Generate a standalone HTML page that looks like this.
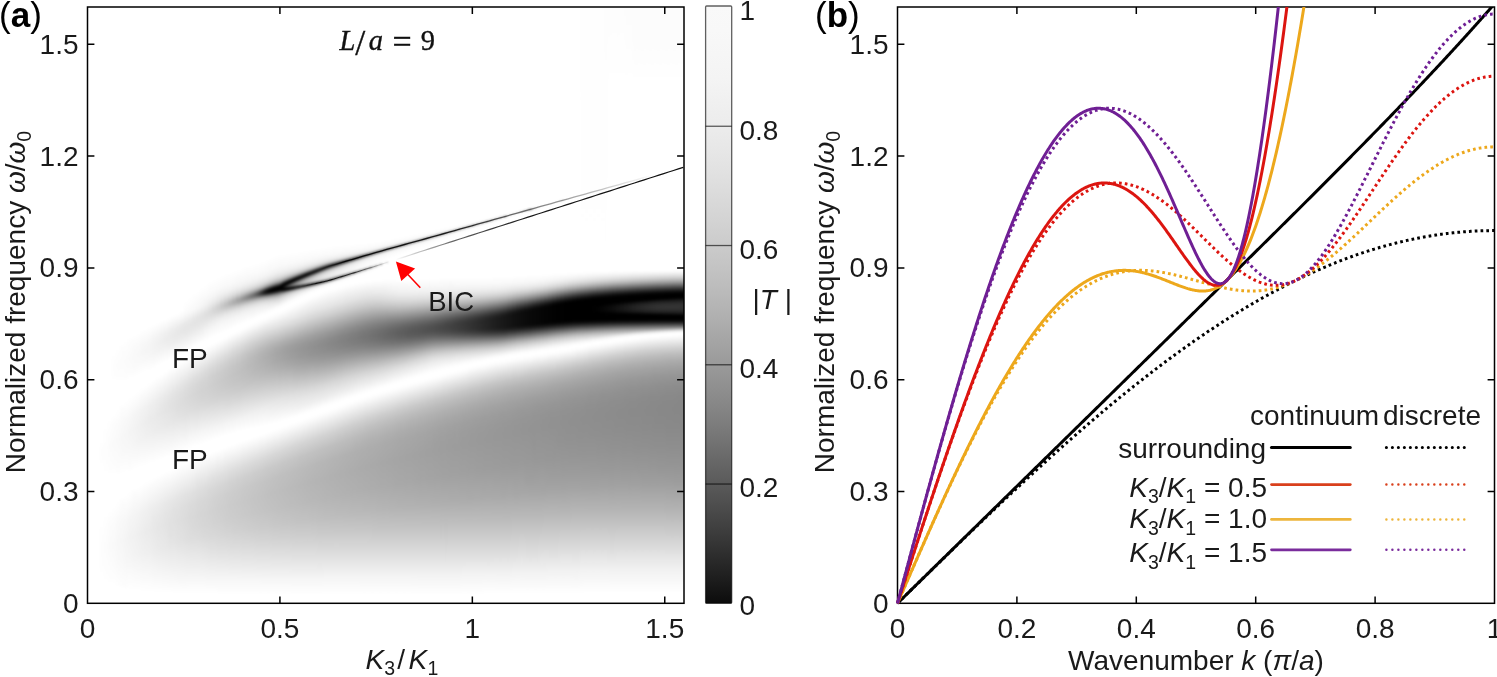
<!DOCTYPE html>
<html><head><meta charset="utf-8"><title>fig</title>
<style>
html,body{margin:0;padding:0;background:#fff;}
body{width:1497px;height:677px;position:relative;overflow:hidden;font-family:"Liberation Sans",sans-serif;}
#hmw{position:absolute;left:88px;top:7px;width:596px;height:596px;overflow:hidden;}
#hm{position:absolute;left:-6px;top:-6px;width:608px;height:608px;display:flex;filter:blur(0.9px);}
#hm i{display:block;flex:none;height:100%;}
svg{position:absolute;left:0;top:0;will-change:transform;}
text{font-family:"Liberation Sans",sans-serif;font-size:28px;fill:#1a1a1a;}
.it{font-style:italic;}
.sub{font-size:19.5px;}
.ser{font-family:"Liberation Serif",serif;font-style:italic;}
</style></head><body>
<div id="hmw"><div id="hm"><i style="width:10px;background:linear-gradient(#fff 1.069%,#fff 98.93%)"></i><i style="width:4px;background:linear-gradient(#fff 1.069%,#fff 98.93%)"></i><i style="width:4px;background:linear-gradient(#fff 1.069%,#fff 98.93%)"></i><i style="width:4px;background:linear-gradient(#fff 1.069%,#fff 72.62%,#fefefe 72.78%,#fdfdfd 74.26%,#fefefe 75.9%,#fff 76.07%,#fff 86.43%,#fefefe 86.6%,#fdfdfd 90.21%,#fefefe 93.83%,#fff 94%,#fff 98.93%)"></i><i style="width:4px;background:linear-gradient(#fff 1.069%,#fff 70.31%,#fefefe 70.48%,#fdfdfd 73.77%,#fefefe 77.22%,#fff 77.38%,#fff 84.79%,#fefefe 84.95%,#fcfcfc 89.88%,#fefefe 94.98%,#fff 95.15%,#fff 98.93%)"></i><i style="width:4px;background:linear-gradient(#fff 1.069%,#fff 69%,#fefefe 69.16%,#fbfbfb 73.27%,#fefefe 77.55%,#fff 77.71%,#fff 83.8%,#fcfcfc 85.77%,#fafafa 89.56%,#fefefe 95.48%,#fff 95.64%,#fff 98.93%)"></i><i style="width:4px;background:linear-gradient(#fff 1.069%,#fff 58.31%,#fefefe 58.47%,#fdfdfd 60.28%,#fefefe 62.09%,#fff 62.25%,#fff 68.01%,#fcfcfc 69.49%,#fafafa 72.78%,#fcfcfc 76.07%,#fff 77.88%,#fff 82.98%,#fbfbfb 85.94%,#f9f9f9 89.39%,#fbfbfb 92.85%,#fff 96.13%,#fff 98.93%)"></i><i style="width:4px;background:linear-gradient(#fff 1.069%,#fff 57.32%,#fefefe 57.48%,#fcfcfc 59.95%,#fefefe 62.25%,#fff 62.42%,#fff 67.19%,#fbfbfb 69.49%,#f9f9f9 72.29%,#fbfbfb 75.25%,#fdfdfd 77.55%,#fff 77.71%,#fff 82.32%,#f9f9f9 85.77%,#f7f7f7 89.06%,#f9f9f9 92.35%,#fefefe 96.13%,#fff 96.3%,#fff 98.93%)"></i><i style="width:4px;background:linear-gradient(#fff 1.069%,#fff 56.66%,#fdfdfd 56.83%,#fcfcfc 59.62%,#fefefe 62.25%,#fff 62.42%,#fff 66.53%,#fdfdfd 66.69%,#f9f9f9 69.33%,#f7f7f7 71.96%,#f9f9f9 74.59%,#fff 77.71%,#fff 81.83%,#fdfdfd 81.99%,#f8f8f8 85.44%,#f6f6f6 88.73%,#f8f8f8 92.02%,#fdfdfd 96.3%,#fff 96.46%,#fff 98.93%)"></i><i style="width:4px;background:linear-gradient(#fff 1.069%,#fff 56%,#fefefe 56.17%,#fbfbfb 59.13%,#fdfdfd 62.09%,#fff 62.25%,#fff 65.87%,#f8f8f8 69%,#f6f6f6 71.46%,#f8f8f8 73.93%,#fff 77.55%,#fff 81.17%,#f7f7f7 85.28%,#f4f4f4 88.57%,#f6f6f6 91.86%,#fdfdfd 96.46%,#fff 96.63%,#fff 98.93%)"></i><i style="width:4px;background:linear-gradient(#fff 1.069%,#fff 55.51%,#fdfdfd 55.67%,#fafafa 58.8%,#fcfcfc 60.77%,#fff 62.09%,#fff 65.21%,#f7f7f7 68.5%,#f4f4f4 70.97%,#f7f7f7 73.44%,#fdfdfd 77.06%,#fff 77.22%,#fff 80.67%,#f5f5f5 84.95%,#f2f2f2 88.24%,#f5f5f5 91.53%,#fff 96.79%,#fff 98.93%)"></i><i style="width:4px;background:linear-gradient(#fff 1.069%,#fff 55.02%,#fafafa 56.83%,#f9f9f9 58.47%,#fafafa 60.12%,#fff 61.92%,#fff 64.72%,#f5f5f5 68.17%,#f3f3f3 70.48%,#f5f5f5 72.94%,#fff 77.06%,#fff 80.35%,#fdfdfd 80.51%,#f4f4f4 84.62%,#f1f1f1 88.08%,#f3f3f3 91.2%,#fff 96.96%,#fff 98.93%)"></i><i style="width:4px;background:linear-gradient(#fff 1.069%,#fff 54.69%,#fafafa 56.5%,#f8f8f8 58.14%,#fafafa 59.79%,#fff 61.6%,#fff 64.23%,#f4f4f4 67.68%,#f1f1f1 70.15%,#f3f3f3 72.45%,#fff 76.89%,#fff 79.85%,#f3f3f3 84.29%,#efefef 87.75%,#f2f2f2 91.04%,#fff 96.96%,#fff 98.93%)"></i><i style="width:4px;background:linear-gradient(#fff 1.069%,#fff 54.19%,#f8f8f8 56.33%,#f6f6f6 57.81%,#f9f9f9 59.29%,#fff 61.27%,#fff 63.57%,#f2f2f2 67.35%,#efefef 69.65%,#f2f2f2 72.12%,#fff 76.56%,#fff 79.52%,#f1f1f1 84.13%,#ededed 87.58%,#f0f0f0 90.87%,#fff 97.12%,#fff 98.93%)"></i><i style="width:4px;background:linear-gradient(#fff 1.069%,#fff 53.87%,#f7f7f7 56.17%,#f5f5f5 57.48%,#f8f8f8 58.96%,#fff 60.94%,#fff 63.24%,#f1f1f1 66.86%,#ededed 69.33%,#f0f0f0 71.63%,#fff 76.4%,#fff 79.03%,#f0f0f0 83.8%,#ebebeb 87.25%,#efefef 90.71%,#fff 97.12%,#fff 98.93%)"></i><i style="width:4px;background:linear-gradient(#fff 1.069%,#fff 53.54%,#f6f6f6 55.84%,#f4f4f4 56.99%,#f6f6f6 58.31%,#fff 60.77%,#fff 62.75%,#efefef 66.53%,#ebebeb 68.83%,#efefef 71.3%,#fff 76.07%,#fff 78.7%,#eee 83.63%,#eaeaea 87.09%,#eee 90.54%,#fff 97.12%,#fff 98.93%)"></i><i style="width:4px;background:linear-gradient(#fff 1.069%,#fff 53.21%,#f4f4f4 55.51%,#f2f2f2 56.66%,#f4f4f4 57.98%,#fff 60.44%,#fff 62.25%,#eee 66.04%,#eaeaea 68.5%,#ededed 70.81%,#fff 75.9%,#fff 78.37%,#ededed 83.31%,#e9e9e9 85.12%,#e8e8e8 86.92%,#ececec 90.38%,#fff 97.29%,#fff 98.93%)"></i><i style="width:4px;background:linear-gradient(#fff 1.069%,#fff 52.88%,#f3f3f3 55.18%,#f0f0f0 56.33%,#f3f3f3 57.65%,#fff 59.95%,#fff 61.76%,#ececec 65.71%,#e8e8e8 68.01%,#ececec 70.48%,#fff 75.58%,#fff 78.04%,#ececec 82.98%,#e8e8e8 84.79%,#e6e6e6 86.6%,#eaeaea 90.05%,#fff 97.29%,#fff 98.93%)"></i><i style="width:4px;background:linear-gradient(#fff 1.069%,#fff 52.55%,#f1f1f1 54.85%,#eee 56%,#f2f2f2 57.32%,#fff 59.62%,#fff 61.43%,#ebebeb 65.21%,#e7e7e7 66.53%,#e6e6e6 67.68%,#eaeaea 69.98%,#fff 75.41%,#fff 77.71%,#eaeaea 82.81%,#e6e6e6 84.62%,#e5e5e5 86.43%,#e9e9e9 90.05%,#fff 97.29%,#fff 98.93%)"></i><i style="width:4px;background:linear-gradient(#fff 1.069%,#fff 52.38%,#f0f0f0 54.52%,#ececec 55.67%,#f0f0f0 56.83%,#fff 59.29%,#fff 60.94%,#e9e9e9 64.88%,#e5e5e5 66.2%,#e4e4e4 67.35%,#e9e9e9 69.82%,#fff 75.08%,#fff 77.38%,#e8e8e8 82.65%,#e4e4e4 84.46%,#e3e3e3 86.27%,#e8e8e8 89.88%,#fff 97.29%,#fff 98.93%)"></i><i style="width:4px;background:linear-gradient(#fff 1.069%,#fff 52.06%,#ededed 54.36%,#ebebeb 55.35%,#eee 56.5%,#fff 58.96%,#fff 60.44%,#e8e8e8 64.39%,#e3e3e3 65.71%,#e2e2e2 66.86%,#e7e7e7 69.33%,#fff 74.92%,#fff 77.22%,#e7e7e7 82.32%,#e3e3e3 84.13%,#e1e1e1 85.94%,#e2e2e2 87.75%,#e6e6e6 89.72%,#fff 97.29%,#fff 98.93%)"></i><i style="width:4px;background:linear-gradient(#fff 1.069%,#fff 51.73%,#ececec 54.03%,#e9e9e9 55.02%,#ededed 56.17%,#fff 58.63%,#fff 60.12%,#e6e6e6 64.06%,#e2e2e2 65.21%,#e0e0e0 66.53%,#e5e5e5 69%,#fff 74.59%,#fff 76.89%,#e6e6e6 81.99%,#e1e1e1 83.8%,#e0e0e0 85.77%,#e4e4e4 89.06%,#fff 97.45%,#fff 98.93%)"></i><i style="width:4px;background:linear-gradient(#fff 1.069%,#fff 51.4%,#f9f9f9 52.22%,#ececec 53.54%,#e7e7e7 54.52%,#ebebeb 55.67%,#fff 58.31%,#fff 59.62%,#e4e4e4 63.73%,#e0e0e0 64.88%,#dedede 66.2%,#dfdfdf 67.35%,#e4e4e4 68.67%,#fff 74.26%,#fff 76.56%,#e4e4e4 81.83%,#e0e0e0 83.63%,#dedede 85.61%,#e2e2e2 88.9%,#fff 97.45%,#fff 98.93%)"></i><i style="width:4px;background:linear-gradient(#fff 1.069%,#fff 50.9%,#f9f9f9 51.89%,#e9e9e9 53.37%,#e6e6e6 54.19%,#ebebeb 55.35%,#fff 57.98%,#fff 59.29%,#e3e3e3 63.24%,#dedede 64.56%,#dcdcdc 65.87%,#dedede 67.02%,#e2e2e2 68.34%,#f6f6f6 72.12%,#fff 74.1%,#fff 76.23%,#e3e3e3 81.5%,#dedede 83.47%,#ddd 85.44%,#e1e1e1 88.73%,#fff 97.45%,#fff 98.93%)"></i><i style="width:4px;background:linear-gradient(#fff 1.069%,#fff 49.42%,#fbfbfb 51.23%,#e8e8e8 53.04%,#e5e5e5 53.87%,#e9e9e9 54.85%,#fff 57.65%,#fff 58.96%,#e1e1e1 62.91%,#dcdcdc 64.06%,#dadada 65.38%,#dcdcdc 66.69%,#e0e0e0 68.01%,#fff 73.77%,#fff 76.07%,#e2e2e2 81.17%,#ddd 82.98%,#dbdbdb 85.12%,#dfdfdf 88.57%,#fff 97.45%,#fff 98.93%)"></i><i style="width:4px;background:linear-gradient(#fff 1.069%,#fff 48.77%,#fafafa 50.9%,#f6f6f6 51.4%,#e9e9e9 52.55%,#e5e5e5 53.37%,#e8e8e8 54.36%,#fff 57.32%,#fff 58.47%,#dfdfdf 62.58%,#dadada 63.73%,#d8d8d8 65.05%,#dadada 66.37%,#dfdfdf 67.68%,#f6f6f6 71.63%,#fff 73.6%,#fff 75.74%,#e1e1e1 81%,#dbdbdb 82.81%,#d9d9d9 84.95%,#dbdbdb 86.76%,#dedede 88.57%,#f9f9f9 95.64%,#fff 97.45%,#fff 98.93%)"></i><i style="width:4px;background:linear-gradient(#fff 1.069%,#fff 48.11%,#f9f9f9 50.58%,#f5f5f5 51.07%,#e7e7e7 52.22%,#e4e4e4 53.04%,#e8e8e8 54.03%,#fff 56.83%,#fff 58.14%,#dedede 62.09%,#d8d8d8 63.4%,#d6d6d6 64.72%,#d8d8d8 66.04%,#ddd 67.35%,#f5f5f5 71.3%,#fff 73.27%,#fff 75.41%,#dfdfdf 80.84%,#dadada 82.65%,#d8d8d8 84.79%,#d9d9d9 86.6%,#ddd 88.4%,#f9f9f9 95.64%,#fff 97.45%,#fff 98.93%)"></i><i style="width:4px;background:linear-gradient(#fff 1.069%,#fff 47.62%,#f8f8f8 50.25%,#f4f4f4 50.74%,#e6e6e6 51.89%,#e3e3e3 52.55%,#e7e7e7 53.54%,#fff 56.5%,#fff 57.81%,#ddd 61.76%,#d6d6d6 63.08%,#d4d4d4 64.39%,#d6d6d6 65.71%,#dbdbdb 67.02%,#f5f5f5 71.13%,#fff 73.11%,#fff 75.25%,#e5e5e5 79.19%,#dedede 80.51%,#d8d8d8 82.48%,#d6d6d6 84.62%,#d8d8d8 86.43%,#dcdcdc 88.24%,#f9f9f9 95.64%,#fff 97.45%,#fff 98.93%)"></i><i style="width:4px;background:linear-gradient(#fff 1.069%,#fff 47.12%,#f6f6f6 49.92%,#f2f2f2 50.41%,#e4e4e4 51.56%,#e2e2e2 52.06%,#e5e5e5 52.88%,#fff 56.17%,#fff 57.32%,#f8f8f8 58.31%,#e4e4e4 60.28%,#dbdbdb 61.43%,#d4d4d4 62.75%,#d2d2d2 64.06%,#d4d4d4 65.38%,#dadada 66.69%,#f6f6f6 70.97%,#fff 72.94%,#fff 74.92%,#e4e4e4 79.03%,#ddd 80.35%,#d7d7d7 82.15%,#d5d5d5 84.29%,#d6d6d6 86.1%,#dadada 88.08%,#f9f9f9 95.64%,#fff 97.45%,#fff 98.93%)"></i><i style="width:4px;background:linear-gradient(#fff 1.069%,#fff 46.63%,#fafafa 48.44%,#f5f5f5 49.42%,#f0f0f0 50.08%,#e1e1e1 51.23%,#dfdfdf 51.73%,#e3e3e3 52.38%,#f4f4f4 54.19%,#fff 55.84%,#fff 56.99%,#f7f7f7 57.98%,#e3e3e3 59.95%,#d9d9d9 61.1%,#d3d3d3 62.42%,#d1d1d1 63.73%,#d3d3d3 65.05%,#d8d8d8 66.37%,#f5f5f5 70.64%,#fff 72.62%,#fff 74.59%,#dcdcdc 80.02%,#d6d6d6 81.99%,#d4d4d4 84.13%,#d5d5d5 86.1%,#d9d9d9 88.08%,#f8f8f8 95.48%,#fff 97.45%,#fff 98.93%)"></i><i style="width:4px;background:linear-gradient(#fff 1.069%,#fff 46.13%,#fafafa 47.94%,#f5f5f5 48.93%,#ededed 49.75%,#dfdfdf 50.74%,#dcdcdc 51.23%,#dedede 51.73%,#efefef 53.21%,#f7f7f7 54.19%,#fff 55.51%,#fff 56.66%,#f8f8f8 57.48%,#e3e3e3 59.46%,#d8d8d8 60.61%,#d1d1d1 61.92%,#cfcfcf 63.4%,#d1d1d1 64.72%,#d6d6d6 66.04%,#f5f5f5 70.48%,#fff 72.45%,#fff 74.42%,#e2e2e2 78.54%,#d8d8d8 80.35%,#d4d4d4 81.99%,#d2d2d2 83.96%,#d4d4d4 85.94%,#d8d8d8 87.91%,#dfdfdf 89.88%,#f8f8f8 95.48%,#fff 97.45%,#fff 98.93%)"></i><i style="width:4px;background:linear-gradient(#fff 1.069%,#fff 45.81%,#fafafa 47.62%,#f4f4f4 48.6%,#ebebeb 49.42%,#dadada 50.41%,#d6d6d6 50.9%,#d8d8d8 51.23%,#ebebeb 52.55%,#f5f5f5 53.54%,#fff 55.18%,#fff 56.33%,#f6f6f6 57.32%,#e0e0e0 59.29%,#d7d7d7 60.28%,#cfcfcf 61.6%,#cdcdcd 63.08%,#cfcfcf 64.39%,#d5d5d5 65.87%,#f4f4f4 70.15%,#fff 72.12%,#fff 74.1%,#f7f7f7 75.41%,#e0e0e0 78.37%,#d7d7d7 80.18%,#d2d2d2 81.83%,#d1d1d1 83.8%,#d2d2d2 85.77%,#d7d7d7 87.75%,#dfdfdf 89.88%,#f8f8f8 95.48%,#fff 97.45%,#fff 98.93%)"></i><i style="width:4px;background:linear-gradient(#fff 1.069%,#fff 45.48%,#fafafa 47.29%,#f3f3f3 48.27%,#e9e9e9 49.1%,#d2d2d2 50.25%,#d0d0d0 50.58%,#d5d5d5 51.07%,#ebebeb 52.22%,#f4f4f4 53.04%,#fff 54.85%,#fff 56%,#f5f5f5 56.99%,#dedede 58.96%,#d5d5d5 59.95%,#cdcdcd 61.27%,#cbcbcb 62.75%,#cdcdcd 64.06%,#d3d3d3 65.54%,#f4f4f4 69.98%,#fff 71.96%,#fff 73.93%,#e0e0e0 78.04%,#d6d6d6 79.85%,#d1d1d1 81.5%,#cfcfcf 83.47%,#d1d1d1 85.61%,#d6d6d6 87.75%,#ddd 89.72%,#f8f8f8 95.48%,#fff 97.62%,#fff 98.93%)"></i><i style="width:4px;background:linear-gradient(#fff 1.069%,#fff 45.15%,#f9f9f9 47.12%,#f1f1f1 48.11%,#e4e4e4 48.93%,#cbcbcb 49.92%,#c8c8c8 50.25%,#cbcbcb 50.58%,#e6e6e6 51.73%,#f1f1f1 52.38%,#f8f8f8 53.21%,#fff 54.69%,#fff 55.67%,#f5f5f5 56.66%,#ddd 58.63%,#d1d1d1 59.95%,#cbcbcb 61.1%,#c9c9c9 62.42%,#cbcbcb 63.73%,#d2d2d2 65.21%,#f3f3f3 69.65%,#fff 71.63%,#fff 73.6%,#f7f7f7 74.92%,#dfdfdf 77.88%,#d5d5d5 79.69%,#d0d0d0 81.33%,#cecece 83.31%,#d0d0d0 85.44%,#d5d5d5 87.58%,#ddd 89.72%,#f8f8f8 95.48%,#fff 97.62%,#fff 98.93%)"></i><i style="width:4px;background:linear-gradient(#fff 1.069%,#fff 44.82%,#f9f9f9 46.79%,#f2f2f2 47.78%,#eaeaea 48.27%,#e4e4e4 48.6%,#c2c2c2 49.75%,#c0c0c0 50.08%,#c6c6c6 50.41%,#e4e4e4 51.4%,#ededed 51.89%,#f6f6f6 52.71%,#fff 54.36%,#fff 55.35%,#f4f4f4 56.33%,#dbdbdb 58.31%,#cfcfcf 59.62%,#c9c9c9 60.77%,#c7c7c7 62.09%,#c9c9c9 63.4%,#d0d0d0 64.88%,#dadada 66.37%,#f4f4f4 69.49%,#fff 71.46%,#fff 73.44%,#dfdfdf 77.55%,#d4d4d4 79.36%,#cecece 81.17%,#cdcdcd 83.14%,#cecece 85.28%,#d3d3d3 87.42%,#dcdcdc 89.56%,#f8f8f8 95.48%,#fff 97.62%,#fff 98.93%)"></i><i style="width:4px;background:linear-gradient(#fff 1.069%,#fff 44.65%,#f9f9f9 46.63%,#f4f4f4 47.29%,#eee 47.78%,#e0e0e0 48.44%,#d5d5d5 48.77%,#bcbcbc 49.42%,#b8b8b8 49.59%,#b6b6b6 49.75%,#b8b8b8 49.92%,#bcbcbc 50.08%,#dbdbdb 50.9%,#e4e4e4 51.23%,#ebebeb 51.56%,#f5f5f5 52.38%,#fff 54.03%,#fff 54.85%,#fbfbfb 55.35%,#dadada 57.98%,#cdcdcd 59.29%,#c7c7c7 60.44%,#c5c5c5 61.76%,#c7c7c7 63.08%,#cecece 64.56%,#d8d8d8 66.04%,#f4f4f4 69.33%,#fff 71.3%,#fff 73.11%,#f6f6f6 74.42%,#ddd 77.38%,#d2d2d2 79.19%,#cdcdcd 81%,#cbcbcb 82.98%,#cdcdcd 85.12%,#d3d3d3 87.42%,#dbdbdb 89.56%,#f7f7f7 95.31%,#fff 97.62%,#fff 98.93%)"></i><i style="width:4px;background:linear-gradient(#fff 1.069%,#fff 44.33%,#f9f9f9 46.3%,#f4f4f4 46.96%,#efefef 47.45%,#e1e1e1 48.11%,#d6d6d6 48.44%,#b1b1b1 49.26%,#aeaeae 49.42%,#adadad 49.59%,#b1b1b1 49.75%,#b7b7b7 49.92%,#cecece 50.41%,#dbdbdb 50.74%,#e9e9e9 51.23%,#f4f4f4 52.06%,#fff 53.7%,#fff 54.52%,#fbfbfb 55.02%,#d8d8d8 57.65%,#ccc 58.96%,#c5c5c5 60.12%,#c3c3c3 61.43%,#c5c5c5 62.75%,#ccc 64.23%,#d7d7d7 65.71%,#f4f4f4 69.16%,#fff 71.13%,#fff 72.94%,#f7f7f7 74.1%,#ddd 77.06%,#d2d2d2 78.87%,#ccc 80.67%,#cacaca 82.81%,#ccc 84.95%,#d1d1d1 87.25%,#dadada 89.39%,#f7f7f7 95.31%,#fff 97.62%,#fff 98.93%)"></i><i style="width:4px;background:linear-gradient(#fff 1.069%,#fff 44.16%,#f8f8f8 46.13%,#f4f4f4 46.79%,#ededed 47.29%,#e2e2e2 47.78%,#d7d7d7 48.11%,#c8c8c8 48.44%,#acacac 48.93%,#a6a6a6 49.1%,#a3a3a3 49.26%,#a5a5a5 49.42%,#aaa 49.59%,#c5c5c5 50.08%,#d5d5d5 50.41%,#e1e1e1 50.74%,#e9e9e9 51.07%,#f5f5f5 51.89%,#fff 53.37%,#fff 54.19%,#fbfbfb 54.69%,#d7d7d7 57.32%,#cacaca 58.63%,#c3c3c3 59.79%,#c1c1c1 61.1%,#c4c4c4 62.58%,#cbcbcb 64.06%,#d6d6d6 65.54%,#f3f3f3 68.83%,#fff 70.81%,#fff 72.62%,#f6f6f6 73.93%,#dcdcdc 76.89%,#d0d0d0 78.7%,#cbcbcb 80.51%,#c9c9c9 82.65%,#cbcbcb 84.95%,#d0d0d0 87.09%,#dadada 89.39%,#f7f7f7 95.31%,#fff 97.62%,#fff 98.93%)"></i><i style="width:2px;background:linear-gradient(#fff 1.069%,#fff 44%,#f7f7f7 46.13%,#f2f2f2 46.79%,#eaeaea 47.29%,#e1e1e1 47.62%,#d5d5d5 47.94%,#c5c5c5 48.27%,#a6a6a6 48.77%,#9e9e9e 48.93%,#9b9b9b 49.1%,#9d9d9d 49.26%,#a4a4a4 49.42%,#ccc 50.08%,#dbdbdb 50.41%,#e5e5e5 50.74%,#ececec 51.07%,#f3f3f3 51.56%,#fff 53.21%,#fff 54.03%,#fafafa 54.52%,#d7d7d7 56.99%,#c9c9c9 58.31%,#c2c2c2 59.46%,#bfbfbf 60.77%,#c2c2c2 62.25%,#c9c9c9 63.73%,#d4d4d4 65.21%,#f3f3f3 68.67%,#fff 70.81%,#fff 72.45%,#f7f7f7 73.6%,#dbdbdb 76.73%,#d0d0d0 78.54%,#cacaca 80.35%,#c8c8c8 82.48%,#cacaca 84.79%,#d0d0d0 87.09%,#d9d9d9 89.39%,#f7f7f7 95.31%,#fff 97.62%,#fff 98.93%)"></i><i style="width:2px;background:linear-gradient(#fff 1.069%,#fff 43.83%,#f8f8f8 45.97%,#f2f2f2 46.63%,#eaeaea 47.12%,#ddd 47.62%,#cfcfcf 47.94%,#c6c6c6 48.11%,#9b9b9b 48.77%,#959595 48.93%,#969696 49.1%,#9c9c9c 49.26%,#bdbdbd 49.75%,#d0d0d0 50.08%,#dedede 50.41%,#e7e7e7 50.74%,#eee 51.07%,#f4f4f4 51.56%,#fff 53.04%,#fff 53.87%,#fafafa 54.36%,#d7d7d7 56.83%,#c8c8c8 58.14%,#c0c0c0 59.29%,#bebebe 60.61%,#c1c1c1 62.09%,#c8c8c8 63.57%,#d4d4d4 65.05%,#f2f2f2 68.5%,#fff 70.64%,#fff 72.45%,#dbdbdb 76.56%,#cfcfcf 78.37%,#c9c9c9 80.18%,#c7c7c7 82.32%,#c9c9c9 84.62%,#cfcfcf 86.92%,#d8d8d8 89.23%,#f7f7f7 95.31%,#fff 97.62%,#fff 98.93%)"></i><i style="width:2px;background:linear-gradient(#fff 1.069%,#fff 43.67%,#f7f7f7 45.97%,#f1f1f1 46.63%,#e8e8e8 47.12%,#dfdfdf 47.45%,#d1d1d1 47.78%,#bdbdbd 48.11%,#989898 48.6%,#909090 48.77%,#8f8f8f 48.93%,#939393 49.1%,#9e9e9e 49.26%,#b7b7b7 49.59%,#ccc 49.92%,#d5d5d5 50.08%,#e1e1e1 50.41%,#eaeaea 50.74%,#f2f2f2 51.23%,#fff 52.88%,#fff 53.7%,#fafafa 54.19%,#d4d4d4 56.83%,#c5c5c5 58.14%,#bfbfbf 59.29%,#bdbdbd 60.44%,#c0c0c0 61.92%,#c7c7c7 63.4%,#d3d3d3 64.88%,#f2f2f2 68.34%,#fff 70.64%,#fff 72.29%,#f6f6f6 73.44%,#dbdbdb 76.4%,#cfcfcf 78.21%,#c9c9c9 80.02%,#c7c7c7 82.32%,#c9c9c9 84.62%,#cfcfcf 86.92%,#d8d8d8 89.23%,#f7f7f7 95.31%,#fff 97.62%,#fff 98.93%)"></i><i style="width:2px;background:linear-gradient(#fff 1.069%,#fff 43.67%,#f7f7f7 45.81%,#f1f1f1 46.46%,#e9e9e9 46.96%,#e0e0e0 47.29%,#d3d3d3 47.62%,#bfbfbf 47.94%,#979797 48.44%,#8c8c8c 48.6%,#888 48.77%,#8a8a8a 48.93%,#949494 49.1%,#bcbcbc 49.59%,#d1d1d1 49.92%,#d8d8d8 50.08%,#e4e4e4 50.41%,#ececec 50.74%,#f3f3f3 51.23%,#fff 52.71%,#fff 53.54%,#fafafa 54.03%,#d3d3d3 56.66%,#c4c4c4 57.98%,#bdbdbd 59.13%,#bbb 60.28%,#bfbfbf 61.76%,#c6c6c6 63.24%,#d2d2d2 64.72%,#f1f1f1 68.17%,#fff 70.48%,#fff 72.12%,#f7f7f7 73.27%,#dadada 76.4%,#cecece 78.21%,#c8c8c8 80.02%,#c6c6c6 82.15%,#c8c8c8 84.46%,#cecece 86.92%,#d8d8d8 89.23%,#f7f7f7 95.31%,#fff 97.62%,#fff 98.93%)"></i><i style="width:2px;background:linear-gradient(#fff 1.069%,#fff 43.5%,#f7f7f7 45.81%,#f0f0f0 46.46%,#e6e6e6 46.96%,#dcdcdc 47.29%,#ccc 47.62%,#b4b4b4 47.94%,#888 48.44%,#818181 48.6%,#818181 48.77%,#898989 48.93%,#b5b5b5 49.42%,#c1c1c1 49.59%,#d5d5d5 49.92%,#e2e2e2 50.25%,#eaeaea 50.58%,#f2f2f2 51.07%,#fff 52.55%,#fff 53.37%,#fafafa 53.87%,#d3d3d3 56.5%,#c3c3c3 57.81%,#bcbcbc 58.96%,#bababa 60.12%,#bdbdbd 61.43%,#c4c4c4 62.91%,#d0d0d0 64.39%,#f2f2f2 68.17%,#fff 70.48%,#fff 72.12%,#dbdbdb 76.07%,#cecece 78.04%,#c8c8c8 79.85%,#c6c6c6 82.15%,#c8c8c8 84.46%,#cecece 86.92%,#d8d8d8 89.23%,#f7f7f7 95.31%,#fff 97.62%,#fff 98.93%)"></i><i style="width:2px;background:linear-gradient(#fff 1.069%,#fff 43.34%,#fcfcfc 44.65%,#f8f8f8 45.48%,#f3f3f3 46.13%,#ebebeb 46.63%,#e3e3e3 46.96%,#d6d6d6 47.29%,#c3c3c3 47.62%,#a7a7a7 47.94%,#868686 48.27%,#7b7b7b 48.44%,#787878 48.6%,#7d7d7d 48.77%,#8b8b8b 48.93%,#acacac 49.26%,#c7c7c7 49.59%,#d1d1d1 49.75%,#dfdfdf 50.08%,#e9e9e9 50.41%,#f1f1f1 50.9%,#fff 52.55%,#fff 53.21%,#f8f8f8 53.87%,#d2d2d2 56.33%,#c3c3c3 57.65%,#bbb 58.63%,#b9b9b9 59.79%,#bcbcbc 61.27%,#c3c3c3 62.75%,#cfcfcf 64.23%,#f1f1f1 68.01%,#fff 70.31%,#fff 71.96%,#f6f6f6 73.11%,#dadada 76.07%,#cecece 77.88%,#c7c7c7 79.69%,#c5c5c5 81.99%,#c7c7c7 84.46%,#cdcdcd 86.76%,#d7d7d7 89.06%,#f7f7f7 95.31%,#fff 97.62%,#fff 98.93%)"></i><i style="width:2px;background:linear-gradient(#fff 1.069%,#fff 43.34%,#fbfbfb 44.65%,#f7f7f7 45.48%,#f1f1f1 46.13%,#e9e9e9 46.63%,#dfdfdf 46.96%,#d0d0d0 47.29%,#c6c6c6 47.45%,#b9b9b9 47.62%,#aaa 47.78%,#858585 48.11%,#767676 48.27%,#707070 48.44%,#727272 48.6%,#7d7d7d 48.77%,#a2a2a2 49.1%,#b3b3b3 49.26%,#c1c1c1 49.42%,#ccc 49.59%,#dcdcdc 49.92%,#e7e7e7 50.25%,#f0f0f0 50.74%,#fff 52.38%,#fff 53.04%,#f8f8f8 53.7%,#d2d2d2 56.17%,#c2c2c2 57.48%,#bababa 58.47%,#b8b8b8 59.62%,#bababa 61.1%,#c2c2c2 62.58%,#cecece 64.06%,#f0f0f0 67.85%,#fff 70.31%,#fff 71.79%,#f6f6f6 72.94%,#dadada 75.9%,#cdcdcd 77.71%,#c7c7c7 79.52%,#c4c4c4 81.83%,#c6c6c6 84.29%,#cdcdcd 86.76%,#d7d7d7 89.06%,#f7f7f7 95.31%,#fff 97.62%,#fff 98.93%)"></i><i style="width:2px;background:linear-gradient(#fff 1.069%,#fff 43.17%,#fbfbfb 44.65%,#f7f7f7 45.48%,#f0f0f0 46.13%,#e6e6e6 46.63%,#dbdbdb 46.96%,#c9c9c9 47.29%,#bcbcbc 47.45%,#acacac 47.62%,#717171 48.11%,#676767 48.27%,#666 48.44%,#6e6e6e 48.6%,#a9a9a9 49.1%,#b9b9b9 49.26%,#c6c6c6 49.42%,#d9d9d9 49.75%,#e5e5e5 50.08%,#efefef 50.58%,#fff 52.22%,#fff 52.88%,#f8f8f8 53.54%,#cfcfcf 56.17%,#bfbfbf 57.48%,#b8b8b8 58.47%,#b6b6b6 59.46%,#b8b8b8 60.77%,#c0c0c0 62.25%,#cdcdcd 63.9%,#f0f0f0 67.68%,#f7f7f7 68.67%,#fff 70.31%,#fff 71.63%,#fbfbfb 72.29%,#dadada 75.74%,#ccc 77.71%,#c6c6c6 79.52%,#c4c4c4 81.83%,#c6c6c6 84.29%,#ccc 86.76%,#d6d6d6 89.06%,#f7f7f7 95.31%,#fff 97.62%,#fff 98.93%)"></i><i style="width:2px;background:linear-gradient(#fff 1.069%,#fff 43.17%,#fbfbfb 44.65%,#f6f6f6 45.48%,#f1f1f1 45.97%,#e7e7e7 46.46%,#dcdcdc 46.79%,#cbcbcb 47.12%,#bfbfbf 47.29%,#afafaf 47.45%,#9c9c9c 47.62%,#6e6e6e 47.94%,#5d5d5d 48.11%,#5a5a5a 48.27%,#5d5d5d 48.44%,#6f6f6f 48.6%,#9d9d9d 48.93%,#b0b0b0 49.1%,#bfbfbf 49.26%,#cbcbcb 49.42%,#dcdcdc 49.75%,#e7e7e7 50.08%,#f1f1f1 50.58%,#fff 52.06%,#fff 52.71%,#f9f9f9 53.37%,#cdcdcd 56.17%,#bebebe 57.32%,#b7b7b7 58.31%,#b5b5b5 59.29%,#b7b7b7 60.61%,#bfbfbf 62.09%,#cacaca 63.57%,#efefef 67.52%,#fff 70.15%,#fff 71.63%,#f6f6f6 72.78%,#dadada 75.58%,#ccc 77.55%,#c6c6c6 79.36%,#c3c3c3 81.66%,#c5c5c5 84.13%,#ccc 86.6%,#d6d6d6 89.06%,#f7f7f7 95.31%,#fff 97.62%,#fff 98.93%)"></i><i style="width:2px;background:linear-gradient(#fff 1.069%,#fff 43.01%,#fafafa 44.65%,#f5f5f5 45.48%,#efefef 45.97%,#e4e4e4 46.46%,#d7d7d7 46.79%,#cecece 46.96%,#c2c2c2 47.12%,#b2b2b2 47.29%,#9f9f9f 47.45%,#545454 47.94%,#4b4b4b 48.11%,#4b4b4b 48.27%,#585858 48.44%,#8c8c8c 48.77%,#a3a3a3 48.93%,#b6b6b6 49.1%,#c4c4c4 49.26%,#d0d0d0 49.42%,#d9d9d9 49.59%,#e5e5e5 49.92%,#efefef 50.41%,#fff 51.89%,#fff 52.55%,#f9f9f9 53.21%,#cdcdcd 56%,#bdbdbd 57.15%,#b5b5b5 58.14%,#b3b3b3 59.13%,#b6b6b6 60.44%,#bdbdbd 61.92%,#c9c9c9 63.4%,#eee 67.35%,#f6f6f6 68.5%,#fff 70.15%,#fff 71.46%,#f6f6f6 72.62%,#d9d9d9 75.58%,#ccc 77.38%,#c5c5c5 79.36%,#c3c3c3 81.66%,#c5c5c5 84.13%,#cbcbcb 86.6%,#d5d5d5 88.9%,#f7f7f7 95.31%,#fff 97.62%,#fff 98.93%)"></i><i style="width:2px;background:linear-gradient(#fff 1.069%,#fff 42.85%,#fafafa 44.49%,#f5f5f5 45.31%,#efefef 45.81%,#e5e5e5 46.3%,#d8d8d8 46.63%,#cfcfcf 46.79%,#c4c4c4 46.96%,#b5b5b5 47.12%,#a1a1a1 47.29%,#898989 47.45%,#4c4c4c 47.78%,#3a3a3a 47.94%,#3a3a3a 48.11%,#3f3f3f 48.27%,#585858 48.44%,#777 48.6%,#939393 48.77%,#aaa 48.93%,#bbb 49.1%,#c9c9c9 49.26%,#d3d3d3 49.42%,#e2e2e2 49.75%,#eee 50.25%,#fff 51.73%,#fff 52.38%,#f9f9f9 53.04%,#cacaca 56%,#bbb 57.15%,#b4b4b4 57.98%,#b2b2b2 58.96%,#b4b4b4 60.28%,#bcbcbc 61.76%,#c8c8c8 63.24%,#eee 67.19%,#fff 69.98%,#fff 71.3%,#fafafa 71.96%,#dadada 75.25%,#ccc 77.22%,#c4c4c4 79.19%,#c2c2c2 81.5%,#c4c4c4 83.96%,#cbcbcb 86.6%,#d5d5d5 88.9%,#f6f6f6 95.15%,#fff 97.62%,#fff 98.93%)"></i><i style="width:2px;background:linear-gradient(#fff 1.069%,#fff 42.85%,#fafafa 44.49%,#f4f4f4 45.31%,#ededed 45.81%,#e0e0e0 46.3%,#d1d1d1 46.63%,#c6c6c6 46.79%,#b7b7b7 46.96%,#a4a4a4 47.12%,#8b8b8b 47.29%,#6c6c6c 47.45%,#484848 47.62%,#2d2d2d 47.78%,#292929 47.94%,#292929 48.11%,#3a3a3a 48.27%,#7e7e7e 48.6%,#9a9a9a 48.77%,#b0b0b0 48.93%,#c0c0c0 49.1%,#cdcdcd 49.26%,#dedede 49.59%,#ececec 50.08%,#fff 51.56%,#fff 52.38%,#f9f9f9 52.88%,#c8c8c8 56%,#bababa 56.99%,#b2b2b2 57.98%,#b0b0b0 58.8%,#b3b3b3 60.12%,#bbb 61.6%,#c7c7c7 63.08%,#ededed 67.02%,#f5f5f5 68.17%,#fff 69.98%,#fff 71.3%,#f5f5f5 72.45%,#d9d9d9 75.25%,#cbcbcb 77.22%,#c4c4c4 79.19%,#c2c2c2 81.5%,#c4c4c4 83.96%,#cbcbcb 86.6%,#d5d5d5 88.9%,#f6f6f6 95.15%,#fff 97.62%,#fff 98.93%)"></i><i style="width:2px;background:linear-gradient(#fff 1.069%,#fff 42.68%,#f9f9f9 44.49%,#f4f4f4 45.15%,#eee 45.64%,#e1e1e1 46.13%,#d2d2d2 46.46%,#c8c8c8 46.63%,#b9b9b9 46.79%,#a6a6a6 46.96%,#8e8e8e 47.12%,#6e6e6e 47.29%,#484848 47.45%,#252525 47.62%,#1a1a1a 47.78%,#1a1a1a 47.94%,#1f1f1f 48.11%,#3e3e3e 48.27%,#646464 48.44%,#868686 48.6%,#a0a0a0 48.77%,#b5b5b5 48.93%,#c4c4c4 49.1%,#d0d0d0 49.26%,#e0e0e0 49.59%,#ededed 50.08%,#fafafa 51.07%,#fff 51.56%,#fff 52.22%,#f7f7f7 52.88%,#c5c5c5 56%,#b8b8b8 56.99%,#b1b1b1 57.81%,#afafaf 58.8%,#b2b2b2 60.12%,#b9b9b9 61.43%,#c6c6c6 62.91%,#ececec 66.86%,#fff 69.82%,#fff 71.13%,#f6f6f6 72.29%,#d7d7d7 75.25%,#cacaca 77.06%,#c3c3c3 79.03%,#c1c1c1 81.33%,#c3c3c3 83.96%,#cacaca 86.43%,#d5d5d5 88.9%,#f6f6f6 95.15%,#fff 97.62%,#fff 98.93%)"></i><i style="width:2px;background:linear-gradient(#fff 1.069%,#fff 42.52%,#f9f9f9 44.33%,#f3f3f3 45.15%,#ebebeb 45.64%,#e2e2e2 45.97%,#dcdcdc 46.13%,#d4d4d4 46.3%,#c9c9c9 46.46%,#bbb 46.63%,#a9a9a9 46.79%,#919191 46.96%,#727272 47.12%,#252525 47.45%,#101010 47.62%,#0f0f0f 47.78%,#0f0f0f 47.94%,#212121 48.11%,#6d6d6d 48.44%,#8d8d8d 48.6%,#a6a6a6 48.77%,#b9b9b9 48.93%,#c8c8c8 49.1%,#d2d2d2 49.26%,#dbdbdb 49.42%,#e1e1e1 49.59%,#eaeaea 49.92%,#fafafa 50.9%,#fff 51.4%,#fff 52.06%,#f8f8f8 52.71%,#c3c3c3 56%,#b5b5b5 56.99%,#afafaf 57.81%,#adadad 58.63%,#b0b0b0 59.95%,#b8b8b8 61.27%,#c3c3c3 62.58%,#ebebeb 66.69%,#f4f4f4 67.85%,#fff 69.82%,#fff 70.97%,#fafafa 71.63%,#d9d9d9 74.92%,#cacaca 76.89%,#c3c3c3 78.87%,#c0c0c0 81.17%,#c3c3c3 83.8%,#cacaca 86.43%,#d5d5d5 88.9%,#f6f6f6 95.15%,#fff 97.62%,#fff 98.93%)"></i><i style="width:2px;background:linear-gradient(#fff 1.069%,#fff 42.35%,#f9f9f9 44.16%,#f3f3f3 44.98%,#ebebeb 45.48%,#ddd 45.97%,#cbcbcb 46.3%,#bebebe 46.46%,#acacac 46.63%,#969696 46.79%,#787878 46.96%,#535353 47.12%,#2b2b2b 47.29%,#0d0d0d 47.45%,#080808 47.62%,#080808 47.78%,#0d0d0d 47.94%,#2a2a2a 48.11%,#525252 48.27%,#777 48.44%,#959595 48.6%,#acacac 48.77%,#bebebe 48.93%,#cbcbcb 49.1%,#dcdcdc 49.42%,#e7e7e7 49.75%,#f9f9f9 50.74%,#fff 51.23%,#fff 51.89%,#f8f8f8 52.55%,#e1e1e1 54.03%,#c0c0c0 56%,#b5b5b5 56.83%,#aeaeae 57.65%,#acacac 58.47%,#afafaf 59.79%,#b6b6b6 61.1%,#c2c2c2 62.42%,#eaeaea 66.53%,#fff 69.65%,#fff 70.81%,#fbfbfb 71.46%,#d7d7d7 74.92%,#c9c9c9 76.89%,#c2c2c2 78.87%,#c0c0c0 81.17%,#c2c2c2 83.8%,#c9c9c9 86.27%,#d4d4d4 88.73%,#f6f6f6 95.15%,#fff 97.62%,#fff 98.93%)"></i><i style="width:2px;background:linear-gradient(#fff 1.069%,#fff 42.19%,#f8f8f8 44.16%,#f3f3f3 44.82%,#ececec 45.31%,#ddd 45.81%,#cdcdcd 46.13%,#c0c0c0 46.3%,#b0b0b0 46.46%,#9b9b9b 46.63%,#7f7f7f 46.79%,#5c5c5c 46.96%,#343434 47.12%,#111 47.29%,#050505 47.45%,#040404 47.62%,#050505 47.78%,#141414 47.94%,#383838 48.11%,#5f5f5f 48.27%,#828282 48.44%,#9d9d9d 48.6%,#b2b2b2 48.77%,#c2c2c2 48.93%,#cecece 49.1%,#dedede 49.42%,#e8e8e8 49.75%,#f8f8f8 50.58%,#fff 51.07%,#fff 51.73%,#f6f6f6 52.55%,#e0e0e0 54.03%,#bebebe 56%,#b2b2b2 56.83%,#acacac 57.65%,#aaa 58.31%,#adadad 59.62%,#b5b5b5 60.94%,#c0c0c0 62.25%,#e9e9e9 66.37%,#fff 69.65%,#fff 70.81%,#f5f5f5 71.96%,#d8d8d8 74.75%,#c9c9c9 76.73%,#c2c2c2 78.7%,#bfbfbf 81%,#c2c2c2 83.63%,#c9c9c9 86.27%,#d3d3d3 88.73%,#f6f6f6 95.15%,#fff 97.62%,#fff 98.93%)"></i><i style="width:2px;background:linear-gradient(#fff 1.069%,#fff 42.02%,#f9f9f9 44%,#f1f1f1 44.82%,#e9e9e9 45.31%,#dfdfdf 45.64%,#d8d8d8 45.81%,#cfcfcf 45.97%,#c3c3c3 46.13%,#b4b4b4 46.3%,#a1a1a1 46.46%,#878787 46.63%,#666 46.79%,#1b1b1b 47.12%,#040404 47.29%,#020202 47.45%,#020202 47.62%,#060606 47.78%,#202020 47.94%,#6c6c6c 48.27%,#8c8c8c 48.44%,#a4a4a4 48.6%,#b7b7b7 48.77%,#c5c5c5 48.93%,#d0d0d0 49.1%,#d9d9d9 49.26%,#e5e5e5 49.59%,#f7f7f7 50.41%,#fff 50.9%,#fff 51.56%,#f9f9f9 52.22%,#e3e3e3 53.7%,#b4b4b4 56.5%,#acacac 57.32%,#a9a9a9 58.14%,#ababab 59.46%,#b3b3b3 60.77%,#bfbfbf 62.09%,#e8e8e8 66.2%,#fff 69.49%,#fff 70.64%,#f5f5f5 71.79%,#d6d6d6 74.75%,#c9c9c9 76.56%,#c1c1c1 78.54%,#bfbfbf 81%,#c1c1c1 83.63%,#c8c8c8 86.27%,#d3d3d3 88.73%,#f6f6f6 95.15%,#fff 97.62%,#fff 98.93%)"></i><i style="width:2px;background:linear-gradient(#fff 1.069%,#fff 41.86%,#f9f9f9 43.83%,#f2f2f2 44.65%,#e9e9e9 45.15%,#e0e0e0 45.48%,#dadada 45.64%,#c7c7c7 45.97%,#b9b9b9 46.13%,#a7a7a7 46.3%,#909090 46.46%,#727272 46.63%,#282828 46.96%,#090909 47.12%,#010101 47.29%,#010101 47.45%,#010101 47.62%,#0f0f0f 47.78%,#303030 47.94%,#565656 48.11%,#797979 48.27%,#959595 48.44%,#acacac 48.6%,#bdbdbd 48.77%,#c9c9c9 48.93%,#dbdbdb 49.26%,#e6e6e6 49.59%,#f6f6f6 50.25%,#fff 50.74%,#fff 51.4%,#f9f9f9 52.06%,#e1e1e1 53.7%,#bfbfbf 55.67%,#b2b2b2 56.5%,#a9a9a9 57.32%,#a7a7a7 58.14%,#a9a9a9 59.29%,#b1b1b1 60.61%,#bdbdbd 61.92%,#e7e7e7 66.04%,#fff 69.49%,#fff 70.48%,#fafafa 71.13%,#d8d8d8 74.42%,#c9c9c9 76.4%,#c1c1c1 78.37%,#bebebe 80.84%,#c1c1c1 83.47%,#c7c7c7 86.1%,#d3d3d3 88.73%,#f6f6f6 95.15%,#fff 97.62%,#fff 98.93%)"></i><i style="width:2px;background:linear-gradient(#fff 1.069%,#fff 41.86%,#f9f9f9 43.67%,#f2f2f2 44.49%,#eaeaea 44.98%,#dcdcdc 45.48%,#cbcbcb 45.81%,#bebebe 45.97%,#aeaeae 46.13%,#999 46.3%,#7e7e7e 46.46%,#5c5c5c 46.63%,#373737 46.79%,#141414 46.96%,#010101 47.12%,#000 47.29%,#000 47.45%,#040404 47.62%,#1c1c1c 47.78%,#666 48.11%,#868686 48.27%,#9f9f9f 48.44%,#b3b3b3 48.6%,#c2c2c2 48.77%,#cecece 48.93%,#d7d7d7 49.1%,#e3e3e3 49.42%,#f5f5f5 50.08%,#fff 50.58%,#fff 51.23%,#f8f8f8 52.06%,#e0e0e0 53.7%,#b2b2b2 56.33%,#a9a9a9 57.15%,#a5a5a5 57.98%,#a8a8a8 59.29%,#b1b1b1 60.61%,#e6e6e6 65.87%,#fff 69.33%,#fff 70.48%,#f5f5f5 71.63%,#d6d6d6 74.42%,#c8c8c8 76.4%,#c0c0c0 78.37%,#bebebe 80.84%,#c0c0c0 83.47%,#c7c7c7 86.1%,#d2d2d2 88.57%,#f6f6f6 95.15%,#fff 97.62%,#fff 98.93%)"></i><i style="width:2px;background:linear-gradient(#fff 1.069%,#fff 41.69%,#f8f8f8 43.67%,#f1f1f1 44.49%,#e8e8e8 44.98%,#dfdfdf 45.31%,#d8d8d8 45.48%,#cfcfcf 45.64%,#c4c4c4 45.81%,#b6b6b6 45.97%,#a3a3a3 46.13%,#8b8b8b 46.3%,#6c6c6c 46.46%,#232323 46.79%,#070707 46.96%,#000 47.12%,#000 47.29%,#010101 47.45%,#0d0d0d 47.62%,#2d2d2d 47.78%,#535353 47.94%,#757575 48.11%,#929292 48.27%,#a9a9a9 48.44%,#bababa 48.6%,#c8c8c8 48.77%,#dadada 49.1%,#e5e5e5 49.42%,#f8f8f8 50.08%,#fff 50.58%,#fff 51.23%,#f8f8f8 51.89%,#e0e0e0 53.54%,#b0b0b0 56.33%,#a7a7a7 57.15%,#a4a4a4 57.98%,#a7a7a7 59.13%,#afafaf 60.44%,#bbb 61.76%,#e5e5e5 65.71%,#fff 69.33%,#fff 70.31%,#f5f5f5 71.46%,#d7d7d7 74.26%,#c8c8c8 76.23%,#c0c0c0 78.21%,#bdbdbd 80.67%,#c0c0c0 83.47%,#c7c7c7 86.1%,#d2d2d2 88.57%,#f6f6f6 95.15%,#fff 97.62%,#fff 98.93%)"></i><i style="width:2px;background:linear-gradient(#fff 1.069%,#fff 41.69%,#f9f9f9 43.5%,#f2f2f2 44.33%,#eaeaea 44.82%,#e1e1e1 45.15%,#dbdbdb 45.31%,#c8c8c8 45.64%,#bababa 45.81%,#a8a8a8 45.97%,#919191 46.13%,#737373 46.3%,#4f4f4f 46.46%,#262626 46.63%,#040404 46.79%,#000 47.12%,#030303 47.45%,#141414 47.62%,#676767 47.94%,#8a8a8a 48.11%,#a4a4a4 48.27%,#b7b7b7 48.44%,#c6c6c6 48.6%,#d1d1d1 48.77%,#dadada 48.93%,#e5e5e5 49.26%,#f8f8f8 49.92%,#fff 50.41%,#fff 51.07%,#f8f8f8 51.73%,#e1e1e1 53.37%,#b8b8b8 55.67%,#adadad 56.33%,#a5a5a5 57.15%,#a3a3a3 57.81%,#a5a5a5 58.96%,#adadad 60.28%,#b9b9b9 61.6%,#e4e4e4 65.54%,#fff 69.16%,#fff 70.15%,#fafafa 70.81%,#d7d7d7 74.1%,#c7c7c7 76.07%,#bfbfbf 78.04%,#bdbdbd 80.51%,#bfbfbf 83.31%,#c6c6c6 85.94%,#d2d2d2 88.57%,#f6f6f6 95.15%,#fff 97.62%,#fff 98.93%)"></i><i style="width:2px;background:linear-gradient(#fff 1.069%,#fff 41.69%,#f9f9f9 43.5%,#f1f1f1 44.33%,#e8e8e8 44.82%,#dcdcdc 45.15%,#d4d4d4 45.31%,#cacaca 45.48%,#bcbcbc 45.64%,#aaa 45.81%,#919191 45.97%,#717171 46.13%,#4a4a4a 46.3%,#1c1c1c 46.46%,#050505 46.63%,#020202 46.96%,#0b0b0b 47.12%,#020202 47.29%,#050505 47.45%,#151515 47.62%,#4a4a4a 47.78%,#777 47.94%,#999 48.11%,#b2b2b2 48.27%,#c3c3c3 48.44%,#d0d0d0 48.6%,#d9d9d9 48.77%,#e6e6e6 49.1%,#f8f8f8 49.75%,#fff 50.25%,#fff 50.9%,#f8f8f8 51.56%,#dfdfdf 53.37%,#adadad 56.17%,#a4a4a4 56.99%,#a1a1a1 57.81%,#a4a4a4 58.96%,#adadad 60.28%,#e3e3e3 65.38%,#fff 69%,#fff 69.98%,#fafafa 70.64%,#d7d7d7 73.93%,#c7c7c7 75.9%,#bfbfbf 77.88%,#bcbcbc 80.51%,#bfbfbf 83.31%,#c6c6c6 85.94%,#d2d2d2 88.57%,#f6f6f6 95.15%,#fff 97.62%,#fff 98.93%)"></i><i style="width:2px;background:linear-gradient(#fff 1.069%,#fff 41.53%,#f9f9f9 43.34%,#f2f2f2 44.16%,#e9e9e9 44.65%,#dfdfdf 44.98%,#d7d7d7 45.15%,#cdcdcd 45.31%,#bfbfbf 45.48%,#adadad 45.64%,#959595 45.81%,#747474 45.97%,#4b4b4b 46.13%,#1a1a1a 46.3%,#060606 46.46%,#040404 46.63%,#080808 46.79%,#202020 46.96%,#181818 47.12%,#040404 47.29%,#060606 47.45%,#252525 47.62%,#5f5f5f 47.78%,#8b8b8b 47.94%,#aaa 48.11%,#bfbfbf 48.27%,#cecece 48.44%,#d8d8d8 48.6%,#e0e0e0 48.77%,#f8f8f8 49.59%,#fff 50.08%,#fff 50.74%,#f7f7f7 51.56%,#ddd 53.37%,#b6b6b6 55.51%,#ababab 56.17%,#a2a2a2 56.99%,#a0a0a0 57.65%,#a2a2a2 58.8%,#ababab 60.12%,#b6b6b6 61.27%,#e2e2e2 65.21%,#fff 69%,#fff 69.98%,#f4f4f4 71.13%,#d7d7d7 73.77%,#c7c7c7 75.74%,#bfbfbf 77.71%,#bcbcbc 80.35%,#bebebe 83.14%,#c6c6c6 85.94%,#d2d2d2 88.57%,#f6f6f6 95.15%,#fff 97.62%,#fff 98.93%)"></i><i style="width:2px;background:linear-gradient(#fff 1.069%,#fff 41.53%,#f9f9f9 43.34%,#f3f3f3 44%,#ebebeb 44.49%,#e1e1e1 44.82%,#d0d0d0 45.15%,#c3c3c3 45.31%,#b2b2b2 45.48%,#9a9a9a 45.64%,#7a7a7a 45.81%,#505050 45.97%,#1d1d1d 46.13%,#080808 46.3%,#050505 46.46%,#0b0b0b 46.63%,#2e2e2e 46.79%,#363636 46.96%,#060606 47.29%,#080808 47.45%,#3f3f3f 47.62%,#787878 47.78%,#a0a0a0 47.94%,#bababa 48.11%,#cbcbcb 48.27%,#d7d7d7 48.44%,#e6e6e6 48.77%,#f9f9f9 49.42%,#fff 49.92%,#fff 50.58%,#f7f7f7 51.4%,#dedede 53.21%,#b6b6b6 55.35%,#a9a9a9 56.17%,#a0a0a0 56.99%,#9e9e9e 57.65%,#a1a1a1 58.8%,#aaa 60.12%,#e0e0e0 65.05%,#fff 68.83%,#fff 69.82%,#fafafa 70.48%,#d7d7d7 73.6%,#c6c6c6 75.74%,#bebebe 77.71%,#bbb 80.35%,#bebebe 83.14%,#c5c5c5 85.94%,#d1d1d1 88.4%,#f6f6f6 95.15%,#fff 97.62%,#fff 98.93%)"></i><i style="width:2px;background:linear-gradient(#fff 1.069%,#fff 41.53%,#f9f9f9 43.17%,#f2f2f2 44%,#e9e9e9 44.49%,#ddd 44.82%,#d4d4d4 44.98%,#c7c7c7 45.15%,#b7b7b7 45.31%,#a0a0a0 45.48%,#808080 45.64%,#575757 45.81%,#232323 45.97%,#090909 46.13%,#060606 46.3%,#0b0b0b 46.46%,#363636 46.63%,#4c4c4c 46.79%,#454545 46.96%,#1b1b1b 47.12%,#080808 47.29%,#121212 47.45%,#5c5c5c 47.62%,#919191 47.78%,#b2b2b2 47.94%,#c7c7c7 48.11%,#d5d5d5 48.27%,#dfdfdf 48.44%,#e5e5e5 48.6%,#f9f9f9 49.26%,#fff 49.75%,#fff 50.41%,#f7f7f7 51.23%,#dfdfdf 53.04%,#a9a9a9 56%,#a0a0a0 56.83%,#9d9d9d 57.65%,#a0a0a0 58.8%,#aaa 60.12%,#dfdfdf 64.88%,#ebebeb 66.2%,#f4f4f4 67.52%,#fff 68.67%,#fff 69.65%,#fafafa 70.31%,#d6d6d6 73.6%,#c6c6c6 75.58%,#bebebe 77.55%,#bbb 80.18%,#bdbdbd 82.98%,#c5c5c5 85.77%,#d1d1d1 88.4%,#f6f6f6 95.15%,#fff 97.62%,#fff 98.93%)"></i><i style="width:2px;background:linear-gradient(#fff 1.069%,#fff 41.37%,#f9f9f9 43.17%,#f3f3f3 43.83%,#eaeaea 44.33%,#dfdfdf 44.65%,#d7d7d7 44.82%,#ccc 44.98%,#bcbcbc 45.15%,#a6a6a6 45.31%,#888 45.48%,#5f5f5f 45.64%,#2c2c2c 45.81%,#0a0a0a 45.97%,#070707 46.13%,#080808 46.3%,#393939 46.46%,#585858 46.63%,#616161 46.79%,#4b4b4b 46.96%,#0f0f0f 47.12%,#0a0a0a 47.29%,#343434 47.45%,#7a7a7a 47.62%,#a7a7a7 47.78%,#c2c2c2 47.94%,#d3d3d3 48.11%,#ddd 48.27%,#e5e5e5 48.44%,#f9f9f9 49.1%,#fff 49.59%,#fff 50.25%,#f9f9f9 50.9%,#ebebeb 52.06%,#dadada 53.21%,#b5b5b5 55.18%,#a7a7a7 56%,#9e9e9e 56.83%,#9c9c9c 57.48%,#9e9e9e 58.63%,#a8a8a8 59.95%,#e0e0e0 64.88%,#fff 68.67%,#fff 69.49%,#fafafa 70.15%,#d6d6d6 73.44%,#c6c6c6 75.41%,#bdbdbd 77.55%,#bababa 80.18%,#bdbdbd 82.98%,#c4c4c4 85.77%,#d0d0d0 88.4%,#f6f6f6 95.15%,#fff 97.62%,#fff 98.93%)"></i><i style="width:2px;background:linear-gradient(#fff 1.069%,#fff 41.37%,#fafafa 43.01%,#f4f4f4 43.67%,#ececec 44.16%,#e2e2e2 44.49%,#dadada 44.65%,#d0d0d0 44.82%,#c1c1c1 44.98%,#adadad 45.15%,#909090 45.31%,#696969 45.48%,#363636 45.64%,#0b0b0b 45.81%,#060606 46.13%,#383838 46.3%,#5e5e5e 46.46%,#727272 46.63%,#6d6d6d 46.79%,#464646 46.96%,#090909 47.12%,#0c0c0c 47.29%,#595959 47.45%,#969696 47.62%,#bababa 47.78%,#cfcfcf 47.94%,#dcdcdc 48.11%,#e4e4e4 48.27%,#efefef 48.6%,#f8f8f8 48.93%,#fff 49.42%,#fff 50.08%,#f9f9f9 50.74%,#e9e9e9 52.06%,#d8d8d8 53.21%,#a7a7a7 55.84%,#9e9e9e 56.66%,#9a9a9a 57.48%,#9e9e9e 58.63%,#a6a6a6 59.79%,#b2b2b2 60.94%,#dedede 64.72%,#e9e9e9 65.87%,#f2f2f2 67.19%,#fff 68.5%,#fff 69.49%,#f4f4f4 70.64%,#d4d4d4 73.44%,#c5c5c5 75.41%,#bdbdbd 77.38%,#bababa 80.02%,#bdbdbd 82.98%,#c4c4c4 85.77%,#d0d0d0 88.4%,#f5f5f5 94.98%,#fff 97.62%,#fff 98.93%)"></i><i style="width:2px;background:linear-gradient(#fff 1.069%,#fff 41.37%,#f9f9f9 43.01%,#f5f5f5 43.5%,#eee 44%,#e5e5e5 44.33%,#ddd 44.49%,#d4d4d4 44.65%,#c6c6c6 44.82%,#b3b3b3 44.98%,#989898 45.15%,#737373 45.31%,#424242 45.48%,#0d0d0d 45.64%,#070707 45.97%,#606060 46.3%,#7b7b7b 46.46%,#838383 46.63%,#717171 46.79%,#383838 46.96%,#0b0b0b 47.12%,#282828 47.29%,#7c7c7c 47.45%,#aeaeae 47.62%,#c9c9c9 47.78%,#d9d9d9 47.94%,#e3e3e3 48.11%,#e9e9e9 48.27%,#f8f8f8 48.77%,#fff 49.26%,#fff 49.92%,#f9f9f9 50.58%,#eaeaea 51.89%,#d8d8d8 53.04%,#b3b3b3 55.02%,#a5a5a5 55.84%,#9c9c9c 56.66%,#999 57.48%,#9d9d9d 58.63%,#a5a5a5 59.79%,#b1b1b1 60.94%,#ddd 64.56%,#fff 68.5%,#fff 69.33%,#fafafa 69.98%,#d6d6d6 73.11%,#c5c5c5 75.25%,#bcbcbc 77.22%,#b9b9b9 79.85%,#bcbcbc 82.81%,#c3c3c3 85.61%,#cfcfcf 88.24%,#f5f5f5 94.98%,#fff 97.62%,#fff 98.93%)"></i><i style="width:2px;background:linear-gradient(#fff 1.069%,#fff 41.37%,#fafafa 42.85%,#f4f4f4 43.5%,#ececec 44%,#e0e0e0 44.33%,#d8d8d8 44.49%,#cbcbcb 44.65%,#bababa 44.82%,#a1a1a1 44.98%,#7d7d7d 45.15%,#4e4e4e 45.31%,#111 45.48%,#0b0b0b 45.64%,#080808 45.81%,#2f2f2f 45.97%,#5f5f5f 46.13%,#808080 46.3%,#919191 46.46%,#8e8e8e 46.63%,#6d6d6d 46.79%,#202020 46.96%,#0d0d0d 47.12%,#9b9b9b 47.45%,#c1c1c1 47.62%,#d5d5d5 47.78%,#e1e1e1 47.94%,#f4f4f4 48.44%,#fbfbfb 48.77%,#fff 49.1%,#fff 49.75%,#fbfbfb 50.25%,#e8e8e8 51.89%,#d6d6d6 53.04%,#a6a6a6 55.67%,#9c9c9c 56.5%,#989898 57.32%,#9b9b9b 58.47%,#a3a3a3 59.62%,#afafaf 60.77%,#dcdcdc 64.39%,#e7e7e7 65.54%,#f2f2f2 67.02%,#fff 68.34%,#fff 69.16%,#fafafa 69.82%,#d6d6d6 72.94%,#c5c5c5 75.08%,#bcbcbc 77.22%,#b9b9b9 79.85%,#bcbcbc 82.81%,#c3c3c3 85.61%,#cfcfcf 88.24%,#f5f5f5 94.98%,#fff 97.62%,#fff 98.93%)"></i><i style="width:2px;background:linear-gradient(#fff 1.069%,#fff 41.2%,#f9f9f9 42.85%,#f5f5f5 43.34%,#ededed 43.83%,#e3e3e3 44.16%,#dbdbdb 44.33%,#d0d0d0 44.49%,#c0c0c0 44.65%,#a8a8a8 44.82%,#878787 44.98%,#5a5a5a 45.15%,#1e1e1e 45.31%,#0c0c0c 45.48%,#090909 45.64%,#292929 45.81%,#5d5d5d 45.97%,#828282 46.13%,#989898 46.3%,#9f9f9f 46.46%,#929292 46.63%,#616161 46.79%,#0c0c0c 46.96%,#161616 47.12%,#7b7b7b 47.29%,#b3b3b3 47.45%,#cfcfcf 47.62%,#dedede 47.78%,#eee 48.11%,#f8f8f8 48.44%,#fff 48.93%,#fff 49.59%,#fbfbfb 50.08%,#e8e8e8 51.73%,#d7d7d7 52.88%,#b1b1b1 54.85%,#a4a4a4 55.67%,#9a9a9a 56.5%,#979797 57.32%,#9a9a9a 58.47%,#a3a3a3 59.62%,#afafaf 60.77%,#dcdcdc 64.39%,#e7e7e7 65.54%,#f1f1f1 66.86%,#fff 68.17%,#fff 69.16%,#f4f4f4 70.31%,#d5d5d5 72.94%,#c3c3c3 75.08%,#bbb 77.06%,#b8b8b8 79.69%,#bbb 82.65%,#c3c3c3 85.61%,#cfcfcf 88.24%,#f5f5f5 94.98%,#fff 97.62%,#fff 98.93%)"></i><i style="width:2px;background:linear-gradient(#fff 1.069%,#fff 41.2%,#fafafa 42.68%,#f6f6f6 43.17%,#efefef 43.67%,#e6e6e6 44%,#dedede 44.16%,#d4d4d4 44.33%,#c5c5c5 44.49%,#b0b0b0 44.65%,#919191 44.82%,#656565 44.98%,#2c2c2c 45.15%,#0e0e0e 45.31%,#0a0a0a 45.48%,#222 45.64%,#595959 45.81%,#828282 45.97%,#9c9c9c 46.13%,#a9a9a9 46.3%,#a8a8a8 46.46%,#8f8f8f 46.63%,#4a4a4a 46.79%,#0f0f0f 46.96%,#484848 47.12%,#9c9c9c 47.29%,#c6c6c6 47.45%,#dadada 47.62%,#e5e5e5 47.78%,#ededed 47.94%,#f7f7f7 48.27%,#fff 48.77%,#fff 49.42%,#fbfbfb 49.92%,#e8e8e8 51.56%,#d7d7d7 52.71%,#afafaf 54.85%,#a2a2a2 55.67%,#999 56.5%,#969696 57.32%,#999 58.47%,#a2a2a2 59.62%,#afafaf 60.77%,#dbdbdb 64.23%,#e6e6e6 65.38%,#f0f0f0 66.69%,#fff 68.01%,#fff 69%,#f4f4f4 70.15%,#d3d3d3 72.94%,#c3c3c3 74.92%,#bbb 77.06%,#b8b8b8 79.69%,#bbb 82.65%,#c2c2c2 85.44%,#cfcfcf 88.24%,#f5f5f5 94.98%,#fff 97.62%,#fff 98.93%)"></i><i style="width:2px;background:linear-gradient(#fff 1.069%,#fff 41.04%,#f9f9f9 42.68%,#f5f5f5 43.17%,#ededed 43.67%,#e1e1e1 44%,#d8d8d8 44.16%,#cacaca 44.33%,#b7b7b7 44.49%,#9a9a9a 44.65%,#717171 44.82%,#3a3a3a 44.98%,#0f0f0f 45.15%,#0c0c0c 45.31%,#1a1a1a 45.48%,#545454 45.64%,#808080 45.81%,#9e9e9e 45.97%,#afafaf 46.13%,#b5b5b5 46.3%,#ababab 46.46%,#848484 46.63%,#272727 46.79%,#111 46.96%,#757575 47.12%,#b5b5b5 47.29%,#d3d3d3 47.45%,#e2e2e2 47.62%,#f2f2f2 47.94%,#fafafa 48.27%,#fff 48.6%,#fff 49.42%,#e6e6e6 51.56%,#d5d5d5 52.71%,#b0b0b0 54.69%,#a2a2a2 55.51%,#989898 56.33%,#959595 57.15%,#989898 58.31%,#a1a1a1 59.46%,#adadad 60.61%,#dcdcdc 64.23%,#e7e7e7 65.38%,#f0f0f0 66.53%,#fff 68.01%,#fff 68.83%,#fafafa 69.49%,#d5d5d5 72.62%,#c3c3c3 74.75%,#bababa 76.89%,#b7b7b7 79.52%,#bababa 82.48%,#c2c2c2 85.44%,#cfcfcf 88.24%,#f5f5f5 94.98%,#fff 97.62%,#fff 98.93%)"></i><i style="width:2px;background:linear-gradient(#fff 1.069%,#fff 41.04%,#fafafa 42.52%,#f6f6f6 43.01%,#eee 43.5%,#e4e4e4 43.83%,#dbdbdb 44%,#cfcfcf 44.16%,#bebebe 44.33%,#a4a4a4 44.49%,#7d7d7d 44.65%,#484848 44.82%,#111 44.98%,#0d0d0d 45.15%,#101010 45.31%,#4e4e4e 45.48%,#7d7d7d 45.64%,#9d9d9d 45.81%,#b2b2b2 45.97%,#bcbcbc 46.13%,#bbb 46.3%,#a8a8a8 46.46%,#6e6e6e 46.63%,#101010 46.79%,#373737 46.96%,#9a9a9a 47.12%,#c8c8c8 47.29%,#ddd 47.45%,#e8e8e8 47.62%,#f0f0f0 47.78%,#fafafa 48.11%,#fff 48.44%,#fff 49.26%,#e7e7e7 51.4%,#d6d6d6 52.55%,#adadad 54.69%,#a0a0a0 55.51%,#979797 56.33%,#949494 57.15%,#979797 58.31%,#a0a0a0 59.46%,#adadad 60.61%,#dadada 64.06%,#e6e6e6 65.21%,#f0f0f0 66.53%,#fff 67.85%,#fff 68.67%,#fafafa 69.33%,#d4d4d4 72.62%,#c2c2c2 74.75%,#bababa 76.89%,#b7b7b7 79.52%,#bababa 82.48%,#c2c2c2 85.44%,#cfcfcf 88.24%,#f5f5f5 94.98%,#fff 97.62%,#fff 98.93%)"></i><i style="width:2px;background:linear-gradient(#fff 1.069%,#fff 41.04%,#f9f9f9 42.52%,#f5f5f5 43.01%,#ececec 43.5%,#dfdfdf 43.83%,#d4d4d4 44%,#c4c4c4 44.16%,#adadad 44.33%,#8a8a8a 44.49%,#585858 44.65%,#161616 44.82%,#0f0f0f 44.98%,#0b0b0b 45.15%,#464646 45.31%,#797979 45.48%,#9c9c9c 45.64%,#b3b3b3 45.81%,#c0c0c0 45.97%,#c4c4c4 46.13%,#bcbcbc 46.3%,#9e9e9e 46.46%,#4c4c4c 46.63%,#121212 46.79%,#6c6c6c 46.96%,#b5b5b5 47.12%,#d5d5d5 47.29%,#e5e5e5 47.45%,#efefef 47.62%,#f9f9f9 47.94%,#fff 48.27%,#fff 49.1%,#e7e7e7 51.23%,#d3d3d3 52.55%,#aeaeae 54.52%,#a0a0a0 55.35%,#969696 56.33%,#939393 57.15%,#979797 58.31%,#a0a0a0 59.46%,#ababab 60.44%,#d9d9d9 63.9%,#e5e5e5 65.05%,#f0f0f0 66.37%,#fff 67.68%,#fff 68.67%,#f4f4f4 69.82%,#d4d4d4 72.45%,#c2c2c2 74.59%,#b9b9b9 76.73%,#b6b6b6 79.36%,#b9b9b9 82.48%,#c2c2c2 85.44%,#cecece 88.08%,#f5f5f5 94.98%,#fff 97.62%,#fff 98.93%)"></i><i style="width:2px;background:linear-gradient(#fff 1.069%,#fff 40.87%,#fafafa 42.35%,#f6f6f6 42.85%,#eee 43.34%,#e2e2e2 43.67%,#d9d9d9 43.83%,#cbcbcb 44%,#b5b5b5 44.16%,#959595 44.33%,#676767 44.49%,#282828 44.65%,#101010 44.82%,#0d0d0d 44.98%,#3d3d3d 45.15%,#737373 45.31%,#999 45.48%,#b3b3b3 45.64%,#c2c2c2 45.81%,#c9c9c9 45.97%,#c8c8c8 46.13%,#b9b9b9 46.3%,#8a8a8a 46.46%,#1a1a1a 46.63%,#252525 46.79%,#979797 46.96%,#c9c9c9 47.12%,#e0e0e0 47.29%,#ececec 47.45%,#f4f4f4 47.62%,#f9f9f9 47.78%,#fff 48.11%,#fff 48.93%,#e7e7e7 51.07%,#d4d4d4 52.38%,#acacac 54.52%,#9f9f9f 55.35%,#959595 56.17%,#929292 56.99%,#959595 58.14%,#9e9e9e 59.29%,#acacac 60.44%,#dadada 63.9%,#e6e6e6 65.05%,#efefef 66.2%,#fff 67.68%,#fff 68.5%,#f9f9f9 69.16%,#d4d4d4 72.29%,#c2c2c2 74.42%,#b9b9b9 76.56%,#b6b6b6 79.19%,#b9b9b9 82.32%,#c1c1c1 85.28%,#cecece 88.08%,#f5f5f5 94.98%,#fff 97.62%,#fff 98.93%)"></i><i style="width:2px;background:linear-gradient(#fff 1.069%,#fff 40.87%,#f9f9f9 42.35%,#f5f5f5 42.85%,#ebebeb 43.34%,#e5e5e5 43.5%,#ddd 43.67%,#d0d0d0 43.83%,#bebebe 44%,#a1a1a1 44.16%,#777 44.33%,#3b3b3b 44.49%,#121212 44.65%,#0e0e0e 44.82%,#323232 44.98%,#6c6c6c 45.15%,#969696 45.31%,#b2b2b2 45.48%,#c3c3c3 45.64%,#cdcdcd 45.81%,#cfcfcf 45.97%,#c9c9c9 46.13%,#b0b0b0 46.3%,#696969 46.46%,#131313 46.63%,#b6b6b6 46.96%,#d8d8d8 47.12%,#e9e9e9 47.29%,#f2f2f2 47.45%,#f8f8f8 47.62%,#fff 47.94%,#fff 48.77%,#e8e8e8 50.9%,#d5d5d5 52.22%,#9f9f9f 55.18%,#949494 56.17%,#919191 56.99%,#949494 58.14%,#9e9e9e 59.29%,#aaa 60.28%,#d9d9d9 63.73%,#e5e5e5 64.88%,#eee 66.04%,#fff 67.52%,#fff 68.34%,#fafafa 69%,#d5d5d5 72.12%,#c2c2c2 74.26%,#b9b9b9 76.4%,#b5b5b5 79.19%,#b8b8b8 82.32%,#c1c1c1 85.28%,#cecece 88.08%,#f5f5f5 94.98%,#fff 97.62%,#fff 98.93%)"></i><i style="width:2px;background:linear-gradient(#fff 1.069%,#fff 40.87%,#fafafa 42.19%,#f6f6f6 42.68%,#ededed 43.17%,#e1e1e1 43.5%,#d6d6d6 43.67%,#c5c5c5 43.83%,#acacac 44%,#868686 44.16%,#141414 44.49%,#101010 44.65%,#252525 44.82%,#646464 44.98%,#919191 45.15%,#b0b0b0 45.31%,#c3c3c3 45.48%,#cecece 45.64%,#d4d4d4 45.81%,#d2d2d2 45.97%,#c6c6c6 46.13%,#9e9e9e 46.3%,#373737 46.46%,#181818 46.63%,#959595 46.79%,#ccc 46.96%,#e4e4e4 47.12%,#f0f0f0 47.29%,#f7f7f7 47.45%,#fbfbfb 47.62%,#fff 47.94%,#fff 48.6%,#e6e6e6 50.9%,#d3d3d3 52.22%,#ababab 54.36%,#9d9d9d 55.18%,#939393 56.17%,#909090 56.99%,#949494 58.14%,#9e9e9e 59.29%,#d7d7d7 63.57%,#e4e4e4 64.72%,#efefef 66.04%,#fff 67.35%,#fff 68.34%,#f5f5f5 69.33%,#d3d3d3 72.12%,#c1c1c1 74.26%,#b8b8b8 76.4%,#b5b5b5 79.03%,#b8b8b8 82.15%,#c0c0c0 85.28%,#cecece 88.08%,#f5f5f5 94.98%,#fff 97.62%,#fff 98.93%)"></i><i style="width:2px;background:linear-gradient(#fff 1.069%,#fff 40.71%,#fafafa 42.02%,#f5f5f5 42.68%,#ebebeb 43.17%,#e4e4e4 43.34%,#dbdbdb 43.5%,#ccc 43.67%,#b6b6b6 43.83%,#949494 44%,#606060 44.16%,#1a1a1a 44.33%,#111 44.49%,#181818 44.65%,#5b5b5b 44.82%,#8c8c8c 44.98%,#adadad 45.15%,#c3c3c3 45.31%,#cfcfcf 45.48%,#d6d6d6 45.64%,#d8d8d8 45.81%,#d2d2d2 45.97%,#bebebe 46.13%,#818181 46.3%,#151515 46.46%,#5c5c5c 46.63%,#b7b7b7 46.79%,#dcdcdc 46.96%,#ededed 47.12%,#f6f6f6 47.29%,#fafafa 47.45%,#fff 47.78%,#fff 48.44%,#fbfbfb 48.93%,#e5e5e5 50.9%,#d1d1d1 52.22%,#ababab 54.19%,#9e9e9e 55.02%,#929292 56%,#8f8f8f 56.83%,#929292 57.98%,#9c9c9c 59.13%,#a8a8a8 60.12%,#d8d8d8 63.57%,#e5e5e5 64.72%,#efefef 65.87%,#f9f9f9 66.69%,#fff 67.35%,#fff 68.17%,#f9f9f9 68.83%,#d3d3d3 71.96%,#c1c1c1 74.1%,#b8b8b8 76.23%,#b4b4b4 79.03%,#b8b8b8 82.15%,#c0c0c0 85.12%,#cdcdcd 87.91%,#f5f5f5 94.98%,#fff 97.62%,#fff 98.93%)"></i><i style="width:2px;background:linear-gradient(#fff 1.069%,#fff 40.71%,#fafafa 42.02%,#f4f4f4 42.68%,#ededed 43.01%,#e7e7e7 43.17%,#dfdfdf 43.34%,#d2d2d2 43.5%,#bfbfbf 43.67%,#a0a0a0 43.83%,#717171 44%,#2e2e2e 44.16%,#131313 44.33%,#0f0f0f 44.49%,#515151 44.65%,#878787 44.82%,#ababab 44.98%,#c2c2c2 45.15%,#d0d0d0 45.31%,#d8d8d8 45.48%,#dcdcdc 45.64%,#dadada 45.81%,#d0d0d0 45.97%,#b0b0b0 46.13%,#545454 46.3%,#171717 46.46%,#919191 46.63%,#cfcfcf 46.79%,#e8e8e8 46.96%,#f4f4f4 47.12%,#fafafa 47.29%,#fff 47.62%,#fff 48.27%,#fbfbfb 48.77%,#e5e5e5 50.74%,#d2d2d2 52.06%,#a9a9a9 54.19%,#9c9c9c 55.02%,#919191 56%,#8e8e8e 56.83%,#929292 57.98%,#9c9c9c 59.13%,#a8a8a8 60.12%,#d7d7d7 63.4%,#e4e4e4 64.56%,#eee 65.71%,#fff 67.19%,#fff 68.01%,#fafafa 68.67%,#d4d4d4 71.79%,#c1c1c1 73.93%,#b7b7b7 76.07%,#b4b4b4 78.87%,#b7b7b7 81.99%,#bfbfbf 85.12%,#ccc 87.91%,#f5f5f5 94.98%,#fff 97.62%,#fff 98.93%)"></i><i style="width:2px;background:linear-gradient(#fff 1.069%,#fff 40.71%,#fbfbfb 41.86%,#f7f7f7 42.35%,#efefef 42.85%,#e3e3e3 43.17%,#d8d8d8 43.34%,#c7c7c7 43.5%,#acacac 43.67%,#828282 43.83%,#434343 44%,#151515 44.16%,#111 44.33%,#464646 44.49%,#808080 44.65%,#a7a7a7 44.82%,#c0c0c0 44.98%,#d0d0d0 45.15%,#d9d9d9 45.31%,#dedede 45.48%,#dfdfdf 45.64%,#dadada 45.81%,#cacaca 45.97%,#979797 46.13%,#171717 46.3%,#505050 46.46%,#b9b9b9 46.63%,#e1e1e1 46.79%,#f1f1f1 46.96%,#f8f8f8 47.12%,#fff 47.45%,#fff 48.27%,#e6e6e6 50.58%,#d3d3d3 51.89%,#9c9c9c 54.85%,#919191 55.84%,#8d8d8d 56.66%,#909090 57.81%,#9a9a9a 58.96%,#a6a6a6 59.95%,#d8d8d8 63.4%,#e3e3e3 64.39%,#efefef 65.71%,#fff 67.02%,#fff 67.85%,#fafafa 68.5%,#d2d2d2 71.79%,#c0c0c0 73.93%,#b7b7b7 76.07%,#b4b4b4 78.87%,#b7b7b7 81.99%,#bfbfbf 85.12%,#ccc 87.91%,#f5f5f5 94.98%,#fff 97.62%,#fff 98.93%)"></i><i style="width:2px;background:linear-gradient(#fff 1.069%,#fff 40.54%,#fafafa 41.86%,#f4f4f4 42.52%,#ececec 42.85%,#e6e6e6 43.01%,#ddd 43.17%,#cecece 43.34%,#b7b7b7 43.5%,#919191 43.67%,#585858 43.83%,#171717 44%,#121212 44.16%,#393939 44.33%,#787878 44.49%,#a3a3a3 44.65%,#bfbfbf 44.82%,#d0d0d0 44.98%,#dadada 45.15%,#e0e0e0 45.31%,#e2e2e2 45.48%,#e1e1e1 45.64%,#d8d8d8 45.81%,#bdbdbd 45.97%,#6e6e6e 46.13%,#181818 46.3%,#909090 46.46%,#d4d4d4 46.63%,#ededed 46.79%,#f7f7f7 46.96%,#fff 47.29%,#fff 48.11%,#e5e5e5 50.58%,#d1d1d1 51.89%,#a8a8a8 54.03%,#9a9a9a 54.85%,#8f8f8f 55.84%,#8c8c8c 56.66%,#909090 57.81%,#9a9a9a 58.96%,#a7a7a7 59.95%,#d7d7d7 63.24%,#e4e4e4 64.39%,#eee 65.54%,#fff 66.86%,#fff 67.85%,#f3f3f3 69%,#d2d2d2 71.63%,#c0c0c0 73.77%,#b6b6b6 75.9%,#b3b3b3 78.7%,#b6b6b6 81.99%,#bfbfbf 85.12%,#ccc 87.91%,#f5f5f5 94.98%,#fff 97.62%,#fff 98.93%)"></i><i style="width:2px;background:linear-gradient(#fff 1.069%,#fff 40.54%,#fbfbfb 41.69%,#f5f5f5 42.35%,#efefef 42.68%,#e9e9e9 42.85%,#e1e1e1 43.01%,#d5d5d5 43.17%,#c1c1c1 43.34%,#a0a0a0 43.5%,#6d6d6d 43.67%,#222 43.83%,#141414 44%,#2a2a2a 44.16%,#6e6e6e 44.33%,#9e9e9e 44.49%,#bcbcbc 44.65%,#cfcfcf 44.82%,#dadada 44.98%,#e1e1e1 45.15%,#e4e4e4 45.31%,#e4e4e4 45.48%,#e0e0e0 45.64%,#d2d2d2 45.81%,#a7a7a7 45.97%,#2d2d2d 46.13%,#4a4a4a 46.3%,#bebebe 46.46%,#e6e6e6 46.63%,#f4f4f4 46.79%,#fafafa 46.96%,#fff 47.29%,#fff 47.94%,#e6e6e6 50.41%,#d2d2d2 51.73%,#a6a6a6 54.03%,#999 54.85%,#8e8e8e 55.84%,#8b8b8b 56.66%,#8e8e8e 57.65%,#989898 58.8%,#a5a5a5 59.79%,#d8d8d8 63.24%,#e3e3e3 64.23%,#eee 65.38%,#f9f9f9 66.2%,#fff 66.86%,#fff 67.68%,#f9f9f9 68.34%,#d3d3d3 71.46%,#c0c0c0 73.6%,#b6b6b6 75.9%,#b3b3b3 78.7%,#b6b6b6 81.83%,#bebebe 84.95%,#ccc 87.91%,#f5f5f5 94.98%,#fff 97.62%,#fff 98.93%)"></i><i style="width:2px;background:linear-gradient(#fff 1.069%,#fff 40.54%,#fafafa 41.69%,#f4f4f4 42.35%,#ececec 42.68%,#e5e5e5 42.85%,#dbdbdb 43.01%,#cacaca 43.17%,#afafaf 43.34%,#818181 43.5%,#3d3d3d 43.67%,#161616 43.83%,#171717 44%,#626262 44.16%,#979797 44.33%,#b8b8b8 44.49%,#cdcdcd 44.65%,#dadada 44.82%,#e1e1e1 44.98%,#e6e6e6 45.15%,#e7e7e7 45.31%,#e5e5e5 45.48%,#dedede 45.64%,#c6c6c6 45.81%,#7f7f7f 45.97%,#1a1a1a 46.13%,#969696 46.3%,#dadada 46.46%,#f0f0f0 46.63%,#f9f9f9 46.79%,#fff 47.12%,#fff 47.78%,#fbfbfb 48.27%,#e5e5e5 50.41%,#d0d0d0 51.73%,#a7a7a7 53.87%,#999 54.69%,#8e8e8e 55.67%,#8a8a8a 56.5%,#8e8e8e 57.65%,#989898 58.8%,#a5a5a5 59.79%,#d7d7d7 63.08%,#e2e2e2 64.06%,#ededed 65.21%,#fff 66.69%,#fff 67.52%,#fafafa 68.17%,#d1d1d1 71.46%,#bfbfbf 73.6%,#b6b6b6 75.74%,#b2b2b2 78.54%,#b5b5b5 81.83%,#bebebe 84.95%,#ccc 87.91%,#f5f5f5 94.82%,#fff 97.62%,#fff 98.93%)"></i><i style="width:2px;background:linear-gradient(#fff 1.069%,#fff 40.38%,#fafafa 41.69%,#f5f5f5 42.19%,#efefef 42.52%,#e9e9e9 42.68%,#e0e0e0 42.85%,#d2d2d2 43.01%,#bbb 43.17%,#959595 43.34%,#585858 43.5%,#181818 43.67%,#141414 43.83%,#8d8d8d 44.16%,#b3b3b3 44.33%,#cbcbcb 44.49%,#d9d9d9 44.65%,#e1e1e1 44.82%,#e6e6e6 44.98%,#e9e9e9 45.15%,#e8e8e8 45.31%,#e4e4e4 45.48%,#d7d7d7 45.64%,#b0b0b0 45.81%,#383838 45.97%,#545454 46.13%,#c7c7c7 46.3%,#ebebeb 46.46%,#f7f7f7 46.63%,#fff 46.96%,#fff 47.78%,#e5e5e5 50.25%,#d2d2d2 51.56%,#a5a5a5 53.87%,#979797 54.69%,#8c8c8c 55.67%,#898989 56.5%,#8c8c8c 57.48%,#979797 58.63%,#a4a4a4 59.62%,#d6d6d6 62.91%,#e2e2e2 63.9%,#eee 65.21%,#fff 66.53%,#fff 67.52%,#f5f5f5 68.5%,#d2d2d2 71.3%,#bfbfbf 73.44%,#b5b5b5 75.74%,#b2b2b2 78.54%,#b5b5b5 81.83%,#bebebe 84.95%,#ccc 87.91%,#f5f5f5 94.82%,#fff 97.62%,#fff 98.93%)"></i><i style="width:2px;background:linear-gradient(#fff 1.069%,#fff 40.38%,#fbfbfb 41.53%,#f7f7f7 42.02%,#f1f1f1 42.35%,#ececec 42.52%,#e5e5e5 42.68%,#dadada 42.85%,#c7c7c7 43.01%,#a8a8a8 43.17%,#737373 43.34%,#242424 43.5%,#151515 43.67%,#3c3c3c 43.83%,#808080 44%,#acacac 44.16%,#c7c7c7 44.33%,#d7d7d7 44.49%,#e1e1e1 44.65%,#e6e6e6 44.82%,#eaeaea 45.15%,#e8e8e8 45.31%,#e1e1e1 45.48%,#cbcbcb 45.64%,#828282 45.81%,#202020 45.97%,#a6a6a6 46.13%,#e1e1e1 46.3%,#f4f4f4 46.46%,#fbfbfb 46.63%,#fff 46.96%,#fff 47.62%,#e4e4e4 50.25%,#d0d0d0 51.56%,#a6a6a6 53.7%,#989898 54.52%,#8c8c8c 55.51%,#888 56.33%,#8b8b8b 57.32%,#959595 58.47%,#a4a4a4 59.62%,#d7d7d7 62.91%,#e3e3e3 63.9%,#eee 65.05%,#fbfbfb 66.04%,#fff 66.53%,#fff 67.35%,#f9f9f9 68.01%,#d2d2d2 71.13%,#bfbfbf 73.27%,#b5b5b5 75.58%,#b1b1b1 78.37%,#b5b5b5 81.66%,#bdbdbd 84.79%,#cbcbcb 87.75%,#f5f5f5 94.82%,#fff 97.62%,#fff 98.93%)"></i><i style="width:2px;background:linear-gradient(#fff 1.069%,#fff 40.38%,#fafafa 41.53%,#f6f6f6 42.02%,#efefef 42.35%,#e9e9e9 42.52%,#e0e0e0 42.68%,#d2d2d2 42.85%,#b9b9b9 43.01%,#8e8e8e 43.17%,#484848 43.34%,#171717 43.5%,#202020 43.67%,#6e6e6e 43.83%,#a2a2a2 44%,#c2c2c2 44.16%,#d4d4d4 44.33%,#dfdfdf 44.49%,#e6e6e6 44.65%,#ececec 44.98%,#ebebeb 45.15%,#e7e7e7 45.31%,#d9d9d9 45.48%,#afafaf 45.64%,#2b2b2b 45.81%,#717171 45.97%,#d3d3d3 46.13%,#efefef 46.3%,#f9f9f9 46.46%,#fff 46.79%,#fff 47.45%,#fbfbfb 47.94%,#e5e5e5 50.08%,#d1d1d1 51.4%,#a4a4a4 53.7%,#969696 54.52%,#8a8a8a 55.51%,#878787 56.33%,#8a8a8a 57.32%,#959595 58.47%,#a2a2a2 59.46%,#d6d6d6 62.75%,#fff 66.37%,#fff 67.19%,#f9f9f9 67.85%,#d0d0d0 71.13%,#bebebe 73.27%,#b4b4b4 75.41%,#b1b1b1 78.21%,#b4b4b4 81.5%,#bdbdbd 84.79%,#cbcbcb 87.75%,#f5f5f5 94.82%,#fff 97.62%,#fff 98.93%)"></i><i style="width:2px;background:linear-gradient(#fff 1.069%,#fff 40.21%,#fbfbfb 41.37%,#f7f7f7 41.86%,#f2f2f2 42.19%,#ededed 42.35%,#e6e6e6 42.52%,#dadada 42.68%,#c7c7c7 42.85%,#a5a5a5 43.01%,#6b6b6b 43.17%,#191919 43.34%,#151515 43.5%,#949494 43.83%,#bababa 44%,#d0d0d0 44.16%,#ddd 44.33%,#e5e5e5 44.49%,#ececec 44.82%,#ededed 44.98%,#eaeaea 45.15%,#e2e2e2 45.31%,#c9c9c9 45.48%,#747474 45.64%,#282828 45.81%,#bdbdbd 45.97%,#e9e9e9 46.13%,#f7f7f7 46.3%,#fff 46.63%,#fff 47.45%,#e6e6e6 49.92%,#cfcfcf 51.4%,#a2a2a2 53.7%,#949494 54.52%,#898989 55.51%,#868686 56.33%,#8a8a8a 57.32%,#959595 58.47%,#a3a3a3 59.46%,#d5d5d5 62.58%,#e1e1e1 63.57%,#eee 64.88%,#fff 66.2%,#fff 67.02%,#fafafa 67.68%,#d1d1d1 70.97%,#bebebe 73.11%,#b4b4b4 75.41%,#b1b1b1 78.21%,#b4b4b4 81.5%,#bdbdbd 84.79%,#cbcbcb 87.75%,#f5f5f5 94.82%,#fff 97.62%,#fff 98.93%)"></i><i style="width:2px;background:linear-gradient(#fff 1.069%,#fff 40.21%,#fbfbfb 41.37%,#f6f6f6 41.86%,#f0f0f0 42.19%,#eaeaea 42.35%,#e1e1e1 42.52%,#d2d2d2 42.68%,#b8b8b8 42.85%,#8a8a8a 43.01%,#3d3d3d 43.17%,#171717 43.34%,#383838 43.5%,#828282 43.67%,#b1b1b1 43.83%,#ccc 44%,#dbdbdb 44.16%,#e4e4e4 44.33%,#eaeaea 44.49%,#eee 44.82%,#ededed 44.98%,#e8e8e8 45.15%,#d9d9d9 45.31%,#a7a7a7 45.48%,#1d1d1d 45.64%,#979797 45.81%,#dfdfdf 45.97%,#f4f4f4 46.13%,#fbfbfb 46.3%,#fff 46.63%,#fff 47.29%,#fbfbfb 47.78%,#e4e4e4 49.92%,#d0d0d0 51.23%,#a3a3a3 53.54%,#949494 54.36%,#898989 55.35%,#858585 56.17%,#888 57.15%,#939393 58.31%,#a1a1a1 59.29%,#d6d6d6 62.58%,#e2e2e2 63.57%,#eee 64.72%,#f9f9f9 65.54%,#fff 66.2%,#fff 67.02%,#fafafa 67.52%,#d1d1d1 70.81%,#bebebe 72.94%,#b3b3b3 75.25%,#b0b0b0 78.04%,#b3b3b3 81.33%,#bcbcbc 84.62%,#cacaca 87.58%,#f5f5f5 94.82%,#fff 97.62%,#fff 98.93%)"></i><i style="width:2px;background:linear-gradient(#fff 1.069%,#fff 40.21%,#fafafa 41.37%,#f8f8f8 41.69%,#f2f2f2 42.02%,#eee 42.19%,#e7e7e7 42.35%,#dbdbdb 42.52%,#c7c7c7 42.68%,#a3a3a3 42.85%,#646464 43.01%,#181818 43.17%,#161616 43.34%,#6c6c6c 43.5%,#a5a5a5 43.67%,#c6c6c6 43.83%,#d8d8d8 44%,#e3e3e3 44.16%,#e9e9e9 44.33%,#efefef 44.65%,#efefef 44.82%,#ececec 44.98%,#e3e3e3 45.15%,#c6c6c6 45.31%,#5b5b5b 45.48%,#595959 45.64%,#d0d0d0 45.81%,#efefef 45.97%,#f9f9f9 46.13%,#fff 46.46%,#fff 47.29%,#e5e5e5 49.75%,#cecece 51.23%,#a0a0a0 53.54%,#929292 54.36%,#878787 55.35%,#848484 56.17%,#888 57.15%,#919191 58.14%,#9f9f9f 59.13%,#c6c6c6 61.43%,#d7d7d7 62.58%,#fff 66.04%,#fff 66.86%,#f9f9f9 67.52%,#d1d1d1 70.64%,#c6c6c6 71.79%,#bdbdbd 72.94%,#b3b3b3 75.25%,#b0b0b0 78.04%,#b3b3b3 81.33%,#bcbcbc 84.62%,#cacaca 87.58%,#f5f5f5 94.82%,#fff 97.62%,#fff 98.93%)"></i><i style="width:2px;background:linear-gradient(#fff 1.069%,#fff 40.21%,#fbfbfb 41.2%,#f7f7f7 41.69%,#f1f1f1 42.02%,#ebebeb 42.19%,#e2e2e2 42.35%,#d3d3d3 42.52%,#b8b8b8 42.68%,#858585 42.85%,#313131 43.01%,#161616 43.17%,#505050 43.34%,#959595 43.5%,#bebebe 43.67%,#d4d4d4 43.83%,#e1e1e1 44%,#e8e8e8 44.16%,#ededed 44.33%,#f0f0f0 44.65%,#efefef 44.82%,#e9e9e9 44.98%,#d8d8d8 45.15%,#9b9b9b 45.31%,#202020 45.48%,#b6b6b6 45.64%,#e8e8e8 45.81%,#f7f7f7 45.97%,#fff 46.3%,#fff 47.12%,#e4e4e4 49.75%,#cfcfcf 51.07%,#a1a1a1 53.37%,#939393 54.19%,#878787 55.18%,#838383 56%,#868686 56.99%,#919191 58.14%,#a0a0a0 59.13%,#c5c5c5 61.27%,#d6d6d6 62.42%,#fff 65.87%,#fff 66.69%,#f9f9f9 67.35%,#d1d1d1 70.48%,#c6c6c6 71.63%,#bdbdbd 72.78%,#b3b3b3 75.08%,#afafaf 77.88%,#b3b3b3 81.33%,#bcbcbc 84.62%,#cacaca 87.58%,#f5f5f5 94.82%,#fff 97.62%,#fff 98.93%)"></i><i style="width:2px;background:linear-gradient(#fff 1.069%,#fff 40.21%,#fbfbfb 41.2%,#f8f8f8 41.53%,#f3f3f3 41.86%,#efefef 42.02%,#e8e8e8 42.19%,#dcdcdc 42.35%,#c8c8c8 42.52%,#a1a1a1 42.68%,#181818 43.01%,#2d2d2d 43.17%,#818181 43.34%,#b4b4b4 43.5%,#cfcfcf 43.67%,#dedede 43.83%,#e7e7e7 44%,#ececec 44.16%,#f1f1f1 44.49%,#f0f0f0 44.65%,#ededed 44.82%,#e4e4e4 44.98%,#c2c2c2 45.15%,#3a3a3a 45.31%,#898989 45.48%,#dedede 45.64%,#f3f3f3 45.81%,#fafafa 45.97%,#fff 46.3%,#fff 47.12%,#e5e5e5 49.59%,#cecece 51.07%,#9f9f9f 53.37%,#919191 54.19%,#858585 55.18%,#828282 56%,#868686 56.99%,#909090 57.98%,#9e9e9e 58.96%,#d5d5d5 62.25%,#e2e2e2 63.24%,#eee 64.39%,#fff 65.71%,#fff 66.69%,#f4f4f4 67.68%,#d0d0d0 70.48%,#bdbdbd 72.62%,#b2b2b2 74.92%,#afafaf 77.88%,#b2b2b2 81.33%,#bcbcbc 84.62%,#cacaca 87.58%,#f5f5f5 94.82%,#fff 97.62%,#fff 98.93%)"></i><i style="width:2px;background:linear-gradient(#fff 1.069%,#fff 40.05%,#fafafa 41.2%,#f5f5f5 41.69%,#ececec 42.02%,#e4e4e4 42.19%,#d4d4d4 42.35%,#b7b7b7 42.52%,#808080 42.68%,#232323 42.85%,#151515 43.01%,#676767 43.17%,#a6a6a6 43.34%,#c9c9c9 43.5%,#dbdbdb 43.67%,#e6e6e6 43.83%,#ececec 44%,#f0f0f0 44.16%,#f2f2f2 44.49%,#f0f0f0 44.65%,#eaeaea 44.82%,#d8d8d8 44.98%,#3e3e3e 45.31%,#cecece 45.48%,#efefef 45.64%,#f9f9f9 45.81%,#fff 46.13%,#fff 46.96%,#e4e4e4 49.59%,#cfcfcf 50.9%,#a0a0a0 53.21%,#919191 54.03%,#858585 55.02%,#818181 55.84%,#848484 56.83%,#8e8e8e 57.81%,#9c9c9c 58.8%,#c5c5c5 61.1%,#d7d7d7 62.25%,#e3e3e3 63.24%,#ededed 64.23%,#f9f9f9 65.05%,#fff 65.71%,#fff 66.53%,#fafafa 67.02%,#d0d0d0 70.31%,#bdbdbd 72.45%,#b2b2b2 74.75%,#afafaf 77.71%,#b2b2b2 81.17%,#bbb 84.46%,#cacaca 87.58%,#f5f5f5 94.82%,#fff 97.62%,#fff 98.93%)"></i><i style="width:2px;background:linear-gradient(#fff 1.069%,#fff 40.05%,#fbfbfb 41.04%,#f7f7f7 41.53%,#f0f0f0 41.86%,#e9e9e9 42.02%,#dedede 42.19%,#c8c8c8 42.35%,#9f9f9f 42.52%,#525252 42.68%,#171717 42.85%,#464646 43.01%,#959595 43.17%,#c1c1c1 43.34%,#d8d8d8 43.5%,#e4e4e4 43.67%,#ebebeb 43.83%,#efefef 44%,#f3f3f3 44.33%,#f2f2f2 44.49%,#efefef 44.65%,#e4e4e4 44.82%,#bbb 44.98%,#1d1d1d 45.15%,#b0b0b0 45.31%,#e9e9e9 45.48%,#f7f7f7 45.64%,#fff 45.97%,#fff 46.79%,#fbfbfb 47.29%,#e4e4e4 49.42%,#cdcdcd 50.9%,#9e9e9e 53.21%,#8f8f8f 54.03%,#838383 55.02%,#808080 55.84%,#848484 56.83%,#8e8e8e 57.81%,#9d9d9d 58.8%,#c3c3c3 60.94%,#d6d6d6 62.09%,#fff 65.54%,#fff 66.37%,#f9f9f9 67.02%,#d0d0d0 70.15%,#c5c5c5 71.3%,#bcbcbc 72.45%,#b1b1b1 74.75%,#aeaeae 77.55%,#b1b1b1 81%,#bbb 84.46%,#c9c9c9 87.42%,#f5f5f5 94.82%,#fff 97.62%,#fff 98.93%)"></i><i style="width:2px;background:linear-gradient(#fff 1.069%,#fff 40.05%,#fbfbfb 41.04%,#f6f6f6 41.53%,#eee 41.86%,#e5e5e5 42.02%,#d5d5d5 42.19%,#b7b7b7 42.35%,#7b7b7b 42.52%,#191919 42.68%,#1e1e1e 42.85%,#7e7e7e 43.01%,#b6b6b6 43.17%,#d3d3d3 43.34%,#e2e2e2 43.5%,#eaeaea 43.67%,#efefef 43.83%,#f3f3f3 44.16%,#f2f2f2 44.49%,#ececec 44.65%,#d6d6d6 44.82%,#717171 44.98%,#7b7b7b 45.15%,#dedede 45.31%,#f4f4f4 45.48%,#fafafa 45.64%,#fff 45.97%,#fff 46.79%,#e3e3e3 49.42%,#cecece 50.74%,#9c9c9c 53.21%,#8d8d8d 54.03%,#828282 55.02%,#7f7f7f 55.84%,#838383 56.83%,#8e8e8e 57.81%,#9e9e9e 58.8%,#c5c5c5 60.94%,#d5d5d5 61.92%,#e0e0e0 62.75%,#eee 64.06%,#fff 65.38%,#fff 66.2%,#f9f9f9 66.86%,#d1d1d1 69.98%,#c5c5c5 71.13%,#bcbcbc 72.29%,#b1b1b1 74.59%,#aeaeae 77.55%,#b1b1b1 81%,#bbb 84.46%,#c9c9c9 87.42%,#f5f5f5 94.82%,#fff 97.62%,#fff 98.93%)"></i><i style="width:2px;background:linear-gradient(#fff 1.069%,#fff 40.05%,#fbfbfb 41.04%,#f5f5f5 41.53%,#f1f1f1 41.69%,#ebebeb 41.86%,#dfdfdf 42.02%,#c9c9c9 42.19%,#9d9d9d 42.35%,#484848 42.52%,#171717 42.68%,#a8a8a8 43.01%,#ccc 43.17%,#dfdfdf 43.34%,#e9e9e9 43.5%,#efefef 43.67%,#f4f4f4 44%,#f4f4f4 44.33%,#f0f0f0 44.49%,#e5e5e5 44.65%,#b2b2b2 44.82%,#242424 44.98%,#cdcdcd 45.15%,#f0f0f0 45.31%,#f9f9f9 45.48%,#fff 45.81%,#fff 46.63%,#fbfbfb 47.12%,#e4e4e4 49.26%,#ccc 50.74%,#9d9d9d 53.04%,#8e8e8e 53.87%,#828282 54.85%,#7e7e7e 55.67%,#828282 56.66%,#8c8c8c 57.65%,#9c9c9c 58.63%,#c3c3c3 60.77%,#d6d6d6 61.92%,#e3e3e3 62.91%,#ededed 63.9%,#f9f9f9 64.72%,#fff 65.38%,#fff 66.2%,#f4f4f4 67.19%,#cfcfcf 69.98%,#bcbcbc 72.12%,#b1b1b1 74.42%,#adadad 77.38%,#b1b1b1 80.84%,#bababa 84.29%,#c9c9c9 87.42%,#f5f5f5 94.82%,#fff 97.62%,#fff 98.93%)"></i><i style="width:2px;background:linear-gradient(#fff 1.069%,#fff 40.05%,#fbfbfb 40.87%,#f7f7f7 41.37%,#efefef 41.69%,#e7e7e7 41.86%,#d7d7d7 42.02%,#b7b7b7 42.19%,#767676 42.35%,#191919 42.52%,#393939 42.68%,#949494 42.85%,#c4c4c4 43.01%,#dbdbdb 43.17%,#e7e7e7 43.34%,#eee 43.5%,#f2f2f2 43.67%,#f5f5f5 44%,#f3f3f3 44.33%,#ededed 44.49%,#d4d4d4 44.65%,#4b4b4b 44.82%,#adadad 44.98%,#eaeaea 45.15%,#f7f7f7 45.31%,#fbfbfb 45.48%,#fff 45.81%,#fff 46.63%,#e3e3e3 49.26%,#cecece 50.58%,#9a9a9a 53.04%,#8c8c8c 53.87%,#808080 54.85%,#7d7d7d 55.67%,#808080 56.5%,#8a8a8a 57.48%,#999 58.47%,#c2c2c2 60.61%,#d5d5d5 61.76%,#e2e2e2 62.75%,#fff 65.21%,#fff 66.04%,#fafafa 66.53%,#cfcfcf 69.82%,#c4c4c4 70.97%,#bbb 72.12%,#b0b0b0 74.42%,#adadad 77.38%,#b0b0b0 80.84%,#bababa 84.29%,#c9c9c9 87.42%,#f5f5f5 94.82%,#fff 97.62%,#fff 98.93%)"></i><i style="width:2px;background:linear-gradient(#fff 1.069%,#fff 40.05%,#fbfbfb 40.87%,#f6f6f6 41.37%,#f2f2f2 41.53%,#ececec 41.69%,#e1e1e1 41.86%,#cbcbcb 42.02%,#9b9b9b 42.19%,#3c3c3c 42.35%,#161616 42.52%,#797979 42.68%,#b8b8b8 42.85%,#d6d6d6 43.01%,#e5e5e5 43.17%,#ededed 43.34%,#f4f4f4 43.67%,#f6f6f6 44%,#f5f5f5 44.16%,#f2f2f2 44.33%,#e5e5e5 44.49%,#a3a3a3 44.65%,#6f6f6f 44.82%,#e0e0e0 44.98%,#f4f4f4 45.15%,#fafafa 45.31%,#fff 45.64%,#fff 46.63%,#e4e4e4 49.1%,#ccc 50.58%,#9c9c9c 52.88%,#8c8c8c 53.7%,#808080 54.69%,#7c7c7c 55.51%,#7f7f7f 56.5%,#8a8a8a 57.48%,#9a9a9a 58.47%,#c3c3c3 60.61%,#d4d4d4 61.6%,#e2e2e2 62.58%,#eee 63.73%,#fff 65.05%,#fff 65.87%,#fbfbfb 66.37%,#cfcfcf 69.65%,#c4c4c4 70.81%,#bbb 71.96%,#b0b0b0 74.26%,#adadad 77.22%,#b0b0b0 80.84%,#bababa 84.29%,#c9c9c9 87.42%,#f5f5f5 94.82%,#fff 97.62%,#fff 98.93%)"></i><i style="width:2px;background:linear-gradient(#fff 1.069%,#fff 39.88%,#fbfbfb 40.87%,#f8f8f8 41.2%,#f0f0f0 41.53%,#e8e8e8 41.69%,#d9d9d9 41.86%,#b8b8b8 42.02%,#6f6f6f 42.19%,#181818 42.35%,#555 42.52%,#a8a8a8 42.68%,#d0d0d0 42.85%,#e2e2e2 43.01%,#ececec 43.17%,#f4f4f4 43.5%,#f7f7f7 43.83%,#f5f5f5 44.16%,#eee 44.33%,#d0d0d0 44.49%,#202020 44.65%,#cfcfcf 44.82%,#f1f1f1 44.98%,#f9f9f9 45.15%,#fff 45.48%,#fff 46.46%,#e3e3e3 49.1%,#cacaca 50.58%,#999 52.88%,#8a8a8a 53.7%,#7e7e7e 54.69%,#7b7b7b 55.51%,#7e7e7e 56.33%,#888 57.32%,#989898 58.31%,#c1c1c1 60.44%,#d5d5d5 61.6%,#f9f9f9 64.39%,#fff 65.05%,#fff 65.71%,#f9f9f9 66.37%,#d0d0d0 69.49%,#c4c4c4 70.64%,#bbb 71.79%,#b4b4b4 72.94%,#afafaf 74.26%,#acacac 77.22%,#b0b0b0 80.67%,#b9b9b9 84.13%,#c8c8c8 87.25%,#f5f5f5 94.82%,#fff 97.62%,#fff 98.93%)"></i><i style="width:2px;background:linear-gradient(#fff 1.069%,#fff 39.88%,#fcfcfc 40.71%,#f9f9f9 41.04%,#f3f3f3 41.37%,#eee 41.53%,#e3e3e3 41.69%,#ccc 41.86%,#999 42.02%,#2d2d2d 42.19%,#252525 42.35%,#919191 42.52%,#c7c7c7 42.68%,#dfdfdf 42.85%,#eaeaea 43.01%,#f0f0f0 43.17%,#f6f6f6 43.5%,#f8f8f8 43.83%,#f7f7f7 44%,#f3f3f3 44.16%,#e4e4e4 44.33%,#888 44.49%,#adadad 44.65%,#ececec 44.82%,#f8f8f8 44.98%,#fcfcfc 45.15%,#fff 45.48%,#fff 46.46%,#e4e4e4 48.93%,#ccc 50.41%,#979797 52.88%,#888 53.7%,#7d7d7d 54.69%,#7a7a7a 55.51%,#7d7d7d 56.33%,#888 57.32%,#959595 58.14%,#c3c3c3 60.44%,#d7d7d7 61.6%,#e2e2e2 62.42%,#fff 64.88%,#fff 65.71%,#f4f4f4 66.69%,#cecece 69.49%,#bbb 71.63%,#b4b4b4 72.78%,#afafaf 74.1%,#acacac 77.06%,#afafaf 80.67%,#b9b9b9 84.13%,#c8c8c8 87.25%,#f5f5f5 94.82%,#fff 97.62%,#fff 98.93%)"></i><i style="width:2px;background:linear-gradient(#fff 1.069%,#fff 39.88%,#fbfbfb 40.71%,#f8f8f8 41.04%,#f2f2f2 41.37%,#eaeaea 41.53%,#dadada 41.69%,#b8b8b8 41.86%,#181818 42.19%,#717171 42.35%,#bababa 42.52%,#dadada 42.68%,#e8e8e8 42.85%,#f0f0f0 43.01%,#f4f4f4 43.17%,#f8f8f8 43.5%,#f8f8f8 43.83%,#f6f6f6 44%,#efefef 44.16%,#c8c8c8 44.33%,#5f5f5f 44.49%,#e3e3e3 44.65%,#f6f6f6 44.82%,#fbfbfb 44.98%,#fff 45.31%,#fff 46.3%,#f9f9f9 46.96%,#e3e3e3 48.93%,#cacaca 50.41%,#999 52.71%,#898989 53.54%,#7c7c7c 54.52%,#797979 55.35%,#7b7b7b 56.17%,#868686 57.15%,#969696 58.14%,#c1c1c1 60.28%,#d5d5d5 61.43%,#e1e1e1 62.25%,#fff 64.72%,#fff 65.54%,#fafafa 66.04%,#cfcfcf 69.33%,#c3c3c3 70.48%,#bababa 71.63%,#afafaf 73.93%,#ababab 76.89%,#afafaf 80.51%,#b9b9b9 84.13%,#c8c8c8 87.25%,#f4f4f4 94.65%,#fff 97.62%,#fff 98.93%)"></i><i style="width:2px;background:linear-gradient(#fff 1.069%,#fff 39.88%,#fcfcfc 40.54%,#f8f8f8 41.04%,#efefef 41.37%,#e4e4e4 41.53%,#cdcdcd 41.69%,#969696 41.86%,#1d1d1d 42.02%,#434343 42.19%,#a7a7a7 42.35%,#d3d3d3 42.52%,#e5e5e5 42.68%,#eee 42.85%,#f6f6f6 43.17%,#f9f9f9 43.5%,#f8f8f8 43.83%,#f4f4f4 44%,#e3e3e3 44.16%,#535353 44.33%,#d3d3d3 44.49%,#f3f3f3 44.65%,#fafafa 44.82%,#fff 45.15%,#fff 46.3%,#e4e4e4 48.77%,#ccc 50.25%,#979797 52.71%,#878787 53.54%,#7b7b7b 54.52%,#777 55.35%,#7b7b7b 56.17%,#868686 57.15%,#949494 57.98%,#c2c2c2 60.28%,#d7d7d7 61.43%,#f9f9f9 64.06%,#fff 64.72%,#fff 65.38%,#f9f9f9 66.04%,#cfcfcf 69.16%,#c3c3c3 70.31%,#bababa 71.46%,#b3b3b3 72.62%,#aeaeae 73.93%,#ababab 76.89%,#afafaf 80.51%,#b9b9b9 84.13%,#c8c8c8 87.25%,#f4f4f4 94.65%,#fff 97.62%,#fff 98.93%)"></i><i style="width:2px;background:linear-gradient(#fff 1.069%,#fff 39.88%,#fcfcfc 40.54%,#f9f9f9 40.87%,#f3f3f3 41.2%,#ebebeb 41.37%,#dcdcdc 41.53%,#b8b8b8 41.69%,#5d5d5d 41.86%,#171717 42.02%,#8b8b8b 42.19%,#c9c9c9 42.35%,#e1e1e1 42.52%,#ededed 42.68%,#f3f3f3 42.85%,#f6f6f6 43.01%,#f9f9f9 43.34%,#f9f9f9 43.67%,#f7f7f7 43.83%,#efefef 44%,#b8b8b8 44.16%,#ababab 44.33%,#efefef 44.49%,#f9f9f9 44.65%,#fff 45.15%,#fff 46.3%,#e7e7e7 48.44%,#d7d7d7 49.59%,#c0c0c0 50.74%,#959595 52.71%,#838383 53.7%,#797979 54.52%,#767676 55.35%,#7a7a7a 56.17%,#868686 57.15%,#949494 57.98%,#c0c0c0 60.12%,#d5d5d5 61.27%,#e3e3e3 62.25%,#fff 64.56%,#fff 65.38%,#f4f4f4 66.37%,#cecece 69.16%,#bababa 71.3%,#b3b3b3 72.45%,#aeaeae 73.77%,#ababab 76.73%,#aeaeae 80.35%,#b8b8b8 83.96%,#c8c8c8 87.25%,#f4f4f4 94.65%,#fff 97.62%,#fff 98.93%)"></i><i style="width:2px;background:linear-gradient(#fff 1.069%,#fff 39.88%,#fbfbfb 40.54%,#f8f8f8 40.87%,#f0f0f0 41.2%,#e6e6e6 41.37%,#cecece 41.53%,#929292 41.69%,#191919 41.86%,#626262 42.02%,#bababa 42.19%,#dcdcdc 42.35%,#ebebeb 42.52%,#f2f2f2 42.68%,#f8f8f8 43.01%,#fafafa 43.34%,#f9f9f9 43.67%,#f5f5f5 43.83%,#e0e0e0 44%,#3e3e3e 44.16%,#e8e8e8 44.33%,#f7f7f7 44.49%,#fbfbfb 44.65%,#fff 44.98%,#fff 46.13%,#f9f9f9 46.79%,#e2e2e2 48.77%,#c9c9c9 50.25%,#969696 52.55%,#868686 53.37%,#797979 54.36%,#757575 55.18%,#787878 56%,#838383 56.99%,#959595 57.98%,#c1c1c1 60.12%,#d4d4d4 61.1%,#e2e2e2 62.09%,#fff 64.39%,#fff 65.21%,#fafafa 65.71%,#cecece 69%,#c2c2c2 70.15%,#b9b9b9 71.3%,#b2b2b2 72.45%,#aeaeae 73.77%,#aaa 76.73%,#aeaeae 80.35%,#b8b8b8 83.96%,#c8c8c8 87.25%,#f4f4f4 94.65%,#fff 97.62%,#fff 98.93%)"></i><i style="width:2px;background:linear-gradient(#fff 1.069%,#fff 39.72%,#fcfcfc 40.38%,#fafafa 40.71%,#f4f4f4 41.04%,#ededed 41.2%,#ddd 41.37%,#b7b7b7 41.53%,#505050 41.69%,#282828 41.86%,#a3a3a3 42.02%,#d4d4d4 42.19%,#e8e8e8 42.35%,#f1f1f1 42.52%,#f8f8f8 42.85%,#fafafa 43.17%,#fafafa 43.5%,#f8f8f8 43.67%,#efefef 43.83%,#939393 44%,#d7d7d7 44.16%,#f6f6f6 44.33%,#fbfbfb 44.49%,#fff 44.82%,#fff 46.13%,#e8e8e8 48.27%,#d7d7d7 49.42%,#c1c1c1 50.58%,#919191 52.71%,#828282 53.54%,#787878 54.36%,#747474 55.18%,#777 56%,#838383 56.99%,#929292 57.81%,#bfbfbf 59.95%,#d5d5d5 61.1%,#e4e4e4 62.09%,#ededed 62.91%,#f9f9f9 63.73%,#fff 64.39%,#fff 65.05%,#f9f9f9 65.71%,#cecece 68.83%,#c2c2c2 69.98%,#b9b9b9 71.13%,#b2b2b2 72.29%,#adadad 73.6%,#aaa 76.56%,#aeaeae 80.35%,#b8b8b8 83.96%,#c7c7c7 87.09%,#f4f4f4 94.65%,#fff 97.62%,#fff 98.93%)"></i><i style="width:2px;background:linear-gradient(#fff 1.069%,#fff 39.72%,#fcfcfc 40.38%,#f9f9f9 40.71%,#f1f1f1 41.04%,#e7e7e7 41.2%,#cfcfcf 41.37%,#8c8c8c 41.53%,#191919 41.69%,#7f7f7f 41.86%,#c9c9c9 42.02%,#e4e4e4 42.19%,#efefef 42.35%,#f4f4f4 42.52%,#f7f7f7 42.68%,#fafafa 43.01%,#fafafa 43.5%,#f6f6f6 43.67%,#d9d9d9 43.83%,#a4a4a4 44%,#f3f3f3 44.16%,#fafafa 44.33%,#fff 44.82%,#fff 46.13%,#e7e7e7 48.27%,#d6d6d6 49.42%,#c0c0c0 50.58%,#8f8f8f 52.71%,#808080 53.54%,#767676 54.36%,#737373 55.18%,#777 56%,#808080 56.83%,#929292 57.81%,#c1c1c1 59.95%,#d3d3d3 60.94%,#e2e2e2 61.92%,#fff 64.23%,#fff 65.05%,#f4f4f4 66.04%,#cdcdcd 68.83%,#c3c3c3 69.82%,#b9b9b9 70.97%,#b2b2b2 72.12%,#adadad 73.44%,#aaa 76.56%,#adadad 80.35%,#b8b8b8 83.96%,#c7c7c7 87.09%,#f4f4f4 94.65%,#fff 97.62%,#fff 98.93%)"></i><i style="width:2px;background:linear-gradient(#fff 1.069%,#fff 39.72%,#fafafa 40.54%,#f5f5f5 40.87%,#eee 41.04%,#dedede 41.2%,#b5b5b5 41.37%,#404040 41.53%,#4a4a4a 41.69%,#b7b7b7 41.86%,#dedede 42.02%,#ededed 42.19%,#f3f3f3 42.35%,#f9f9f9 42.68%,#fbfbfb 43.34%,#f9f9f9 43.5%,#efefef 43.67%,#3b3b3b 43.83%,#ededed 44%,#fafafa 44.16%,#fff 44.65%,#fff 45.97%,#fafafa 46.63%,#e3e3e3 48.6%,#d8d8d8 49.26%,#c9c9c9 50.08%,#959595 52.38%,#848484 53.21%,#767676 54.19%,#727272 55.02%,#747474 55.84%,#808080 56.83%,#8f8f8f 57.65%,#bebebe 59.79%,#d5d5d5 60.94%,#e1e1e1 61.76%,#ededed 62.75%,#f9f9f9 63.57%,#fff 64.23%,#fff 64.88%,#f9f9f9 65.54%,#cecece 68.67%,#c1c1c1 69.82%,#b8b8b8 70.97%,#b1b1b1 72.12%,#adadad 73.44%,#a9a9a9 76.4%,#adadad 80.18%,#b7b7b7 83.8%,#c7c7c7 87.09%,#f4f4f4 94.65%,#fff 97.62%,#fff 98.93%)"></i><i style="width:2px;background:linear-gradient(#fff 1.069%,#fff 39.72%,#fbfbfb 40.38%,#f7f7f7 40.71%,#f2f2f2 40.87%,#e8e8e8 41.04%,#cfcfcf 41.2%,#838383 41.37%,#191919 41.53%,#999 41.69%,#d4d4d4 41.86%,#e9e9e9 42.02%,#f2f2f2 42.19%,#f9f9f9 42.52%,#fbfbfb 42.85%,#fbfbfb 43.34%,#f7f7f7 43.5%,#c9c9c9 43.67%,#dcdcdc 43.83%,#f9f9f9 44%,#fcfcfc 44.16%,#fff 44.49%,#fff 45.97%,#e9e9e9 48.11%,#ddd 48.93%,#ccc 49.92%,#8f8f8f 52.55%,#7f7f7f 53.37%,#747474 54.19%,#707070 55.02%,#747474 55.84%,#7d7d7d 56.66%,#909090 57.65%,#c0c0c0 59.79%,#d3d3d3 60.77%,#e3e3e3 61.76%,#fafafa 63.57%,#fff 64.06%,#fff 64.72%,#f9f9f9 65.38%,#cecece 68.5%,#c2c2c2 69.65%,#b8b8b8 70.81%,#b1b1b1 71.96%,#adadad 73.27%,#a9a9a9 76.4%,#adadad 80.18%,#b7b7b7 83.8%,#c6c6c6 87.09%,#f4f4f4 94.65%,#fff 97.62%,#fff 98.93%)"></i><i style="width:2px;background:linear-gradient(#fff 1.069%,#fff 39.56%,#fcfcfc 40.21%,#f9f9f9 40.54%,#f5f5f5 40.71%,#eee 40.87%,#dfdfdf 41.04%,#b1b1b1 41.2%,#2b2b2b 41.37%,#6a6a6a 41.53%,#c6c6c6 41.69%,#e4e4e4 41.86%,#f0f0f0 42.02%,#f5f5f5 42.19%,#fafafa 42.52%,#fcfcfc 42.85%,#fafafa 43.34%,#eee 43.5%,#969696 43.67%,#f7f7f7 43.83%,#fcfcfc 44%,#fff 44.33%,#fff 45.97%,#ebebeb 47.94%,#ddd 48.93%,#c4c4c4 50.25%,#929292 52.38%,#818181 53.21%,#737373 54.19%,#6f6f6f 55.02%,#737373 55.84%,#7d7d7d 56.66%,#8c8c8c 57.48%,#bdbdbd 59.62%,#d4d4d4 60.77%,#e4e4e4 61.76%,#fff 63.9%,#fff 64.72%,#f4f4f4 65.71%,#cdcdcd 68.5%,#c1c1c1 69.65%,#b7b7b7 70.81%,#b1b1b1 71.96%,#acacac 73.27%,#a9a9a9 76.23%,#acacac 80.02%,#b7b7b7 83.8%,#c6c6c6 87.09%,#f4f4f4 94.65%,#fff 97.62%,#fff 98.93%)"></i><i style="width:2px;background:linear-gradient(#fff 1.069%,#fff 39.56%,#fcfcfc 40.05%,#f7f7f7 40.54%,#f3f3f3 40.71%,#e8e8e8 40.87%,#cdcdcd 41.04%,#777 41.2%,#252525 41.37%,#aeaeae 41.53%,#ddd 41.69%,#ededed 41.86%,#f4f4f4 42.02%,#fafafa 42.35%,#fcfcfc 42.68%,#fcfcfc 43.17%,#f8f8f8 43.34%,#9c9c9c 43.5%,#f3f3f3 43.67%,#fcfcfc 43.83%,#fff 44.16%,#fff 45.97%,#ebebeb 47.94%,#ddd 48.93%,#c4c4c4 50.25%,#909090 52.38%,#7f7f7f 53.21%,#717171 54.19%,#6e6e6e 55.02%,#727272 55.84%,#7d7d7d 56.66%,#909090 57.65%,#c2c2c2 59.79%,#d6d6d6 60.77%,#e3e3e3 61.6%,#f9f9f9 63.24%,#fff 63.9%,#fff 64.56%,#f9f9f9 65.21%,#cdcdcd 68.34%,#c1c1c1 69.49%,#b8b8b8 70.64%,#b1b1b1 71.79%,#acacac 73.11%,#a8a8a8 76.23%,#acacac 80.02%,#b6b6b6 83.8%,#c6c6c6 87.09%,#f4f4f4 94.65%,#fff 97.62%,#fff 98.93%)"></i><i style="width:2px;background:linear-gradient(#fff 1.069%,#fff 39.56%,#fbfbfb 40.21%,#f6f6f6 40.54%,#efefef 40.71%,#dedede 40.87%,#ababab 41.04%,#1a1a1a 41.2%,#878787 41.37%,#d2d2d2 41.53%,#e9e9e9 41.69%,#f3f3f3 41.86%,#f9f9f9 42.19%,#fcfcfc 42.52%,#fcfcfc 43.17%,#efefef 43.34%,#e8e8e8 43.5%,#fcfcfc 43.67%,#fff 44%,#fff 45.97%,#ebebeb 47.94%,#ddd 48.93%,#cecece 49.75%,#bcbcbc 50.58%,#8b8b8b 52.55%,#7b7b7b 53.37%,#707070 54.19%,#6c6c6c 55.02%,#6f6f6f 55.67%,#7a7a7a 56.5%,#8a8a8a 57.32%,#bcbcbc 59.46%,#d4d4d4 60.61%,#e4e4e4 61.6%,#fafafa 63.24%,#fff 63.73%,#fff 64.56%,#f3f3f3 65.54%,#ccc 68.34%,#c1c1c1 69.33%,#b8b8b8 70.48%,#b1b1b1 71.63%,#acacac 72.94%,#a8a8a8 76.07%,#ababab 79.85%,#b6b6b6 83.63%,#c5c5c5 86.92%,#f4f4f4 94.65%,#fff 97.62%,#fff 98.93%)"></i><i style="width:2px;background:linear-gradient(#fff 1.069%,#fff 39.39%,#fcfcfc 40.05%,#f8f8f8 40.38%,#f3f3f3 40.54%,#e8e8e8 40.71%,#cbcbcb 40.87%,#676767 41.04%,#494949 41.2%,#bfbfbf 41.37%,#e4e4e4 41.53%,#f0f0f0 41.69%,#f6f6f6 41.86%,#fbfbfb 42.19%,#fcfcfc 42.52%,#fdfdfd 43.01%,#fafafa 43.17%,#818181 43.34%,#fcfcfc 43.5%,#fff 43.67%,#fff 45.97%,#ebebeb 47.94%,#ddd 48.93%,#c3c3c3 50.25%,#8e8e8e 52.38%,#7c7c7c 53.21%,#707070 54.03%,#6b6b6b 54.85%,#6f6f6f 55.67%,#797979 56.5%,#8a8a8a 57.32%,#bebebe 59.46%,#d3d3d3 60.44%,#e3e3e3 61.43%,#fff 63.57%,#fff 64.39%,#fafafa 64.88%,#ccc 68.17%,#c0c0c0 69.33%,#b7b7b7 70.48%,#b0b0b0 71.63%,#ababab 72.94%,#a7a7a7 76.07%,#ababab 79.85%,#b6b6b6 83.63%,#c5c5c5 86.92%,#f4f4f4 94.65%,#fff 97.62%,#fff 98.93%)"></i><i style="width:2px;background:linear-gradient(#fff 1.069%,#fff 39.39%,#fcfcfc 39.88%,#f9f9f9 40.21%,#f6f6f6 40.38%,#efefef 40.54%,#ddd 40.71%,#a4a4a4 40.87%,#1a1a1a 41.04%,#a0a0a0 41.2%,#dbdbdb 41.37%,#ededed 41.53%,#f5f5f5 41.69%,#fafafa 42.02%,#fcfcfc 42.35%,#fdfdfd 43.01%,#efefef 43.17%,#fbfbfb 43.34%,#fff 43.5%,#fff 45.81%,#ebebeb 47.94%,#dedede 48.93%,#cecece 49.75%,#bbb 50.58%,#8d8d8d 52.38%,#7b7b7b 53.21%,#6e6e6e 54.03%,#6a6a6a 54.85%,#6c6c6c 55.51%,#767676 56.33%,#878787 57.15%,#bbb 59.29%,#d4d4d4 60.44%,#e4e4e4 61.43%,#f8f8f8 62.91%,#fff 63.57%,#fff 64.23%,#f9f9f9 64.88%,#cdcdcd 68.01%,#c1c1c1 69.16%,#b7b7b7 70.31%,#b0b0b0 71.46%,#ababab 72.78%,#a7a7a7 76.07%,#ababab 79.85%,#b5b5b5 83.63%,#c5c5c5 86.92%,#f4f4f4 94.65%,#fff 97.62%,#fff 98.93%)"></i><i style="width:2px;background:linear-gradient(#fff 1.069%,#fff 39.39%,#f8f8f8 40.21%,#f3f3f3 40.38%,#e8e8e8 40.54%,#c8c8c8 40.71%,#575757 40.87%,#696969 41.04%,#ccc 41.2%,#e9e9e9 41.37%,#f3f3f3 41.53%,#f7f7f7 41.69%,#fdfdfd 42.35%,#fefefe 42.85%,#fdfdfd 43.01%,#f9f9f9 43.17%,#fff 43.34%,#fff 45.81%,#eaeaea 48.11%,#dedede 48.93%,#cbcbcb 49.92%,#b7b7b7 50.74%,#8c8c8c 52.38%,#797979 53.21%,#6d6d6d 54.03%,#686868 54.85%,#6b6b6b 55.51%,#767676 56.33%,#878787 57.15%,#bdbdbd 59.29%,#d3d3d3 60.28%,#e3e3e3 61.27%,#fff 63.4%,#fff 64.23%,#fafafa 64.72%,#ccc 68.01%,#bfbfbf 69.16%,#b6b6b6 70.31%,#afafaf 71.46%,#aaa 72.78%,#a7a7a7 75.9%,#ababab 79.85%,#b5b5b5 83.63%,#c5c5c5 86.92%,#f4f4f4 94.65%,#fff 97.62%,#fff 98.93%)"></i><i style="width:2px;background:linear-gradient(#fff 1.069%,#fff 39.23%,#fcfcfc 39.72%,#fafafa 40.05%,#f6f6f6 40.21%,#efefef 40.38%,#ddd 40.54%,#9d9d9d 40.71%,#191919 40.87%,#b3b3b3 41.04%,#e2e2e2 41.2%,#f0f0f0 41.37%,#f6f6f6 41.53%,#fbfbfb 41.86%,#fff 42.68%,#fff 42.85%,#c5c5c5 43.01%,#fff 43.17%,#fff 45.81%,#fbfbfb 46.3%,#ececec 47.94%,#dcdcdc 49.1%,#c3c3c3 50.25%,#8a8a8a 52.38%,#787878 53.21%,#6b6b6b 54.03%,#676767 54.85%,#6a6a6a 55.51%,#767676 56.33%,#878787 57.15%,#bbb 59.13%,#d4d4d4 60.28%,#e5e5e5 61.27%,#fff 63.24%,#fff 64.06%,#fafafa 64.56%,#ccc 67.85%,#c0c0c0 69%,#b6b6b6 70.15%,#afafaf 71.3%,#aaa 72.62%,#a6a6a6 75.9%,#aaa 79.69%,#b5b5b5 83.47%,#c5c5c5 86.92%,#f4f4f4 94.65%,#fff 97.62%,#fff 98.93%)"></i><i style="width:2px;background:linear-gradient(#fff 1.069%,#fff 39.23%,#f8f8f8 40.05%,#f4f4f4 40.21%,#e9e9e9 40.38%,#c6c6c6 40.54%,#464646 40.71%,#848484 40.87%,#d6d6d6 41.04%,#ececec 41.2%,#f5f5f5 41.37%,#f9f9f9 41.53%,#fff 42.52%,#fff 45.81%,#f2f2f2 47.45%,#e9e9e9 48.27%,#dcdcdc 49.1%,#cbcbcb 49.92%,#b7b7b7 50.74%,#898989 52.38%,#767676 53.21%,#696969 54.03%,#666 54.69%,#686868 55.35%,#737373 56.17%,#848484 56.99%,#bcbcbc 59.13%,#d3d3d3 60.12%,#e4e4e4 61.1%,#f8f8f8 62.58%,#fff 63.24%,#fff 64.06%,#f3f3f3 65.05%,#cbcbcb 67.85%,#c0c0c0 68.83%,#b7b7b7 69.98%,#afafaf 71.13%,#aaa 72.45%,#a6a6a6 75.74%,#aaa 79.69%,#b4b4b4 83.47%,#c5c5c5 86.92%,#f4f4f4 94.65%,#fff 97.62%,#fff 98.93%)"></i><i style="width:2px;background:linear-gradient(#fff 1.069%,#fff 39.23%,#fcfcfc 39.72%,#f7f7f7 40.05%,#f0f0f0 40.21%,#ddd 40.38%,#969696 40.54%,#353535 40.71%,#c1c1c1 40.87%,#e7e7e7 41.04%,#f3f3f3 41.2%,#f8f8f8 41.37%,#fcfcfc 41.69%,#fff 42.35%,#fff 45.81%,#ebebeb 48.11%,#ddd 49.1%,#cbcbcb 49.92%,#b7b7b7 50.74%,#888 52.38%,#757575 53.21%,#686868 54.03%,#646464 54.69%,#676767 55.35%,#727272 56.17%,#848484 56.99%,#bababa 58.96%,#d4d4d4 60.12%,#e5e5e5 61.1%,#fff 63.08%,#fff 63.9%,#fafafa 64.39%,#ccc 67.68%,#bfbfbf 68.83%,#b6b6b6 69.98%,#afafaf 71.13%,#aaa 72.45%,#a6a6a6 75.74%,#aaa 79.69%,#b4b4b4 83.47%,#c5c5c5 86.92%,#f4f4f4 94.65%,#fff 97.62%,#fff 98.93%)"></i><i style="width:2px;background:linear-gradient(#fff 1.069%,#fff 39.06%,#f9f9f9 39.88%,#f4f4f4 40.05%,#e9e9e9 40.21%,#c4c4c4 40.38%,#343434 40.54%,#9b9b9b 40.71%,#ddd 40.87%,#efefef 41.04%,#f6f6f6 41.2%,#fbfbfb 41.53%,#fff 42.19%,#fff 45.81%,#f3f3f3 47.45%,#ececec 48.11%,#ddd 49.1%,#ccc 49.92%,#b7b7b7 50.74%,#878787 52.38%,#737373 53.21%,#666 54.03%,#636363 54.69%,#686868 55.51%,#757575 56.33%,#898989 57.15%,#c0c0c0 59.13%,#d9d9d9 60.28%,#e4e4e4 60.94%,#f9f9f9 62.42%,#fff 63.08%,#fff 63.73%,#f9f9f9 64.39%,#ccc 67.52%,#c0c0c0 68.67%,#b6b6b6 69.82%,#aeaeae 71.13%,#a9a9a9 72.45%,#a5a5a5 75.58%,#a9a9a9 79.52%,#b4b4b4 83.47%,#c4c4c4 86.76%,#f4f4f4 94.65%,#fff 97.62%,#fff 98.93%)"></i><i style="width:2px;background:linear-gradient(#fff 1.069%,#fff 39.06%,#fafafa 39.72%,#f7f7f7 39.88%,#f0f0f0 40.05%,#dcdcdc 40.21%,#8f8f8f 40.38%,#545454 40.54%,#cdcdcd 40.71%,#ebebeb 40.87%,#f4f4f4 41.04%,#f9f9f9 41.2%,#fcfcfc 41.53%,#fff 42.19%,#fff 45.81%,#f3f3f3 47.45%,#eaeaea 48.27%,#dadada 49.26%,#c8c8c8 50.08%,#b2b2b2 50.9%,#868686 52.38%,#727272 53.21%,#656565 54.03%,#626262 54.69%,#676767 55.51%,#757575 56.33%,#8a8a8a 57.15%,#bdbdbd 58.96%,#d8d8d8 60.12%,#e6e6e6 60.94%,#f8f8f8 62.25%,#fff 62.91%,#fff 63.73%,#fafafa 64.23%,#cbcbcb 67.52%,#bebebe 68.67%,#b5b5b5 69.82%,#aeaeae 70.97%,#a9a9a9 72.29%,#a5a5a5 75.58%,#a9a9a9 79.69%,#b4b4b4 83.47%,#c4c4c4 86.76%,#f4f4f4 94.65%,#fff 97.62%,#fff 98.93%)"></i><i style="width:2px;background:linear-gradient(#fff 1.069%,#fff 38.9%,#fcfcfc 39.39%,#f9f9f9 39.72%,#f4f4f4 39.88%,#e9e9e9 40.05%,#c2c2c2 40.21%,#222 40.38%,#adadad 40.54%,#e3e3e3 40.71%,#f2f2f2 40.87%,#f7f7f7 41.04%,#fcfcfc 41.37%,#fff 42.02%,#fff 45.81%,#f3f3f3 47.45%,#ebebeb 48.27%,#dbdbdb 49.26%,#c8c8c8 50.08%,#b2b2b2 50.9%,#858585 52.38%,#707070 53.21%,#636363 54.03%,#606060 54.69%,#626262 55.02%,#666 55.51%,#767676 56.33%,#868686 56.99%,#bfbfbf 58.96%,#d9d9d9 60.12%,#e7e7e7 60.94%,#fff 62.75%,#fff 63.57%,#fbfbfb 64.06%,#cbcbcb 67.35%,#bfbfbf 68.5%,#b5b5b5 69.65%,#adadad 70.97%,#a8a8a8 72.29%,#a5a5a5 75.41%,#a8a8a8 79.36%,#b3b3b3 83.31%,#c4c4c4 86.76%,#f4f4f4 94.65%,#fff 97.62%,#fff 98.93%)"></i><i style="width:2px;background:linear-gradient(#fff 1.069%,#fff 38.9%,#fafafa 39.56%,#f7f7f7 39.72%,#f0f0f0 39.88%,#dcdcdc 40.05%,#868686 40.21%,#707070 40.38%,#d6d6d6 40.54%,#eee 40.71%,#f6f6f6 40.87%,#fbfbfb 41.2%,#fff 41.86%,#fff 45.81%,#f1f1f1 47.78%,#e9e9e9 48.44%,#dedede 49.1%,#d0d0d0 49.75%,#c0c0c0 50.41%,#848484 52.38%,#737373 53.04%,#646464 53.87%,#5f5f5f 54.52%,#606060 54.85%,#646464 55.35%,#727272 56.17%,#878787 56.99%,#c1c1c1 58.96%,#dbdbdb 60.12%,#e6e6e6 60.77%,#f8f8f8 62.09%,#fff 62.75%,#fff 63.57%,#f3f3f3 64.56%,#d7d7d7 66.37%,#cacaca 67.35%,#bebebe 68.5%,#b4b4b4 69.65%,#adadad 70.81%,#a8a8a8 72.12%,#a4a4a4 75.41%,#a8a8a8 79.36%,#b3b3b3 83.31%,#c4c4c4 86.76%,#f4f4f4 94.65%,#fff 97.62%,#fff 98.93%)"></i><i style="width:2px;background:linear-gradient(#fff 1.069%,#fff 38.9%,#f9f9f9 39.56%,#f5f5f5 39.72%,#e9e9e9 39.88%,#bfbfbf 40.05%,#1a1a1a 40.21%,#bcbcbc 40.38%,#e8e8e8 40.54%,#f4f4f4 40.71%,#f8f8f8 40.87%,#fff 41.69%,#fff 45.81%,#f4f4f4 47.45%,#ebebeb 48.27%,#dbdbdb 49.26%,#c8c8c8 50.08%,#b1b1b1 50.9%,#838383 52.38%,#6d6d6d 53.21%,#626262 53.87%,#5e5e5e 54.52%,#5f5f5f 54.85%,#636363 55.35%,#727272 56.17%,#848484 56.83%,#bebebe 58.8%,#dadada 59.95%,#e8e8e8 60.77%,#fff 62.58%,#fff 63.4%,#fafafa 63.9%,#cbcbcb 67.19%,#bebebe 68.34%,#b4b4b4 69.49%,#adadad 70.64%,#a8a8a8 71.96%,#a4a4a4 75.25%,#a8a8a8 79.36%,#b3b3b3 83.31%,#c4c4c4 86.76%,#f4f4f4 94.65%,#fff 97.62%,#fff 98.93%)"></i><i style="width:2px;background:linear-gradient(#fff 1.069%,#fff 38.73%,#fbfbfb 39.39%,#f8f8f8 39.56%,#f1f1f1 39.72%,#dbdbdb 39.88%,#7c7c7c 40.05%,#888 40.21%,#ddd 40.38%,#f0f0f0 40.54%,#f7f7f7 40.71%,#fcfcfc 41.04%,#fff 41.69%,#fff 45.81%,#f1f1f1 47.78%,#e9e9e9 48.44%,#dedede 49.1%,#d0d0d0 49.75%,#bfbfbf 50.41%,#818181 52.38%,#6f6f6f 53.04%,#656565 53.54%,#616161 53.87%,#5d5d5d 54.52%,#616161 55.18%,#6f6f6f 56%,#858585 56.83%,#bcbcbc 58.63%,#d8d8d8 59.79%,#e9e9e9 60.77%,#f9f9f9 61.92%,#fff 62.58%,#fff 63.24%,#f9f9f9 63.9%,#cbcbcb 67.02%,#bfbfbf 68.17%,#b4b4b4 69.49%,#adadad 70.64%,#a8a8a8 71.96%,#a4a4a4 75.25%,#a8a8a8 79.36%,#b3b3b3 83.31%,#c4c4c4 86.76%,#f4f4f4 94.65%,#fff 97.62%,#fff 98.93%)"></i><i style="width:2px;background:linear-gradient(#fff 1.069%,#fff 38.73%,#f9f9f9 39.39%,#f5f5f5 39.56%,#e9e9e9 39.72%,#bcbcbc 39.88%,#262626 40.05%,#c8c8c8 40.21%,#ebebeb 40.38%,#f5f5f5 40.54%,#f9f9f9 40.71%,#fff 41.53%,#fff 45.81%,#f4f4f4 47.45%,#ececec 48.27%,#dbdbdb 49.26%,#c8c8c8 50.08%,#afafaf 50.9%,#808080 52.38%,#6e6e6e 53.04%,#646464 53.54%,#5f5f5f 53.87%,#5c5c5c 54.52%,#606060 55.18%,#6f6f6f 56%,#818181 56.66%,#bebebe 58.63%,#dadada 59.79%,#e8e8e8 60.61%,#f8f8f8 61.76%,#fff 62.42%,#fff 63.24%,#fafafa 63.73%,#cacaca 67.02%,#bdbdbd 68.17%,#b4b4b4 69.33%,#acacac 70.64%,#a7a7a7 71.96%,#a3a3a3 75.08%,#a7a7a7 79.19%,#b2b2b2 83.14%,#c3c3c3 86.6%,#f4f4f4 94.65%,#fff 97.62%,#fff 98.93%)"></i><i style="width:2px;background:linear-gradient(#fff 1.069%,#fff 38.57%,#fbfbfb 39.23%,#f8f8f8 39.39%,#f1f1f1 39.56%,#dadada 39.72%,#6f6f6f 39.88%,#9c9c9c 40.05%,#e2e2e2 40.21%,#f3f3f3 40.38%,#f8f8f8 40.54%,#fff 41.37%,#fff 45.81%,#f1f1f1 47.78%,#e9e9e9 48.44%,#dedede 49.1%,#d0d0d0 49.75%,#bebebe 50.41%,#838383 52.22%,#707070 52.88%,#656565 53.37%,#606060 53.7%,#5b5b5b 54.36%,#5b5b5b 54.69%,#5f5f5f 55.18%,#6f6f6f 56%,#828282 56.66%,#bbb 58.47%,#d8d8d8 59.62%,#e7e7e7 60.44%,#fff 62.25%,#fff 63.08%,#fbfbfb 63.57%,#cbcbcb 66.86%,#bebebe 68.01%,#b4b4b4 69.16%,#acacac 70.48%,#a7a7a7 71.79%,#a3a3a3 75.08%,#a7a7a7 79.19%,#b2b2b2 83.14%,#c3c3c3 86.6%,#f4f4f4 94.65%,#fff 97.62%,#fff 98.93%)"></i><i style="width:2px;background:linear-gradient(#fff 1.069%,#fff 38.57%,#fafafa 39.23%,#f5f5f5 39.39%,#e9e9e9 39.56%,#b8b8b8 39.72%,#434343 39.88%,#d1d1d1 40.05%,#eee 40.21%,#f7f7f7 40.38%,#fafafa 40.54%,#fff 41.2%,#fff 45.81%,#f6f6f6 47.29%,#eee 48.11%,#dedede 49.1%,#cbcbcb 49.92%,#b3b3b3 50.74%,#7d7d7d 52.38%,#6b6b6b 53.04%,#5e5e5e 53.7%,#595959 54.36%,#5d5d5d 55.02%,#626262 55.35%,#6c6c6c 55.84%,#7e7e7e 56.5%,#bdbdbd 58.47%,#cfcfcf 59.13%,#dadada 59.62%,#e9e9e9 60.44%,#f9f9f9 61.6%,#fff 62.25%,#fff 63.08%,#f3f3f3 64.06%,#d7d7d7 65.87%,#c9c9c9 66.86%,#bdbdbd 68.01%,#b3b3b3 69.16%,#ababab 70.48%,#a7a7a7 71.79%,#a3a3a3 74.92%,#a7a7a7 79.03%,#b2b2b2 83.14%,#c3c3c3 86.6%,#f4f4f4 94.65%,#fff 97.62%,#fff 98.93%)"></i><i style="width:2px;background:linear-gradient(#fff 1.069%,#fff 38.57%,#fbfbfb 39.06%,#f8f8f8 39.23%,#f1f1f1 39.39%,#d9d9d9 39.56%,#5e5e5e 39.72%,#aeaeae 39.88%,#e7e7e7 40.05%,#f4f4f4 40.21%,#f9f9f9 40.38%,#fff 41.2%,#fff 45.81%,#f1f1f1 47.78%,#e9e9e9 48.44%,#dedede 49.1%,#d3d3d3 49.59%,#c1c1c1 50.25%,#808080 52.22%,#6d6d6d 52.88%,#626262 53.37%,#5d5d5d 53.7%,#585858 54.36%,#5d5d5d 55.02%,#626262 55.35%,#6c6c6c 55.84%,#7f7f7f 56.5%,#bbb 58.31%,#cdcdcd 58.96%,#d9d9d9 59.46%,#eaeaea 60.44%,#fff 62.09%,#fff 62.91%,#fafafa 63.4%,#cacaca 66.69%,#bdbdbd 67.85%,#b3b3b3 69%,#ababab 70.31%,#a6a6a6 71.63%,#a3a3a3 74.92%,#a7a7a7 79.03%,#b2b2b2 83.14%,#c3c3c3 86.6%,#f4f4f4 94.65%,#fff 97.62%,#fff 98.93%)"></i><i style="width:2px;background:linear-gradient(#fff 1.069%,#fff 38.4%,#fafafa 39.06%,#f5f5f5 39.23%,#e9e9e9 39.39%,#b1b1b1 39.56%,#5f5f5f 39.72%,#d9d9d9 39.88%,#f1f1f1 40.05%,#f8f8f8 40.21%,#fcfcfc 40.54%,#fff 41.04%,#fff 45.81%,#f3f3f3 47.62%,#ebebeb 48.27%,#e0e0e0 48.93%,#d2d2d2 49.59%,#c0c0c0 50.25%,#7f7f7f 52.22%,#6b6b6b 52.88%,#606060 53.37%,#5b5b5b 53.7%,#575757 54.36%,#5c5c5c 55.02%,#626262 55.35%,#6d6d6d 55.84%,#818181 56.5%,#bdbdbd 58.31%,#cfcfcf 58.96%,#dbdbdb 59.46%,#ececec 60.44%,#f9f9f9 61.43%,#fff 62.09%,#fff 62.91%,#f3f3f3 63.9%,#d6d6d6 65.71%,#c9c9c9 66.69%,#bcbcbc 67.85%,#b2b2b2 69%,#ababab 70.31%,#a6a6a6 71.63%,#a2a2a2 74.92%,#a7a7a7 79.19%,#b2b2b2 83.14%,#c3c3c3 86.6%,#f3f3f3 94.49%,#fff 97.62%,#fff 98.93%)"></i><i style="width:2px;background:linear-gradient(#fff 1.069%,#fff 38.4%,#f8f8f8 39.06%,#f1f1f1 39.23%,#d7d7d7 39.39%,#474747 39.56%,#bcbcbc 39.72%,#ebebeb 39.88%,#f6f6f6 40.05%,#fafafa 40.21%,#fff 40.87%,#fff 45.81%,#f5f5f5 47.29%,#ededed 48.11%,#ddd 49.1%,#c9c9c9 49.92%,#b0b0b0 50.74%,#7d7d7d 52.22%,#666 53.04%,#5a5a5a 53.7%,#575757 54.36%,#5c5c5c 55.02%,#6a6a6a 55.67%,#7d7d7d 56.33%,#bababa 58.14%,#cdcdcd 58.8%,#d9d9d9 59.29%,#ebebeb 60.28%,#f8f8f8 61.27%,#fff 61.92%,#fff 62.75%,#fafafa 63.24%,#c9c9c9 66.53%,#bdbdbd 67.68%,#b3b3b3 68.83%,#ababab 70.15%,#a6a6a6 71.46%,#a2a2a2 74.75%,#a6a6a6 79.03%,#b1b1b1 82.98%,#c3c3c3 86.6%,#f4f4f4 94.65%,#fff 97.62%,#fff 98.93%)"></i><i style="width:2px;background:linear-gradient(#fff 1.069%,#fff 38.24%,#fafafa 38.9%,#f6f6f6 39.06%,#e8e8e8 39.23%,#a7a7a7 39.39%,#7a7a7a 39.56%,#e0e0e0 39.72%,#f3f3f3 39.88%,#f9f9f9 40.05%,#fff 40.71%,#fff 45.81%,#f3f3f3 47.62%,#ebebeb 48.27%,#e0e0e0 48.93%,#d1d1d1 49.59%,#bebebe 50.25%,#7b7b7b 52.22%,#686868 52.88%,#5b5b5b 53.54%,#565656 54.19%,#5a5a5a 54.85%,#5f5f5f 55.18%,#6a6a6a 55.67%,#7e7e7e 56.33%,#bdbdbd 58.14%,#d8d8d8 59.13%,#eaeaea 60.12%,#fff 61.76%,#fff 62.58%,#fbfbfb 63.08%,#f2f2f2 63.73%,#cacaca 66.37%,#bdbdbd 67.52%,#b2b2b2 68.83%,#aaa 70.15%,#a5a5a5 71.46%,#a2a2a2 74.75%,#a6a6a6 79.03%,#b1b1b1 82.98%,#c3c3c3 86.6%,#f3f3f3 94.49%,#fff 97.62%,#fff 98.93%)"></i><i style="width:2px;background:linear-gradient(#fff 1.069%,#fff 38.24%,#fbfbfb 38.73%,#f8f8f8 38.9%,#f1f1f1 39.06%,#d4d4d4 39.23%,#292929 39.39%,#c9c9c9 39.56%,#eee 39.72%,#f7f7f7 39.88%,#fafafa 40.05%,#fff 40.71%,#fff 45.64%,#f7f7f7 47.12%,#ededed 48.11%,#dcdcdc 49.1%,#c7c7c7 49.92%,#adadad 50.74%,#7a7a7a 52.22%,#666 52.88%,#595959 53.54%,#555 54.19%,#595959 54.85%,#5f5f5f 55.18%,#6b6b6b 55.67%,#808080 56.33%,#bababa 57.98%,#cdcdcd 58.63%,#dadada 59.13%,#ececec 60.12%,#f9f9f9 61.1%,#fff 61.76%,#fff 62.58%,#fafafa 63.08%,#c9c9c9 66.37%,#bcbcbc 67.52%,#b2b2b2 68.67%,#aaa 69.98%,#a5a5a5 71.3%,#a1a1a1 74.59%,#a5a5a5 78.87%,#b1b1b1 82.98%,#c3c3c3 86.6%,#f3f3f3 94.49%,#fff 97.62%,#fff 98.93%)"></i><i style="width:2px;background:linear-gradient(#fff 1.069%,#fff 38.24%,#fafafa 38.73%,#f5f5f5 38.9%,#e7e7e7 39.06%,#9a9a9a 39.23%,#949494 39.39%,#e5e5e5 39.56%,#f5f5f5 39.72%,#fafafa 39.88%,#fff 40.54%,#fff 45.64%,#f2f2f2 47.62%,#eaeaea 48.27%,#dfdfdf 48.93%,#d0d0d0 49.59%,#bdbdbd 50.25%,#7d7d7d 52.06%,#696969 52.71%,#5d5d5d 53.21%,#585858 53.54%,#545454 54.19%,#595959 54.85%,#676767 55.51%,#7c7c7c 56.17%,#bcbcbc 57.98%,#d8d8d8 58.96%,#ebebeb 59.95%,#fff 61.6%,#fff 62.42%,#fafafa 62.91%,#c9c9c9 66.2%,#bcbcbc 67.35%,#b1b1b1 68.67%,#aaa 69.98%,#a5a5a5 71.3%,#a1a1a1 74.59%,#a5a5a5 78.87%,#b1b1b1 82.98%,#c2c2c2 86.43%,#f3f3f3 94.49%,#fff 97.62%,#fff 98.93%)"></i><i style="width:2px;background:linear-gradient(#fff 1.069%,#fff 38.08%,#fbfbfb 38.57%,#f8f8f8 38.73%,#f0f0f0 38.9%,#cfcfcf 39.06%,#232323 39.23%,#d4d4d4 39.39%,#f1f1f1 39.56%,#f8f8f8 39.72%,#fff 40.38%,#fff 45.64%,#f6f6f6 47.12%,#efefef 47.94%,#dedede 48.93%,#cacaca 49.75%,#b1b1b1 50.58%,#767676 52.22%,#636363 52.88%,#565656 53.54%,#535353 54.19%,#555 54.52%,#595959 54.85%,#686868 55.51%,#7d7d7d 56.17%,#b9b9b9 57.81%,#cecece 58.47%,#dadada 58.96%,#ececec 59.95%,#f9f9f9 60.94%,#fff 61.6%,#fff 62.42%,#f3f3f3 63.4%,#d6d6d6 65.21%,#c8c8c8 66.2%,#bbb 67.35%,#b2b2b2 68.5%,#aaa 69.82%,#a5a5a5 71.13%,#a1a1a1 74.42%,#a5a5a5 78.7%,#b0b0b0 82.81%,#c2c2c2 86.43%,#f3f3f3 94.49%,#fff 97.62%,#fff 98.93%)"></i><i style="width:2px;background:linear-gradient(#fff 1.069%,#fff 38.08%,#fafafa 38.57%,#f5f5f5 38.73%,#e5e5e5 38.9%,#878787 39.06%,#ababab 39.23%,#eaeaea 39.39%,#f6f6f6 39.56%,#fafafa 39.72%,#fff 40.38%,#fff 45.64%,#f2f2f2 47.62%,#eaeaea 48.27%,#dedede 48.93%,#d3d3d3 49.42%,#c0c0c0 50.08%,#7a7a7a 52.06%,#666 52.71%,#575757 53.37%,#525252 54.03%,#535353 54.36%,#565656 54.69%,#646464 55.35%,#797979 56%,#bcbcbc 57.81%,#d8d8d8 58.8%,#ebebeb 59.79%,#f8f8f8 60.77%,#fff 61.43%,#fff 62.25%,#fafafa 62.75%,#c9c9c9 66.04%,#bcbcbc 67.19%,#b2b2b2 68.34%,#aaa 69.65%,#a5a5a5 70.97%,#a2a2a2 72.45%,#a0a0a0 74.42%,#a5a5a5 78.7%,#b0b0b0 82.81%,#c2c2c2 86.43%,#f3f3f3 94.49%,#fff 97.62%,#fff 98.93%)"></i><i style="width:2px;background:linear-gradient(#fff 1.069%,#fff 37.91%,#fbfbfb 38.4%,#f8f8f8 38.57%,#f0f0f0 38.73%,#c9c9c9 38.9%,#484848 39.06%,#dcdcdc 39.23%,#f3f3f3 39.39%,#f9f9f9 39.56%,#fff 40.21%,#fff 45.64%,#f6f6f6 47.12%,#eee 47.94%,#dedede 48.93%,#c9c9c9 49.75%,#aeaeae 50.58%,#787878 52.06%,#646464 52.71%,#565656 53.37%,#525252 53.7%,#515151 54.03%,#525252 54.36%,#565656 54.69%,#656565 55.35%,#7b7b7b 56%,#b9b9b9 57.65%,#cecece 58.31%,#dadada 58.8%,#eaeaea 59.62%,#fff 61.27%,#fff 62.25%,#f2f2f2 63.24%,#d5d5d5 65.05%,#c7c7c7 66.04%,#bbb 67.19%,#b1b1b1 68.34%,#a9a9a9 69.65%,#a4a4a4 70.97%,#a0a0a0 74.26%,#a4a4a4 78.7%,#b0b0b0 82.81%,#c2c2c2 86.43%,#f3f3f3 94.49%,#fff 97.62%,#fff 98.93%)"></i><i style="width:2px;background:linear-gradient(#fff 1.069%,#fff 37.91%,#fafafa 38.4%,#f5f5f5 38.57%,#e4e4e4 38.73%,#6f6f6f 38.9%,#bdbdbd 39.06%,#eee 39.23%,#f8f8f8 39.39%,#fbfbfb 39.56%,#fff 40.05%,#fff 45.64%,#f2f2f2 47.62%,#e9e9e9 48.27%,#ddd 48.93%,#d1d1d1 49.42%,#bebebe 50.08%,#777 52.06%,#626262 52.71%,#545454 53.37%,#515151 53.7%,#505050 54.03%,#525252 54.36%,#565656 54.69%,#666 55.35%,#7c7c7c 56%,#bbb 57.65%,#cbcbcb 58.14%,#d9d9d9 58.63%,#e3e3e3 59.13%,#ececec 59.62%,#f9f9f9 60.61%,#fff 61.27%,#fff 62.09%,#fafafa 62.58%,#c8c8c8 65.87%,#bbb 67.02%,#b1b1b1 68.17%,#a9a9a9 69.49%,#a4a4a4 70.81%,#a1a1a1 72.29%,#a0a0a0 74.26%,#a4a4a4 78.7%,#b0b0b0 82.81%,#c2c2c2 86.43%,#f3f3f3 94.49%,#fff 97.62%,#fff 98.93%)"></i><i style="width:2px;background:linear-gradient(#fff 1.069%,#fff 37.75%,#fbfbfb 38.24%,#f8f8f8 38.4%,#efefef 38.57%,#c1c1c1 38.73%,#6d6d6d 38.9%,#e3e3e3 39.06%,#f5f5f5 39.23%,#fafafa 39.39%,#fff 40.05%,#fff 45.64%,#f3f3f3 47.45%,#ececec 48.11%,#e0e0e0 48.77%,#d1d1d1 49.42%,#bdbdbd 50.08%,#757575 52.06%,#606060 52.71%,#535353 53.37%,#505050 53.7%,#4f4f4f 54.03%,#515151 54.36%,#565656 54.69%,#676767 55.35%,#787878 55.84%,#b8b8b8 57.48%,#cdcdcd 58.14%,#dbdbdb 58.63%,#e5e5e5 59.13%,#ededed 59.62%,#fff 61.1%,#fff 62.09%,#f2f2f2 63.08%,#c9c9c9 65.71%,#bcbcbc 66.86%,#b0b0b0 68.17%,#a9a9a9 69.49%,#a4a4a4 70.81%,#a0a0a0 74.1%,#a4a4a4 78.54%,#afafaf 82.65%,#c1c1c1 86.27%,#f3f3f3 94.49%,#fff 97.62%,#fff 98.93%)"></i><i style="width:2px;background:linear-gradient(#fff 1.069%,#fff 37.75%,#fafafa 38.24%,#f5f5f5 38.4%,#e1e1e1 38.57%,#4f4f4f 38.73%,#ccc 38.9%,#f1f1f1 39.06%,#f9f9f9 39.23%,#fff 39.88%,#fff 45.64%,#f7f7f7 46.96%,#f2f2f2 47.62%,#e9e9e9 48.27%,#dcdcdc 48.93%,#d0d0d0 49.42%,#bcbcbc 50.08%,#797979 51.89%,#636363 52.55%,#545454 53.21%,#505050 53.54%,#4e4e4e 53.87%,#4f4f4f 54.19%,#535353 54.52%,#626262 55.18%,#797979 55.84%,#bababa 57.48%,#cbcbcb 57.98%,#d8d8d8 58.47%,#e4e4e4 58.96%,#ececec 59.46%,#f9f9f9 60.44%,#fff 61.1%,#fff 61.92%,#fafafa 62.42%,#c8c8c8 65.71%,#bbb 66.86%,#b1b1b1 68.01%,#a9a9a9 69.33%,#a3a3a3 70.64%,#a0a0a0 72.12%,#9f9f9f 74.1%,#a4a4a4 78.54%,#afafaf 82.65%,#c1c1c1 86.27%,#f3f3f3 94.49%,#fff 97.62%,#fff 98.93%)"></i><i style="width:2px;background:linear-gradient(#fff 1.069%,#fff 37.58%,#fcfcfc 38.08%,#f8f8f8 38.24%,#efefef 38.4%,#b7b7b7 38.57%,#8f8f8f 38.73%,#e9e9e9 38.9%,#f7f7f7 39.06%,#fbfbfb 39.23%,#fff 39.72%,#fff 45.64%,#f3f3f3 47.45%,#ebebeb 48.11%,#dfdfdf 48.77%,#cfcfcf 49.42%,#bbb 50.08%,#777 51.89%,#616161 52.55%,#525252 53.21%,#4e4e4e 53.54%,#4d4d4d 53.87%,#4e4e4e 54.19%,#525252 54.52%,#626262 55.18%,#7a7a7a 55.84%,#bcbcbc 57.48%,#ccc 57.98%,#dadada 58.47%,#e5e5e5 58.96%,#ededed 59.46%,#fff 60.94%,#fff 61.76%,#fbfbfb 62.25%,#f2f2f2 62.91%,#d7d7d7 64.56%,#c8c8c8 65.54%,#bbb 66.69%,#b0b0b0 68.01%,#a8a8a8 69.33%,#a3a3a3 70.64%,#a0a0a0 72.12%,#9f9f9f 74.1%,#a3a3a3 78.54%,#afafaf 82.65%,#c1c1c1 86.27%,#f3f3f3 94.49%,#fff 97.62%,#fff 98.93%)"></i><i style="width:2px;background:linear-gradient(#fff 1.069%,#fff 37.58%,#fafafa 38.08%,#f5f5f5 38.24%,#dedede 38.4%,#272727 38.57%,#d8d8d8 38.73%,#f3f3f3 38.9%,#fafafa 39.06%,#fff 39.56%,#fff 45.64%,#f7f7f7 46.96%,#efefef 47.78%,#dfdfdf 48.77%,#c9c9c9 49.59%,#aeaeae 50.41%,#6e6e6e 52.06%,#5a5a5a 52.71%,#4e4e4e 53.37%,#4b4b4b 53.87%,#4d4d4d 54.19%,#515151 54.52%,#626262 55.18%,#747474 55.67%,#b7b7b7 57.32%,#cecece 57.98%,#dbdbdb 58.47%,#e6e6e6 58.96%,#eee 59.46%,#f9f9f9 60.28%,#fff 60.94%,#fff 61.76%,#fafafa 62.25%,#c7c7c7 65.54%,#bababa 66.69%,#b0b0b0 67.85%,#a8a8a8 69.16%,#a3a3a3 70.48%,#a0a0a0 71.96%,#9f9f9f 73.93%,#a3a3a3 78.37%,#afafaf 82.65%,#c1c1c1 86.27%,#f3f3f3 94.49%,#fff 97.62%,#fff 98.93%)"></i><i style="width:2px;background:linear-gradient(#fff 1.069%,#fff 37.58%,#f8f8f8 38.08%,#eee 38.24%,#a8a8a8 38.4%,#aaa 38.57%,#ededed 38.73%,#f8f8f8 38.9%,#fbfbfb 39.06%,#fff 39.56%,#fff 45.64%,#f3f3f3 47.45%,#eaeaea 48.11%,#dedede 48.77%,#d2d2d2 49.26%,#bebebe 49.92%,#a6a6a6 50.58%,#727272 51.89%,#5c5c5c 52.55%,#4e4e4e 53.21%,#4b4b4b 53.54%,#4a4a4a 53.87%,#4c4c4c 54.19%,#515151 54.52%,#585858 54.85%,#626262 55.18%,#747474 55.67%,#b8b8b8 57.32%,#cacaca 57.81%,#d8d8d8 58.31%,#e4e4e4 58.8%,#ededed 59.29%,#fff 60.77%,#fff 61.6%,#fbfbfb 62.09%,#c8c8c8 65.38%,#bbb 66.53%,#afafaf 67.85%,#a7a7a7 69.16%,#a2a2a2 70.48%,#9f9f9f 71.96%,#9e9e9e 73.93%,#a3a3a3 78.37%,#afafaf 82.65%,#c1c1c1 86.27%,#f3f3f3 94.49%,#fff 97.62%,#fff 98.93%)"></i><i style="width:2px;background:linear-gradient(#fff 1.069%,#fff 37.42%,#fafafa 37.91%,#f5f5f5 38.08%,#dadada 38.24%,#2f2f2f 38.4%,#e1e1e1 38.57%,#f6f6f6 38.73%,#fbfbfb 38.9%,#fff 39.39%,#fff 45.48%,#f7f7f7 46.96%,#efefef 47.78%,#ddd 48.77%,#c7c7c7 49.59%,#aaa 50.41%,#6f6f6f 51.89%,#5a5a5a 52.55%,#4c4c4c 53.21%,#494949 53.7%,#494949 54.03%,#4d4d4d 54.36%,#535353 54.69%,#5c5c5c 55.02%,#747474 55.67%,#bababa 57.32%,#cbcbcb 57.81%,#d9d9d9 58.31%,#e5e5e5 58.8%,#ededed 59.29%,#f9f9f9 60.12%,#fff 60.77%,#fff 61.6%,#fafafa 62.09%,#c9c9c9 65.21%,#bbb 66.37%,#b0b0b0 67.68%,#a8a8a8 69%,#a2a2a2 70.31%,#9f9f9f 71.79%,#9e9e9e 73.77%,#a2a2a2 78.21%,#aeaeae 82.48%,#c0c0c0 86.27%,#f3f3f3 94.49%,#fff 97.62%,#fff 98.93%)"></i><i style="width:2px;background:linear-gradient(#fff 1.069%,#fff 37.42%,#f8f8f8 37.91%,#ededed 38.08%,#949494 38.24%,#c0c0c0 38.4%,#f1f1f1 38.57%,#f9f9f9 38.73%,#fcfcfc 38.9%,#fff 39.23%,#fff 45.48%,#f8f8f8 46.79%,#f2f2f2 47.45%,#e9e9e9 48.11%,#ddd 48.77%,#d0d0d0 49.26%,#bbb 49.92%,#737373 51.73%,#5c5c5c 52.38%,#4d4d4d 53.04%,#494949 53.37%,#484848 53.7%,#484848 54.03%,#4c4c4c 54.36%,#525252 54.69%,#5c5c5c 55.02%,#757575 55.67%,#bbb 57.32%,#ccc 57.81%,#dbdbdb 58.31%,#ececec 59.13%,#f8f8f8 59.95%,#fff 60.61%,#fff 61.43%,#fafafa 61.92%,#c7c7c7 65.21%,#bababa 66.37%,#afafaf 67.68%,#a7a7a7 69%,#a2a2a2 70.31%,#9f9f9f 71.79%,#9e9e9e 73.77%,#a2a2a2 78.21%,#aeaeae 82.48%,#c0c0c0 86.1%,#f3f3f3 94.49%,#fff 97.62%,#fff 98.93%)"></i><i style="width:2px;background:linear-gradient(#fff 1.069%,#fff 37.25%,#fbfbfb 37.75%,#f5f5f5 37.91%,#d5d5d5 38.08%,#5d5d5d 38.24%,#e8e8e8 38.4%,#f7f7f7 38.57%,#fbfbfb 38.73%,#fff 39.23%,#fff 45.48%,#f4f4f4 47.29%,#ececec 47.94%,#e0e0e0 48.6%,#cfcfcf 49.26%,#b9b9b9 49.92%,#707070 51.73%,#5a5a5a 52.38%,#515151 52.71%,#4b4b4b 53.04%,#474747 53.37%,#464646 53.7%,#474747 54.03%,#4b4b4b 54.36%,#525252 54.69%,#5b5b5b 55.02%,#757575 55.67%,#b6b6b6 57.15%,#c8c8c8 57.65%,#d7d7d7 58.14%,#e3e3e3 58.63%,#ededed 59.13%,#f9f9f9 59.95%,#fff 60.61%,#fff 61.43%,#f9f9f9 61.92%,#c8c8c8 65.05%,#bbb 66.2%,#afafaf 67.52%,#a7a7a7 68.83%,#a2a2a2 70.15%,#9f9f9f 71.63%,#9e9e9e 73.6%,#a2a2a2 78.21%,#aeaeae 82.48%,#c0c0c0 86.27%,#f3f3f3 94.49%,#fff 97.62%,#fff 98.93%)"></i><i style="width:2px;background:linear-gradient(#fff 1.069%,#fff 37.25%,#fcfcfc 37.58%,#f8f8f8 37.75%,#ebebeb 37.91%,#787878 38.08%,#d0d0d0 38.24%,#f4f4f4 38.4%,#fafafa 38.57%,#fff 39.06%,#fff 45.48%,#f4f4f4 47.29%,#ebebeb 47.94%,#dfdfdf 48.6%,#d3d3d3 49.1%,#bebebe 49.75%,#a5a5a5 50.41%,#6e6e6e 51.73%,#575757 52.38%,#4f4f4f 52.71%,#484848 53.04%,#454545 53.37%,#454545 53.7%,#464646 54.03%,#494949 54.36%,#515151 54.69%,#5b5b5b 55.02%,#6e6e6e 55.51%,#b7b7b7 57.15%,#c9c9c9 57.65%,#d8d8d8 58.14%,#ebebeb 58.96%,#f7f7f7 59.79%,#fff 60.44%,#fff 61.27%,#fafafa 61.76%,#c7c7c7 65.05%,#bababa 66.2%,#b0b0b0 67.35%,#a7a7a7 68.67%,#a1a1a1 70.15%,#9e9e9e 71.63%,#9d9d9d 73.6%,#a2a2a2 78.21%,#aeaeae 82.48%,#c0c0c0 86.27%,#f3f3f3 94.49%,#fff 97.62%,#fff 98.93%)"></i><i style="width:2px;background:linear-gradient(#fff 1.069%,#fff 37.09%,#fbfbfb 37.58%,#f4f4f4 37.75%,#cecece 37.91%,#888 38.08%,#ededed 38.24%,#f9f9f9 38.4%,#fcfcfc 38.57%,#fff 38.9%,#fff 45.48%,#f3f3f3 47.29%,#ebebeb 47.94%,#dedede 48.6%,#d2d2d2 49.1%,#bcbcbc 49.75%,#a3a3a3 50.41%,#727272 51.56%,#5a5a5a 52.22%,#505050 52.55%,#494949 52.88%,#454545 53.21%,#434343 53.54%,#464646 54.19%,#4c4c4c 54.52%,#555 54.85%,#6e6e6e 55.51%,#b8b8b8 57.15%,#cacaca 57.65%,#d9d9d9 58.14%,#ebebeb 58.96%,#f8f8f8 59.79%,#fff 60.44%,#fff 61.27%,#f5f5f5 62.09%,#d6d6d6 63.9%,#c8c8c8 64.88%,#bababa 66.04%,#afafaf 67.35%,#a7a7a7 68.67%,#a1a1a1 69.98%,#9e9e9e 71.46%,#9d9d9d 73.44%,#a1a1a1 78.04%,#adadad 82.32%,#c0c0c0 86.1%,#f3f3f3 94.49%,#fff 97.62%,#fff 98.93%)"></i><i style="width:2px;background:linear-gradient(#fff 1.069%,#fff 37.09%,#fcfcfc 37.42%,#f8f8f8 37.58%,#eaeaea 37.75%,#505050 37.91%,#ddd 38.08%,#f6f6f6 38.24%,#fbfbfb 38.4%,#fff 38.9%,#fff 45.48%,#f3f3f3 47.29%,#ebebeb 47.94%,#dedede 48.6%,#d1d1d1 49.1%,#bbb 49.75%,#a1a1a1 50.41%,#6f6f6f 51.56%,#575757 52.22%,#4e4e4e 52.55%,#474747 52.88%,#434343 53.21%,#424242 53.54%,#424242 53.87%,#444 54.19%,#4b4b4b 54.52%,#545454 54.85%,#6e6e6e 55.51%,#b9b9b9 57.15%,#cbcbcb 57.65%,#dadada 58.14%,#ececec 58.96%,#f9f9f9 59.79%,#fff 60.28%,#fff 61.1%,#fafafa 61.6%,#c9c9c9 64.72%,#bbb 65.87%,#afafaf 67.19%,#a7a7a7 68.5%,#a1a1a1 69.98%,#9e9e9e 71.46%,#9d9d9d 73.44%,#a1a1a1 78.04%,#adadad 82.32%,#c0c0c0 86.1%,#f3f3f3 94.49%,#fff 97.62%,#fff 98.93%)"></i><i style="width:2px;background:linear-gradient(#fff 1.069%,#fff 37.09%,#fbfbfb 37.42%,#f4f4f4 37.58%,#c5c5c5 37.75%,#aaa 37.91%,#f1f1f1 38.08%,#fafafa 38.24%,#fcfcfc 38.4%,#fff 38.73%,#fff 45.48%,#f3f3f3 47.29%,#eaeaea 47.94%,#ddd 48.6%,#d0d0d0 49.1%,#bababa 49.75%,#9f9f9f 50.41%,#6d6d6d 51.56%,#545454 52.22%,#4b4b4b 52.55%,#454545 52.88%,#414141 53.21%,#404040 53.54%,#404040 53.87%,#434343 54.19%,#494949 54.52%,#535353 54.85%,#6d6d6d 55.51%,#b3b3b3 56.99%,#c6c6c6 57.48%,#d7d7d7 57.98%,#eaeaea 58.8%,#f8f8f8 59.62%,#fff 60.28%,#fff 61.1%,#f4f4f4 61.92%,#d6d6d6 63.73%,#c7c7c7 64.72%,#bababa 65.87%,#afafaf 67.02%,#a7a7a7 68.34%,#a1a1a1 69.82%,#9e9e9e 71.3%,#9c9c9c 73.27%,#a1a1a1 77.88%,#adadad 82.32%,#c0c0c0 86.1%,#f3f3f3 94.49%,#fff 97.62%,#fff 98.93%)"></i><i style="width:2px;background:linear-gradient(#fff 1.069%,#fff 36.92%,#fcfcfc 37.25%,#f8f8f8 37.42%,#e7e7e7 37.58%,#222 37.75%,#e6e6e6 37.91%,#f8f8f8 38.08%,#fcfcfc 38.24%,#fff 38.57%,#fff 45.48%,#f7f7f7 46.79%,#efefef 47.62%,#e7e7e7 48.11%,#ddd 48.6%,#c4c4c4 49.42%,#a4a4a4 50.25%,#6a6a6a 51.56%,#525252 52.22%,#494949 52.55%,#424242 52.88%,#3f3f3f 53.37%,#404040 54.03%,#454545 54.36%,#4d4d4d 54.69%,#666 55.35%,#b4b4b4 56.99%,#d3d3d3 57.81%,#e8e8e8 58.63%,#f9f9f9 59.62%,#fff 60.12%,#fff 60.94%,#fafafa 61.43%,#c8c8c8 64.56%,#bababa 65.71%,#afafaf 67.02%,#a6a6a6 68.34%,#a0a0a0 69.82%,#9d9d9d 71.3%,#9c9c9c 73.27%,#a1a1a1 77.88%,#adadad 82.32%,#c0c0c0 86.1%,#f3f3f3 94.49%,#fff 97.62%,#fff 98.93%)"></i><i style="width:2px;background:linear-gradient(#fff 1.069%,#fff 36.92%,#fbfbfb 37.25%,#f3f3f3 37.42%,#b6b6b6 37.58%,#c3c3c3 37.75%,#f4f4f4 37.91%,#fbfbfb 38.08%,#fff 38.4%,#fff 45.48%,#f9f9f9 46.63%,#f3f3f3 47.29%,#eaeaea 47.94%,#dcdcdc 48.6%,#cecece 49.1%,#b7b7b7 49.75%,#676767 51.56%,#545454 52.06%,#4a4a4a 52.38%,#434343 52.71%,#3e3e3e 53.04%,#3d3d3d 53.37%,#3e3e3e 54.03%,#474747 54.52%,#515151 54.85%,#5e5e5e 55.18%,#adadad 56.83%,#cecece 57.65%,#ddd 58.14%,#e9e9e9 58.63%,#f7f7f7 59.46%,#fff 60.12%,#fff 60.94%,#f4f4f4 61.76%,#d5d5d5 63.57%,#c7c7c7 64.56%,#b9b9b9 65.71%,#aeaeae 67.02%,#a6a6a6 68.34%,#a0a0a0 69.82%,#9c9c9c 73.27%,#a1a1a1 77.88%,#adadad 82.32%,#c0c0c0 86.1%,#f3f3f3 94.49%,#fff 97.62%,#fff 98.93%)"></i><i style="width:2px;background:linear-gradient(#fff 1.069%,#fff 36.76%,#fcfcfc 37.09%,#f8f8f8 37.25%,#e5e5e5 37.42%,#474747 37.58%,#ececec 37.75%,#f9f9f9 37.91%,#fff 38.4%,#fff 45.48%,#f9f9f9 46.63%,#f3f3f3 47.29%,#e9e9e9 47.94%,#dbdbdb 48.6%,#cdcdcd 49.1%,#b6b6b6 49.75%,#6c6c6c 51.4%,#525252 52.06%,#484848 52.38%,#404040 52.71%,#3c3c3c 53.04%,#3c3c3c 53.37%,#3d3d3d 54.03%,#424242 54.36%,#4b4b4b 54.69%,#656565 55.35%,#b6b6b6 56.99%,#cfcfcf 57.65%,#dadada 57.98%,#e6e6e6 58.47%,#f8f8f8 59.46%,#fff 59.95%,#fff 60.77%,#fafafa 61.27%,#c8c8c8 64.39%,#bababa 65.54%,#aeaeae 66.86%,#a6a6a6 68.17%,#a0a0a0 69.65%,#9d9d9d 71.13%,#9c9c9c 73.11%,#a0a0a0 77.71%,#acacac 82.15%,#bfbfbf 85.94%,#f3f3f3 94.49%,#fff 97.62%,#fff 98.93%)"></i><i style="width:2px;background:linear-gradient(#fff 1.069%,#fff 36.76%,#fbfbfb 37.09%,#f3f3f3 37.25%,#a1a1a1 37.42%,#d5d5d5 37.58%,#f6f6f6 37.75%,#fcfcfc 37.91%,#fff 38.24%,#fff 45.48%,#f8f8f8 46.63%,#f3f3f3 47.29%,#e9e9e9 47.94%,#dbdbdb 48.6%,#ccc 49.1%,#b4b4b4 49.75%,#696969 51.4%,#4f4f4f 52.06%,#454545 52.38%,#3e3e3e 52.71%,#3b3b3b 53.04%,#3a3a3a 53.37%,#3b3b3b 54.03%,#454545 54.52%,#505050 54.85%,#5d5d5d 55.18%,#afafaf 56.83%,#c4c4c4 57.32%,#d0d0d0 57.65%,#dbdbdb 57.98%,#e7e7e7 58.47%,#f7f7f7 59.29%,#fff 59.95%,#fff 60.77%,#f4f4f4 61.6%,#d5d5d5 63.4%,#c6c6c6 64.39%,#b9b9b9 65.54%,#aeaeae 66.69%,#a6a6a6 68.01%,#a0a0a0 69.49%,#9c9c9c 71.13%,#9b9b9b 73.11%,#a0a0a0 77.71%,#acacac 82.15%,#bfbfbf 85.94%,#f3f3f3 94.49%,#fff 97.62%,#fff 98.93%)"></i><i style="width:2px;background:linear-gradient(#fff 1.069%,#fff 36.6%,#fcfcfc 36.92%,#f8f8f8 37.09%,#e0e0e0 37.25%,#7e7e7e 37.42%,#f1f1f1 37.58%,#fafafa 37.75%,#fff 38.08%,#fff 45.48%,#f8f8f8 46.63%,#f3f3f3 47.29%,#e9e9e9 47.94%,#dadada 48.6%,#cbcbcb 49.1%,#b3b3b3 49.75%,#676767 51.4%,#4c4c4c 52.06%,#434343 52.38%,#3c3c3c 52.71%,#393939 53.21%,#3a3a3a 54.03%,#444 54.52%,#4f4f4f 54.85%,#5d5d5d 55.18%,#a8a8a8 56.66%,#bfbfbf 57.15%,#cbcbcb 57.48%,#d7d7d7 57.81%,#e4e4e4 58.31%,#f8f8f8 59.29%,#fff 59.79%,#fff 60.61%,#fafafa 61.1%,#c7c7c7 64.23%,#b9b9b9 65.38%,#aeaeae 66.69%,#a5a5a5 68.01%,#9f9f9f 69.49%,#9c9c9c 70.97%,#9b9b9b 72.94%,#a0a0a0 77.71%,#acacac 82.15%,#bfbfbf 85.94%,#f3f3f3 94.33%,#fff 97.62%,#fff 98.93%)"></i><i style="width:2px;background:linear-gradient(#fff 1.069%,#fff 36.6%,#fbfbfb 36.92%,#f2f2f2 37.09%,#7f7f7f 37.25%,#e2e2e2 37.42%,#f8f8f8 37.58%,#fcfcfc 37.75%,#fff 38.08%,#fff 45.48%,#f8f8f8 46.63%,#f2f2f2 47.29%,#e9e9e9 47.94%,#dedede 48.44%,#d0d0d0 48.93%,#b8b8b8 49.59%,#9b9b9b 50.25%,#646464 51.4%,#4a4a4a 52.06%,#404040 52.38%,#3a3a3a 52.71%,#373737 53.21%,#383838 54.03%,#434343 54.52%,#4e4e4e 54.85%,#5c5c5c 55.18%,#a9a9a9 56.66%,#c0c0c0 57.15%,#ccc 57.48%,#d8d8d8 57.81%,#e5e5e5 58.31%,#f6f6f6 59.13%,#fff 59.79%,#fff 60.61%,#f4f4f4 61.43%,#d5d5d5 63.24%,#c6c6c6 64.23%,#b8b8b8 65.38%,#aeaeae 66.53%,#a5a5a5 67.85%,#9f9f9f 69.33%,#9c9c9c 70.97%,#9b9b9b 72.94%,#a0a0a0 77.71%,#acacac 82.15%,#bfbfbf 85.94%,#f3f3f3 94.33%,#fff 97.62%,#fff 98.93%)"></i><i style="width:2px;background:linear-gradient(#fff 1.069%,#fff 36.43%,#fcfcfc 36.76%,#f8f8f8 36.92%,#dadada 37.09%,#a9a9a9 37.25%,#f4f4f4 37.42%,#fbfbfb 37.58%,#fff 37.91%,#fff 45.48%,#f8f8f8 46.63%,#f2f2f2 47.29%,#e8e8e8 47.94%,#ddd 48.44%,#cfcfcf 48.93%,#b7b7b7 49.59%,#a1a1a1 50.08%,#616161 51.4%,#4d4d4d 51.89%,#424242 52.22%,#3a3a3a 52.55%,#363636 52.88%,#353535 53.21%,#373737 54.03%,#414141 54.52%,#4d4d4d 54.85%,#5c5c5c 55.18%,#aaa 56.66%,#c1c1c1 57.15%,#cdcdcd 57.48%,#e2e2e2 58.14%,#f4f4f4 58.96%,#fafafa 59.29%,#fff 59.79%,#fff 60.44%,#fafafa 60.94%,#c7c7c7 64.06%,#b9b9b9 65.21%,#aeaeae 66.37%,#a6a6a6 67.68%,#9f9f9f 69.16%,#9c9c9c 70.81%,#9b9b9b 72.78%,#9f9f9f 77.55%,#ababab 81.99%,#bfbfbf 85.94%,#f3f3f3 94.33%,#fff 97.62%,#fff 98.93%)"></i><i style="width:2px;background:linear-gradient(#fff 1.069%,#fff 36.43%,#fbfbfb 36.76%,#f0f0f0 36.92%,#4c4c4c 37.09%,#eaeaea 37.25%,#fafafa 37.42%,#fff 37.75%,#fff 45.48%,#f8f8f8 46.63%,#f2f2f2 47.29%,#e8e8e8 47.94%,#ddd 48.44%,#cecece 48.93%,#b5b5b5 49.59%,#9f9f9f 50.08%,#5e5e5e 51.4%,#4a4a4a 51.89%,#3f3f3f 52.22%,#383838 52.55%,#343434 53.04%,#353535 54.03%,#404040 54.52%,#4d4d4d 54.85%,#5c5c5c 55.18%,#ababab 56.66%,#c2c2c2 57.15%,#cecece 57.48%,#d9d9d9 57.81%,#e6e6e6 58.31%,#f8f8f8 59.13%,#fff 59.62%,#fff 60.28%,#fafafa 60.77%,#c5c5c5 64.06%,#b8b8b8 65.21%,#adadad 66.37%,#a5a5a5 67.68%,#9f9f9f 69.16%,#9b9b9b 70.81%,#9a9a9a 72.78%,#9f9f9f 77.55%,#ababab 81.99%,#bfbfbf 85.94%,#f3f3f3 94.33%,#fff 97.62%,#fff 98.93%)"></i><i style="width:2px;background:linear-gradient(#fff 1.069%,#fff 36.27%,#fcfcfc 36.6%,#f8f8f8 36.76%,#d2d2d2 36.92%,#c7c7c7 37.09%,#f7f7f7 37.25%,#fcfcfc 37.42%,#fff 37.75%,#fff 45.48%,#f8f8f8 46.63%,#f2f2f2 47.29%,#e8e8e8 47.94%,#dcdcdc 48.44%,#cdcdcd 48.93%,#b4b4b4 49.59%,#9d9d9d 50.08%,#636363 51.23%,#474747 51.89%,#3d3d3d 52.22%,#363636 52.55%,#323232 53.04%,#323232 53.87%,#373737 54.19%,#3f3f3f 54.52%,#4c4c4c 54.85%,#5b5b5b 55.18%,#9b9b9b 56.33%,#b4b4b4 56.83%,#cfcfcf 57.48%,#dfdfdf 57.98%,#f3f3f3 58.8%,#f9f9f9 59.13%,#fff 59.62%,#fff 60.28%,#f9f9f9 60.77%,#c6c6c6 63.9%,#b8b8b8 65.05%,#aeaeae 66.2%,#a5a5a5 67.52%,#9f9f9f 69%,#9b9b9b 70.64%,#9a9a9a 72.62%,#9f9f9f 77.38%,#ababab 81.99%,#bebebe 85.77%,#f3f3f3 94.33%,#fff 97.62%,#fff 98.93%)"></i><i style="width:2px;background:linear-gradient(#fff 1.069%,#fff 36.27%,#fbfbfb 36.6%,#efefef 36.76%,#2a2a2a 36.92%,#f0f0f0 37.09%,#fbfbfb 37.25%,#fff 37.58%,#fff 45.48%,#f8f8f8 46.63%,#f2f2f2 47.29%,#eaeaea 47.78%,#e0e0e0 48.27%,#d2d2d2 48.77%,#c7c7c7 49.1%,#ababab 49.75%,#606060 51.23%,#444 51.89%,#3a3a3a 52.22%,#333 52.55%,#313131 53.04%,#313131 53.87%,#353535 54.19%,#3e3e3e 54.52%,#4b4b4b 54.85%,#5b5b5b 55.18%,#a4a4a4 56.5%,#bcbcbc 56.99%,#cacaca 57.32%,#d6d6d6 57.65%,#e4e4e4 58.14%,#f8f8f8 58.96%,#fff 59.46%,#fff 60.12%,#fafafa 60.61%,#c7c7c7 63.73%,#b9b9b9 64.88%,#adadad 66.2%,#a4a4a4 67.52%,#9e9e9e 69%,#9b9b9b 70.64%,#9a9a9a 72.62%,#9f9f9f 77.38%,#ababab 81.99%,#bebebe 85.77%,#f3f3f3 94.33%,#fff 97.62%,#fff 98.93%)"></i><i style="width:2px;background:linear-gradient(#fff 1.069%,#fff 36.27%,#f7f7f7 36.6%,#c3c3c3 36.76%,#dadada 36.92%,#f9f9f9 37.09%,#fff 37.42%,#fff 45.48%,#f8f8f8 46.63%,#f2f2f2 47.29%,#e7e7e7 47.94%,#dbdbdb 48.44%,#ccc 48.93%,#b1b1b1 49.59%,#999 50.08%,#5e5e5e 51.23%,#474747 51.73%,#3c3c3c 52.06%,#343434 52.38%,#2f2f2f 52.88%,#2f2f2f 53.87%,#313131 54.03%,#383838 54.36%,#444 54.69%,#525252 55.02%,#a5a5a5 56.5%,#bdbdbd 56.99%,#cbcbcb 57.32%,#dcdcdc 57.81%,#f1f1f1 58.63%,#f9f9f9 58.96%,#fff 59.46%,#fff 60.12%,#f9f9f9 60.61%,#c6c6c6 63.73%,#b8b8b8 64.88%,#adadad 66.04%,#a5a5a5 67.35%,#9e9e9e 68.83%,#9b9b9b 70.48%,#9a9a9a 72.45%,#9e9e9e 77.22%,#ababab 81.83%,#bebebe 85.77%,#f3f3f3 94.33%,#fff 97.62%,#fff 98.93%)"></i><i style="width:2px;background:linear-gradient(#fff 1.069%,#fff 36.1%,#fbfbfb 36.43%,#ededed 36.6%,#6e6e6e 36.76%,#f4f4f4 36.92%,#fcfcfc 37.09%,#fff 37.42%,#fff 45.48%,#f8f8f8 46.63%,#f2f2f2 47.29%,#e7e7e7 47.94%,#dadada 48.44%,#cbcbcb 48.93%,#afafaf 49.59%,#5b5b5b 51.23%,#444 51.73%,#393939 52.06%,#313131 52.38%,#2d2d2d 52.88%,#2e2e2e 53.87%,#303030 54.03%,#373737 54.36%,#434343 54.69%,#525252 55.02%,#a6a6a6 56.5%,#bebebe 56.99%,#ccc 57.32%,#ddd 57.81%,#f3f3f3 58.63%,#fff 59.29%,#fff 59.95%,#fafafa 60.44%,#c7c7c7 63.57%,#b9b9b9 64.72%,#adadad 66.04%,#a4a4a4 67.35%,#9e9e9e 68.83%,#9a9a9a 70.48%,#999 72.45%,#9e9e9e 77.22%,#ababab 81.83%,#bebebe 85.77%,#f3f3f3 94.33%,#fff 97.62%,#fff 98.93%)"></i><i style="width:2px;background:linear-gradient(#fff 1.069%,#fff 36.1%,#fcfcfc 36.27%,#f7f7f7 36.43%,#ababab 36.6%,#e6e6e6 36.76%,#fafafa 36.92%,#fff 37.25%,#fff 45.48%,#f8f8f8 46.63%,#f2f2f2 47.29%,#e6e6e6 47.94%,#dadada 48.44%,#c9c9c9 48.93%,#aeaeae 49.59%,#606060 51.07%,#414141 51.73%,#363636 52.06%,#2f2f2f 52.38%,#2c2c2c 52.88%,#2c2c2c 53.87%,#2e2e2e 54.03%,#363636 54.36%,#424242 54.69%,#525252 55.02%,#a7a7a7 56.5%,#c7c7c7 57.15%,#d9d9d9 57.65%,#f4f4f4 58.63%,#fff 59.29%,#fff 59.95%,#f9f9f9 60.44%,#c6c6c6 63.57%,#b8b8b8 64.72%,#adadad 65.87%,#a4a4a4 67.19%,#9e9e9e 68.67%,#9a9a9a 70.31%,#999 72.29%,#9e9e9e 77.22%,#ababab 81.83%,#bebebe 85.77%,#f3f3f3 94.33%,#fff 97.62%,#fff 98.93%)"></i><i style="width:2px;background:linear-gradient(#fff 1.069%,#fff 35.94%,#fbfbfb 36.27%,#e9e9e9 36.43%,#a6a6a6 36.6%,#f7f7f7 36.76%,#fcfcfc 36.92%,#fff 37.09%,#fff 45.48%,#f8f8f8 46.63%,#f1f1f1 47.29%,#e6e6e6 47.94%,#d9d9d9 48.44%,#c8c8c8 48.93%,#b4b4b4 49.42%,#9b9b9b 49.92%,#5d5d5d 51.07%,#3e3e3e 51.73%,#333 52.06%,#2c2c2c 52.38%,#2a2a2a 52.88%,#2b2b2b 53.87%,#2c2c2c 54.03%,#343434 54.36%,#414141 54.69%,#515151 55.02%,#a8a8a8 56.5%,#c8c8c8 57.15%,#dadada 57.65%,#f1f1f1 58.47%,#f9f9f9 58.8%,#fff 59.29%,#fff 59.95%,#f3f3f3 60.77%,#d6d6d6 62.42%,#c7c7c7 63.4%,#b8b8b8 64.56%,#acacac 65.87%,#a4a4a4 67.19%,#9d9d9d 68.67%,#9a9a9a 70.31%,#999 72.29%,#9e9e9e 77.22%,#aaa 81.83%,#bebebe 85.77%,#f3f3f3 94.33%,#fff 97.62%,#fff 98.93%)"></i><i style="width:2px;background:linear-gradient(#fff 1.069%,#fff 35.94%,#fcfcfc 36.1%,#f6f6f6 36.27%,#818181 36.43%,#eee 36.6%,#fbfbfb 36.76%,#fff 37.09%,#fff 45.48%,#f8f8f8 46.63%,#f1f1f1 47.29%,#e5e5e5 47.94%,#d8d8d8 48.44%,#c7c7c7 48.93%,#b2b2b2 49.42%,#999 49.92%,#595959 51.07%,#424242 51.56%,#353535 51.89%,#2d2d2d 52.22%,#282828 52.71%,#292929 53.87%,#2b2b2b 54.03%,#333 54.36%,#404040 54.69%,#515151 55.02%,#a0a0a0 56.33%,#bababa 56.83%,#c9c9c9 57.15%,#dbdbdb 57.65%,#f3f3f3 58.47%,#fff 59.13%,#fff 59.79%,#fafafa 60.28%,#c5c5c5 63.4%,#b7b7b7 64.56%,#adadad 65.71%,#a4a4a4 67.02%,#9d9d9d 68.5%,#9a9a9a 70.15%,#999 72.12%,#9d9d9d 77.06%,#aaa 81.66%,#bdbdbd 85.61%,#f3f3f3 94.33%,#fff 97.62%,#fff 98.93%)"></i><i style="width:2px;background:linear-gradient(#fff 1.069%,#fff 35.77%,#fbfbfb 36.1%,#e4e4e4 36.27%,#cacaca 36.43%,#f9f9f9 36.6%,#fff 36.92%,#fff 45.48%,#f8f8f8 46.63%,#f1f1f1 47.29%,#e5e5e5 47.94%,#d7d7d7 48.44%,#c6c6c6 48.93%,#b0b0b0 49.42%,#969696 49.92%,#565656 51.07%,#3e3e3e 51.56%,#323232 51.89%,#2a2a2a 52.22%,#262626 52.71%,#272727 53.87%,#292929 54.03%,#323232 54.36%,#404040 54.69%,#515151 55.02%,#a1a1a1 56.33%,#bbb 56.83%,#cacaca 57.15%,#dcdcdc 57.65%,#f4f4f4 58.47%,#fbfbfb 58.8%,#fff 59.13%,#fff 59.79%,#f4f4f4 60.61%,#d6d6d6 62.25%,#c6c6c6 63.24%,#b8b8b8 64.39%,#acacac 65.71%,#a3a3a3 67.02%,#9d9d9d 68.5%,#9a9a9a 70.15%,#989898 72.12%,#9d9d9d 77.06%,#aaa 81.66%,#bdbdbd 85.61%,#f3f3f3 94.33%,#fff 97.45%,#fff 98.93%)"></i><i style="width:2px;background:linear-gradient(#fff 1.069%,#fff 35.77%,#fcfcfc 35.94%,#f5f5f5 36.1%,#3d3d3d 36.27%,#f3f3f3 36.43%,#fcfcfc 36.6%,#fff 36.76%,#fff 45.48%,#f9f9f9 46.46%,#f3f3f3 47.12%,#e8e8e8 47.78%,#dcdcdc 48.27%,#cbcbcb 48.77%,#aeaeae 49.42%,#949494 49.92%,#535353 51.07%,#3b3b3b 51.56%,#2f2f2f 51.89%,#272727 52.22%,#252525 52.71%,#262626 53.87%,#282828 54.03%,#313131 54.36%,#3f3f3f 54.69%,#515151 55.02%,#a2a2a2 56.33%,#c4c4c4 56.99%,#d8d8d8 57.48%,#f1f1f1 58.31%,#fff 58.96%,#fff 59.62%,#fafafa 60.12%,#c5c5c5 63.24%,#b7b7b7 64.39%,#acacac 65.54%,#a3a3a3 67.02%,#9d9d9d 68.5%,#999 70.15%,#989898 72.12%,#9d9d9d 77.06%,#aaa 81.66%,#bdbdbd 85.61%,#f3f3f3 94.33%,#fff 97.45%,#fff 98.93%)"></i><i style="width:2px;background:linear-gradient(#fff 1.069%,#fff 35.61%,#fafafa 35.94%,#dcdcdc 36.1%,#dedede 36.27%,#fafafa 36.43%,#fff 36.76%,#fff 45.48%,#f9f9f9 46.46%,#f3f3f3 47.12%,#e8e8e8 47.78%,#dbdbdb 48.27%,#cacaca 48.77%,#acacac 49.42%,#919191 49.92%,#585858 50.9%,#474747 51.23%,#383838 51.56%,#282828 52.06%,#232323 52.38%,#232323 52.55%,#242424 53.87%,#272727 54.03%,#303030 54.36%,#474747 54.85%,#a3a3a3 56.33%,#c5c5c5 56.99%,#d9d9d9 57.48%,#f3f3f3 58.31%,#fafafa 58.63%,#fff 58.96%,#fff 59.62%,#f9f9f9 60.12%,#c6c6c6 63.08%,#b8b8b8 64.23%,#ababab 65.54%,#a3a3a3 66.86%,#9d9d9d 68.34%,#999 69.98%,#989898 71.96%,#9d9d9d 76.89%,#aaa 81.66%,#bdbdbd 85.61%,#f3f3f3 94.33%,#fff 97.45%,#fff 98.93%)"></i><i style="width:2px;background:linear-gradient(#fff 1.069%,#fff 35.61%,#fcfcfc 35.77%,#f4f4f4 35.94%,#515151 36.1%,#f7f7f7 36.27%,#fdfdfd 36.43%,#fff 36.6%,#fff 45.48%,#f9f9f9 46.46%,#f2f2f2 47.12%,#e7e7e7 47.78%,#dadada 48.27%,#c8c8c8 48.77%,#aaa 49.42%,#8f8f8f 49.92%,#545454 50.9%,#3b3b3b 51.4%,#2e2e2e 51.73%,#252525 52.06%,#232323 52.22%,#212121 52.55%,#212121 53.7%,#232323 53.87%,#2a2a2a 54.19%,#363636 54.52%,#474747 54.85%,#a4a4a4 56.33%,#c7c7c7 56.99%,#dadada 57.48%,#f4f4f4 58.31%,#fbfbfb 58.63%,#fff 58.96%,#fff 59.46%,#fafafa 59.95%,#c5c5c5 63.08%,#b7b7b7 64.23%,#acacac 65.38%,#a2a2a2 66.86%,#9c9c9c 68.34%,#999 69.98%,#989898 71.96%,#9d9d9d 76.89%,#aaa 81.66%,#bdbdbd 85.61%,#f3f3f3 94.33%,#fff 97.45%,#fff 98.93%)"></i><i style="width:2px;background:linear-gradient(#fff 1.069%,#fff 35.44%,#fafafa 35.77%,#cecece 35.94%,#eaeaea 36.1%,#fbfbfb 36.27%,#fff 36.6%,#fff 45.31%,#f9f9f9 46.46%,#f2f2f2 47.12%,#e6e6e6 47.78%,#d9d9d9 48.27%,#c7c7c7 48.77%,#b0b0b0 49.26%,#959595 49.75%,#515151 50.9%,#383838 51.4%,#2b2b2b 51.73%,#232323 52.06%,#202020 52.55%,#202020 53.7%,#212121 53.87%,#292929 54.19%,#363636 54.52%,#474747 54.85%,#a6a6a6 56.33%,#c8c8c8 56.99%,#d5d5d5 57.32%,#f1f1f1 58.14%,#f9f9f9 58.47%,#fff 58.8%,#fff 59.46%,#f9f9f9 59.95%,#c6c6c6 62.91%,#b7b7b7 64.06%,#ababab 65.38%,#a2a2a2 66.69%,#9c9c9c 68.17%,#999 69.82%,#979797 71.79%,#9c9c9c 76.73%,#a9a9a9 81.5%,#bcbcbc 85.44%,#f3f3f3 94.33%,#fff 97.45%,#fff 98.93%)"></i><i style="width:2px;background:linear-gradient(#fff 1.069%,#fff 35.44%,#fcfcfc 35.61%,#f2f2f2 35.77%,#9d9d9d 35.94%,#f9f9f9 36.1%,#fff 36.43%,#fff 45.31%,#f9f9f9 46.46%,#f2f2f2 47.12%,#e6e6e6 47.78%,#d8d8d8 48.27%,#c5c5c5 48.77%,#aeaeae 49.26%,#939393 49.75%,#4d4d4d 50.9%,#343434 51.4%,#232323 51.89%,#202020 52.06%,#1e1e1e 52.38%,#1e1e1e 53.7%,#202020 53.87%,#282828 54.19%,#363636 54.52%,#474747 54.85%,#9d9d9d 56.17%,#c2c2c2 56.83%,#d7d7d7 57.32%,#f2f2f2 58.14%,#fafafa 58.47%,#fff 58.8%,#fff 59.29%,#fafafa 59.79%,#c5c5c5 62.91%,#b7b7b7 64.06%,#acacac 65.21%,#a2a2a2 66.69%,#9c9c9c 68.17%,#989898 69.82%,#979797 71.79%,#9c9c9c 76.73%,#a9a9a9 81.5%,#bcbcbc 85.44%,#f3f3f3 94.33%,#fff 97.45%,#fff 98.93%)"></i><i style="width:2px;background:linear-gradient(#fff 1.069%,#fff 35.28%,#fafafa 35.61%,#b3b3b3 35.77%,#f1f1f1 35.94%,#fcfcfc 36.1%,#fff 36.27%,#fff 45.31%,#f9f9f9 46.46%,#f2f2f2 47.12%,#e5e5e5 47.78%,#d7d7d7 48.27%,#c4c4c4 48.77%,#acacac 49.26%,#909090 49.75%,#535353 50.74%,#383838 51.23%,#2a2a2a 51.56%,#212121 51.89%,#1e1e1e 52.06%,#1d1d1d 52.38%,#1d1d1d 53.7%,#1f1f1f 53.87%,#272727 54.19%,#353535 54.52%,#484848 54.85%,#9f9f9f 56.17%,#c3c3c3 56.83%,#d8d8d8 57.32%,#f4f4f4 58.14%,#fbfbfb 58.47%,#fff 58.8%,#fff 59.29%,#f9f9f9 59.79%,#c6c6c6 62.75%,#b7b7b7 63.9%,#acacac 65.05%,#a2a2a2 66.53%,#9c9c9c 68.01%,#989898 69.65%,#979797 71.63%,#9c9c9c 76.73%,#a9a9a9 81.5%,#bcbcbc 85.44%,#f2f2f2 94.16%,#fff 97.45%,#fff 98.93%)"></i><i style="width:2px;background:linear-gradient(#fff 1.069%,#fff 35.28%,#fcfcfc 35.44%,#f0f0f0 35.61%,#cacaca 35.77%,#fafafa 35.94%,#fff 36.27%,#fff 45.31%,#fafafa 46.3%,#f4f4f4 46.96%,#e8e8e8 47.62%,#dbdbdb 48.11%,#c9c9c9 48.6%,#a9a9a9 49.26%,#8d8d8d 49.75%,#4f4f4f 50.74%,#343434 51.23%,#222 51.73%,#1c1c1c 52.06%,#1b1b1b 52.22%,#1b1b1b 53.7%,#1e1e1e 53.87%,#272727 54.19%,#3f3f3f 54.69%,#535353 55.02%,#a1a1a1 56.17%,#b4b4b4 56.5%,#c5c5c5 56.83%,#d3d3d3 57.15%,#f0f0f0 57.98%,#f9f9f9 58.31%,#fff 58.63%,#fff 59.29%,#f9f9f9 59.79%,#d2d2d2 61.92%,#c5c5c5 62.75%,#b6b6b6 63.9%,#acacac 65.05%,#a2a2a2 66.53%,#9b9b9b 68.01%,#989898 69.65%,#979797 71.63%,#9c9c9c 76.73%,#a9a9a9 81.5%,#bcbcbc 85.44%,#f2f2f2 94.16%,#fff 97.45%,#fff 98.93%)"></i><i style="width:2px;background:linear-gradient(#fff 1.069%,#fff 35.12%,#fdfdfd 35.28%,#f9f9f9 35.44%,#7d7d7d 35.61%,#f6f6f6 35.77%,#fdfdfd 35.94%,#fff 36.1%,#fff 45.31%,#fafafa 46.3%,#f3f3f3 46.96%,#e8e8e8 47.62%,#dadada 48.11%,#c7c7c7 48.6%,#b0b0b0 49.1%,#939393 49.59%,#4b4b4b 50.74%,#303030 51.23%,#232323 51.56%,#1f1f1f 51.73%,#1c1c1c 51.89%,#1a1a1a 52.22%,#1a1a1a 53.7%,#1d1d1d 53.87%,#262626 54.19%,#3f3f3f 54.69%,#a3a3a3 56.17%,#b6b6b6 56.5%,#c7c7c7 56.83%,#d5d5d5 57.15%,#f2f2f2 57.98%,#fafafa 58.31%,#fff 58.63%,#fff 59.13%,#fafafa 59.62%,#efefef 60.28%,#d1d1d1 61.92%,#c4c4c4 62.75%,#b6b6b6 63.9%,#ababab 65.05%,#a2a2a2 66.37%,#9b9b9b 67.85%,#989898 69.49%,#979797 71.46%,#9b9b9b 76.56%,#a8a8a8 81.33%,#bcbcbc 85.44%,#f2f2f2 94.16%,#fff 97.45%,#fff 98.93%)"></i><i style="width:2px;background:linear-gradient(#fff 1.069%,#fff 35.12%,#fcfcfc 35.28%,#ececec 35.44%,#e2e2e2 35.61%,#fcfcfc 35.77%,#fff 35.94%,#fff 45.31%,#f9f9f9 46.3%,#f3f3f3 46.96%,#e7e7e7 47.62%,#d9d9d9 48.11%,#c5c5c5 48.6%,#adadad 49.1%,#909090 49.59%,#464646 50.74%,#2c2c2c 51.23%,#202020 51.56%,#1c1c1c 51.73%,#191919 51.89%,#181818 52.22%,#181818 53.54%,#191919 53.7%,#202020 54.03%,#2e2e2e 54.36%,#404040 54.69%,#9a9a9a 56%,#b8b8b8 56.5%,#c9c9c9 56.83%,#d7d7d7 57.15%,#f4f4f4 57.98%,#fbfbfb 58.31%,#fff 58.63%,#fff 59.13%,#f9f9f9 59.62%,#c5c5c5 62.58%,#b6b6b6 63.73%,#ababab 64.88%,#a1a1a1 66.37%,#9b9b9b 67.85%,#979797 69.49%,#969696 71.46%,#9b9b9b 76.56%,#a8a8a8 81.33%,#bbb 85.28%,#f2f2f2 94.16%,#fff 97.45%,#fff 98.93%)"></i><i style="width:2px;background:linear-gradient(#fff 1.069%,#fff 34.95%,#fdfdfd 35.12%,#f9f9f9 35.28%,#333 35.44%,#f9f9f9 35.61%,#fdfdfd 35.77%,#fff 35.94%,#fff 45.31%,#f9f9f9 46.3%,#f2f2f2 46.96%,#e6e6e6 47.62%,#d7d7d7 48.11%,#c3c3c3 48.6%,#aaa 49.1%,#8c8c8c 49.59%,#4b4b4b 50.58%,#303030 51.07%,#222 51.4%,#1d1d1d 51.56%,#191919 51.73%,#171717 52.06%,#171717 53.54%,#181818 53.7%,#202020 54.03%,#2f2f2f 54.36%,#414141 54.69%,#9d9d9d 56%,#b1b1b1 56.33%,#c3c3c3 56.66%,#d2d2d2 56.99%,#f0f0f0 57.81%,#f9f9f9 58.14%,#fff 58.47%,#fff 59.13%,#f3f3f3 59.95%,#d4d4d4 61.6%,#c4c4c4 62.58%,#b5b5b5 63.73%,#ababab 64.88%,#a1a1a1 66.37%,#9b9b9b 67.85%,#979797 69.49%,#969696 71.46%,#9b9b9b 76.56%,#a8a8a8 81.33%,#bbb 85.28%,#f2f2f2 94.16%,#fff 97.45%,#fff 98.93%)"></i><i style="width:2px;background:linear-gradient(#fff 1.069%,#fff 34.95%,#fcfcfc 35.12%,#e5e5e5 35.28%,#eee 35.44%,#fdfdfd 35.61%,#fff 35.77%,#fff 45.31%,#f9f9f9 46.3%,#f2f2f2 46.96%,#e5e5e5 47.62%,#d5d5d5 48.11%,#c1c1c1 48.6%,#a7a7a7 49.1%,#888 49.59%,#464646 50.58%,#2b2b2b 51.07%,#1e1e1e 51.4%,#1a1a1a 51.56%,#171717 51.73%,#161616 52.06%,#161616 53.54%,#171717 53.7%,#202020 54.03%,#272727 54.19%,#393939 54.52%,#4e4e4e 54.85%,#a0a0a0 56%,#b4b4b4 56.33%,#c5c5c5 56.66%,#d4d4d4 56.99%,#f2f2f2 57.81%,#fafafa 58.14%,#fff 58.47%,#fff 58.96%,#fafafa 59.46%,#c5c5c5 62.42%,#b6b6b6 63.57%,#ababab 64.72%,#a1a1a1 66.2%,#9b9b9b 67.68%,#979797 69.33%,#969696 71.3%,#9b9b9b 76.4%,#a1a1a1 79.03%,#a8a8a8 81.33%,#bbb 85.28%,#f2f2f2 94.16%,#fff 97.45%,#fff 98.93%)"></i><i style="width:4px;background:linear-gradient(#fff 1.069%,#fff 34.79%,#fdfdfd 34.95%,#e4e4e4 35.28%,#fcfcfc 35.44%,#fff 35.61%,#fff 45.31%,#f9f9f9 46.3%,#f3f3f3 46.79%,#e7e7e7 47.45%,#d9d9d9 47.94%,#c5c5c5 48.44%,#ababab 48.93%,#8c8c8c 49.42%,#494949 50.41%,#2c2c2c 50.9%,#1e1e1e 51.23%,#191919 51.4%,#161616 51.56%,#141414 51.89%,#141414 53.54%,#1b1b1b 53.87%,#292929 54.19%,#3c3c3c 54.52%,#999 55.84%,#afafaf 56.17%,#c1c1c1 56.5%,#d7d7d7 56.99%,#efefef 57.65%,#f9f9f9 57.98%,#fff 58.31%,#fff 58.96%,#fbfbfb 59.29%,#c4c4c4 62.42%,#b5b5b5 63.57%,#aaa 64.72%,#a1a1a1 66.04%,#9b9b9b 67.52%,#979797 69.16%,#969696 71.13%,#9a9a9a 76.23%,#a8a8a8 81.17%,#bbb 85.28%,#f2f2f2 94.16%,#fff 97.45%,#fff 98.93%)"></i><i style="width:4px;background:linear-gradient(#fff 1.069%,#fff 34.62%,#fdfdfd 34.79%,#ededed 34.95%,#f0f0f0 35.12%,#fdfdfd 35.28%,#fff 35.44%,#fff 45.31%,#f8f8f8 46.3%,#f2f2f2 46.79%,#e5e5e5 47.45%,#d5d5d5 47.94%,#bfbfbf 48.44%,#a3a3a3 48.93%,#838383 49.42%,#494949 50.25%,#2b2b2b 50.74%,#1c1c1c 51.07%,#171717 51.23%,#131313 51.4%,#111 51.73%,#111 53.37%,#131313 53.54%,#1c1c1c 53.87%,#232323 54.03%,#353535 54.36%,#4b4b4b 54.69%,#a0a0a0 55.84%,#b5b5b5 56.17%,#c6c6c6 56.5%,#d5d5d5 56.83%,#f3f3f3 57.65%,#fbfbfb 57.98%,#fff 58.31%,#fff 58.8%,#f9f9f9 59.29%,#d2d2d2 61.43%,#c4c4c4 62.25%,#b5b5b5 63.4%,#aaa 64.56%,#a0a0a0 66.04%,#9a9a9a 67.52%,#969696 69.16%,#959595 71.13%,#9a9a9a 76.23%,#a7a7a7 81.17%,#bbb 85.12%,#f3f3f3 94.16%,#fff 97.45%,#fff 98.93%)"></i><i style="width:4px;background:linear-gradient(#fff 1.069%,#fff 34.46%,#fdfdfd 34.62%,#e5e5e5 34.79%,#f6f6f6 34.95%,#fefefe 35.12%,#fff 35.28%,#fff 45.15%,#f9f9f9 46.13%,#f4f4f4 46.63%,#e7e7e7 47.29%,#d8d8d8 47.78%,#c2c2c2 48.27%,#a6a6a6 48.77%,#858585 49.26%,#494949 50.08%,#2a2a2a 50.58%,#1a1a1a 50.9%,#151515 51.07%,#111 51.23%,#0f0f0f 51.56%,#0f0f0f 53.37%,#161616 53.7%,#252525 54.03%,#393939 54.36%,#9b9b9b 55.67%,#b1b1b1 56%,#c3c3c3 56.33%,#d9d9d9 56.83%,#f1f1f1 57.48%,#fafafa 57.81%,#fff 58.14%,#fff 58.63%,#fafafa 59.13%,#c5c5c5 62.09%,#b5b5b5 63.24%,#aaa 64.39%,#a0a0a0 65.87%,#999 67.35%,#969696 69%,#959595 70.97%,#9a9a9a 76.23%,#a7a7a7 81.17%,#bbb 85.12%,#f3f3f3 94.16%,#fff 97.45%,#fff 98.93%)"></i><i style="width:4px;background:linear-gradient(#fff 1.069%,#fff 34.29%,#fdfdfd 34.46%,#d4d4d4 34.62%,#fafafa 34.79%,#fff 34.95%,#fff 45.15%,#f9f9f9 46.13%,#f3f3f3 46.63%,#e5e5e5 47.29%,#d4d4d4 47.78%,#bdbdbd 48.27%,#9f9f9f 48.77%,#4b4b4b 49.92%,#2a2a2a 50.41%,#191919 50.74%,#131313 50.9%,#0f0f0f 51.07%,#0d0d0d 51.4%,#0d0d0d 53.21%,#0e0e0e 53.37%,#171717 53.7%,#1e1e1e 53.87%,#323232 54.19%,#494949 54.52%,#959595 55.51%,#ababab 55.84%,#bfbfbf 56.17%,#d7d7d7 56.66%,#efefef 57.32%,#f9f9f9 57.65%,#fff 57.98%,#fff 58.63%,#fbfbfb 58.96%,#c5c5c5 61.92%,#b5b5b5 63.08%,#aaa 64.23%,#a0a0a0 65.71%,#999 67.19%,#959595 68.83%,#949494 70.81%,#9a9a9a 76.07%,#a7a7a7 81%,#bababa 84.95%,#e8e8e8 92.19%,#f3f3f3 94.16%,#fff 97.45%,#fff 98.93%)"></i><i style="width:4px;background:linear-gradient(#fff 1.069%,#fff 34.13%,#fdfdfd 34.29%,#a3a3a3 34.46%,#fcfcfc 34.62%,#fff 34.79%,#fff 45.15%,#f8f8f8 46.13%,#f2f2f2 46.63%,#e8e8e8 47.12%,#d8d8d8 47.62%,#c1c1c1 48.11%,#a3a3a3 48.6%,#8c8c8c 48.93%,#414141 49.92%,#212121 50.41%,#121212 50.74%,#0e0e0e 50.9%,#0b0b0b 51.23%,#0b0b0b 53.21%,#121212 53.54%,#212121 53.87%,#353535 54.19%,#9b9b9b 55.51%,#b1b1b1 55.84%,#c4c4c4 56.17%,#dadada 56.66%,#f2f2f2 57.32%,#fbfbfb 57.65%,#fff 57.98%,#fff 58.47%,#f9f9f9 58.96%,#c5c5c5 61.76%,#b6b6b6 62.91%,#aaa 64.06%,#9f9f9f 65.54%,#999 67.02%,#959595 68.67%,#949494 70.64%,#999 75.9%,#9f9f9f 78.7%,#a7a7a7 81%,#bababa 84.95%,#f2f2f2 94%,#fff 97.45%,#fff 98.93%)"></i><i style="width:4px;background:linear-gradient(#fff 1.069%,#fff 33.96%,#fdfdfd 34.13%,#555 34.29%,#fdfdfd 34.46%,#fff 34.62%,#fff 45.15%,#f8f8f8 46.13%,#f1f1f1 46.63%,#e6e6e6 47.12%,#d4d4d4 47.62%,#c5c5c5 47.94%,#a7a7a7 48.44%,#838383 48.93%,#434343 49.75%,#222 50.25%,#121212 50.58%,#0d0d0d 50.74%,#090909 51.07%,#090909 53.04%,#0a0a0a 53.21%,#131313 53.54%,#1a1a1a 53.7%,#2e2e2e 54.03%,#464646 54.36%,#949494 55.35%,#acacac 55.67%,#c0c0c0 56%,#d8d8d8 56.5%,#f0f0f0 57.15%,#f9f9f9 57.48%,#fff 57.81%,#fff 58.47%,#f5f5f5 59.13%,#d4d4d4 60.77%,#c3c3c3 61.76%,#b6b6b6 62.75%,#aaa 63.9%,#9f9f9f 65.38%,#999 66.86%,#959595 68.5%,#939393 70.48%,#999 75.74%,#9e9e9e 78.37%,#a6a6a6 80.84%,#bababa 84.95%,#f2f2f2 94%,#fff 97.45%,#fff 98.93%)"></i><i style="width:4px;background:linear-gradient(#fff 1.069%,#fff 33.8%,#fdfdfd 33.96%,#c9c9c9 34.13%,#fff 34.29%,#fff 45.15%,#f9f9f9 45.97%,#f3f3f3 46.46%,#e8e8e8 46.96%,#d7d7d7 47.45%,#c8c8c8 47.78%,#ababab 48.27%,#878787 48.77%,#383838 49.75%,#222 50.08%,#121212 50.41%,#0c0c0c 50.58%,#090909 50.74%,#080808 50.9%,#080808 53.04%,#0a0a0a 53.21%,#0e0e0e 53.37%,#1d1d1d 53.7%,#323232 54.03%,#9b9b9b 55.35%,#b1b1b1 55.67%,#c5c5c5 56%,#dcdcdc 56.5%,#f3f3f3 57.15%,#fbfbfb 57.48%,#fff 57.81%,#fff 58.31%,#f8f8f8 58.8%,#d2d2d2 60.77%,#c4c4c4 61.6%,#b6b6b6 62.58%,#aaa 63.73%,#9f9f9f 65.21%,#989898 66.69%,#949494 68.34%,#939393 70.31%,#949494 72.94%,#989898 75.74%,#9e9e9e 78.37%,#a6a6a6 80.84%,#b9b9b9 84.79%,#f2f2f2 94%,#fff 97.45%,#fff 98.93%)"></i><i style="width:4px;background:linear-gradient(#fff 1.069%,#fff 33.63%,#fdfdfd 33.8%,#efefef 33.96%,#fff 34.13%,#fff 45.15%,#f8f8f8 45.97%,#f1f1f1 46.46%,#e6e6e6 46.96%,#d3d3d3 47.45%,#c3c3c3 47.78%,#a4a4a4 48.27%,#8b8b8b 48.6%,#3a3a3a 49.59%,#232323 49.92%,#121212 50.25%,#0b0b0b 50.41%,#080808 50.58%,#070707 50.74%,#070707 53.04%,#0a0a0a 53.21%,#101010 53.37%,#171717 53.54%,#2b2b2b 53.87%,#444 54.19%,#959595 55.18%,#adadad 55.51%,#c1c1c1 55.84%,#d9d9d9 56.33%,#f1f1f1 56.99%,#fafafa 57.32%,#fff 57.65%,#fff 58.14%,#f9f9f9 58.63%,#d3d3d3 60.61%,#c4c4c4 61.43%,#b4b4b4 62.58%,#a9a9a9 63.73%,#9e9e9e 65.21%,#979797 66.69%,#949494 68.34%,#939393 70.31%,#989898 75.74%,#9f9f9f 78.54%,#a6a6a6 80.84%,#b9b9b9 84.79%,#f2f2f2 94%,#fff 97.45%,#fff 98.93%)"></i><i style="width:4px;background:linear-gradient(#fff 1.069%,#fff 33.47%,#f9f9f9 33.8%,#fff 33.96%,#fff 44.98%,#f9f9f9 45.81%,#f3f3f3 46.3%,#e8e8e8 46.79%,#d6d6d6 47.29%,#c6c6c6 47.62%,#a7a7a7 48.11%,#818181 48.6%,#3c3c3c 49.42%,#242424 49.75%,#121212 50.08%,#0b0b0b 50.25%,#070707 50.41%,#050505 50.58%,#050505 52.88%,#070707 53.04%,#0b0b0b 53.21%,#1a1a1a 53.54%,#303030 53.87%,#9b9b9b 55.18%,#b2b2b2 55.51%,#c6c6c6 55.84%,#d6d6d6 56.17%,#efefef 56.83%,#f9f9f9 57.15%,#fff 57.48%,#fff 58.14%,#f5f5f5 58.8%,#d3d3d3 60.44%,#c2c2c2 61.43%,#b5b5b5 62.42%,#a9a9a9 63.57%,#9e9e9e 65.05%,#979797 66.53%,#939393 68.17%,#929292 70.15%,#989898 75.58%,#a5a5a5 80.67%,#b9b9b9 84.79%,#e7e7e7 92.02%,#f2f2f2 94%,#fff 97.45%,#fff 98.93%)"></i><i style="width:4px;background:linear-gradient(#fff 1.069%,#fff 33.31%,#fcfcfc 33.47%,#fcfcfc 33.63%,#fff 33.8%,#fff 44.98%,#f8f8f8 45.81%,#f1f1f1 46.3%,#e5e5e5 46.79%,#d1d1d1 47.29%,#c0c0c0 47.62%,#9f9f9f 48.11%,#858585 48.44%,#3e3e3e 49.26%,#252525 49.59%,#1b1b1b 49.75%,#0b0b0b 50.08%,#060606 50.25%,#040404 50.58%,#040404 52.88%,#070707 53.04%,#0c0c0c 53.21%,#141414 53.37%,#282828 53.7%,#424242 54.03%,#959595 55.02%,#adadad 55.35%,#c2c2c2 55.67%,#dadada 56.17%,#f3f3f3 56.83%,#fbfbfb 57.15%,#fff 57.48%,#fff 57.98%,#f9f9f9 58.47%,#d1d1d1 60.44%,#c3c3c3 61.27%,#b5b5b5 62.25%,#a9a9a9 63.4%,#9e9e9e 64.88%,#979797 66.37%,#939393 68.01%,#929292 69.98%,#979797 75.41%,#9e9e9e 78.21%,#a5a5a5 80.67%,#b9b9b9 84.62%,#e7e7e7 92.02%,#f2f2f2 94%,#fff 97.45%,#fff 98.93%)"></i><i style="width:4px;background:linear-gradient(#fff 1.069%,#fff 33.14%,#fcfcfc 33.31%,#fff 33.47%,#fff 44.98%,#f7f7f7 45.81%,#efefef 46.3%,#e1e1e1 46.79%,#d4d4d4 47.12%,#c3c3c3 47.45%,#a2a2a2 47.94%,#888 48.27%,#414141 49.1%,#1c1c1c 49.59%,#0b0b0b 49.92%,#060606 50.08%,#030303 50.41%,#030303 52.71%,#040404 52.88%,#080808 53.04%,#171717 53.37%,#2d2d2d 53.7%,#9c9c9c 55.02%,#b4b4b4 55.35%,#c8c8c8 55.67%,#d8d8d8 56%,#f0f0f0 56.66%,#fafafa 56.99%,#fff 57.32%,#fff 57.81%,#f9f9f9 58.31%,#d2d2d2 60.28%,#c3c3c3 61.1%,#b3b3b3 62.25%,#a7a7a7 63.4%,#9d9d9d 64.88%,#969696 66.37%,#929292 68.01%,#919191 69.82%,#979797 75.25%,#9d9d9d 78.04%,#a5a5a5 80.51%,#b9b9b9 84.62%,#f2f2f2 93.83%,#fff 97.45%,#fff 98.93%)"></i><i style="width:4px;background:linear-gradient(#fff 1.069%,#fff 32.98%,#fbfbfb 33.14%,#fff 33.31%,#fff 44.82%,#f8f8f8 45.64%,#f0f0f0 46.13%,#e3e3e3 46.63%,#d6d6d6 46.96%,#c6c6c6 47.29%,#a5a5a5 47.78%,#8b8b8b 48.11%,#363636 49.1%,#1d1d1d 49.42%,#0b0b0b 49.75%,#060606 49.92%,#020202 50.08%,#020202 50.25%,#020202 52.71%,#040404 52.88%,#090909 53.04%,#111 53.21%,#262626 53.54%,#404040 53.87%,#969696 54.85%,#aeaeae 55.18%,#c4c4c4 55.51%,#dcdcdc 56%,#f4f4f4 56.66%,#fbfbfb 56.99%,#fff 57.32%,#fff 57.81%,#fafafa 58.14%,#c4c4c4 60.94%,#b3b3b3 62.09%,#a7a7a7 63.24%,#9d9d9d 64.72%,#969696 66.2%,#929292 67.85%,#919191 69.65%,#969696 75.08%,#9d9d9d 78.04%,#a5a5a5 80.51%,#b9b9b9 84.62%,#f2f2f2 93.83%,#fff 97.45%,#fff 98.93%)"></i><i style="width:4px;background:linear-gradient(#fff 1.069%,#fff 32.81%,#f7f7f7 32.98%,#fff 33.14%,#fff 44.82%,#f7f7f7 45.64%,#eee 46.13%,#dfdfdf 46.63%,#d1d1d1 46.96%,#bfbfbf 47.29%,#9c9c9c 47.78%,#818181 48.11%,#383838 48.93%,#1f1f1f 49.26%,#0c0c0c 49.59%,#060606 49.75%,#020202 49.92%,#010101 50.08%,#010101 52.55%,#020202 52.71%,#050505 52.88%,#0b0b0b 53.04%,#1e1e1e 53.37%,#373737 53.7%,#808080 54.52%,#9c9c9c 54.85%,#b4b4b4 55.18%,#c9c9c9 55.51%,#d9d9d9 55.84%,#f2f2f2 56.5%,#fafafa 56.83%,#fff 57.15%,#fff 57.65%,#fbfbfb 57.98%,#f3f3f3 58.47%,#d3d3d3 59.95%,#c4c4c4 60.77%,#b3b3b3 61.92%,#a7a7a7 63.08%,#9d9d9d 64.56%,#969696 66.04%,#929292 67.68%,#919191 69.65%,#929292 72.29%,#979797 75.25%,#9d9d9d 78.04%,#a5a5a5 80.51%,#b8b8b8 84.46%,#f2f2f2 93.83%,#fff 97.45%,#fff 98.93%)"></i><i style="width:4px;background:linear-gradient(#fff 1.069%,#fff 32.65%,#d6d6d6 32.81%,#fff 32.98%,#fff 44.82%,#f5f5f5 45.64%,#ececec 46.13%,#dbdbdb 46.63%,#ccc 46.96%,#b8b8b8 47.29%,#a0a0a0 47.62%,#858585 47.94%,#3c3c3c 48.77%,#222 49.1%,#0e0e0e 49.42%,#070707 49.59%,#020202 49.75%,#010101 49.92%,#010101 52.55%,#020202 52.71%,#060606 52.88%,#0d0d0d 53.04%,#222 53.37%,#3c3c3c 53.7%,#959595 54.69%,#afafaf 55.02%,#c4c4c4 55.35%,#d6d6d6 55.67%,#f0f0f0 56.33%,#f9f9f9 56.66%,#fff 56.99%,#fff 57.48%,#f9f9f9 57.98%,#d1d1d1 59.95%,#c2c2c2 60.77%,#b4b4b4 61.76%,#a7a7a7 62.91%,#9c9c9c 64.39%,#959595 65.87%,#919191 67.52%,#909090 69.49%,#929292 72.12%,#969696 75.08%,#9c9c9c 77.88%,#a4a4a4 80.35%,#b8b8b8 84.46%,#e7e7e7 91.86%,#f2f2f2 93.83%,#fff 97.45%,#fff 98.93%)"></i><i style="width:4px;background:linear-gradient(#fff 1.069%,#fff 32.48%,#f9f9f9 32.65%,#fff 32.81%,#fff 44.82%,#f4f4f4 45.64%,#ededed 45.97%,#dedede 46.46%,#cfcfcf 46.79%,#bcbcbc 47.12%,#989898 47.62%,#404040 48.6%,#252525 48.93%,#101010 49.26%,#080808 49.42%,#030303 49.59%,#000 49.75%,#000 52.38%,#020202 52.71%,#080808 52.88%,#1a1a1a 53.21%,#333 53.54%,#9b9b9b 54.69%,#b4b4b4 55.02%,#c9c9c9 55.35%,#dadada 55.67%,#f3f3f3 56.33%,#fbfbfb 56.66%,#fff 56.99%,#fff 57.48%,#fafafa 57.81%,#d1d1d1 59.79%,#c2c2c2 60.61%,#b4b4b4 61.6%,#a7a7a7 62.75%,#9c9c9c 64.23%,#959595 65.71%,#919191 67.35%,#909090 69.33%,#919191 71.96%,#969696 74.92%,#9c9c9c 77.88%,#a4a4a4 80.35%,#b7b7b7 84.29%,#e7e7e7 91.86%,#f2f2f2 93.83%,#fff 97.45%,#fff 98.93%)"></i><i style="width:4px;background:linear-gradient(#fff 1.069%,#fff 44.65%,#f8f8f8 45.31%,#ebebeb 45.97%,#dadada 46.46%,#cacaca 46.79%,#b5b5b5 47.12%,#9d9d9d 47.45%,#292929 48.77%,#131313 49.1%,#040404 49.42%,#000 49.59%,#000 49.75%,#000 52.38%,#000 52.55%,#040404 52.71%,#0a0a0a 52.88%,#1d1d1d 53.21%,#383838 53.54%,#848484 54.36%,#a1a1a1 54.69%,#b9b9b9 55.02%,#cecece 55.35%,#ddd 55.67%,#f1f1f1 56.17%,#fafafa 56.5%,#fff 56.83%,#fff 57.32%,#fbfbfb 57.65%,#f2f2f2 58.14%,#d2d2d2 59.62%,#c3c3c3 60.44%,#b2b2b2 61.6%,#a6a6a6 62.75%,#9b9b9b 64.23%,#949494 65.71%,#919191 67.35%,#8f8f8f 69.16%,#919191 71.79%,#959595 74.75%,#9c9c9c 77.71%,#a4a4a4 80.18%,#b7b7b7 84.29%,#e7e7e7 91.86%,#f2f2f2 93.83%,#fff 97.45%,#fff 98.93%)"></i><i style="width:4px;background:linear-gradient(#fff 1.069%,#fff 44.65%,#f9f9f9 45.15%,#ededed 45.81%,#ddd 46.3%,#cecece 46.63%,#bababa 46.96%,#a3a3a3 47.29%,#878787 47.62%,#3c3c3c 48.44%,#222 48.77%,#0d0d0d 49.1%,#060606 49.26%,#010101 49.42%,#000 49.59%,#000 52.38%,#010101 52.55%,#050505 52.71%,#0c0c0c 52.88%,#212121 53.21%,#3c3c3c 53.54%,#989898 54.52%,#b2b2b2 54.85%,#c8c8c8 55.18%,#d9d9d9 55.51%,#eee 56%,#f9f9f9 56.33%,#fff 56.66%,#fff 57.15%,#fbfbfb 57.48%,#f3f3f3 57.98%,#d2d2d2 59.46%,#c3c3c3 60.28%,#b2b2b2 61.43%,#a6a6a6 62.58%,#9b9b9b 64.06%,#949494 65.54%,#909090 67.19%,#8f8f8f 69%,#919191 71.63%,#959595 74.75%,#9c9c9c 77.71%,#a4a4a4 80.18%,#b8b8b8 84.29%,#f1f1f1 93.67%,#fff 97.45%,#fff 98.93%)"></i><i style="width:4px;background:linear-gradient(#fff 1.069%,#fff 44.65%,#f8f8f8 45.15%,#ebebeb 45.81%,#dadada 46.3%,#c9c9c9 46.63%,#b5b5b5 46.96%,#9c9c9c 47.29%,#7f7f7f 47.62%,#434343 48.27%,#272727 48.6%,#111 48.93%,#090909 49.1%,#030303 49.26%,#000 49.42%,#000 52.38%,#010101 52.55%,#060606 52.71%,#0d0d0d 52.88%,#171717 53.04%,#232323 53.21%,#404040 53.54%,#7f7f7f 54.19%,#9d9d9d 54.52%,#b7b7b7 54.85%,#ccc 55.18%,#dcdcdc 55.51%,#f2f2f2 56%,#fbfbfb 56.33%,#fff 56.66%,#fff 56.99%,#f9f9f9 57.48%,#d3d3d3 59.29%,#c3c3c3 60.12%,#b2b2b2 61.27%,#a6a6a6 62.42%,#9b9b9b 63.9%,#949494 65.38%,#909090 67.02%,#8f8f8f 69%,#909090 71.63%,#959595 74.75%,#9c9c9c 77.71%,#a4a4a4 80.18%,#b7b7b7 84.13%,#f1f1f1 93.67%,#fff 97.45%,#fff 98.93%)"></i><i style="width:4px;background:linear-gradient(#fefefe 1.069%,#fff 44.65%,#f8f8f8 45.15%,#e9e9e9 45.81%,#dedede 46.13%,#cecece 46.46%,#bbb 46.79%,#a3a3a3 47.12%,#878787 47.45%,#3b3b3b 48.27%,#212121 48.6%,#0c0c0c 48.93%,#050505 49.1%,#010101 49.26%,#000 49.42%,#000 52.38%,#010101 52.55%,#060606 52.71%,#0f0f0f 52.88%,#191919 53.04%,#343434 53.37%,#838383 54.19%,#a1a1a1 54.52%,#c5c5c5 55.02%,#d8d8d8 55.35%,#efefef 55.84%,#fafafa 56.17%,#fff 56.5%,#fff 56.99%,#f4f4f4 57.65%,#d4d4d4 59.13%,#c1c1c1 60.12%,#b2b2b2 61.1%,#a6a6a6 62.25%,#9b9b9b 63.73%,#949494 65.21%,#909090 66.86%,#8e8e8e 68.83%,#909090 71.46%,#949494 74.42%,#9b9b9b 77.38%,#a3a3a3 80.02%,#b7b7b7 84.13%,#e7e7e7 91.69%,#f2f2f2 93.67%,#fff 97.45%,#fff 98.93%)"></i><i style="width:4px;background:linear-gradient(#fefefe 1.069%,#fff 44.49%,#fafafa 44.98%,#ececec 45.64%,#dbdbdb 46.13%,#cbcbcb 46.46%,#b6b6b6 46.79%,#9d9d9d 47.12%,#808080 47.45%,#434343 48.11%,#272727 48.44%,#111 48.77%,#080808 48.93%,#030303 49.1%,#000 49.26%,#000 52.38%,#020202 52.55%,#070707 52.71%,#101010 52.88%,#1b1b1b 53.04%,#363636 53.37%,#969696 54.36%,#b2b2b2 54.69%,#c9c9c9 55.02%,#f2f2f2 55.84%,#f8f8f8 56%,#fff 56.33%,#fff 56.83%,#fafafa 57.15%,#f1f1f1 57.65%,#d1d1d1 59.13%,#c1c1c1 59.95%,#b3b3b3 60.94%,#a6a6a6 62.09%,#9b9b9b 63.57%,#949494 65.05%,#8f8f8f 66.69%,#8e8e8e 68.67%,#909090 71.3%,#949494 74.42%,#9b9b9b 77.38%,#a3a3a3 80.02%,#b7b7b7 84.13%,#e7e7e7 91.69%,#f2f2f2 93.67%,#fff 97.29%,#fff 98.93%)"></i><i style="width:4px;background:linear-gradient(#fefefe 1.069%,#fff 44.49%,#f9f9f9 44.98%,#eaeaea 45.64%,#d8d8d8 46.13%,#c7c7c7 46.46%,#b1b1b1 46.79%,#979797 47.12%,#3c3c3c 48.11%,#212121 48.44%,#0c0c0c 48.77%,#050505 48.93%,#010101 49.1%,#000 49.26%,#000 52.38%,#020202 52.55%,#080808 52.71%,#111 52.88%,#1d1d1d 53.04%,#393939 53.37%,#9a9a9a 54.36%,#b5b5b5 54.69%,#c1c1c1 54.85%,#d5d5d5 55.18%,#efefef 55.67%,#fafafa 56%,#fff 56.33%,#fff 56.66%,#f8f8f8 57.15%,#d1d1d1 58.96%,#c2c2c2 59.79%,#b3b3b3 60.77%,#a6a6a6 61.92%,#9b9b9b 63.4%,#939393 64.88%,#8f8f8f 66.53%,#8e8e8e 68.5%,#8f8f8f 71.13%,#949494 74.26%,#9a9a9a 77.22%,#a2a2a2 79.85%,#b6b6b6 83.96%,#e7e7e7 91.69%,#f2f2f2 93.67%,#fff 97.29%,#fff 98.93%)"></i><i style="width:4px;background:linear-gradient(#fefefe 1.069%,#fff 44.49%,#f8f8f8 44.98%,#e8e8e8 45.64%,#dcdcdc 45.97%,#ccc 46.3%,#b8b8b8 46.63%,#9f9f9f 46.96%,#838383 47.29%,#454545 47.94%,#282828 48.27%,#111 48.6%,#090909 48.77%,#030303 48.93%,#000 49.1%,#010101 50.74%,#000 52.38%,#030303 52.55%,#090909 52.71%,#121212 52.88%,#1e1e1e 53.04%,#3b3b3b 53.37%,#7e7e7e 54.03%,#9e9e9e 54.36%,#b9b9b9 54.69%,#c4c4c4 54.85%,#ebebeb 55.51%,#f3f3f3 55.67%,#f9f9f9 55.84%,#fff 56.17%,#fff 56.5%,#f9f9f9 56.99%,#d2d2d2 58.8%,#c2c2c2 59.62%,#b1b1b1 60.77%,#a5a5a5 61.92%,#9a9a9a 63.4%,#939393 64.88%,#8f8f8f 66.53%,#8d8d8d 68.5%,#8f8f8f 71.13%,#949494 74.26%,#9a9a9a 77.22%,#a2a2a2 79.85%,#b6b6b6 83.96%,#e7e7e7 91.69%,#f2f2f2 93.67%,#fff 97.29%,#fff 98.93%)"></i><i style="width:4px;background:linear-gradient(#fefefe 1.069%,#fff 44.49%,#f8f8f8 44.98%,#e6e6e6 45.64%,#dadada 45.97%,#c9c9c9 46.3%,#b3b3b3 46.63%,#9a9a9a 46.96%,#3f3f3f 47.94%,#232323 48.27%,#0e0e0e 48.6%,#060606 48.77%,#010101 48.93%,#000 49.1%,#000 49.92%,#030303 50.74%,#000 51.4%,#000 52.22%,#000 52.38%,#030303 52.55%,#0a0a0a 52.71%,#141414 52.88%,#2e2e2e 53.21%,#929292 54.19%,#afafaf 54.52%,#bcbcbc 54.69%,#efefef 55.51%,#f6f6f6 55.67%,#fff 56%,#fff 56.5%,#f4f4f4 57.15%,#d3d3d3 58.63%,#c0c0c0 59.62%,#b1b1b1 60.61%,#a5a5a5 61.76%,#9a9a9a 63.24%,#939393 64.72%,#8e8e8e 66.37%,#8d8d8d 68.34%,#8f8f8f 71.13%,#939393 74.26%,#9a9a9a 77.22%,#a2a2a2 79.85%,#b6b6b6 83.96%,#e7e7e7 91.69%,#f2f2f2 93.67%,#fff 97.29%,#fff 98.93%)"></i><i style="width:4px;background:linear-gradient(#fefefe 1.069%,#fff 44.49%,#f7f7f7 44.98%,#e4e4e4 45.64%,#d7d7d7 45.97%,#c5c5c5 46.3%,#afafaf 46.63%,#959595 46.96%,#2b2b2b 48.11%,#131313 48.44%,#0a0a0a 48.6%,#040404 48.77%,#000 48.93%,#000 49.92%,#040404 50.25%,#060606 50.74%,#040404 51.07%,#000 51.4%,#000 52.22%,#000 52.38%,#040404 52.55%,#0b0b0b 52.71%,#151515 52.88%,#303030 53.21%,#858585 54.03%,#a4a4a4 54.36%,#bfbfbf 54.69%,#cacaca 54.85%,#ebebeb 55.35%,#f3f3f3 55.51%,#f9f9f9 55.67%,#fff 56%,#fff 56.33%,#f8f8f8 56.83%,#d0d0d0 58.63%,#bebebe 59.62%,#b0b0b0 60.61%,#a5a5a5 61.6%,#9a9a9a 63.08%,#929292 64.56%,#8e8e8e 66.2%,#8d8d8d 68.17%,#8e8e8e 70.81%,#939393 73.93%,#999 77.06%,#a2a2a2 79.69%,#b5b5b5 83.8%,#e7e7e7 91.69%,#f2f2f2 93.67%,#fff 97.29%,#fff 98.93%)"></i><i style="width:4px;background:linear-gradient(#fdfdfd 1.069%,#fff 44.49%,#f6f6f6 44.98%,#e8e8e8 45.48%,#dcdcdc 45.81%,#ccc 46.13%,#b7b7b7 46.46%,#9e9e9e 46.79%,#818181 47.12%,#434343 47.78%,#262626 48.11%,#101010 48.44%,#080808 48.6%,#020202 48.77%,#000 48.93%,#000 49.75%,#070707 50.25%,#090909 50.74%,#060606 51.07%,#010101 51.4%,#000 52.22%,#000 52.38%,#040404 52.55%,#0c0c0c 52.71%,#161616 52.88%,#333 53.21%,#888 54.03%,#a8a8a8 54.36%,#b5b5b5 54.52%,#e5e5e5 55.18%,#f0f0f0 55.35%,#f7f7f7 55.51%,#fff 55.84%,#fff 56.17%,#f9f9f9 56.66%,#d1d1d1 58.47%,#c1c1c1 59.29%,#b2b2b2 60.28%,#a5a5a5 61.43%,#9a9a9a 62.91%,#929292 64.56%,#8e8e8e 66.2%,#8c8c8c 68.17%,#8e8e8e 70.81%,#939393 74.1%,#999 77.06%,#a2a2a2 79.69%,#b5b5b5 83.8%,#e7e7e7 91.69%,#f2f2f2 93.67%,#fff 97.29%,#fff 98.93%)"></i><i style="width:4px;background:linear-gradient(#fdfdfd 1.069%,#fff 13.08%,#fff 44.49%,#f5f5f5 44.98%,#e7e7e7 45.48%,#dadada 45.81%,#c9c9c9 46.13%,#b4b4b4 46.46%,#9a9a9a 46.79%,#3e3e3e 47.78%,#222 48.11%,#0d0d0d 48.44%,#050505 48.6%,#010101 48.77%,#000 48.93%,#000 49.75%,#080808 50.08%,#0c0c0c 50.58%,#0b0b0b 50.9%,#010101 51.4%,#000 51.56%,#000 52.22%,#000 52.38%,#050505 52.55%,#0d0d0d 52.71%,#181818 52.88%,#353535 53.21%,#9b9b9b 54.19%,#b8b8b8 54.52%,#eaeaea 55.18%,#f4f4f4 55.35%,#fafafa 55.51%,#fff 55.84%,#fff 56.17%,#f7f7f7 56.66%,#cecece 58.47%,#bcbcbc 59.46%,#aeaeae 60.44%,#a4a4a4 61.43%,#999 62.91%,#929292 64.39%,#8d8d8d 66.04%,#8c8c8c 68.01%,#8e8e8e 70.81%,#929292 73.93%,#999 77.06%,#a1a1a1 79.69%,#b5b5b5 83.8%,#f1f1f1 93.5%,#fff 97.29%,#fff 98.93%)"></i><i style="width:4px;background:linear-gradient(#fdfdfd 1.069%,#fff 13.08%,#fff 44.33%,#f8f8f8 44.82%,#e5e5e5 45.48%,#d8d8d8 45.81%,#c6c6c6 46.13%,#b0b0b0 46.46%,#959595 46.79%,#2b2b2b 47.94%,#131313 48.27%,#0a0a0a 48.44%,#040404 48.6%,#000 48.77%,#000 49.59%,#0b0b0b 50.08%,#101010 50.58%,#0b0b0b 51.07%,#020202 51.4%,#000 51.56%,#000 52.22%,#000 52.38%,#050505 52.55%,#0d0d0d 52.71%,#191919 52.88%,#363636 53.21%,#7d7d7d 53.87%,#9e9e9e 54.19%,#e4e4e4 55.02%,#efefef 55.18%,#f8f8f8 55.35%,#fff 55.67%,#fff 56%,#f8f8f8 56.5%,#cfcfcf 58.31%,#bdbdbd 59.29%,#afafaf 60.28%,#a4a4a4 61.27%,#999 62.75%,#919191 64.39%,#8d8d8d 66.04%,#8c8c8c 68.01%,#8d8d8d 70.81%,#929292 73.93%,#999 77.06%,#a1a1a1 79.69%,#b5b5b5 83.8%,#f1f1f1 93.5%,#fff 97.29%,#fff 98.93%)"></i><i style="width:4px;background:linear-gradient(#fdfdfd 1.069%,#fff 13.08%,#fff 44.33%,#f8f8f8 44.82%,#e4e4e4 45.48%,#d6d6d6 45.81%,#c4c4c4 46.13%,#adadad 46.46%,#919191 46.79%,#444 47.62%,#272727 47.94%,#101010 48.27%,#080808 48.44%,#020202 48.6%,#000 48.77%,#000 49.59%,#0b0b0b 49.92%,#0f0f0f 50.08%,#141414 50.58%,#0e0e0e 51.07%,#000 51.56%,#000 52.22%,#010101 52.38%,#050505 52.55%,#0e0e0e 52.71%,#1a1a1a 52.88%,#383838 53.21%,#919191 54.03%,#dbdbdb 54.85%,#e9e9e9 55.02%,#f4f4f4 55.18%,#fff 55.51%,#fff 55.84%,#f9f9f9 56.33%,#d0d0d0 58.14%,#c1c1c1 58.96%,#b2b2b2 59.95%,#a4a4a4 61.1%,#999 62.58%,#919191 64.23%,#8d8d8d 65.87%,#8b8b8b 67.85%,#8d8d8d 70.64%,#929292 73.77%,#999 76.89%,#a1a1a1 79.52%,#b5b5b5 83.8%,#e6e6e6 91.53%,#f1f1f1 93.5%,#fff 97.29%,#fff 98.93%)"></i><i style="width:4px;background:linear-gradient(#fdfdfd 1.069%,#fff 13.08%,#fff 44.33%,#fbfbfb 44.65%,#f2f2f2 44.98%,#e2e2e2 45.48%,#cbcbcb 45.97%,#b6b6b6 46.3%,#9c9c9c 46.63%,#7f7f7f 46.96%,#404040 47.62%,#242424 47.94%,#0e0e0e 48.27%,#060606 48.44%,#010101 48.6%,#000 48.77%,#000 49.42%,#030303 49.59%,#0a0a0a 49.75%,#131313 50.08%,#161616 50.25%,#171717 50.58%,#141414 50.9%,#101010 51.07%,#000 51.56%,#000 52.22%,#010101 52.38%,#060606 52.55%,#0f0f0f 52.71%,#1b1b1b 52.88%,#3a3a3a 53.21%,#939393 54.03%,#c0c0c0 54.52%,#e1e1e1 54.85%,#efefef 55.02%,#f8f8f8 55.18%,#fdfdfd 55.35%,#fff 55.51%,#fff 55.84%,#f7f7f7 56.33%,#d2d2d2 57.98%,#bcbcbc 59.13%,#aeaeae 60.12%,#a3a3a3 61.1%,#989898 62.58%,#919191 64.06%,#8d8d8d 65.71%,#8b8b8b 67.68%,#8d8d8d 70.48%,#919191 73.77%,#989898 76.89%,#a1a1a1 79.52%,#b4b4b4 83.63%,#e6e6e6 91.53%,#f1f1f1 93.5%,#fff 97.29%,#fff 98.93%)"></i><i style="width:4px;background:linear-gradient(#fcfcfc 1.069%,#fff 13.08%,#fff 44.33%,#fafafa 44.65%,#f2f2f2 44.98%,#e1e1e1 45.48%,#c9c9c9 45.97%,#b3b3b3 46.3%,#999 46.63%,#3c3c3c 47.62%,#202020 47.94%,#0b0b0b 48.27%,#040404 48.44%,#010101 48.6%,#000 49.42%,#0e0e0e 49.75%,#171717 50.08%,#1a1a1a 50.25%,#1b1b1b 50.58%,#171717 50.9%,#131313 51.07%,#000 51.56%,#000 52.22%,#010101 52.38%,#060606 52.55%,#0f0f0f 52.71%,#1b1b1b 52.88%,#3b3b3b 53.21%,#959595 54.03%,#b4b4b4 54.36%,#e7e7e7 54.85%,#f3f3f3 55.02%,#fafafa 55.18%,#fff 55.35%,#fff 55.67%,#f8f8f8 56.17%,#cfcfcf 57.98%,#bdbdbd 58.96%,#aeaeae 59.95%,#a4a4a4 60.94%,#989898 62.42%,#909090 64.06%,#8c8c8c 65.71%,#8b8b8b 67.68%,#8c8c8c 70.48%,#919191 73.77%,#989898 76.89%,#a1a1a1 79.52%,#b4b4b4 83.63%,#e6e6e6 91.53%,#f1f1f1 93.5%,#fff 97.29%,#fff 98.93%)"></i><i style="width:4px;background:linear-gradient(#fcfcfc 1.069%,#fff 13.08%,#fff 44.33%,#f6f6f6 44.82%,#e5e5e5 45.31%,#d8d8d8 45.64%,#c7c7c7 45.97%,#b0b0b0 46.3%,#959595 46.63%,#484848 47.45%,#2a2a2a 47.78%,#121212 48.11%,#090909 48.27%,#030303 48.44%,#000 48.6%,#010101 49.42%,#0b0b0b 49.59%,#171717 49.92%,#1b1b1b 50.08%,#1f1f1f 50.41%,#1d1d1d 50.74%,#161616 51.07%,#101010 51.23%,#000 51.56%,#000 52.22%,#010101 52.38%,#060606 52.55%,#101010 52.71%,#1c1c1c 52.88%,#3c3c3c 53.21%,#868686 53.87%,#b7b7b7 54.36%,#ddd 54.69%,#ececec 54.85%,#f7f7f7 55.02%,#fdfdfd 55.18%,#fff 55.35%,#fff 55.67%,#f6f6f6 56.17%,#d1d1d1 57.81%,#bebebe 58.8%,#afafaf 59.79%,#a4a4a4 60.77%,#989898 62.25%,#909090 63.9%,#8c8c8c 65.54%,#8a8a8a 67.52%,#8c8c8c 70.31%,#919191 73.6%,#989898 76.89%,#a0a0a0 79.52%,#b4b4b4 83.63%,#e6e6e6 91.53%,#f1f1f1 93.5%,#fff 97.29%,#fff 98.93%)"></i><i style="width:4px;background:linear-gradient(#fcfcfc 1.069%,#fcfcfc 6.661%,#fff 13.08%,#fff 44.33%,#f5f5f5 44.82%,#e4e4e4 45.31%,#d7d7d7 45.64%,#c4c4c4 45.97%,#adadad 46.3%,#929292 46.63%,#444 47.45%,#272727 47.78%,#101010 48.11%,#080808 48.27%,#020202 48.44%,#000 48.6%,#000 49.26%,#050505 49.42%,#0f0f0f 49.59%,#1b1b1b 49.92%,#1f1f1f 50.08%,#232323 50.41%,#212121 50.74%,#191919 51.07%,#121212 51.23%,#000 51.56%,#000 52.22%,#010101 52.38%,#060606 52.55%,#101010 52.71%,#1d1d1d 52.88%,#3d3d3d 53.21%,#878787 53.87%,#a9a9a9 54.19%,#e3e3e3 54.69%,#f1f1f1 54.85%,#fafafa 55.02%,#fff 55.18%,#fff 55.51%,#f8f8f8 56%,#cfcfcf 57.81%,#bcbcbc 58.8%,#aeaeae 59.79%,#a3a3a3 60.77%,#989898 62.25%,#909090 63.9%,#8c8c8c 65.54%,#8a8a8a 67.52%,#8c8c8c 70.31%,#909090 73.44%,#979797 76.56%,#a0a0a0 79.36%,#b4b4b4 83.63%,#e6e6e6 91.53%,#f1f1f1 93.5%,#fff 97.29%,#fff 98.93%)"></i><i style="width:4px;background:linear-gradient(#fcfcfc 1.069%,#fcfcfc 6.661%,#fff 13.08%,#fff 44.33%,#f5f5f5 44.82%,#e3e3e3 45.31%,#d5d5d5 45.64%,#c2c2c2 45.97%,#ababab 46.3%,#8f8f8f 46.63%,#404040 47.45%,#242424 47.78%,#0e0e0e 48.11%,#060606 48.27%,#010101 48.44%,#000 48.6%,#000 49.26%,#131313 49.59%,#1a1a1a 49.75%,#232323 50.08%,#272727 50.41%,#242424 50.74%,#1b1b1b 51.07%,#0b0b0b 51.4%,#000 51.56%,#000 52.22%,#010101 52.38%,#070707 52.55%,#101010 52.71%,#1d1d1d 52.88%,#3e3e3e 53.21%,#898989 53.87%,#acacac 54.19%,#d7d7d7 54.52%,#e8e8e8 54.69%,#f5f5f5 54.85%,#fcfcfc 55.02%,#fff 55.18%,#fff 55.51%,#f6f6f6 56%,#d0d0d0 57.65%,#bdbdbd 58.63%,#afafaf 59.62%,#a4a4a4 60.61%,#989898 62.09%,#909090 63.73%,#8b8b8b 65.54%,#8a8a8a 67.52%,#8c8c8c 70.31%,#909090 73.6%,#979797 76.73%,#a0a0a0 79.36%,#b4b4b4 83.63%,#e6e6e6 91.53%,#f1f1f1 93.5%,#fff 97.29%,#fff 98.93%)"></i><i style="width:4px;background:linear-gradient(#fcfcfc 1.069%,#fcfcfc 6.661%,#fff 13.08%,#fff 44.33%,#f9f9f9 44.65%,#f4f4f4 44.82%,#e2e2e2 45.31%,#d3d3d3 45.64%,#c0c0c0 45.97%,#9a9a9a 46.46%,#2e2e2e 47.62%,#151515 47.94%,#0c0c0c 48.11%,#050505 48.27%,#010101 48.44%,#000 48.6%,#020202 49.26%,#0e0e0e 49.42%,#1e1e1e 49.75%,#272727 50.08%,#2a2a2a 50.41%,#272727 50.74%,#1d1d1d 51.07%,#0d0d0d 51.4%,#010101 51.56%,#000 52.22%,#010101 52.38%,#070707 52.55%,#111 52.71%,#1e1e1e 52.88%,#3f3f3f 53.21%,#797979 53.7%,#9d9d9d 54.03%,#b0b0b0 54.19%,#dcdcdc 54.52%,#ededed 54.69%,#f8f8f8 54.85%,#fdfdfd 55.02%,#fff 55.18%,#fff 55.35%,#f8f8f8 55.84%,#d2d2d2 57.48%,#bfbfbf 58.47%,#b0b0b0 59.46%,#a3a3a3 60.61%,#979797 62.09%,#8f8f8f 63.73%,#8b8b8b 65.38%,#8a8a8a 67.35%,#8b8b8b 70.15%,#909090 73.44%,#979797 76.56%,#9f9f9f 79.36%,#b4b4b4 83.63%,#e6e6e6 91.53%,#f1f1f1 93.5%,#fff 97.29%,#fff 98.93%)"></i><i style="width:4px;background:linear-gradient(#fcfcfc 1.069%,#fcfcfc 6.661%,#fff 13.08%,#fff 44.33%,#f9f9f9 44.65%,#f3f3f3 44.82%,#dadada 45.48%,#c8c8c8 45.81%,#b2b2b2 46.13%,#979797 46.46%,#2b2b2b 47.62%,#131313 47.94%,#0a0a0a 48.11%,#040404 48.27%,#000 48.44%,#000 49.1%,#060606 49.26%,#111 49.42%,#212121 49.75%,#2a2a2a 50.08%,#2d2d2d 50.41%,#292929 50.74%,#202020 51.07%,#0f0f0f 51.4%,#030303 51.56%,#000 51.73%,#000 52.22%,#010101 52.38%,#070707 52.55%,#111 52.71%,#1f1f1f 52.88%,#414141 53.21%,#7a7a7a 53.7%,#9e9e9e 54.03%,#cdcdcd 54.36%,#e2e2e2 54.52%,#f1f1f1 54.69%,#fafafa 54.85%,#fff 55.02%,#fff 55.35%,#f6f6f6 55.84%,#d0d0d0 57.48%,#bbb 58.63%,#acacac 59.62%,#a2a2a2 60.61%,#979797 62.09%,#8f8f8f 63.73%,#8b8b8b 65.38%,#898989 67.35%,#8b8b8b 70.15%,#909090 73.44%,#979797 76.56%,#9f9f9f 79.36%,#b4b4b4 83.63%,#e6e6e6 91.53%,#f1f1f1 93.5%,#fff 97.29%,#fff 98.93%)"></i><i style="width:4px;background:linear-gradient(#fcfcfc 1.069%,#fcfcfc 6.661%,#fff 13.08%,#fff 44.33%,#f8f8f8 44.65%,#f3f3f3 44.82%,#d8d8d8 45.48%,#c6c6c6 45.81%,#b0b0b0 46.13%,#959595 46.46%,#464646 47.29%,#292929 47.62%,#111 47.94%,#080808 48.11%,#030303 48.27%,#000 48.44%,#000 49.1%,#151515 49.42%,#242424 49.75%,#2d2d2d 50.08%,#2f2f2f 50.41%,#2b2b2b 50.74%,#212121 51.07%,#101010 51.4%,#040404 51.56%,#000 51.73%,#000 52.22%,#010101 52.38%,#070707 52.55%,#121212 52.71%,#1f1f1f 52.88%,#424242 53.21%,#a1a1a1 54.03%,#d3d3d3 54.36%,#e7e7e7 54.52%,#f4f4f4 54.69%,#fcfcfc 54.85%,#fff 55.02%,#fff 55.18%,#f8f8f8 55.67%,#cfcfcf 57.48%,#bcbcbc 58.47%,#aeaeae 59.46%,#a3a3a3 60.44%,#979797 61.92%,#8f8f8f 63.57%,#8a8a8a 65.21%,#898989 67.19%,#8b8b8b 69.98%,#8f8f8f 73.27%,#969696 76.56%,#9f9f9f 79.36%,#b4b4b4 83.63%,#e6e6e6 91.53%,#f1f1f1 93.5%,#fff 97.29%,#fff 98.93%)"></i><i style="width:4px;background:linear-gradient(#fcfcfc 1.069%,#fcfcfc 6.661%,#fff 13.08%,#fff 44.33%,#f8f8f8 44.65%,#f2f2f2 44.82%,#d7d7d7 45.48%,#c5c5c5 45.81%,#adadad 46.13%,#929292 46.46%,#434343 47.29%,#262626 47.62%,#0f0f0f 47.94%,#070707 48.11%,#020202 48.27%,#000 48.44%,#010101 49.1%,#0e0e0e 49.26%,#191919 49.42%,#272727 49.75%,#2f2f2f 50.08%,#313131 50.41%,#2d2d2d 50.74%,#232323 51.07%,#121212 51.4%,#050505 51.56%,#000 51.73%,#000 52.22%,#010101 52.38%,#070707 52.55%,#121212 52.71%,#202020 52.88%,#434343 53.21%,#909090 53.87%,#a6a6a6 54.03%,#d8d8d8 54.36%,#ebebeb 54.52%,#f7f7f7 54.69%,#fefefe 54.85%,#fff 55.02%,#fff 55.18%,#f7f7f7 55.67%,#d1d1d1 57.32%,#bebebe 58.31%,#afafaf 59.29%,#a3a3a3 60.28%,#979797 61.76%,#8f8f8f 63.4%,#8a8a8a 65.21%,#898989 67.19%,#8a8a8a 69.98%,#8f8f8f 73.44%,#979797 76.73%,#9f9f9f 79.36%,#b4b4b4 83.63%,#e6e6e6 91.53%,#f1f1f1 93.5%,#fff 97.29%,#fff 98.93%)"></i><i style="width:4px;background:linear-gradient(#fcfcfc 1.069%,#fcfcfc 6.661%,#fff 13.08%,#fff 44.33%,#f7f7f7 44.65%,#f2f2f2 44.82%,#d5d5d5 45.48%,#c3c3c3 45.81%,#ababab 46.13%,#8f8f8f 46.46%,#404040 47.29%,#242424 47.62%,#0d0d0d 47.94%,#060606 48.11%,#010101 48.27%,#000 48.93%,#050505 49.1%,#121212 49.26%,#1b1b1b 49.42%,#292929 49.75%,#313131 50.08%,#333 50.41%,#2e2e2e 50.74%,#242424 51.07%,#131313 51.4%,#070707 51.56%,#000 51.73%,#000 52.22%,#010101 52.38%,#080808 52.55%,#121212 52.71%,#202020 52.88%,#444 53.21%,#929292 53.87%,#aaa 54.03%,#c6c6c6 54.19%,#dedede 54.36%,#efefef 54.52%,#fafafa 54.69%,#fff 54.85%,#fff 55.18%,#f9f9f9 55.51%,#d0d0d0 57.32%,#bdbdbd 58.31%,#aeaeae 59.29%,#a3a3a3 60.28%,#979797 61.76%,#8e8e8e 63.4%,#8a8a8a 65.21%,#888 67.19%,#8a8a8a 69.98%,#8f8f8f 73.44%,#969696 76.73%,#9f9f9f 79.36%,#b4b4b4 83.63%,#e6e6e6 91.53%,#f1f1f1 93.5%,#fff 97.29%,#fff 98.93%)"></i><i style="width:4px;background:linear-gradient(#fcfcfc 1.069%,#fcfcfc 6.661%,#fff 13.08%,#fff 44.33%,#f7f7f7 44.65%,#f1f1f1 44.82%,#d4d4d4 45.48%,#c1c1c1 45.81%,#9c9c9c 46.3%,#7e7e7e 46.63%,#3e3e3e 47.29%,#222 47.62%,#0c0c0c 47.94%,#050505 48.11%,#010101 48.27%,#000 48.93%,#1e1e1e 49.42%,#2b2b2b 49.75%,#323232 50.08%,#333 50.41%,#2f2f2f 50.74%,#252525 51.07%,#1d1d1d 51.23%,#080808 51.56%,#000 51.73%,#000 52.22%,#010101 52.38%,#080808 52.55%,#131313 52.71%,#212121 52.88%,#454545 53.21%,#949494 53.87%,#cbcbcb 54.19%,#e3e3e3 54.36%,#f3f3f3 54.52%,#fcfcfc 54.69%,#fff 54.85%,#fff 55.02%,#f8f8f8 55.51%,#cecece 57.32%,#bbb 58.31%,#adadad 59.29%,#a2a2a2 60.28%,#969696 61.76%,#8e8e8e 63.4%,#898989 65.21%,#888 67.19%,#8a8a8a 69.98%,#8f8f8f 73.44%,#969696 76.73%,#9f9f9f 79.36%,#b4b4b4 83.63%,#e6e6e6 91.53%,#f1f1f1 93.5%,#fff 97.29%,#fff 98.93%)"></i><i style="width:4px;background:linear-gradient(#fcfcfc 1.069%,#fcfcfc 6.661%,#fff 13.08%,#fff 44.33%,#f7f7f7 44.65%,#f0f0f0 44.82%,#d3d3d3 45.48%,#c0c0c0 45.81%,#9a9a9a 46.3%,#2d2d2d 47.45%,#141414 47.78%,#0b0b0b 47.94%,#040404 48.11%,#000 48.27%,#000 48.93%,#171717 49.26%,#262626 49.59%,#303030 49.92%,#343434 50.25%,#323232 50.58%,#2b2b2b 50.9%,#1e1e1e 51.23%,#000 51.73%,#000 52.22%,#010101 52.38%,#080808 52.55%,#131313 52.71%,#212121 52.88%,#464646 53.21%,#828282 53.7%,#989898 53.87%,#d1d1d1 54.19%,#e7e7e7 54.36%,#f6f6f6 54.52%,#fdfdfd 54.69%,#fff 54.85%,#fff 55.02%,#f7f7f7 55.51%,#d1d1d1 57.15%,#bdbdbd 58.14%,#aeaeae 59.13%,#a3a3a3 60.12%,#979797 61.6%,#8e8e8e 63.24%,#898989 65.05%,#888 67.02%,#898989 69.82%,#8e8e8e 73.11%,#959595 76.4%,#9e9e9e 79.19%,#b2b2b2 83.47%,#e6e6e6 91.53%,#f1f1f1 93.5%,#fff 97.29%,#fff 98.93%)"></i><i style="width:4px;background:linear-gradient(#fcfcfc 1.069%,#fcfcfc 6.661%,#fff 13.08%,#fff 44.33%,#f6f6f6 44.65%,#f0f0f0 44.82%,#d2d2d2 45.48%,#bebebe 45.81%,#989898 46.3%,#2b2b2b 47.45%,#131313 47.78%,#0a0a0a 47.94%,#030303 48.11%,#000 48.27%,#000 48.77%,#020202 48.93%,#0f0f0f 49.1%,#191919 49.26%,#272727 49.59%,#303030 49.92%,#343434 50.25%,#323232 50.58%,#2f2f2f 50.74%,#252525 51.07%,#151515 51.4%,#000 51.73%,#000 52.22%,#010101 52.38%,#080808 52.55%,#131313 52.71%,#222 52.88%,#464646 53.21%,#838383 53.7%,#9c9c9c 53.87%,#bababa 54.03%,#d6d6d6 54.19%,#ebebeb 54.36%,#f8f8f8 54.52%,#fff 54.69%,#fff 55.02%,#f9f9f9 55.35%,#d0d0d0 57.15%,#bcbcbc 58.14%,#adadad 59.13%,#a2a2a2 60.12%,#969696 61.6%,#8e8e8e 63.24%,#898989 65.05%,#888 67.02%,#898989 69.82%,#8e8e8e 73.27%,#959595 76.56%,#9e9e9e 79.19%,#b2b2b2 83.47%,#e6e6e6 91.53%,#f1f1f1 93.5%,#fff 97.29%,#fff 98.93%)"></i><i style="width:4px;background:linear-gradient(#fcfcfc 1.069%,#fcfcfc 6.661%,#fff 13.08%,#fff 44.16%,#fbfbfb 44.49%,#f6f6f6 44.65%,#d9d9d9 45.31%,#c8c8c8 45.64%,#b1b1b1 45.97%,#969696 46.3%,#474747 47.12%,#2a2a2a 47.45%,#121212 47.78%,#090909 47.94%,#030303 48.11%,#000 48.27%,#000 48.77%,#060606 48.93%,#1a1a1a 49.26%,#282828 49.59%,#313131 49.92%,#343434 50.25%,#323232 50.58%,#2f2f2f 50.74%,#252525 51.07%,#161616 51.4%,#000 51.73%,#000 52.22%,#010101 52.38%,#080808 52.55%,#131313 52.71%,#222 52.88%,#474747 53.21%,#848484 53.7%,#a0a0a0 53.87%,#bfbfbf 54.03%,#dadada 54.19%,#eee 54.36%,#fafafa 54.52%,#fff 54.69%,#fefefe 55.02%,#f9f9f9 55.35%,#cfcfcf 57.15%,#bcbcbc 58.14%,#adadad 59.13%,#a2a2a2 60.12%,#969696 61.6%,#8d8d8d 63.24%,#898989 65.05%,#878787 67.02%,#898989 69.82%,#8e8e8e 73.27%,#959595 76.56%,#9d9d9d 79.19%,#b2b2b2 83.47%,#e6e6e6 91.53%,#f1f1f1 93.5%,#fff 97.29%,#fff 98.93%)"></i><i style="width:4px;background:linear-gradient(#fcfcfc 1.069%,#fcfcfc 6.661%,#fff 13.08%,#fff 44.16%,#fbfbfb 44.49%,#f6f6f6 44.65%,#d9d9d9 45.31%,#c7c7c7 45.64%,#b0b0b0 45.97%,#959595 46.3%,#464646 47.12%,#282828 47.45%,#111 47.78%,#080808 47.94%,#020202 48.11%,#000 48.27%,#000 48.77%,#1c1c1c 49.26%,#292929 49.59%,#313131 49.92%,#343434 50.25%,#323232 50.58%,#2f2f2f 50.74%,#262626 51.07%,#171717 51.4%,#0d0d0d 51.56%,#000 51.73%,#000 52.22%,#010101 52.38%,#080808 52.55%,#131313 52.71%,#222 52.88%,#484848 53.21%,#868686 53.7%,#c4c4c4 54.03%,#dedede 54.19%,#f1f1f1 54.36%,#fcfcfc 54.52%,#fff 54.69%,#fff 54.85%,#f8f8f8 55.35%,#cecece 57.15%,#bbb 58.14%,#acacac 59.13%,#a1a1a1 60.12%,#959595 61.6%,#8d8d8d 63.24%,#888 65.05%,#878787 67.02%,#898989 69.82%,#8e8e8e 73.27%,#959595 76.56%,#9d9d9d 79.19%,#b2b2b2 83.47%,#e6e6e6 91.53%,#f1f1f1 93.5%,#fff 97.29%,#fff 98.93%)"></i><i style="width:10px;background:linear-gradient(#fcfcfc 1.069%,#fcfcfc 6.661%,#fff 13.08%,#fff 44.16%,#fafafa 44.49%,#f6f6f6 44.65%,#d8d8d8 45.31%,#c6c6c6 45.64%,#afafaf 45.97%,#949494 46.3%,#454545 47.12%,#272727 47.45%,#101010 47.78%,#080808 47.94%,#020202 48.11%,#000 48.27%,#000 48.77%,#151515 49.1%,#242424 49.42%,#2e2e2e 49.75%,#343434 50.25%,#2f2f2f 50.74%,#262626 51.07%,#181818 51.4%,#0e0e0e 51.56%,#030303 51.73%,#000 51.89%,#000 52.22%,#010101 52.38%,#080808 52.55%,#131313 52.71%,#222 52.88%,#484848 53.21%,#717171 53.54%,#888 53.7%,#c8c8c8 54.03%,#e2e2e2 54.19%,#f4f4f4 54.36%,#fdfdfd 54.52%,#fff 54.69%,#fff 54.85%,#f7f7f7 55.35%,#d1d1d1 56.99%,#bdbdbd 57.98%,#aeaeae 58.96%,#a1a1a1 60.12%,#959595 61.6%,#8d8d8d 63.24%,#888 65.05%,#878787 67.02%,#888 69.82%,#8d8d8d 73.27%,#949494 76.4%,#9d9d9d 79.19%,#b3b3b3 83.63%,#e6e6e6 91.53%,#f1f1f1 93.5%,#fff 97.29%,#fff 98.93%)"></i></div></div>
<svg width="1497" height="677" viewBox="0 0 1497 677">
<defs><linearGradient id="gU" gradientUnits="userSpaceOnUse" x1="318.7" y1="0" x2="653.2" y2="0"><stop offset="0" stop-color="#000" stop-opacity="0"/><stop offset="0.08" stop-color="#000" stop-opacity="0.9"/><stop offset="0.4" stop-color="#000" stop-opacity="0.85"/><stop offset="0.6" stop-color="#000" stop-opacity="0.55"/><stop offset="0.8" stop-color="#000" stop-opacity="0.3"/><stop offset="1" stop-color="#000" stop-opacity="0"/></linearGradient><linearGradient id="gL1" gradientUnits="userSpaceOnUse" x1="299.5" y1="0" x2="389.8" y2="0"><stop offset="0" stop-color="#000" stop-opacity="0"/><stop offset="0.2" stop-color="#000" stop-opacity="0.9"/><stop offset="0.6" stop-color="#000" stop-opacity="0.7"/><stop offset="1" stop-color="#000" stop-opacity="0"/></linearGradient><linearGradient id="gL2" gradientUnits="userSpaceOnUse" x1="395.6" y1="0" x2="684.0" y2="0"><stop offset="0" stop-color="#000" stop-opacity="0"/><stop offset="0.2" stop-color="#000" stop-opacity="0.6"/><stop offset="0.45" stop-color="#000" stop-opacity="0.9"/><stop offset="1" stop-color="#000" stop-opacity="0.95"/></linearGradient></defs><path d="M318.71 270.03 L324.38 267.91 L330.05 265.99 L335.72 264.28 L341.39 262.59 L347.06 260.92 L352.73 259.26 L358.40 257.61 L364.07 255.96 L369.74 254.32 L375.41 252.69 L381.08 251.06 L386.75 249.45 L392.42 247.87 L398.09 246.31 L403.76 244.75 L409.43 243.20 L415.10 241.65 L420.77 240.08 L426.44 238.50 L432.11 236.91 L437.78 235.33 L443.45 233.75 L449.12 232.16 L454.79 230.58 L460.46 228.99 L466.13 227.40 L471.80 225.81 L477.47 224.22 L483.14 222.63 L488.81 221.04 L494.48 219.45 L500.15 217.86 L505.82 216.27 L511.49 214.68 L517.16 213.09 L522.83 211.50 L528.50 209.91 L534.17 208.32 L539.84 206.73 L545.51 205.14 L551.18 203.55 L556.85 201.97 L562.52 200.38 L568.19 198.80 L573.86 197.21 L579.53 195.63 L585.20 194.04 L590.87 192.46 L596.54 190.88 L602.21 189.29 L607.88 187.71 L613.55 186.12 L619.22 184.54 L624.89 182.96 L630.56 181.37 L636.23 179.79 L641.90 178.20 L647.57 176.61 L653.24 175.03" fill="none" stroke="url(#gU)" stroke-width="1.3"/><path d="M299.48 286.82 L301.02 286.54 L302.55 286.25 L304.08 285.96 L305.61 285.67 L307.14 285.36 L308.67 285.04 L310.20 284.72 L311.74 284.39 L313.27 284.06 L314.80 283.73 L316.33 283.40 L317.86 283.07 L319.39 282.74 L320.93 282.40 L322.46 282.06 L323.99 281.70 L325.52 281.33 L327.05 280.94 L328.58 280.53 L330.11 280.10 L331.65 279.65 L333.18 279.19 L334.71 278.73 L336.24 278.27 L337.77 277.80 L339.30 277.34 L340.84 276.87 L342.37 276.40 L343.90 275.94 L345.43 275.47 L346.96 275.00 L348.49 274.53 L350.02 274.06 L351.56 273.59 L353.09 273.11 L354.62 272.64 L356.15 272.17 L357.68 271.69 L359.21 271.22 L360.75 270.74 L362.28 270.27 L363.81 269.79 L365.34 269.31 L366.87 268.84 L368.40 268.36 L369.94 267.88 L371.47 267.41 L373.00 266.93 L374.53 266.45 L376.06 265.97 L377.59 265.49 L379.12 265.02 L380.66 264.54 L382.19 264.05 L383.72 263.57 L385.25 263.08 L386.78 262.59 L388.31 262.10 L389.85 261.61" fill="none" stroke="url(#gL1)" stroke-width="1.1"/><path d="M395.61 259.74 L400.49 258.15 L405.36 256.56 L410.24 254.96 L415.11 253.37 L419.99 251.79 L424.86 250.22 L429.74 248.66 L434.61 247.09 L439.49 245.52 L444.36 243.96 L449.24 242.39 L454.11 240.83 L458.99 239.26 L463.86 237.70 L468.74 236.14 L473.61 234.58 L478.49 233.02 L483.36 231.46 L488.24 229.89 L493.11 228.33 L497.99 226.77 L502.86 225.21 L507.74 223.65 L512.61 222.09 L517.48 220.53 L522.36 218.97 L527.23 217.41 L532.11 215.85 L536.98 214.29 L541.86 212.73 L546.73 211.16 L551.61 209.60 L556.48 208.04 L561.36 206.47 L566.23 204.91 L571.11 203.34 L575.98 201.78 L580.86 200.21 L585.73 198.64 L590.61 197.08 L595.48 195.51 L600.36 193.94 L605.23 192.38 L610.11 190.81 L614.98 189.25 L619.86 187.68 L624.73 186.11 L629.61 184.55 L634.48 182.98 L639.36 181.42 L644.23 179.85 L649.11 178.29 L653.98 176.73 L658.86 175.16 L663.73 173.60 L668.61 172.04 L673.48 170.48 L678.36 168.92 L683.23 167.36" fill="none" stroke="url(#gL2)" stroke-width="1.2"/><defs><linearGradient id="cb" x1="0" y1="0" x2="0" y2="1"><stop offset="0.000" stop-color="#f9f9f9"/><stop offset="0.040" stop-color="#f8f8f8"/><stop offset="0.080" stop-color="#f6f6f6"/><stop offset="0.120" stop-color="#f4f4f4"/><stop offset="0.160" stop-color="#f0f0f0"/><stop offset="0.200" stop-color="#ececec"/><stop offset="0.240" stop-color="#e7e7e7"/><stop offset="0.280" stop-color="#e1e1e1"/><stop offset="0.320" stop-color="#dadada"/><stop offset="0.360" stop-color="#d3d3d3"/><stop offset="0.400" stop-color="#cbcbcb"/><stop offset="0.440" stop-color="#c3c3c3"/><stop offset="0.480" stop-color="#bababa"/><stop offset="0.520" stop-color="#b0b0b0"/><stop offset="0.560" stop-color="#a5a5a5"/><stop offset="0.600" stop-color="#9a9a9a"/><stop offset="0.640" stop-color="#8f8f8f"/><stop offset="0.680" stop-color="#838383"/><stop offset="0.720" stop-color="#767676"/><stop offset="0.760" stop-color="#686868"/><stop offset="0.800" stop-color="#5a5a5a"/><stop offset="0.840" stop-color="#4c4c4c"/><stop offset="0.880" stop-color="#3d3d3d"/><stop offset="0.920" stop-color="#2d2d2d"/><stop offset="0.960" stop-color="#1d1d1d"/><stop offset="1.000" stop-color="#0c0c0c"/></linearGradient></defs>
<rect x="705.60" y="6.00" width="26.10" height="597.30" fill="url(#cb)"/><rect x="705.60" y="6.00" width="26.10" height="597.30" rx="1" fill="none" stroke="#000" stroke-opacity="0.62" stroke-width="1.3"/><line x1="705.60" y1="484.04" x2="731.70" y2="484.04" stroke="#000" stroke-opacity="0.62" stroke-width="1.3"/><line x1="705.60" y1="364.78" x2="731.70" y2="364.78" stroke="#000" stroke-opacity="0.62" stroke-width="1.3"/><line x1="705.60" y1="245.52" x2="731.70" y2="245.52" stroke="#000" stroke-opacity="0.62" stroke-width="1.3"/><line x1="705.60" y1="126.26" x2="731.70" y2="126.26" stroke="#000" stroke-opacity="0.62" stroke-width="1.3"/><text x="739.4" y="614.60">0</text><text x="739.4" y="497.34">0.2</text><text x="739.4" y="378.08">0.4</text><text x="739.4" y="258.82">0.6</text><text x="739.4" y="139.56">0.8</text><text x="739.6" y="20.30">1</text><text x="752.5" y="308.5">|<tspan class="it">T</tspan> |</text>
<rect x="87.50" y="7.00" width="596.50" height="596.30" fill="none" stroke="#000" stroke-width="1.5"/><path d="M279.92 603.30v-6.90 M279.92 7.00v6.90 M472.34 603.30v-6.90 M472.34 7.00v6.90 M664.76 603.30v-6.90 M664.76 7.00v6.90 M87.50 491.49h6.90 M684.00 491.49h-6.90 M87.50 379.69h6.90 M684.00 379.69h-6.90 M87.50 267.88h6.90 M684.00 267.88h-6.90 M87.50 156.07h6.90 M684.00 156.07h-6.90 M87.50 44.27h6.90 M684.00 44.27h-6.90 " stroke="#000" stroke-width="1.5" fill="none"/><rect x="897.50" y="7.00" width="597.00" height="596.30" fill="none" stroke="#000" stroke-width="1.5"/><path d="M1016.90 603.30v-6.90 M1016.90 7.00v6.90 M1136.30 603.30v-6.90 M1136.30 7.00v6.90 M1255.70 603.30v-6.90 M1255.70 7.00v6.90 M1375.10 603.30v-6.90 M1375.10 7.00v6.90 M897.50 491.49h6.90 M1494.50 491.49h-6.90 M897.50 379.69h6.90 M1494.50 379.69h-6.90 M897.50 267.88h6.90 M1494.50 267.88h-6.90 M897.50 156.07h6.90 M1494.50 156.07h-6.90 M897.50 44.27h6.90 M1494.50 44.27h-6.90 " stroke="#000" stroke-width="1.5" fill="none"/>
<clipPath id="clb"><rect x="895.50" y="7.00" width="601.00" height="598.30"/></clipPath><g clip-path="url(#clb)" fill="none" stroke-linejoin="round"><path d="M897.50 603.30 L898.25 602.57 L898.99 601.84 L899.74 601.10 L900.49 600.37 L901.23 599.64 L901.98 598.91 L902.72 598.18 L903.47 597.45 L904.22 596.71 L904.96 595.98 L905.71 595.25 L906.46 594.52 L907.20 593.79 L907.95 593.06 L908.69 592.32 L909.44 591.59 L910.19 590.86 L910.93 590.13 L911.68 589.40 L912.42 588.66 L913.17 587.93 L913.92 587.20 L914.66 586.47 L915.41 585.74 L916.16 585.01 L916.90 584.27 L917.65 583.54 L918.39 582.81 L919.14 582.08 L919.89 581.35 L920.63 580.62 L921.38 579.88 L922.13 579.15 L922.87 578.42 L923.62 577.69 L924.37 576.96 L925.11 576.22 L925.86 575.49 L926.60 574.76 L927.35 574.03 L928.10 573.30 L928.84 572.57 L929.59 571.83 L930.34 571.10 L931.08 570.37 L931.83 569.64 L932.57 568.91 L933.32 568.18 L934.07 567.44 L934.81 566.71 L935.56 565.98 L936.30 565.25 L937.05 564.52 L937.80 563.78 L938.54 563.05 L939.29 562.32 L940.04 561.59 L940.78 560.86 L941.53 560.13 L942.27 559.39 L943.02 558.66 L943.77 557.93 L944.51 557.20 L945.26 556.47 L946.01 555.73 L946.75 555.00 L947.50 554.27 L948.25 553.54 L948.99 552.81 L949.74 552.08 L950.48 551.34 L951.23 550.61 L951.98 549.88 L952.72 549.15 L953.47 548.42 L954.22 547.69 L954.96 546.95 L955.71 546.22 L956.45 545.49 L957.20 544.76 L957.95 544.03 L958.69 543.29 L959.44 542.56 L960.18 541.83 L960.93 541.10 L961.68 540.37 L962.42 539.64 L963.17 538.90 L963.92 538.17 L964.66 537.44 L965.41 536.71 L966.15 535.98 L966.90 535.25 L967.65 534.51 L968.39 533.78 L969.14 533.05 L969.89 532.32 L970.63 531.59 L971.38 530.85 L972.12 530.12 L972.87 529.39 L973.62 528.66 L974.36 527.93 L975.11 527.20 L975.86 526.46 L976.60 525.73 L977.35 525.00 L978.10 524.27 L978.84 523.54 L979.59 522.81 L980.33 522.07 L981.08 521.34 L981.83 520.61 L982.57 519.88 L983.32 519.15 L984.07 518.41 L984.81 517.68 L985.56 516.95 L986.30 516.22 L987.05 515.49 L987.80 514.76 L988.54 514.02 L989.29 513.29 L990.03 512.56 L990.78 511.83 L991.53 511.10 L992.27 510.37 L993.02 509.63 L993.77 508.90 L994.51 508.17 L995.26 507.44 L996.00 506.71 L996.75 505.97 L997.50 505.24 L998.24 504.51 L998.99 503.78 L999.74 503.05 L1000.48 502.32 L1001.23 501.58 L1001.98 500.85 L1002.72 500.12 L1003.47 499.39 L1004.21 498.66 L1004.96 497.93 L1005.71 497.19 L1006.45 496.46 L1007.20 495.73 L1007.94 495.00 L1008.69 494.27 L1009.44 493.53 L1010.18 492.80 L1010.93 492.07 L1011.68 491.34 L1012.42 490.61 L1013.17 489.88 L1013.91 489.14 L1014.66 488.41 L1015.41 487.68 L1016.15 486.95 L1016.90 486.22 L1017.65 485.48 L1018.39 484.75 L1019.14 484.02 L1019.88 483.29 L1020.63 482.56 L1021.38 481.83 L1022.12 481.09 L1022.87 480.36 L1023.62 479.63 L1024.36 478.90 L1025.11 478.17 L1025.86 477.44 L1026.60 476.70 L1027.35 475.97 L1028.09 475.24 L1028.84 474.51 L1029.59 473.78 L1030.33 473.04 L1031.08 472.31 L1031.83 471.58 L1032.57 470.85 L1033.32 470.12 L1034.06 469.39 L1034.81 468.65 L1035.56 467.92 L1036.30 467.19 L1037.05 466.46 L1037.80 465.73 L1038.54 464.99 L1039.29 464.26 L1040.03 463.53 L1040.78 462.80 L1041.53 462.07 L1042.27 461.34 L1043.02 460.60 L1043.76 459.87 L1044.51 459.14 L1045.26 458.41 L1046.00 457.68 L1046.75 456.95 L1047.50 456.21 L1048.24 455.48 L1048.99 454.75 L1049.74 454.02 L1050.48 453.29 L1051.23 452.55 L1051.97 451.82 L1052.72 451.09 L1053.47 450.36 L1054.21 449.63 L1054.96 448.90 L1055.70 448.16 L1056.45 447.43 L1057.20 446.70 L1057.94 445.97 L1058.69 445.24 L1059.44 444.50 L1060.18 443.77 L1060.93 443.04 L1061.67 442.31 L1062.42 441.58 L1063.17 440.85 L1063.91 440.11 L1064.66 439.38 L1065.41 438.65 L1066.15 437.92 L1066.90 437.19 L1067.64 436.45 L1068.39 435.72 L1069.14 434.99 L1069.88 434.26 L1070.63 433.53 L1071.38 432.80 L1072.12 432.06 L1072.87 431.33 L1073.62 430.60 L1074.36 429.87 L1075.11 429.14 L1075.85 428.40 L1076.60 427.67 L1077.35 426.94 L1078.09 426.21 L1078.84 425.48 L1079.59 424.74 L1080.33 424.01 L1081.08 423.28 L1081.82 422.55 L1082.57 421.82 L1083.32 421.09 L1084.06 420.35 L1084.81 419.62 L1085.56 418.89 L1086.30 418.16 L1087.05 417.43 L1087.79 416.69 L1088.54 415.96 L1089.29 415.23 L1090.03 414.50 L1090.78 413.77 L1091.53 413.03 L1092.27 412.30 L1093.02 411.57 L1093.76 410.84 L1094.51 410.11 L1095.26 409.37 L1096.00 408.64 L1096.75 407.91 L1097.49 407.18 L1098.24 406.45 L1098.99 405.72 L1099.73 404.98 L1100.48 404.25 L1101.23 403.52 L1101.97 402.79 L1102.72 402.06 L1103.46 401.32 L1104.21 400.59 L1104.96 399.86 L1105.70 399.13 L1106.45 398.40 L1107.20 397.66 L1107.94 396.93 L1108.69 396.20 L1109.43 395.47 L1110.18 394.74 L1110.93 394.00 L1111.67 393.27 L1112.42 392.54 L1113.17 391.81 L1113.91 391.08 L1114.66 390.34 L1115.40 389.61 L1116.15 388.88 L1116.90 388.15 L1117.64 387.41 L1118.39 386.68 L1119.14 385.95 L1119.88 385.22 L1120.63 384.49 L1121.38 383.75 L1122.12 383.02 L1122.87 382.29 L1123.61 381.56 L1124.36 380.83 L1125.11 380.09 L1125.85 379.36 L1126.60 378.63 L1127.35 377.90 L1128.09 377.16 L1128.84 376.43 L1129.58 375.70 L1130.33 374.97 L1131.08 374.24 L1131.82 373.50 L1132.57 372.77 L1133.32 372.04 L1134.06 371.31 L1134.81 370.58 L1135.55 369.84 L1136.30 369.11 L1137.05 368.38 L1137.79 367.65 L1138.54 366.91 L1139.29 366.18 L1140.03 365.45 L1140.78 364.72 L1141.52 363.98 L1142.27 363.25 L1143.02 362.52 L1143.76 361.79 L1144.51 361.05 L1145.26 360.32 L1146.00 359.59 L1146.75 358.86 L1147.49 358.13 L1148.24 357.39 L1148.99 356.66 L1149.73 355.93 L1150.48 355.20 L1151.22 354.46 L1151.97 353.73 L1152.72 353.00 L1153.46 352.27 L1154.21 351.53 L1154.96 350.80 L1155.70 350.07 L1156.45 349.34 L1157.19 348.60 L1157.94 347.87 L1158.69 347.14 L1159.43 346.40 L1160.18 345.67 L1160.93 344.94 L1161.67 344.21 L1162.42 343.47 L1163.16 342.74 L1163.91 342.01 L1164.66 341.28 L1165.40 340.54 L1166.15 339.81 L1166.90 339.08 L1167.64 338.34 L1168.39 337.61 L1169.13 336.88 L1169.88 336.15 L1170.63 335.41 L1171.37 334.68 L1172.12 333.95 L1172.87 333.21 L1173.61 332.48 L1174.36 331.75 L1175.11 331.02 L1175.85 330.28 L1176.60 329.55 L1177.34 328.82 L1178.09 328.08 L1178.84 327.35 L1179.58 326.62 L1180.33 325.88 L1181.08 325.15 L1181.82 324.42 L1182.57 323.68 L1183.31 322.95 L1184.06 322.22 L1184.81 321.48 L1185.55 320.75 L1186.30 320.02 L1187.05 319.28 L1187.79 318.55 L1188.54 317.82 L1189.28 317.08 L1190.03 316.35 L1190.78 315.62 L1191.52 314.88 L1192.27 314.15 L1193.01 313.42 L1193.76 312.68 L1194.51 311.95 L1195.25 311.22 L1196.00 310.48 L1196.75 309.75 L1197.49 309.01 L1198.24 308.28 L1198.99 307.55 L1199.73 306.81 L1200.48 306.08 L1201.22 305.35 L1201.97 304.61 L1202.72 303.88 L1203.46 303.14 L1204.21 302.41 L1204.95 301.68 L1205.70 300.94 L1206.45 300.21 L1207.19 299.47 L1207.94 298.74 L1208.69 298.00 L1209.43 297.27 L1210.18 296.54 L1210.92 295.80 L1211.67 295.07 L1212.42 294.33 L1213.16 293.60 L1213.91 292.86 L1214.66 292.13 L1215.40 291.40 L1216.15 290.66 L1216.89 289.93 L1217.64 289.19 L1218.39 288.46 L1219.13 287.72 L1219.88 286.99 L1220.63 286.25 L1221.37 285.52 L1222.12 284.78 L1222.87 284.05 L1223.61 283.31 L1224.36 282.58 L1225.10 281.84 L1225.85 281.11 L1226.60 280.37 L1227.34 279.64 L1228.09 278.90 L1228.84 278.17 L1229.58 277.43 L1230.33 276.70 L1231.07 275.96 L1231.82 275.22 L1232.57 274.49 L1233.31 273.75 L1234.06 273.02 L1234.81 272.28 L1235.55 271.55 L1236.30 270.81 L1237.04 270.07 L1237.79 269.34 L1238.54 268.60 L1239.28 267.87 L1240.03 267.13 L1240.78 266.39 L1241.52 265.66 L1242.27 264.92 L1243.01 264.18 L1243.76 263.45 L1244.51 262.71 L1245.25 261.98 L1246.00 261.24 L1246.74 260.50 L1247.49 259.77 L1248.24 259.03 L1248.98 258.29 L1249.73 257.55 L1250.48 256.82 L1251.22 256.08 L1251.97 255.34 L1252.71 254.61 L1253.46 253.87 L1254.21 253.13 L1254.95 252.39 L1255.70 251.66 L1256.45 250.92 L1257.19 250.18 L1257.94 249.44 L1258.68 248.71 L1259.43 247.97 L1260.18 247.23 L1260.92 246.49 L1261.67 245.75 L1262.42 245.02 L1263.16 244.28 L1263.91 243.54 L1264.65 242.80 L1265.40 242.06 L1266.15 241.32 L1266.89 240.59 L1267.64 239.85 L1268.39 239.11 L1269.13 238.37 L1269.88 237.63 L1270.62 236.89 L1271.37 236.15 L1272.12 235.41 L1272.86 234.67 L1273.61 233.93 L1274.36 233.19 L1275.10 232.46 L1275.85 231.72 L1276.60 230.98 L1277.34 230.24 L1278.09 229.50 L1278.83 228.76 L1279.58 228.02 L1280.33 227.28 L1281.07 226.54 L1281.82 225.79 L1282.57 225.05 L1283.31 224.31 L1284.06 223.57 L1284.80 222.83 L1285.55 222.09 L1286.30 221.35 L1287.04 220.61 L1287.79 219.87 L1288.54 219.13 L1289.28 218.38 L1290.03 217.64 L1290.77 216.90 L1291.52 216.16 L1292.27 215.42 L1293.01 214.67 L1293.76 213.93 L1294.51 213.19 L1295.25 212.45 L1296.00 211.71 L1296.74 210.96 L1297.49 210.22 L1298.24 209.48 L1298.98 208.73 L1299.73 207.99 L1300.47 207.25 L1301.22 206.50 L1301.97 205.76 L1302.71 205.02 L1303.46 204.27 L1304.21 203.53 L1304.95 202.78 L1305.70 202.04 L1306.45 201.30 L1307.19 200.55 L1307.94 199.81 L1308.68 199.06 L1309.43 198.32 L1310.18 197.57 L1310.92 196.83 L1311.67 196.08 L1312.41 195.34 L1313.16 194.59 L1313.91 193.84 L1314.65 193.10 L1315.40 192.35 L1316.15 191.61 L1316.89 190.86 L1317.64 190.11 L1318.38 189.37 L1319.13 188.62 L1319.88 187.87 L1320.62 187.12 L1321.37 186.38 L1322.12 185.63 L1322.86 184.88 L1323.61 184.13 L1324.36 183.39 L1325.10 182.64 L1325.85 181.89 L1326.59 181.14 L1327.34 180.39 L1328.09 179.64 L1328.83 178.89 L1329.58 178.14 L1330.33 177.39 L1331.07 176.64 L1331.82 175.89 L1332.56 175.14 L1333.31 174.39 L1334.06 173.64 L1334.80 172.89 L1335.55 172.14 L1336.30 171.39 L1337.04 170.64 L1337.79 169.89 L1338.53 169.14 L1339.28 168.38 L1340.03 167.63 L1340.77 166.88 L1341.52 166.13 L1342.26 165.38 L1343.01 164.62 L1343.76 163.87 L1344.50 163.12 L1345.25 162.36 L1346.00 161.61 L1346.74 160.85 L1347.49 160.10 L1348.24 159.35 L1348.98 158.59 L1349.73 157.84 L1350.47 157.08 L1351.22 156.33 L1351.97 155.57 L1352.71 154.81 L1353.46 154.06 L1354.20 153.30 L1354.95 152.55 L1355.70 151.79 L1356.44 151.03 L1357.19 150.27 L1357.94 149.52 L1358.68 148.76 L1359.43 148.00 L1360.17 147.24 L1360.92 146.48 L1361.67 145.73 L1362.41 144.97 L1363.16 144.21 L1363.91 143.45 L1364.65 142.69 L1365.40 141.93 L1366.14 141.17 L1366.89 140.41 L1367.64 139.65 L1368.38 138.88 L1369.13 138.12 L1369.88 137.36 L1370.62 136.60 L1371.37 135.84 L1372.12 135.07 L1372.86 134.31 L1373.61 133.55 L1374.35 132.78 L1375.10 132.02 L1375.85 131.26 L1376.59 130.49 L1377.34 129.73 L1378.09 128.96 L1378.83 128.20 L1379.58 127.43 L1380.32 126.67 L1381.07 125.90 L1381.82 125.13 L1382.56 124.37 L1383.31 123.60 L1384.06 122.83 L1384.80 122.06 L1385.55 121.29 L1386.29 120.53 L1387.04 119.76 L1387.79 118.99 L1388.53 118.22 L1389.28 117.45 L1390.03 116.68 L1390.77 115.91 L1391.52 115.14 L1392.26 114.36 L1393.01 113.59 L1393.76 112.82 L1394.50 112.05 L1395.25 111.27 L1395.99 110.50 L1396.74 109.73 L1397.49 108.95 L1398.23 108.18 L1398.98 107.40 L1399.73 106.63 L1400.47 105.85 L1401.22 105.08 L1401.96 104.30 L1402.71 103.52 L1403.46 102.75 L1404.20 101.97 L1404.95 101.19 L1405.70 100.41 L1406.44 99.64 L1407.19 98.86 L1407.93 98.08 L1408.68 97.30 L1409.43 96.52 L1410.17 95.74 L1410.92 94.95 L1411.67 94.17 L1412.41 93.39 L1413.16 92.61 L1413.90 91.82 L1414.65 91.04 L1415.40 90.26 L1416.14 89.47 L1416.89 88.69 L1417.64 87.90 L1418.38 87.12 L1419.13 86.33 L1419.88 85.54 L1420.62 84.76 L1421.37 83.97 L1422.11 83.18 L1422.86 82.39 L1423.61 81.60 L1424.35 80.81 L1425.10 80.02 L1425.85 79.23 L1426.59 78.44 L1427.34 77.65 L1428.08 76.86 L1428.83 76.07 L1429.58 75.27 L1430.32 74.48 L1431.07 73.68 L1431.82 72.89 L1432.56 72.09 L1433.31 71.30 L1434.05 70.50 L1434.80 69.71 L1435.55 68.91 L1436.29 68.11 L1437.04 67.31 L1437.78 66.51 L1438.53 65.71 L1439.28 64.91 L1440.02 64.11 L1440.77 63.31 L1441.52 62.51 L1442.26 61.71 L1443.01 60.90 L1443.76 60.10 L1444.50 59.30 L1445.25 58.49 L1445.99 57.69 L1446.74 56.88 L1447.49 56.07 L1448.23 55.27 L1448.98 54.46 L1449.72 53.65 L1450.47 52.84 L1451.22 52.03 L1451.96 51.22 L1452.71 50.41 L1453.46 49.60 L1454.20 48.79 L1454.95 47.97 L1455.70 47.16 L1456.44 46.34 L1457.19 45.53 L1457.93 44.71 L1458.68 43.90 L1459.43 43.08 L1460.17 42.26 L1460.92 41.44 L1461.66 40.63 L1462.41 39.81 L1463.16 38.99 L1463.90 38.16 L1464.65 37.34 L1465.40 36.52 L1466.14 35.70 L1466.89 34.87 L1467.63 34.05 L1468.38 33.22 L1469.13 32.40 L1469.87 31.57 L1470.62 30.74 L1471.37 29.91 L1472.11 29.09 L1472.86 28.26 L1473.61 27.42 L1474.35 26.59 L1475.10 25.76 L1475.84 24.93 L1476.59 24.09 L1477.34 23.26 L1478.08 22.42 L1478.83 21.59 L1479.57 20.75 L1480.32 19.91 L1481.07 19.07 L1481.81 18.24 L1482.56 17.40 L1483.31 16.55 L1484.05 15.71 L1484.80 14.87 L1485.55 14.03 L1486.29 13.18 L1487.04 12.34 L1487.78 11.49 L1488.53 10.64 L1489.28 9.79 L1490.02 8.95 L1490.77 8.10 L1491.51 7.25 L1492.26 6.39 L1493.01 5.54 L1493.75 4.69 L1494.50 3.83" stroke="#000000" stroke-width="3.00"/><path d="M897.50 603.30 L898.25 602.57 L898.99 601.84 L899.74 601.10 L900.49 600.37 L901.23 599.64 L901.98 598.91 L902.72 598.18 L903.47 597.45 L904.22 596.71 L904.96 595.98 L905.71 595.25 L906.46 594.52 L907.20 593.79 L907.95 593.06 L908.69 592.33 L909.44 591.59 L910.19 590.86 L910.93 590.13 L911.68 589.40 L912.42 588.67 L913.17 587.94 L913.92 587.21 L914.66 586.48 L915.41 585.74 L916.16 585.01 L916.90 584.28 L917.65 583.55 L918.39 582.82 L919.14 582.09 L919.89 581.36 L920.63 580.63 L921.38 579.90 L922.13 579.17 L922.87 578.44 L923.62 577.71 L924.37 576.98 L925.11 576.25 L925.86 575.52 L926.60 574.79 L927.35 574.06 L928.10 573.33 L928.84 572.60 L929.59 571.87 L930.34 571.14 L931.08 570.41 L931.83 569.68 L932.57 568.96 L933.32 568.23 L934.07 567.50 L934.81 566.77 L935.56 566.04 L936.30 565.31 L937.05 564.59 L937.80 563.86 L938.54 563.13 L939.29 562.40 L940.04 561.68 L940.78 560.95 L941.53 560.22 L942.27 559.50 L943.02 558.77 L943.77 558.04 L944.51 557.32 L945.26 556.59 L946.01 555.86 L946.75 555.14 L947.50 554.41 L948.25 553.69 L948.99 552.96 L949.74 552.24 L950.48 551.51 L951.23 550.79 L951.98 550.06 L952.72 549.34 L953.47 548.62 L954.22 547.89 L954.96 547.17 L955.71 546.44 L956.45 545.72 L957.20 545.00 L957.95 544.28 L958.69 543.55 L959.44 542.83 L960.18 542.11 L960.93 541.39 L961.68 540.67 L962.42 539.95 L963.17 539.22 L963.92 538.50 L964.66 537.78 L965.41 537.06 L966.15 536.34 L966.90 535.62 L967.65 534.90 L968.39 534.18 L969.14 533.47 L969.89 532.75 L970.63 532.03 L971.38 531.31 L972.12 530.59 L972.87 529.87 L973.62 529.16 L974.36 528.44 L975.11 527.72 L975.86 527.01 L976.60 526.29 L977.35 525.58 L978.10 524.86 L978.84 524.14 L979.59 523.43 L980.33 522.72 L981.08 522.00 L981.83 521.29 L982.57 520.57 L983.32 519.86 L984.07 519.15 L984.81 518.43 L985.56 517.72 L986.30 517.01 L987.05 516.30 L987.80 515.59 L988.54 514.88 L989.29 514.16 L990.03 513.45 L990.78 512.74 L991.53 512.03 L992.27 511.33 L993.02 510.62 L993.77 509.91 L994.51 509.20 L995.26 508.49 L996.00 507.78 L996.75 507.08 L997.50 506.37 L998.24 505.66 L998.99 504.96 L999.74 504.25 L1000.48 503.55 L1001.23 502.84 L1001.98 502.14 L1002.72 501.43 L1003.47 500.73 L1004.21 500.03 L1004.96 499.32 L1005.71 498.62 L1006.45 497.92 L1007.20 497.22 L1007.94 496.52 L1008.69 495.81 L1009.44 495.11 L1010.18 494.41 L1010.93 493.71 L1011.68 493.02 L1012.42 492.32 L1013.17 491.62 L1013.91 490.92 L1014.66 490.22 L1015.41 489.53 L1016.15 488.83 L1016.90 488.13 L1017.65 487.44 L1018.39 486.74 L1019.14 486.05 L1019.88 485.35 L1020.63 484.66 L1021.38 483.97 L1022.12 483.27 L1022.87 482.58 L1023.62 481.89 L1024.36 481.20 L1025.11 480.51 L1025.86 479.81 L1026.60 479.12 L1027.35 478.43 L1028.09 477.75 L1028.84 477.06 L1029.59 476.37 L1030.33 475.68 L1031.08 474.99 L1031.83 474.31 L1032.57 473.62 L1033.32 472.93 L1034.06 472.25 L1034.81 471.56 L1035.56 470.88 L1036.30 470.20 L1037.05 469.51 L1037.80 468.83 L1038.54 468.15 L1039.29 467.47 L1040.03 466.79 L1040.78 466.10 L1041.53 465.42 L1042.27 464.74 L1043.02 464.07 L1043.76 463.39 L1044.51 462.71 L1045.26 462.03 L1046.00 461.36 L1046.75 460.68 L1047.50 460.00 L1048.24 459.33 L1048.99 458.65 L1049.74 457.98 L1050.48 457.31 L1051.23 456.63 L1051.97 455.96 L1052.72 455.29 L1053.47 454.62 L1054.21 453.95 L1054.96 453.28 L1055.70 452.61 L1056.45 451.94 L1057.20 451.27 L1057.94 450.60 L1058.69 449.93 L1059.44 449.27 L1060.18 448.60 L1060.93 447.94 L1061.67 447.27 L1062.42 446.61 L1063.17 445.94 L1063.91 445.28 L1064.66 444.62 L1065.41 443.96 L1066.15 443.29 L1066.90 442.63 L1067.64 441.97 L1068.39 441.31 L1069.14 440.66 L1069.88 440.00 L1070.63 439.34 L1071.38 438.68 L1072.12 438.03 L1072.87 437.37 L1073.62 436.72 L1074.36 436.06 L1075.11 435.41 L1075.85 434.76 L1076.60 434.10 L1077.35 433.45 L1078.09 432.80 L1078.84 432.15 L1079.59 431.50 L1080.33 430.85 L1081.08 430.20 L1081.82 429.56 L1082.57 428.91 L1083.32 428.26 L1084.06 427.62 L1084.81 426.97 L1085.56 426.33 L1086.30 425.68 L1087.05 425.04 L1087.79 424.40 L1088.54 423.76 L1089.29 423.12 L1090.03 422.48 L1090.78 421.84 L1091.53 421.20 L1092.27 420.56 L1093.02 419.92 L1093.76 419.28 L1094.51 418.65 L1095.26 418.01 L1096.00 417.38 L1096.75 416.75 L1097.49 416.11 L1098.24 415.48 L1098.99 414.85 L1099.73 414.22 L1100.48 413.59 L1101.23 412.96 L1101.97 412.33 L1102.72 411.70 L1103.46 411.07 L1104.21 410.45 L1104.96 409.82 L1105.70 409.20 L1106.45 408.57 L1107.20 407.95 L1107.94 407.32 L1108.69 406.70 L1109.43 406.08 L1110.18 405.46 L1110.93 404.84 L1111.67 404.22 L1112.42 403.60 L1113.17 402.99 L1113.91 402.37 L1114.66 401.75 L1115.40 401.14 L1116.15 400.52 L1116.90 399.91 L1117.64 399.30 L1118.39 398.69 L1119.14 398.07 L1119.88 397.46 L1120.63 396.85 L1121.38 396.25 L1122.12 395.64 L1122.87 395.03 L1123.61 394.42 L1124.36 393.82 L1125.11 393.21 L1125.85 392.61 L1126.60 392.01 L1127.35 391.40 L1128.09 390.80 L1128.84 390.20 L1129.58 389.60 L1130.33 389.00 L1131.08 388.40 L1131.82 387.81 L1132.57 387.21 L1133.32 386.61 L1134.06 386.02 L1134.81 385.43 L1135.55 384.83 L1136.30 384.24 L1137.05 383.65 L1137.79 383.06 L1138.54 382.47 L1139.29 381.88 L1140.03 381.29 L1140.78 380.70 L1141.52 380.12 L1142.27 379.53 L1143.02 378.95 L1143.76 378.36 L1144.51 377.78 L1145.26 377.20 L1146.00 376.62 L1146.75 376.04 L1147.49 375.46 L1148.24 374.88 L1148.99 374.30 L1149.73 373.72 L1150.48 373.15 L1151.22 372.57 L1151.97 372.00 L1152.72 371.42 L1153.46 370.85 L1154.21 370.28 L1154.96 369.71 L1155.70 369.14 L1156.45 368.57 L1157.19 368.00 L1157.94 367.44 L1158.69 366.87 L1159.43 366.30 L1160.18 365.74 L1160.93 365.18 L1161.67 364.61 L1162.42 364.05 L1163.16 363.49 L1163.91 362.93 L1164.66 362.37 L1165.40 361.82 L1166.15 361.26 L1166.90 360.70 L1167.64 360.15 L1168.39 359.59 L1169.13 359.04 L1169.88 358.49 L1170.63 357.94 L1171.37 357.39 L1172.12 356.84 L1172.87 356.29 L1173.61 355.74 L1174.36 355.19 L1175.11 354.65 L1175.85 354.10 L1176.60 353.56 L1177.34 353.02 L1178.09 352.48 L1178.84 351.94 L1179.58 351.40 L1180.33 350.86 L1181.08 350.32 L1181.82 349.78 L1182.57 349.25 L1183.31 348.71 L1184.06 348.18 L1184.81 347.64 L1185.55 347.11 L1186.30 346.58 L1187.05 346.05 L1187.79 345.52 L1188.54 345.00 L1189.28 344.47 L1190.03 343.94 L1190.78 343.42 L1191.52 342.89 L1192.27 342.37 L1193.01 341.85 L1193.76 341.33 L1194.51 340.81 L1195.25 340.29 L1196.00 339.77 L1196.75 339.25 L1197.49 338.74 L1198.24 338.22 L1198.99 337.71 L1199.73 337.20 L1200.48 336.68 L1201.22 336.17 L1201.97 335.66 L1202.72 335.15 L1203.46 334.65 L1204.21 334.14 L1204.95 333.63 L1205.70 333.13 L1206.45 332.63 L1207.19 332.12 L1207.94 331.62 L1208.69 331.12 L1209.43 330.62 L1210.18 330.12 L1210.92 329.63 L1211.67 329.13 L1212.42 328.64 L1213.16 328.14 L1213.91 327.65 L1214.66 327.16 L1215.40 326.67 L1216.15 326.18 L1216.89 325.69 L1217.64 325.20 L1218.39 324.71 L1219.13 324.23 L1219.88 323.74 L1220.63 323.26 L1221.37 322.78 L1222.12 322.30 L1222.87 321.82 L1223.61 321.34 L1224.36 320.86 L1225.10 320.38 L1225.85 319.91 L1226.60 319.43 L1227.34 318.96 L1228.09 318.49 L1228.84 318.01 L1229.58 317.54 L1230.33 317.07 L1231.07 316.61 L1231.82 316.14 L1232.57 315.67 L1233.31 315.21 L1234.06 314.74 L1234.81 314.28 L1235.55 313.82 L1236.30 313.36 L1237.04 312.90 L1237.79 312.44 L1238.54 311.99 L1239.28 311.53 L1240.03 311.08 L1240.78 310.62 L1241.52 310.17 L1242.27 309.72 L1243.01 309.27 L1243.76 308.82 L1244.51 308.37 L1245.25 307.92 L1246.00 307.48 L1246.74 307.03 L1247.49 306.59 L1248.24 306.15 L1248.98 305.71 L1249.73 305.27 L1250.48 304.83 L1251.22 304.39 L1251.97 303.95 L1252.71 303.52 L1253.46 303.09 L1254.21 302.65 L1254.95 302.22 L1255.70 301.79 L1256.45 301.36 L1257.19 300.93 L1257.94 300.50 L1258.68 300.08 L1259.43 299.65 L1260.18 299.23 L1260.92 298.81 L1261.67 298.39 L1262.42 297.97 L1263.16 297.55 L1263.91 297.13 L1264.65 296.71 L1265.40 296.30 L1266.15 295.88 L1266.89 295.47 L1267.64 295.06 L1268.39 294.65 L1269.13 294.24 L1269.88 293.83 L1270.62 293.42 L1271.37 293.02 L1272.12 292.61 L1272.86 292.21 L1273.61 291.81 L1274.36 291.40 L1275.10 291.00 L1275.85 290.61 L1276.60 290.21 L1277.34 289.81 L1278.09 289.42 L1278.83 289.02 L1279.58 288.63 L1280.33 288.24 L1281.07 287.85 L1281.82 287.46 L1282.57 287.07 L1283.31 286.68 L1284.06 286.30 L1284.80 285.91 L1285.55 285.53 L1286.30 285.15 L1287.04 284.77 L1287.79 284.39 L1288.54 284.01 L1289.28 283.64 L1290.03 283.26 L1290.77 282.89 L1291.52 282.51 L1292.27 282.14 L1293.01 281.77 L1293.76 281.40 L1294.51 281.03 L1295.25 280.67 L1296.00 280.30 L1296.74 279.94 L1297.49 279.57 L1298.24 279.21 L1298.98 278.85 L1299.73 278.49 L1300.47 278.13 L1301.22 277.77 L1301.97 277.42 L1302.71 277.06 L1303.46 276.71 L1304.21 276.36 L1304.95 276.01 L1305.70 275.66 L1306.45 275.31 L1307.19 274.96 L1307.94 274.62 L1308.68 274.27 L1309.43 273.93 L1310.18 273.59 L1310.92 273.25 L1311.67 272.91 L1312.41 272.57 L1313.16 272.24 L1313.91 271.90 L1314.65 271.57 L1315.40 271.23 L1316.15 270.90 L1316.89 270.57 L1317.64 270.24 L1318.38 269.91 L1319.13 269.59 L1319.88 269.26 L1320.62 268.94 L1321.37 268.62 L1322.12 268.30 L1322.86 267.98 L1323.61 267.66 L1324.36 267.34 L1325.10 267.02 L1325.85 266.71 L1326.59 266.39 L1327.34 266.08 L1328.09 265.77 L1328.83 265.46 L1329.58 265.15 L1330.33 264.85 L1331.07 264.54 L1331.82 264.24 L1332.56 263.93 L1333.31 263.63 L1334.06 263.33 L1334.80 263.03 L1335.55 262.73 L1336.30 262.44 L1337.04 262.14 L1337.79 261.85 L1338.53 261.56 L1339.28 261.26 L1340.03 260.97 L1340.77 260.69 L1341.52 260.40 L1342.26 260.11 L1343.01 259.83 L1343.76 259.54 L1344.50 259.26 L1345.25 258.98 L1346.00 258.70 L1346.74 258.42 L1347.49 258.15 L1348.24 257.87 L1348.98 257.60 L1349.73 257.33 L1350.47 257.05 L1351.22 256.78 L1351.97 256.52 L1352.71 256.25 L1353.46 255.98 L1354.20 255.72 L1354.95 255.45 L1355.70 255.19 L1356.44 254.93 L1357.19 254.67 L1357.94 254.41 L1358.68 254.16 L1359.43 253.90 L1360.17 253.65 L1360.92 253.40 L1361.67 253.14 L1362.41 252.89 L1363.16 252.65 L1363.91 252.40 L1364.65 252.15 L1365.40 251.91 L1366.14 251.66 L1366.89 251.42 L1367.64 251.18 L1368.38 250.94 L1369.13 250.71 L1369.88 250.47 L1370.62 250.23 L1371.37 250.00 L1372.12 249.77 L1372.86 249.54 L1373.61 249.31 L1374.35 249.08 L1375.10 248.85 L1375.85 248.63 L1376.59 248.40 L1377.34 248.18 L1378.09 247.96 L1378.83 247.74 L1379.58 247.52 L1380.32 247.30 L1381.07 247.09 L1381.82 246.87 L1382.56 246.66 L1383.31 246.45 L1384.06 246.24 L1384.80 246.03 L1385.55 245.82 L1386.29 245.62 L1387.04 245.41 L1387.79 245.21 L1388.53 245.00 L1389.28 244.80 L1390.03 244.60 L1390.77 244.41 L1391.52 244.21 L1392.26 244.02 L1393.01 243.82 L1393.76 243.63 L1394.50 243.44 L1395.25 243.25 L1395.99 243.06 L1396.74 242.87 L1397.49 242.69 L1398.23 242.50 L1398.98 242.32 L1399.73 242.14 L1400.47 241.96 L1401.22 241.78 L1401.96 241.60 L1402.71 241.43 L1403.46 241.25 L1404.20 241.08 L1404.95 240.91 L1405.70 240.74 L1406.44 240.57 L1407.19 240.40 L1407.93 240.24 L1408.68 240.07 L1409.43 239.91 L1410.17 239.75 L1410.92 239.59 L1411.67 239.43 L1412.41 239.27 L1413.16 239.12 L1413.90 238.96 L1414.65 238.81 L1415.40 238.66 L1416.14 238.50 L1416.89 238.36 L1417.64 238.21 L1418.38 238.06 L1419.13 237.92 L1419.88 237.77 L1420.62 237.63 L1421.37 237.49 L1422.11 237.35 L1422.86 237.21 L1423.61 237.08 L1424.35 236.94 L1425.10 236.81 L1425.85 236.68 L1426.59 236.55 L1427.34 236.42 L1428.08 236.29 L1428.83 236.16 L1429.58 236.04 L1430.32 235.91 L1431.07 235.79 L1431.82 235.67 L1432.56 235.55 L1433.31 235.43 L1434.05 235.32 L1434.80 235.20 L1435.55 235.09 L1436.29 234.97 L1437.04 234.86 L1437.78 234.75 L1438.53 234.65 L1439.28 234.54 L1440.02 234.43 L1440.77 234.33 L1441.52 234.23 L1442.26 234.13 L1443.01 234.03 L1443.76 233.93 L1444.50 233.83 L1445.25 233.74 L1445.99 233.64 L1446.74 233.55 L1447.49 233.46 L1448.23 233.37 L1448.98 233.28 L1449.72 233.20 L1450.47 233.11 L1451.22 233.03 L1451.96 232.94 L1452.71 232.86 L1453.46 232.78 L1454.20 232.71 L1454.95 232.63 L1455.70 232.55 L1456.44 232.48 L1457.19 232.41 L1457.93 232.34 L1458.68 232.27 L1459.43 232.20 L1460.17 232.13 L1460.92 232.07 L1461.66 232.00 L1462.41 231.94 L1463.16 231.88 L1463.90 231.82 L1464.65 231.76 L1465.40 231.70 L1466.14 231.65 L1466.89 231.60 L1467.63 231.54 L1468.38 231.49 L1469.13 231.44 L1469.87 231.39 L1470.62 231.35 L1471.37 231.30 L1472.11 231.26 L1472.86 231.22 L1473.61 231.18 L1474.35 231.14 L1475.10 231.10 L1475.84 231.06 L1476.59 231.03 L1477.34 230.99 L1478.08 230.96 L1478.83 230.93 L1479.57 230.90 L1480.32 230.87 L1481.07 230.85 L1481.81 230.82 L1482.56 230.80 L1483.31 230.77 L1484.05 230.75 L1484.80 230.73 L1485.55 230.72 L1486.29 230.70 L1487.04 230.68 L1487.78 230.67 L1488.53 230.66 L1489.28 230.65 L1490.02 230.64 L1490.77 230.63 L1491.51 230.62 L1492.26 230.62 L1493.01 230.62 L1493.75 230.61 L1494.50 230.61" stroke="#000000" stroke-width="3.00" stroke-dasharray="2.7 3.1"/><path d="M897.50 603.30 L898.25 601.58 L898.99 599.87 L899.74 598.15 L900.49 596.44 L901.23 594.72 L901.98 593.00 L902.72 591.29 L903.47 589.57 L904.22 587.86 L904.96 586.15 L905.71 584.43 L906.46 582.72 L907.20 581.01 L907.95 579.29 L908.69 577.58 L909.44 575.87 L910.19 574.16 L910.93 572.45 L911.68 570.74 L912.42 569.03 L913.17 567.33 L913.92 565.62 L914.66 563.92 L915.41 562.21 L916.16 560.51 L916.90 558.81 L917.65 557.11 L918.39 555.41 L919.14 553.71 L919.89 552.01 L920.63 550.31 L921.38 548.62 L922.13 546.93 L922.87 545.23 L923.62 543.54 L924.37 541.86 L925.11 540.17 L925.86 538.48 L926.60 536.80 L927.35 535.12 L928.10 533.43 L928.84 531.76 L929.59 530.08 L930.34 528.40 L931.08 526.73 L931.83 525.06 L932.57 523.39 L933.32 521.72 L934.07 520.06 L934.81 518.39 L935.56 516.73 L936.30 515.07 L937.05 513.42 L937.80 511.76 L938.54 510.11 L939.29 508.46 L940.04 506.81 L940.78 505.17 L941.53 503.53 L942.27 501.89 L943.02 500.25 L943.77 498.62 L944.51 496.98 L945.26 495.35 L946.01 493.73 L946.75 492.10 L947.50 490.48 L948.25 488.87 L948.99 487.25 L949.74 485.64 L950.48 484.03 L951.23 482.42 L951.98 480.82 L952.72 479.22 L953.47 477.63 L954.22 476.03 L954.96 474.44 L955.71 472.86 L956.45 471.27 L957.20 469.69 L957.95 468.12 L958.69 466.54 L959.44 464.97 L960.18 463.41 L960.93 461.84 L961.68 460.29 L962.42 458.73 L963.17 457.18 L963.92 455.63 L964.66 454.09 L965.41 452.55 L966.15 451.01 L966.90 449.48 L967.65 447.95 L968.39 446.43 L969.14 444.91 L969.89 443.39 L970.63 441.88 L971.38 440.37 L972.12 438.87 L972.87 437.37 L973.62 435.87 L974.36 434.38 L975.11 432.90 L975.86 431.41 L976.60 429.94 L977.35 428.46 L978.10 427.00 L978.84 425.53 L979.59 424.07 L980.33 422.62 L981.08 421.17 L981.83 419.72 L982.57 418.28 L983.32 416.85 L984.07 415.42 L984.81 413.99 L985.56 412.57 L986.30 411.16 L987.05 409.74 L987.80 408.34 L988.54 406.94 L989.29 405.54 L990.03 404.15 L990.78 402.77 L991.53 401.39 L992.27 400.01 L993.02 398.64 L993.77 397.28 L994.51 395.92 L995.26 394.57 L996.00 393.22 L996.75 391.88 L997.50 390.54 L998.24 389.21 L998.99 387.89 L999.74 386.57 L1000.48 385.26 L1001.23 383.95 L1001.98 382.65 L1002.72 381.35 L1003.47 380.06 L1004.21 378.78 L1004.96 377.50 L1005.71 376.23 L1006.45 374.96 L1007.20 373.70 L1007.94 372.44 L1008.69 371.20 L1009.44 369.95 L1010.18 368.72 L1010.93 367.49 L1011.68 366.27 L1012.42 365.05 L1013.17 363.84 L1013.91 362.63 L1014.66 361.44 L1015.41 360.25 L1016.15 359.06 L1016.90 357.88 L1017.65 356.71 L1018.39 355.55 L1019.14 354.39 L1019.88 353.24 L1020.63 352.09 L1021.38 350.95 L1022.12 349.82 L1022.87 348.70 L1023.62 347.58 L1024.36 346.47 L1025.11 345.37 L1025.86 344.27 L1026.60 343.18 L1027.35 342.10 L1028.09 341.02 L1028.84 339.95 L1029.59 338.89 L1030.33 337.84 L1031.08 336.79 L1031.83 335.75 L1032.57 334.72 L1033.32 333.69 L1034.06 332.67 L1034.81 331.66 L1035.56 330.66 L1036.30 329.66 L1037.05 328.68 L1037.80 327.69 L1038.54 326.72 L1039.29 325.75 L1040.03 324.80 L1040.78 323.85 L1041.53 322.90 L1042.27 321.97 L1043.02 321.04 L1043.76 320.12 L1044.51 319.21 L1045.26 318.30 L1046.00 317.41 L1046.75 316.52 L1047.50 315.64 L1048.24 314.76 L1048.99 313.90 L1049.74 313.04 L1050.48 312.19 L1051.23 311.35 L1051.97 310.52 L1052.72 309.69 L1053.47 308.87 L1054.21 308.07 L1054.96 307.26 L1055.70 306.47 L1056.45 305.69 L1057.20 304.91 L1057.94 304.14 L1058.69 303.38 L1059.44 302.63 L1060.18 301.89 L1060.93 301.15 L1061.67 300.43 L1062.42 299.71 L1063.17 299.00 L1063.91 298.30 L1064.66 297.60 L1065.41 296.92 L1066.15 296.24 L1066.90 295.58 L1067.64 294.92 L1068.39 294.27 L1069.14 293.62 L1069.88 292.99 L1070.63 292.37 L1071.38 291.75 L1072.12 291.14 L1072.87 290.54 L1073.62 289.95 L1074.36 289.37 L1075.11 288.80 L1075.85 288.23 L1076.60 287.68 L1077.35 287.13 L1078.09 286.59 L1078.84 286.06 L1079.59 285.54 L1080.33 285.03 L1081.08 284.53 L1081.82 284.03 L1082.57 283.55 L1083.32 283.07 L1084.06 282.60 L1084.81 282.14 L1085.56 281.69 L1086.30 281.25 L1087.05 280.82 L1087.79 280.39 L1088.54 279.98 L1089.29 279.57 L1090.03 279.18 L1090.78 278.79 L1091.53 278.41 L1092.27 278.04 L1093.02 277.68 L1093.76 277.32 L1094.51 276.98 L1095.26 276.64 L1096.00 276.32 L1096.75 276.00 L1097.49 275.69 L1098.24 275.39 L1098.99 275.10 L1099.73 274.82 L1100.48 274.55 L1101.23 274.28 L1101.97 274.03 L1102.72 273.78 L1103.46 273.54 L1104.21 273.31 L1104.96 273.09 L1105.70 272.88 L1106.45 272.67 L1107.20 272.48 L1107.94 272.29 L1108.69 272.12 L1109.43 271.95 L1110.18 271.79 L1110.93 271.64 L1111.67 271.50 L1112.42 271.36 L1113.17 271.24 L1113.91 271.12 L1114.66 271.01 L1115.40 270.91 L1116.15 270.82 L1116.90 270.73 L1117.64 270.66 L1118.39 270.59 L1119.14 270.53 L1119.88 270.48 L1120.63 270.44 L1121.38 270.41 L1122.12 270.38 L1122.87 270.36 L1123.61 270.35 L1124.36 270.35 L1125.11 270.36 L1125.85 270.37 L1126.60 270.39 L1127.35 270.42 L1128.09 270.46 L1128.84 270.51 L1129.58 270.56 L1130.33 270.62 L1131.08 270.68 L1131.82 270.76 L1132.57 270.84 L1133.32 270.93 L1134.06 271.03 L1134.81 271.13 L1135.55 271.24 L1136.30 271.36 L1137.05 271.48 L1137.79 271.61 L1138.54 271.75 L1139.29 271.90 L1140.03 272.05 L1140.78 272.21 L1141.52 272.37 L1142.27 272.54 L1143.02 272.71 L1143.76 272.90 L1144.51 273.08 L1145.26 273.28 L1146.00 273.48 L1146.75 273.68 L1147.49 273.89 L1148.24 274.11 L1148.99 274.33 L1149.73 274.56 L1150.48 274.79 L1151.22 275.02 L1151.97 275.26 L1152.72 275.51 L1153.46 275.76 L1154.21 276.01 L1154.96 276.27 L1155.70 276.53 L1156.45 276.79 L1157.19 277.06 L1157.94 277.33 L1158.69 277.61 L1159.43 277.89 L1160.18 278.17 L1160.93 278.45 L1161.67 278.74 L1162.42 279.03 L1163.16 279.32 L1163.91 279.62 L1164.66 279.91 L1165.40 280.21 L1166.15 280.51 L1166.90 280.80 L1167.64 281.10 L1168.39 281.41 L1169.13 281.71 L1169.88 282.01 L1170.63 282.31 L1171.37 282.61 L1172.12 282.91 L1172.87 283.21 L1173.61 283.51 L1174.36 283.81 L1175.11 284.10 L1175.85 284.40 L1176.60 284.69 L1177.34 284.98 L1178.09 285.27 L1178.84 285.55 L1179.58 285.83 L1180.33 286.11 L1181.08 286.38 L1181.82 286.65 L1182.57 286.92 L1183.31 287.18 L1184.06 287.43 L1184.81 287.68 L1185.55 287.93 L1186.30 288.16 L1187.05 288.39 L1187.79 288.62 L1188.54 288.83 L1189.28 289.04 L1190.03 289.24 L1190.78 289.44 L1191.52 289.62 L1192.27 289.80 L1193.01 289.96 L1193.76 290.12 L1194.51 290.26 L1195.25 290.40 L1196.00 290.52 L1196.75 290.63 L1197.49 290.73 L1198.24 290.82 L1198.99 290.90 L1199.73 290.96 L1200.48 291.01 L1201.22 291.04 L1201.97 291.06 L1202.72 291.07 L1203.46 291.06 L1204.21 291.03 L1204.95 290.99 L1205.70 290.93 L1206.45 290.85 L1207.19 290.76 L1207.94 290.64 L1208.69 290.51 L1209.43 290.36 L1210.18 290.19 L1210.92 290.00 L1211.67 289.79 L1212.42 289.56 L1213.16 289.31 L1213.91 289.04 L1214.66 288.74 L1215.40 288.42 L1216.15 288.08 L1216.89 287.71 L1217.64 287.32 L1218.39 286.91 L1219.13 286.47 L1219.88 286.00 L1220.63 285.51 L1221.37 284.99 L1222.12 284.45 L1222.87 283.87 L1223.61 283.27 L1224.36 282.65 L1225.10 281.99 L1225.85 281.30 L1226.60 280.59 L1227.34 279.84 L1228.09 279.07 L1228.84 278.26 L1229.58 277.43 L1230.33 276.56 L1231.07 275.66 L1231.82 274.73 L1232.57 273.76 L1233.31 272.76 L1234.06 271.73 L1234.81 270.67 L1235.55 269.57 L1236.30 268.44 L1237.04 267.27 L1237.79 266.07 L1238.54 264.83 L1239.28 263.56 L1240.03 262.25 L1240.78 260.91 L1241.52 259.53 L1242.27 258.11 L1243.01 256.66 L1243.76 255.17 L1244.51 253.64 L1245.25 252.08 L1246.00 250.47 L1246.74 248.83 L1247.49 247.15 L1248.24 245.44 L1248.98 243.68 L1249.73 241.89 L1250.48 240.06 L1251.22 238.19 L1251.97 236.28 L1252.71 234.33 L1253.46 232.34 L1254.21 230.32 L1254.95 228.25 L1255.70 226.15 L1256.45 224.00 L1257.19 221.82 L1257.94 219.59 L1258.68 217.33 L1259.43 215.03 L1260.18 212.68 L1260.92 210.30 L1261.67 207.88 L1262.42 205.42 L1263.16 202.91 L1263.91 200.37 L1264.65 197.79 L1265.40 195.17 L1266.15 192.51 L1266.89 189.81 L1267.64 187.06 L1268.39 184.28 L1269.13 181.46 L1269.88 178.60 L1270.62 175.70 L1271.37 172.76 L1272.12 169.78 L1272.86 166.76 L1273.61 163.71 L1274.36 160.61 L1275.10 157.47 L1275.85 154.29 L1276.60 151.08 L1277.34 147.82 L1278.09 144.53 L1278.83 141.20 L1279.58 137.82 L1280.33 134.41 L1281.07 130.96 L1281.82 127.47 L1282.57 123.95 L1283.31 120.38 L1284.06 116.78 L1284.80 113.13 L1285.55 109.45 L1286.30 105.73 L1287.04 101.97 L1287.79 98.18 L1288.54 94.35 L1289.28 90.47 L1290.03 86.56 L1290.77 82.62 L1291.52 78.63 L1292.27 74.61 L1293.01 70.55 L1293.76 66.45 L1294.51 62.32 L1295.25 58.15 L1296.00 53.94 L1296.74 49.69 L1297.49 45.41 L1298.24 41.09 L1298.98 36.73 L1299.73 32.34 L1300.47 27.91 L1301.22 23.44 L1301.97 18.94 L1302.71 14.40 L1303.46 9.82 L1304.21 5.21 L1304.95 0.56 L1305.70 -4.12 L1306.45 -8.84 L1307.19 -13.60 L1307.94 -18.39 L1308.68 -23.22 L1309.43 -28.08 L1310.18 -32.98 L1310.92 -37.91 L1311.67 -42.88 L1312.41 -47.89" stroke="#eda81c" stroke-width="3.00"/><path d="M897.50 603.30 L898.25 601.58 L898.99 599.87 L899.74 598.15 L900.49 596.44 L901.23 594.72 L901.98 593.00 L902.72 591.29 L903.47 589.58 L904.22 587.86 L904.96 586.15 L905.71 584.43 L906.46 582.72 L907.20 581.01 L907.95 579.30 L908.69 577.59 L909.44 575.88 L910.19 574.17 L910.93 572.46 L911.68 570.75 L912.42 569.04 L913.17 567.34 L913.92 565.63 L914.66 563.93 L915.41 562.23 L916.16 560.53 L916.90 558.83 L917.65 557.13 L918.39 555.43 L919.14 553.73 L919.89 552.04 L920.63 550.35 L921.38 548.66 L922.13 546.97 L922.87 545.28 L923.62 543.59 L924.37 541.91 L925.11 540.22 L925.86 538.54 L926.60 536.86 L927.35 535.18 L928.10 533.51 L928.84 531.84 L929.59 530.16 L930.34 528.50 L931.08 526.83 L931.83 525.16 L932.57 523.50 L933.32 521.84 L934.07 520.18 L934.81 518.53 L935.56 516.87 L936.30 515.22 L937.05 513.58 L937.80 511.93 L938.54 510.29 L939.29 508.65 L940.04 507.01 L940.78 505.38 L941.53 503.74 L942.27 502.11 L943.02 500.49 L943.77 498.87 L944.51 497.25 L945.26 495.63 L946.01 494.01 L946.75 492.40 L947.50 490.80 L948.25 489.19 L948.99 487.59 L949.74 485.99 L950.48 484.40 L951.23 482.81 L951.98 481.22 L952.72 479.64 L953.47 478.06 L954.22 476.48 L954.96 474.91 L955.71 473.34 L956.45 471.77 L957.20 470.21 L957.95 468.65 L958.69 467.10 L959.44 465.55 L960.18 464.00 L960.93 462.46 L961.68 460.92 L962.42 459.39 L963.17 457.86 L963.92 456.33 L964.66 454.81 L965.41 453.29 L966.15 451.78 L966.90 450.27 L967.65 448.76 L968.39 447.26 L969.14 445.77 L969.89 444.28 L970.63 442.79 L971.38 441.31 L972.12 439.83 L972.87 438.36 L973.62 436.89 L974.36 435.43 L975.11 433.97 L975.86 432.51 L976.60 431.06 L977.35 429.62 L978.10 428.18 L978.84 426.75 L979.59 425.32 L980.33 423.89 L981.08 422.47 L981.83 421.06 L982.57 419.65 L983.32 418.25 L984.07 416.85 L984.81 415.46 L985.56 414.07 L986.30 412.68 L987.05 411.31 L987.80 409.93 L988.54 408.57 L989.29 407.21 L990.03 405.85 L990.78 404.50 L991.53 403.16 L992.27 401.82 L993.02 400.49 L993.77 399.16 L994.51 397.84 L995.26 396.52 L996.00 395.21 L996.75 393.90 L997.50 392.61 L998.24 391.31 L998.99 390.03 L999.74 388.74 L1000.48 387.47 L1001.23 386.20 L1001.98 384.94 L1002.72 383.68 L1003.47 382.43 L1004.21 381.18 L1004.96 379.95 L1005.71 378.71 L1006.45 377.49 L1007.20 376.27 L1007.94 375.05 L1008.69 373.84 L1009.44 372.64 L1010.18 371.45 L1010.93 370.26 L1011.68 369.08 L1012.42 367.90 L1013.17 366.73 L1013.91 365.57 L1014.66 364.41 L1015.41 363.26 L1016.15 362.12 L1016.90 360.98 L1017.65 359.85 L1018.39 358.73 L1019.14 357.61 L1019.88 356.50 L1020.63 355.40 L1021.38 354.30 L1022.12 353.21 L1022.87 352.13 L1023.62 351.05 L1024.36 349.98 L1025.11 348.92 L1025.86 347.86 L1026.60 346.81 L1027.35 345.77 L1028.09 344.73 L1028.84 343.70 L1029.59 342.68 L1030.33 341.67 L1031.08 340.66 L1031.83 339.66 L1032.57 338.67 L1033.32 337.68 L1034.06 336.70 L1034.81 335.73 L1035.56 334.76 L1036.30 333.80 L1037.05 332.85 L1037.80 331.91 L1038.54 330.97 L1039.29 330.04 L1040.03 329.11 L1040.78 328.20 L1041.53 327.29 L1042.27 326.39 L1043.02 325.49 L1043.76 324.61 L1044.51 323.73 L1045.26 322.86 L1046.00 321.99 L1046.75 321.13 L1047.50 320.28 L1048.24 319.44 L1048.99 318.60 L1049.74 317.77 L1050.48 316.95 L1051.23 316.14 L1051.97 315.33 L1052.72 314.53 L1053.47 313.74 L1054.21 312.96 L1054.96 312.18 L1055.70 311.41 L1056.45 310.65 L1057.20 309.89 L1057.94 309.14 L1058.69 308.40 L1059.44 307.67 L1060.18 306.94 L1060.93 306.23 L1061.67 305.51 L1062.42 304.81 L1063.17 304.12 L1063.91 303.43 L1064.66 302.75 L1065.41 302.07 L1066.15 301.41 L1066.90 300.75 L1067.64 300.10 L1068.39 299.45 L1069.14 298.81 L1069.88 298.19 L1070.63 297.56 L1071.38 296.95 L1072.12 296.34 L1072.87 295.74 L1073.62 295.15 L1074.36 294.57 L1075.11 293.99 L1075.85 293.42 L1076.60 292.86 L1077.35 292.30 L1078.09 291.75 L1078.84 291.21 L1079.59 290.68 L1080.33 290.15 L1081.08 289.63 L1081.82 289.12 L1082.57 288.62 L1083.32 288.12 L1084.06 287.63 L1084.81 287.15 L1085.56 286.68 L1086.30 286.21 L1087.05 285.75 L1087.79 285.30 L1088.54 284.85 L1089.29 284.41 L1090.03 283.98 L1090.78 283.56 L1091.53 283.14 L1092.27 282.73 L1093.02 282.33 L1093.76 281.93 L1094.51 281.54 L1095.26 281.16 L1096.00 280.79 L1096.75 280.42 L1097.49 280.06 L1098.24 279.71 L1098.99 279.36 L1099.73 279.02 L1100.48 278.69 L1101.23 278.37 L1101.97 278.05 L1102.72 277.74 L1103.46 277.43 L1104.21 277.14 L1104.96 276.84 L1105.70 276.56 L1106.45 276.28 L1107.20 276.01 L1107.94 275.75 L1108.69 275.49 L1109.43 275.24 L1110.18 275.00 L1110.93 274.76 L1111.67 274.53 L1112.42 274.31 L1113.17 274.09 L1113.91 273.88 L1114.66 273.68 L1115.40 273.48 L1116.15 273.29 L1116.90 273.10 L1117.64 272.92 L1118.39 272.75 L1119.14 272.59 L1119.88 272.43 L1120.63 272.27 L1121.38 272.13 L1122.12 271.99 L1122.87 271.85 L1123.61 271.72 L1124.36 271.60 L1125.11 271.48 L1125.85 271.37 L1126.60 271.27 L1127.35 271.17 L1128.09 271.07 L1128.84 270.99 L1129.58 270.91 L1130.33 270.83 L1131.08 270.76 L1131.82 270.70 L1132.57 270.64 L1133.32 270.59 L1134.06 270.54 L1134.81 270.50 L1135.55 270.46 L1136.30 270.43 L1137.05 270.40 L1137.79 270.38 L1138.54 270.37 L1139.29 270.36 L1140.03 270.35 L1140.78 270.35 L1141.52 270.36 L1142.27 270.37 L1143.02 270.38 L1143.76 270.40 L1144.51 270.43 L1145.26 270.46 L1146.00 270.49 L1146.75 270.53 L1147.49 270.58 L1148.24 270.63 L1148.99 270.68 L1149.73 270.74 L1150.48 270.80 L1151.22 270.87 L1151.97 270.94 L1152.72 271.01 L1153.46 271.09 L1154.21 271.18 L1154.96 271.27 L1155.70 271.36 L1156.45 271.45 L1157.19 271.55 L1157.94 271.66 L1158.69 271.77 L1159.43 271.88 L1160.18 271.99 L1160.93 272.11 L1161.67 272.23 L1162.42 272.36 L1163.16 272.49 L1163.91 272.62 L1164.66 272.76 L1165.40 272.90 L1166.15 273.04 L1166.90 273.18 L1167.64 273.33 L1168.39 273.48 L1169.13 273.64 L1169.88 273.80 L1170.63 273.96 L1171.37 274.12 L1172.12 274.29 L1172.87 274.45 L1173.61 274.62 L1174.36 274.80 L1175.11 274.97 L1175.85 275.15 L1176.60 275.33 L1177.34 275.51 L1178.09 275.70 L1178.84 275.88 L1179.58 276.07 L1180.33 276.26 L1181.08 276.45 L1181.82 276.65 L1182.57 276.84 L1183.31 277.04 L1184.06 277.24 L1184.81 277.44 L1185.55 277.64 L1186.30 277.84 L1187.05 278.04 L1187.79 278.25 L1188.54 278.45 L1189.28 278.66 L1190.03 278.86 L1190.78 279.07 L1191.52 279.28 L1192.27 279.49 L1193.01 279.70 L1193.76 279.91 L1194.51 280.12 L1195.25 280.33 L1196.00 280.54 L1196.75 280.75 L1197.49 280.97 L1198.24 281.18 L1198.99 281.39 L1199.73 281.60 L1200.48 281.81 L1201.22 282.02 L1201.97 282.23 L1202.72 282.44 L1203.46 282.65 L1204.21 282.86 L1204.95 283.06 L1205.70 283.27 L1206.45 283.48 L1207.19 283.68 L1207.94 283.88 L1208.69 284.09 L1209.43 284.29 L1210.18 284.49 L1210.92 284.69 L1211.67 284.88 L1212.42 285.08 L1213.16 285.27 L1213.91 285.46 L1214.66 285.65 L1215.40 285.84 L1216.15 286.03 L1216.89 286.21 L1217.64 286.39 L1218.39 286.57 L1219.13 286.75 L1219.88 286.92 L1220.63 287.10 L1221.37 287.27 L1222.12 287.43 L1222.87 287.60 L1223.61 287.76 L1224.36 287.92 L1225.10 288.07 L1225.85 288.23 L1226.60 288.38 L1227.34 288.52 L1228.09 288.66 L1228.84 288.80 L1229.58 288.94 L1230.33 289.07 L1231.07 289.20 L1231.82 289.33 L1232.57 289.45 L1233.31 289.57 L1234.06 289.68 L1234.81 289.79 L1235.55 289.90 L1236.30 290.00 L1237.04 290.09 L1237.79 290.19 L1238.54 290.28 L1239.28 290.36 L1240.03 290.44 L1240.78 290.52 L1241.52 290.59 L1242.27 290.65 L1243.01 290.72 L1243.76 290.77 L1244.51 290.83 L1245.25 290.87 L1246.00 290.91 L1246.74 290.95 L1247.49 290.98 L1248.24 291.01 L1248.98 291.03 L1249.73 291.05 L1250.48 291.06 L1251.22 291.07 L1251.97 291.07 L1252.71 291.06 L1253.46 291.05 L1254.21 291.03 L1254.95 291.01 L1255.70 290.99 L1256.45 290.95 L1257.19 290.91 L1257.94 290.87 L1258.68 290.82 L1259.43 290.76 L1260.18 290.70 L1260.92 290.63 L1261.67 290.56 L1262.42 290.48 L1263.16 290.39 L1263.91 290.30 L1264.65 290.20 L1265.40 290.09 L1266.15 289.98 L1266.89 289.87 L1267.64 289.74 L1268.39 289.61 L1269.13 289.48 L1269.88 289.33 L1270.62 289.19 L1271.37 289.03 L1272.12 288.87 L1272.86 288.70 L1273.61 288.53 L1274.36 288.35 L1275.10 288.16 L1275.85 287.97 L1276.60 287.77 L1277.34 287.56 L1278.09 287.35 L1278.83 287.13 L1279.58 286.90 L1280.33 286.67 L1281.07 286.43 L1281.82 286.18 L1282.57 285.93 L1283.31 285.67 L1284.06 285.41 L1284.80 285.14 L1285.55 284.86 L1286.30 284.58 L1287.04 284.28 L1287.79 283.99 L1288.54 283.68 L1289.28 283.37 L1290.03 283.06 L1290.77 282.73 L1291.52 282.41 L1292.27 282.07 L1293.01 281.73 L1293.76 281.38 L1294.51 281.03 L1295.25 280.66 L1296.00 280.30 L1296.74 279.92 L1297.49 279.55 L1298.24 279.16 L1298.98 278.77 L1299.73 278.37 L1300.47 277.97 L1301.22 277.56 L1301.97 277.14 L1302.71 276.72 L1303.46 276.29 L1304.21 275.86 L1304.95 275.42 L1305.70 274.97 L1306.45 274.52 L1307.19 274.07 L1307.94 273.61 L1308.68 273.14 L1309.43 272.66 L1310.18 272.19 L1310.92 271.70 L1311.67 271.21 L1312.41 270.72 L1313.16 270.22 L1313.91 269.71 L1314.65 269.20 L1315.40 268.68 L1316.15 268.16 L1316.89 267.64 L1317.64 267.11 L1318.38 266.57 L1319.13 266.03 L1319.88 265.48 L1320.62 264.93 L1321.37 264.38 L1322.12 263.82 L1322.86 263.25 L1323.61 262.68 L1324.36 262.11 L1325.10 261.53 L1325.85 260.95 L1326.59 260.36 L1327.34 259.77 L1328.09 259.18 L1328.83 258.58 L1329.58 257.98 L1330.33 257.37 L1331.07 256.76 L1331.82 256.14 L1332.56 255.53 L1333.31 254.90 L1334.06 254.28 L1334.80 253.65 L1335.55 253.02 L1336.30 252.38 L1337.04 251.74 L1337.79 251.10 L1338.53 250.46 L1339.28 249.81 L1340.03 249.16 L1340.77 248.50 L1341.52 247.84 L1342.26 247.18 L1343.01 246.52 L1343.76 245.86 L1344.50 245.19 L1345.25 244.52 L1346.00 243.84 L1346.74 243.17 L1347.49 242.49 L1348.24 241.81 L1348.98 241.13 L1349.73 240.44 L1350.47 239.76 L1351.22 239.07 L1351.97 238.38 L1352.71 237.69 L1353.46 237.00 L1354.20 236.30 L1354.95 235.60 L1355.70 234.91 L1356.44 234.21 L1357.19 233.51 L1357.94 232.80 L1358.68 232.10 L1359.43 231.40 L1360.17 230.69 L1360.92 229.98 L1361.67 229.28 L1362.41 228.57 L1363.16 227.86 L1363.91 227.15 L1364.65 226.44 L1365.40 225.73 L1366.14 225.02 L1366.89 224.31 L1367.64 223.60 L1368.38 222.89 L1369.13 222.18 L1369.88 221.46 L1370.62 220.75 L1371.37 220.04 L1372.12 219.33 L1372.86 218.62 L1373.61 217.91 L1374.35 217.19 L1375.10 216.48 L1375.85 215.77 L1376.59 215.07 L1377.34 214.36 L1378.09 213.65 L1378.83 212.94 L1379.58 212.24 L1380.32 211.53 L1381.07 210.83 L1381.82 210.12 L1382.56 209.42 L1383.31 208.72 L1384.06 208.02 L1384.80 207.32 L1385.55 206.62 L1386.29 205.93 L1387.04 205.23 L1387.79 204.54 L1388.53 203.85 L1389.28 203.16 L1390.03 202.47 L1390.77 201.79 L1391.52 201.10 L1392.26 200.42 L1393.01 199.74 L1393.76 199.07 L1394.50 198.39 L1395.25 197.72 L1395.99 197.05 L1396.74 196.38 L1397.49 195.71 L1398.23 195.05 L1398.98 194.39 L1399.73 193.73 L1400.47 193.07 L1401.22 192.42 L1401.96 191.77 L1402.71 191.12 L1403.46 190.48 L1404.20 189.83 L1404.95 189.20 L1405.70 188.56 L1406.44 187.93 L1407.19 187.30 L1407.93 186.67 L1408.68 186.05 L1409.43 185.43 L1410.17 184.81 L1410.92 184.20 L1411.67 183.59 L1412.41 182.98 L1413.16 182.38 L1413.90 181.78 L1414.65 181.19 L1415.40 180.60 L1416.14 180.01 L1416.89 179.42 L1417.64 178.84 L1418.38 178.27 L1419.13 177.70 L1419.88 177.13 L1420.62 176.57 L1421.37 176.01 L1422.11 175.45 L1422.86 174.90 L1423.61 174.35 L1424.35 173.81 L1425.10 173.27 L1425.85 172.74 L1426.59 172.21 L1427.34 171.68 L1428.08 171.16 L1428.83 170.65 L1429.58 170.13 L1430.32 169.63 L1431.07 169.13 L1431.82 168.63 L1432.56 168.14 L1433.31 167.65 L1434.05 167.16 L1434.80 166.69 L1435.55 166.21 L1436.29 165.75 L1437.04 165.28 L1437.78 164.82 L1438.53 164.37 L1439.28 163.92 L1440.02 163.48 L1440.77 163.04 L1441.52 162.61 L1442.26 162.18 L1443.01 161.76 L1443.76 161.35 L1444.50 160.93 L1445.25 160.53 L1445.99 160.13 L1446.74 159.73 L1447.49 159.34 L1448.23 158.96 L1448.98 158.58 L1449.72 158.21 L1450.47 157.84 L1451.22 157.48 L1451.96 157.13 L1452.71 156.77 L1453.46 156.43 L1454.20 156.09 L1454.95 155.76 L1455.70 155.43 L1456.44 155.11 L1457.19 154.79 L1457.93 154.48 L1458.68 154.18 L1459.43 153.88 L1460.17 153.59 L1460.92 153.30 L1461.66 153.02 L1462.41 152.75 L1463.16 152.48 L1463.90 152.22 L1464.65 151.96 L1465.40 151.71 L1466.14 151.47 L1466.89 151.23 L1467.63 151.00 L1468.38 150.78 L1469.13 150.56 L1469.87 150.34 L1470.62 150.14 L1471.37 149.93 L1472.11 149.74 L1472.86 149.55 L1473.61 149.37 L1474.35 149.19 L1475.10 149.02 L1475.84 148.86 L1476.59 148.70 L1477.34 148.55 L1478.08 148.41 L1478.83 148.27 L1479.57 148.14 L1480.32 148.01 L1481.07 147.90 L1481.81 147.78 L1482.56 147.68 L1483.31 147.58 L1484.05 147.48 L1484.80 147.40 L1485.55 147.32 L1486.29 147.24 L1487.04 147.18 L1487.78 147.11 L1488.53 147.06 L1489.28 147.01 L1490.02 146.97 L1490.77 146.93 L1491.51 146.90 L1492.26 146.88 L1493.01 146.87 L1493.75 146.86 L1494.50 146.85" stroke="#eda81c" stroke-width="3.00" stroke-dasharray="2.7 3.1"/><path d="M897.50 603.30 L898.25 600.99 L898.99 598.67 L899.74 596.36 L900.49 594.04 L901.23 591.73 L901.98 589.42 L902.72 587.11 L903.47 584.79 L904.22 582.48 L904.96 580.17 L905.71 577.86 L906.46 575.55 L907.20 573.24 L907.95 570.93 L908.69 568.63 L909.44 566.32 L910.19 564.01 L910.93 561.71 L911.68 559.41 L912.42 557.10 L913.17 554.80 L913.92 552.50 L914.66 550.21 L915.41 547.91 L916.16 545.62 L916.90 543.32 L917.65 541.03 L918.39 538.74 L919.14 536.45 L919.89 534.17 L920.63 531.88 L921.38 529.60 L922.13 527.32 L922.87 525.04 L923.62 522.77 L924.37 520.49 L925.11 518.22 L925.86 515.95 L926.60 513.69 L927.35 511.42 L928.10 509.16 L928.84 506.90 L929.59 504.65 L930.34 502.39 L931.08 500.14 L931.83 497.89 L932.57 495.65 L933.32 493.41 L934.07 491.17 L934.81 488.93 L935.56 486.70 L936.30 484.47 L937.05 482.25 L937.80 480.03 L938.54 477.81 L939.29 475.59 L940.04 473.38 L940.78 471.17 L941.53 468.97 L942.27 466.77 L943.02 464.57 L943.77 462.38 L944.51 460.19 L945.26 458.00 L946.01 455.82 L946.75 453.65 L947.50 451.47 L948.25 449.31 L948.99 447.14 L949.74 444.98 L950.48 442.83 L951.23 440.68 L951.98 438.53 L952.72 436.39 L953.47 434.26 L954.22 432.12 L954.96 430.00 L955.71 427.88 L956.45 425.76 L957.20 423.65 L957.95 421.54 L958.69 419.44 L959.44 417.34 L960.18 415.25 L960.93 413.17 L961.68 411.09 L962.42 409.01 L963.17 406.94 L963.92 404.88 L964.66 402.82 L965.41 400.77 L966.15 398.72 L966.90 396.68 L967.65 394.65 L968.39 392.62 L969.14 390.60 L969.89 388.58 L970.63 386.57 L971.38 384.57 L972.12 382.57 L972.87 380.58 L973.62 378.59 L974.36 376.62 L975.11 374.64 L975.86 372.68 L976.60 370.72 L977.35 368.77 L978.10 366.82 L978.84 364.89 L979.59 362.96 L980.33 361.03 L981.08 359.11 L981.83 357.20 L982.57 355.30 L983.32 353.41 L984.07 351.52 L984.81 349.64 L985.56 347.76 L986.30 345.90 L987.05 344.04 L987.80 342.19 L988.54 340.34 L989.29 338.51 L990.03 336.68 L990.78 334.86 L991.53 333.05 L992.27 331.25 L993.02 329.45 L993.77 327.66 L994.51 325.88 L995.26 324.11 L996.00 322.35 L996.75 320.59 L997.50 318.85 L998.24 317.11 L998.99 315.38 L999.74 313.66 L1000.48 311.94 L1001.23 310.24 L1001.98 308.55 L1002.72 306.86 L1003.47 305.18 L1004.21 303.51 L1004.96 301.85 L1005.71 300.20 L1006.45 298.56 L1007.20 296.93 L1007.94 295.31 L1008.69 293.69 L1009.44 292.09 L1010.18 290.49 L1010.93 288.91 L1011.68 287.33 L1012.42 285.77 L1013.17 284.21 L1013.91 282.66 L1014.66 281.13 L1015.41 279.60 L1016.15 278.08 L1016.90 276.57 L1017.65 275.08 L1018.39 273.59 L1019.14 272.11 L1019.88 270.64 L1020.63 269.19 L1021.38 267.74 L1022.12 266.30 L1022.87 264.88 L1023.62 263.46 L1024.36 262.06 L1025.11 260.66 L1025.86 259.28 L1026.60 257.90 L1027.35 256.54 L1028.09 255.19 L1028.84 253.85 L1029.59 252.52 L1030.33 251.20 L1031.08 249.89 L1031.83 248.59 L1032.57 247.31 L1033.32 246.03 L1034.06 244.77 L1034.81 243.52 L1035.56 242.28 L1036.30 241.05 L1037.05 239.83 L1037.80 238.62 L1038.54 237.43 L1039.29 236.24 L1040.03 235.07 L1040.78 233.91 L1041.53 232.76 L1042.27 231.62 L1043.02 230.50 L1043.76 229.39 L1044.51 228.29 L1045.26 227.20 L1046.00 226.12 L1046.75 225.05 L1047.50 224.00 L1048.24 222.96 L1048.99 221.93 L1049.74 220.92 L1050.48 219.91 L1051.23 218.92 L1051.97 217.94 L1052.72 216.98 L1053.47 216.02 L1054.21 215.08 L1054.96 214.16 L1055.70 213.24 L1056.45 212.34 L1057.20 211.45 L1057.94 210.57 L1058.69 209.71 L1059.44 208.85 L1060.18 208.02 L1060.93 207.19 L1061.67 206.38 L1062.42 205.58 L1063.17 204.79 L1063.91 204.02 L1064.66 203.26 L1065.41 202.51 L1066.15 201.78 L1066.90 201.06 L1067.64 200.36 L1068.39 199.66 L1069.14 198.98 L1069.88 198.32 L1070.63 197.67 L1071.38 197.03 L1072.12 196.40 L1072.87 195.79 L1073.62 195.20 L1074.36 194.61 L1075.11 194.04 L1075.85 193.49 L1076.60 192.95 L1077.35 192.42 L1078.09 191.90 L1078.84 191.40 L1079.59 190.92 L1080.33 190.45 L1081.08 189.99 L1081.82 189.54 L1082.57 189.11 L1083.32 188.70 L1084.06 188.30 L1084.81 187.91 L1085.56 187.54 L1086.30 187.18 L1087.05 186.84 L1087.79 186.51 L1088.54 186.19 L1089.29 185.89 L1090.03 185.61 L1090.78 185.34 L1091.53 185.08 L1092.27 184.84 L1093.02 184.61 L1093.76 184.39 L1094.51 184.19 L1095.26 184.01 L1096.00 183.84 L1096.75 183.69 L1097.49 183.55 L1098.24 183.42 L1098.99 183.31 L1099.73 183.21 L1100.48 183.13 L1101.23 183.06 L1101.97 183.01 L1102.72 182.97 L1103.46 182.95 L1104.21 182.94 L1104.96 182.95 L1105.70 182.97 L1106.45 183.01 L1107.20 183.06 L1107.94 183.13 L1108.69 183.21 L1109.43 183.30 L1110.18 183.41 L1110.93 183.54 L1111.67 183.68 L1112.42 183.83 L1113.17 184.00 L1113.91 184.19 L1114.66 184.39 L1115.40 184.60 L1116.15 184.83 L1116.90 185.07 L1117.64 185.33 L1118.39 185.60 L1119.14 185.89 L1119.88 186.19 L1120.63 186.51 L1121.38 186.84 L1122.12 187.18 L1122.87 187.54 L1123.61 187.92 L1124.36 188.30 L1125.11 188.71 L1125.85 189.12 L1126.60 189.56 L1127.35 190.00 L1128.09 190.46 L1128.84 190.94 L1129.58 191.42 L1130.33 191.93 L1131.08 192.44 L1131.82 192.97 L1132.57 193.52 L1133.32 194.07 L1134.06 194.64 L1134.81 195.23 L1135.55 195.83 L1136.30 196.44 L1137.05 197.06 L1137.79 197.70 L1138.54 198.35 L1139.29 199.02 L1140.03 199.70 L1140.78 200.39 L1141.52 201.09 L1142.27 201.81 L1143.02 202.54 L1143.76 203.28 L1144.51 204.03 L1145.26 204.80 L1146.00 205.57 L1146.75 206.36 L1147.49 207.16 L1148.24 207.98 L1148.99 208.80 L1149.73 209.64 L1150.48 210.48 L1151.22 211.34 L1151.97 212.21 L1152.72 213.09 L1153.46 213.98 L1154.21 214.88 L1154.96 215.79 L1155.70 216.71 L1156.45 217.64 L1157.19 218.58 L1157.94 219.52 L1158.69 220.48 L1159.43 221.45 L1160.18 222.42 L1160.93 223.40 L1161.67 224.39 L1162.42 225.39 L1163.16 226.39 L1163.91 227.41 L1164.66 228.43 L1165.40 229.45 L1166.15 230.48 L1166.90 231.52 L1167.64 232.56 L1168.39 233.61 L1169.13 234.66 L1169.88 235.72 L1170.63 236.78 L1171.37 237.84 L1172.12 238.91 L1172.87 239.98 L1173.61 241.05 L1174.36 242.13 L1175.11 243.20 L1175.85 244.28 L1176.60 245.36 L1177.34 246.44 L1178.09 247.51 L1178.84 248.59 L1179.58 249.66 L1180.33 250.74 L1181.08 251.81 L1181.82 252.87 L1182.57 253.94 L1183.31 254.99 L1184.06 256.05 L1184.81 257.10 L1185.55 258.14 L1186.30 259.17 L1187.05 260.20 L1187.79 261.22 L1188.54 262.23 L1189.28 263.23 L1190.03 264.22 L1190.78 265.20 L1191.52 266.16 L1192.27 267.12 L1193.01 268.06 L1193.76 268.98 L1194.51 269.89 L1195.25 270.79 L1196.00 271.67 L1196.75 272.52 L1197.49 273.37 L1198.24 274.19 L1198.99 274.99 L1199.73 275.76 L1200.48 276.52 L1201.22 277.25 L1201.97 277.96 L1202.72 278.64 L1203.46 279.30 L1204.21 279.93 L1204.95 280.53 L1205.70 281.10 L1206.45 281.63 L1207.19 282.14 L1207.94 282.62 L1208.69 283.06 L1209.43 283.46 L1210.18 283.83 L1210.92 284.16 L1211.67 284.45 L1212.42 284.71 L1213.16 284.92 L1213.91 285.09 L1214.66 285.22 L1215.40 285.31 L1216.15 285.35 L1216.89 285.34 L1217.64 285.29 L1218.39 285.18 L1219.13 285.03 L1219.88 284.83 L1220.63 284.58 L1221.37 284.27 L1222.12 283.91 L1222.87 283.50 L1223.61 283.03 L1224.36 282.51 L1225.10 281.93 L1225.85 281.29 L1226.60 280.59 L1227.34 279.83 L1228.09 279.01 L1228.84 278.13 L1229.58 277.19 L1230.33 276.19 L1231.07 275.12 L1231.82 273.99 L1232.57 272.79 L1233.31 271.53 L1234.06 270.20 L1234.81 268.81 L1235.55 267.35 L1236.30 265.82 L1237.04 264.23 L1237.79 262.56 L1238.54 260.83 L1239.28 259.03 L1240.03 257.16 L1240.78 255.23 L1241.52 253.22 L1242.27 251.14 L1243.01 249.00 L1243.76 246.78 L1244.51 244.50 L1245.25 242.14 L1246.00 239.72 L1246.74 237.23 L1247.49 234.66 L1248.24 232.03 L1248.98 229.33 L1249.73 226.56 L1250.48 223.72 L1251.22 220.81 L1251.97 217.83 L1252.71 214.78 L1253.46 211.66 L1254.21 208.48 L1254.95 205.23 L1255.70 201.91 L1256.45 198.52 L1257.19 195.07 L1257.94 191.55 L1258.68 187.96 L1259.43 184.31 L1260.18 180.59 L1260.92 176.81 L1261.67 172.96 L1262.42 169.05 L1263.16 165.07 L1263.91 161.03 L1264.65 156.92 L1265.40 152.75 L1266.15 148.52 L1266.89 144.23 L1267.64 139.87 L1268.39 135.45 L1269.13 130.98 L1269.88 126.44 L1270.62 121.84 L1271.37 117.18 L1272.12 112.46 L1272.86 107.68 L1273.61 102.84 L1274.36 97.94 L1275.10 92.98 L1275.85 87.97 L1276.60 82.90 L1277.34 77.77 L1278.09 72.58 L1278.83 67.34 L1279.58 62.04 L1280.33 56.69 L1281.07 51.28 L1281.82 45.81 L1282.57 40.29 L1283.31 34.71 L1284.06 29.08 L1284.80 23.40 L1285.55 17.66 L1286.30 11.87 L1287.04 6.02 L1287.79 0.12 L1288.54 -5.83 L1289.28 -11.83 L1290.03 -17.89 L1290.77 -24.00 L1291.52 -30.16 L1292.27 -36.37 L1293.01 -42.63" stroke="#dc1510" stroke-width="3.00"/><path d="M897.50 603.30 L898.25 600.99 L898.99 598.67 L899.74 596.36 L900.49 594.04 L901.23 591.73 L901.98 589.42 L902.72 587.11 L903.47 584.79 L904.22 582.48 L904.96 580.17 L905.71 577.86 L906.46 575.55 L907.20 573.24 L907.95 570.94 L908.69 568.63 L909.44 566.32 L910.19 564.02 L910.93 561.72 L911.68 559.42 L912.42 557.12 L913.17 554.82 L913.92 552.52 L914.66 550.22 L915.41 547.93 L916.16 545.64 L916.90 543.35 L917.65 541.06 L918.39 538.77 L919.14 536.49 L919.89 534.21 L920.63 531.93 L921.38 529.65 L922.13 527.37 L922.87 525.10 L923.62 522.83 L924.37 520.56 L925.11 518.30 L925.86 516.03 L926.60 513.77 L927.35 511.52 L928.10 509.26 L928.84 507.01 L929.59 504.76 L930.34 502.52 L931.08 500.27 L931.83 498.04 L932.57 495.80 L933.32 493.57 L934.07 491.34 L934.81 489.11 L935.56 486.89 L936.30 484.67 L937.05 482.46 L937.80 480.25 L938.54 478.04 L939.29 475.84 L940.04 473.64 L940.78 471.45 L941.53 469.26 L942.27 467.07 L943.02 464.89 L943.77 462.71 L944.51 460.54 L945.26 458.37 L946.01 456.21 L946.75 454.05 L947.50 451.89 L948.25 449.74 L948.99 447.60 L949.74 445.46 L950.48 443.32 L951.23 441.19 L951.98 439.07 L952.72 436.95 L953.47 434.83 L954.22 432.72 L954.96 430.62 L955.71 428.52 L956.45 426.43 L957.20 424.34 L957.95 422.26 L958.69 420.18 L959.44 418.11 L960.18 416.05 L960.93 413.99 L961.68 411.94 L962.42 409.89 L963.17 407.85 L963.92 405.81 L964.66 403.78 L965.41 401.76 L966.15 399.75 L966.90 397.74 L967.65 395.73 L968.39 393.74 L969.14 391.75 L969.89 389.76 L970.63 387.78 L971.38 385.81 L972.12 383.85 L972.87 381.89 L973.62 379.94 L974.36 378.00 L975.11 376.07 L975.86 374.14 L976.60 372.22 L977.35 370.30 L978.10 368.40 L978.84 366.50 L979.59 364.60 L980.33 362.72 L981.08 360.84 L981.83 358.97 L982.57 357.11 L983.32 355.25 L984.07 353.41 L984.81 351.57 L985.56 349.74 L986.30 347.91 L987.05 346.10 L987.80 344.29 L988.54 342.49 L989.29 340.70 L990.03 338.92 L990.78 337.14 L991.53 335.37 L992.27 333.61 L993.02 331.86 L993.77 330.12 L994.51 328.39 L995.26 326.66 L996.00 324.95 L996.75 323.24 L997.50 321.54 L998.24 319.85 L998.99 318.17 L999.74 316.49 L1000.48 314.83 L1001.23 313.17 L1001.98 311.53 L1002.72 309.89 L1003.47 308.26 L1004.21 306.64 L1004.96 305.03 L1005.71 303.43 L1006.45 301.84 L1007.20 300.26 L1007.94 298.68 L1008.69 297.12 L1009.44 295.57 L1010.18 294.02 L1010.93 292.48 L1011.68 290.96 L1012.42 289.44 L1013.17 287.93 L1013.91 286.44 L1014.66 284.95 L1015.41 283.47 L1016.15 282.00 L1016.90 280.54 L1017.65 279.09 L1018.39 277.66 L1019.14 276.23 L1019.88 274.81 L1020.63 273.40 L1021.38 272.00 L1022.12 270.61 L1022.87 269.23 L1023.62 267.86 L1024.36 266.50 L1025.11 265.15 L1025.86 263.82 L1026.60 262.49 L1027.35 261.17 L1028.09 259.86 L1028.84 258.57 L1029.59 257.28 L1030.33 256.00 L1031.08 254.74 L1031.83 253.48 L1032.57 252.24 L1033.32 251.00 L1034.06 249.78 L1034.81 248.56 L1035.56 247.36 L1036.30 246.17 L1037.05 244.99 L1037.80 243.82 L1038.54 242.66 L1039.29 241.51 L1040.03 240.37 L1040.78 239.24 L1041.53 238.12 L1042.27 237.02 L1043.02 235.92 L1043.76 234.84 L1044.51 233.77 L1045.26 232.70 L1046.00 231.65 L1046.75 230.61 L1047.50 229.58 L1048.24 228.56 L1048.99 227.56 L1049.74 226.56 L1050.48 225.58 L1051.23 224.60 L1051.97 223.64 L1052.72 222.69 L1053.47 221.75 L1054.21 220.82 L1054.96 219.90 L1055.70 218.99 L1056.45 218.10 L1057.20 217.21 L1057.94 216.34 L1058.69 215.47 L1059.44 214.62 L1060.18 213.78 L1060.93 212.96 L1061.67 212.14 L1062.42 211.33 L1063.17 210.54 L1063.91 209.75 L1064.66 208.98 L1065.41 208.22 L1066.15 207.47 L1066.90 206.74 L1067.64 206.01 L1068.39 205.29 L1069.14 204.59 L1069.88 203.90 L1070.63 203.22 L1071.38 202.55 L1072.12 201.89 L1072.87 201.24 L1073.62 200.61 L1074.36 199.98 L1075.11 199.37 L1075.85 198.77 L1076.60 198.18 L1077.35 197.60 L1078.09 197.03 L1078.84 196.48 L1079.59 195.93 L1080.33 195.40 L1081.08 194.88 L1081.82 194.37 L1082.57 193.87 L1083.32 193.38 L1084.06 192.90 L1084.81 192.44 L1085.56 191.98 L1086.30 191.54 L1087.05 191.11 L1087.79 190.69 L1088.54 190.28 L1089.29 189.88 L1090.03 189.50 L1090.78 189.12 L1091.53 188.76 L1092.27 188.41 L1093.02 188.07 L1093.76 187.74 L1094.51 187.42 L1095.26 187.11 L1096.00 186.81 L1096.75 186.53 L1097.49 186.25 L1098.24 185.99 L1098.99 185.74 L1099.73 185.50 L1100.48 185.27 L1101.23 185.05 L1101.97 184.84 L1102.72 184.65 L1103.46 184.46 L1104.21 184.28 L1104.96 184.12 L1105.70 183.97 L1106.45 183.82 L1107.20 183.69 L1107.94 183.57 L1108.69 183.46 L1109.43 183.36 L1110.18 183.27 L1110.93 183.19 L1111.67 183.13 L1112.42 183.07 L1113.17 183.02 L1113.91 182.99 L1114.66 182.96 L1115.40 182.95 L1116.15 182.94 L1116.90 182.95 L1117.64 182.97 L1118.39 182.99 L1119.14 183.03 L1119.88 183.08 L1120.63 183.14 L1121.38 183.20 L1122.12 183.28 L1122.87 183.37 L1123.61 183.47 L1124.36 183.58 L1125.11 183.69 L1125.85 183.82 L1126.60 183.96 L1127.35 184.11 L1128.09 184.26 L1128.84 184.43 L1129.58 184.61 L1130.33 184.79 L1131.08 184.99 L1131.82 185.19 L1132.57 185.41 L1133.32 185.63 L1134.06 185.87 L1134.81 186.11 L1135.55 186.36 L1136.30 186.62 L1137.05 186.89 L1137.79 187.17 L1138.54 187.46 L1139.29 187.76 L1140.03 188.06 L1140.78 188.38 L1141.52 188.70 L1142.27 189.04 L1143.02 189.38 L1143.76 189.73 L1144.51 190.09 L1145.26 190.45 L1146.00 190.83 L1146.75 191.21 L1147.49 191.60 L1148.24 192.00 L1148.99 192.41 L1149.73 192.83 L1150.48 193.25 L1151.22 193.68 L1151.97 194.12 L1152.72 194.57 L1153.46 195.02 L1154.21 195.49 L1154.96 195.96 L1155.70 196.43 L1156.45 196.92 L1157.19 197.41 L1157.94 197.91 L1158.69 198.42 L1159.43 198.93 L1160.18 199.45 L1160.93 199.98 L1161.67 200.51 L1162.42 201.05 L1163.16 201.60 L1163.91 202.15 L1164.66 202.71 L1165.40 203.28 L1166.15 203.85 L1166.90 204.43 L1167.64 205.01 L1168.39 205.60 L1169.13 206.20 L1169.88 206.80 L1170.63 207.41 L1171.37 208.02 L1172.12 208.64 L1172.87 209.26 L1173.61 209.89 L1174.36 210.53 L1175.11 211.16 L1175.85 211.81 L1176.60 212.46 L1177.34 213.11 L1178.09 213.77 L1178.84 214.43 L1179.58 215.10 L1180.33 215.77 L1181.08 216.44 L1181.82 217.12 L1182.57 217.80 L1183.31 218.49 L1184.06 219.18 L1184.81 219.87 L1185.55 220.57 L1186.30 221.27 L1187.05 221.97 L1187.79 222.68 L1188.54 223.39 L1189.28 224.10 L1190.03 224.82 L1190.78 225.53 L1191.52 226.25 L1192.27 226.97 L1193.01 227.70 L1193.76 228.42 L1194.51 229.15 L1195.25 229.88 L1196.00 230.61 L1196.75 231.34 L1197.49 232.08 L1198.24 232.81 L1198.99 233.55 L1199.73 234.29 L1200.48 235.02 L1201.22 235.76 L1201.97 236.50 L1202.72 237.24 L1203.46 237.98 L1204.21 238.72 L1204.95 239.46 L1205.70 240.20 L1206.45 240.93 L1207.19 241.67 L1207.94 242.41 L1208.69 243.14 L1209.43 243.88 L1210.18 244.61 L1210.92 245.34 L1211.67 246.07 L1212.42 246.80 L1213.16 247.53 L1213.91 248.26 L1214.66 248.98 L1215.40 249.70 L1216.15 250.42 L1216.89 251.13 L1217.64 251.85 L1218.39 252.56 L1219.13 253.26 L1219.88 253.97 L1220.63 254.67 L1221.37 255.36 L1222.12 256.05 L1222.87 256.74 L1223.61 257.43 L1224.36 258.11 L1225.10 258.78 L1225.85 259.45 L1226.60 260.12 L1227.34 260.78 L1228.09 261.43 L1228.84 262.09 L1229.58 262.73 L1230.33 263.37 L1231.07 264.00 L1231.82 264.63 L1232.57 265.25 L1233.31 265.87 L1234.06 266.47 L1234.81 267.08 L1235.55 267.67 L1236.30 268.26 L1237.04 268.84 L1237.79 269.41 L1238.54 269.98 L1239.28 270.54 L1240.03 271.09 L1240.78 271.63 L1241.52 272.16 L1242.27 272.69 L1243.01 273.21 L1243.76 273.71 L1244.51 274.21 L1245.25 274.70 L1246.00 275.19 L1246.74 275.66 L1247.49 276.12 L1248.24 276.57 L1248.98 277.02 L1249.73 277.45 L1250.48 277.87 L1251.22 278.29 L1251.97 278.69 L1252.71 279.08 L1253.46 279.46 L1254.21 279.83 L1254.95 280.19 L1255.70 280.54 L1256.45 280.88 L1257.19 281.21 L1257.94 281.52 L1258.68 281.82 L1259.43 282.12 L1260.18 282.40 L1260.92 282.66 L1261.67 282.92 L1262.42 283.16 L1263.16 283.39 L1263.91 283.61 L1264.65 283.82 L1265.40 284.01 L1266.15 284.19 L1266.89 284.36 L1267.64 284.52 L1268.39 284.66 L1269.13 284.79 L1269.88 284.90 L1270.62 285.01 L1271.37 285.10 L1272.12 285.17 L1272.86 285.23 L1273.61 285.28 L1274.36 285.32 L1275.10 285.34 L1275.85 285.35 L1276.60 285.34 L1277.34 285.32 L1278.09 285.29 L1278.83 285.24 L1279.58 285.18 L1280.33 285.11 L1281.07 285.02 L1281.82 284.91 L1282.57 284.80 L1283.31 284.67 L1284.06 284.52 L1284.80 284.36 L1285.55 284.19 L1286.30 284.00 L1287.04 283.80 L1287.79 283.59 L1288.54 283.36 L1289.28 283.11 L1290.03 282.86 L1290.77 282.58 L1291.52 282.30 L1292.27 282.00 L1293.01 281.69 L1293.76 281.36 L1294.51 281.02 L1295.25 280.66 L1296.00 280.30 L1296.74 279.91 L1297.49 279.52 L1298.24 279.11 L1298.98 278.69 L1299.73 278.25 L1300.47 277.80 L1301.22 277.34 L1301.97 276.86 L1302.71 276.38 L1303.46 275.87 L1304.21 275.36 L1304.95 274.83 L1305.70 274.29 L1306.45 273.74 L1307.19 273.17 L1307.94 272.60 L1308.68 272.00 L1309.43 271.40 L1310.18 270.79 L1310.92 270.16 L1311.67 269.52 L1312.41 268.87 L1313.16 268.21 L1313.91 267.54 L1314.65 266.85 L1315.40 266.15 L1316.15 265.45 L1316.89 264.73 L1317.64 264.00 L1318.38 263.26 L1319.13 262.51 L1319.88 261.74 L1320.62 260.97 L1321.37 260.19 L1322.12 259.40 L1322.86 258.59 L1323.61 257.78 L1324.36 256.96 L1325.10 256.13 L1325.85 255.29 L1326.59 254.44 L1327.34 253.58 L1328.09 252.71 L1328.83 251.83 L1329.58 250.95 L1330.33 250.05 L1331.07 249.15 L1331.82 248.24 L1332.56 247.32 L1333.31 246.39 L1334.06 245.46 L1334.80 244.51 L1335.55 243.56 L1336.30 242.61 L1337.04 241.64 L1337.79 240.67 L1338.53 239.69 L1339.28 238.71 L1340.03 237.72 L1340.77 236.72 L1341.52 235.72 L1342.26 234.71 L1343.01 233.69 L1343.76 232.67 L1344.50 231.64 L1345.25 230.61 L1346.00 229.58 L1346.74 228.53 L1347.49 227.48 L1348.24 226.43 L1348.98 225.38 L1349.73 224.31 L1350.47 223.25 L1351.22 222.18 L1351.97 221.10 L1352.71 220.03 L1353.46 218.95 L1354.20 217.86 L1354.95 216.77 L1355.70 215.68 L1356.44 214.58 L1357.19 213.49 L1357.94 212.39 L1358.68 211.28 L1359.43 210.18 L1360.17 209.07 L1360.92 207.96 L1361.67 206.85 L1362.41 205.73 L1363.16 204.61 L1363.91 203.50 L1364.65 202.38 L1365.40 201.26 L1366.14 200.13 L1366.89 199.01 L1367.64 197.89 L1368.38 196.76 L1369.13 195.64 L1369.88 194.51 L1370.62 193.38 L1371.37 192.26 L1372.12 191.13 L1372.86 190.00 L1373.61 188.88 L1374.35 187.75 L1375.10 186.62 L1375.85 185.50 L1376.59 184.37 L1377.34 183.25 L1378.09 182.12 L1378.83 181.00 L1379.58 179.88 L1380.32 178.76 L1381.07 177.64 L1381.82 176.52 L1382.56 175.41 L1383.31 174.29 L1384.06 173.18 L1384.80 172.07 L1385.55 170.96 L1386.29 169.86 L1387.04 168.76 L1387.79 167.65 L1388.53 166.56 L1389.28 165.46 L1390.03 164.37 L1390.77 163.28 L1391.52 162.19 L1392.26 161.11 L1393.01 160.03 L1393.76 158.95 L1394.50 157.88 L1395.25 156.80 L1395.99 155.74 L1396.74 154.68 L1397.49 153.62 L1398.23 152.56 L1398.98 151.51 L1399.73 150.46 L1400.47 149.42 L1401.22 148.38 L1401.96 147.35 L1402.71 146.32 L1403.46 145.29 L1404.20 144.27 L1404.95 143.26 L1405.70 142.25 L1406.44 141.24 L1407.19 140.24 L1407.93 139.25 L1408.68 138.26 L1409.43 137.27 L1410.17 136.29 L1410.92 135.32 L1411.67 134.35 L1412.41 133.39 L1413.16 132.43 L1413.90 131.48 L1414.65 130.54 L1415.40 129.60 L1416.14 128.67 L1416.89 127.74 L1417.64 126.82 L1418.38 125.91 L1419.13 125.00 L1419.88 124.10 L1420.62 123.20 L1421.37 122.32 L1422.11 121.44 L1422.86 120.56 L1423.61 119.69 L1424.35 118.83 L1425.10 117.98 L1425.85 117.13 L1426.59 116.29 L1427.34 115.46 L1428.08 114.64 L1428.83 113.82 L1429.58 113.01 L1430.32 112.21 L1431.07 111.41 L1431.82 110.63 L1432.56 109.85 L1433.31 109.07 L1434.05 108.31 L1434.80 107.55 L1435.55 106.80 L1436.29 106.06 L1437.04 105.33 L1437.78 104.61 L1438.53 103.89 L1439.28 103.18 L1440.02 102.48 L1440.77 101.79 L1441.52 101.11 L1442.26 100.43 L1443.01 99.76 L1443.76 99.11 L1444.50 98.46 L1445.25 97.81 L1445.99 97.18 L1446.74 96.56 L1447.49 95.94 L1448.23 95.34 L1448.98 94.74 L1449.72 94.15 L1450.47 93.57 L1451.22 93.00 L1451.96 92.44 L1452.71 91.88 L1453.46 91.34 L1454.20 90.81 L1454.95 90.28 L1455.70 89.76 L1456.44 89.26 L1457.19 88.76 L1457.93 88.27 L1458.68 87.79 L1459.43 87.32 L1460.17 86.86 L1460.92 86.41 L1461.66 85.97 L1462.41 85.53 L1463.16 85.11 L1463.90 84.70 L1464.65 84.29 L1465.40 83.90 L1466.14 83.52 L1466.89 83.14 L1467.63 82.78 L1468.38 82.42 L1469.13 82.07 L1469.87 81.74 L1470.62 81.41 L1471.37 81.10 L1472.11 80.79 L1472.86 80.49 L1473.61 80.21 L1474.35 79.93 L1475.10 79.66 L1475.84 79.40 L1476.59 79.16 L1477.34 78.92 L1478.08 78.69 L1478.83 78.47 L1479.57 78.27 L1480.32 78.07 L1481.07 77.88 L1481.81 77.71 L1482.56 77.54 L1483.31 77.38 L1484.05 77.23 L1484.80 77.10 L1485.55 76.97 L1486.29 76.85 L1487.04 76.75 L1487.78 76.65 L1488.53 76.57 L1489.28 76.49 L1490.02 76.42 L1490.77 76.37 L1491.51 76.32 L1492.26 76.29 L1493.01 76.26 L1493.75 76.25 L1494.50 76.24" stroke="#dc1510" stroke-width="3.00" stroke-dasharray="2.7 3.1"/><path d="M897.50 603.30 L898.25 600.51 L898.99 597.73 L899.74 594.94 L900.49 592.15 L901.23 589.37 L901.98 586.58 L902.72 583.80 L903.47 581.01 L904.22 578.23 L904.96 575.45 L905.71 572.67 L906.46 569.89 L907.20 567.10 L907.95 564.33 L908.69 561.55 L909.44 558.77 L910.19 556.00 L910.93 553.22 L911.68 550.45 L912.42 547.68 L913.17 544.91 L913.92 542.14 L914.66 539.37 L915.41 536.61 L916.16 533.85 L916.90 531.09 L917.65 528.33 L918.39 525.57 L919.14 522.82 L919.89 520.07 L920.63 517.32 L921.38 514.57 L922.13 511.82 L922.87 509.08 L923.62 506.34 L924.37 503.61 L925.11 500.87 L925.86 498.14 L926.60 495.42 L927.35 492.69 L928.10 489.97 L928.84 487.25 L929.59 484.54 L930.34 481.83 L931.08 479.12 L931.83 476.42 L932.57 473.72 L933.32 471.02 L934.07 468.33 L934.81 465.64 L935.56 462.96 L936.30 460.28 L937.05 457.60 L937.80 454.93 L938.54 452.26 L939.29 449.60 L940.04 446.94 L940.78 444.28 L941.53 441.63 L942.27 438.99 L943.02 436.35 L943.77 433.71 L944.51 431.08 L945.26 428.46 L946.01 425.84 L946.75 423.22 L947.50 420.61 L948.25 418.01 L948.99 415.41 L949.74 412.82 L950.48 410.23 L951.23 407.65 L951.98 405.07 L952.72 402.50 L953.47 399.93 L954.22 397.37 L954.96 394.82 L955.71 392.27 L956.45 389.73 L957.20 387.20 L957.95 384.67 L958.69 382.15 L959.44 379.64 L960.18 377.13 L960.93 374.63 L961.68 372.13 L962.42 369.64 L963.17 367.16 L963.92 364.69 L964.66 362.22 L965.41 359.76 L966.15 357.31 L966.90 354.87 L967.65 352.43 L968.39 350.00 L969.14 347.57 L969.89 345.16 L970.63 342.75 L971.38 340.35 L972.12 337.96 L972.87 335.58 L973.62 333.20 L974.36 330.83 L975.11 328.47 L975.86 326.12 L976.60 323.78 L977.35 321.45 L978.10 319.12 L978.84 316.80 L979.59 314.49 L980.33 312.20 L981.08 309.90 L981.83 307.62 L982.57 305.35 L983.32 303.08 L984.07 300.83 L984.81 298.58 L985.56 296.35 L986.30 294.12 L987.05 291.90 L987.80 289.69 L988.54 287.49 L989.29 285.31 L990.03 283.13 L990.78 280.96 L991.53 278.80 L992.27 276.65 L993.02 274.51 L993.77 272.38 L994.51 270.26 L995.26 268.15 L996.00 266.05 L996.75 263.96 L997.50 261.89 L998.24 259.82 L998.99 257.76 L999.74 255.72 L1000.48 253.68 L1001.23 251.66 L1001.98 249.64 L1002.72 247.64 L1003.47 245.65 L1004.21 243.67 L1004.96 241.70 L1005.71 239.75 L1006.45 237.80 L1007.20 235.87 L1007.94 233.94 L1008.69 232.03 L1009.44 230.13 L1010.18 228.25 L1010.93 226.37 L1011.68 224.51 L1012.42 222.65 L1013.17 220.82 L1013.91 218.99 L1014.66 217.17 L1015.41 215.37 L1016.15 213.58 L1016.90 211.80 L1017.65 210.04 L1018.39 208.28 L1019.14 206.54 L1019.88 204.82 L1020.63 203.10 L1021.38 201.40 L1022.12 199.71 L1022.87 198.04 L1023.62 196.37 L1024.36 194.73 L1025.11 193.09 L1025.86 191.47 L1026.60 189.86 L1027.35 188.26 L1028.09 186.68 L1028.84 185.11 L1029.59 183.56 L1030.33 182.02 L1031.08 180.49 L1031.83 178.98 L1032.57 177.48 L1033.32 175.99 L1034.06 174.52 L1034.81 173.07 L1035.56 171.62 L1036.30 170.20 L1037.05 168.78 L1037.80 167.38 L1038.54 166.00 L1039.29 164.63 L1040.03 163.27 L1040.78 161.93 L1041.53 160.61 L1042.27 159.30 L1043.02 158.00 L1043.76 156.72 L1044.51 155.46 L1045.26 154.21 L1046.00 152.97 L1046.75 151.75 L1047.50 150.55 L1048.24 149.36 L1048.99 148.19 L1049.74 147.03 L1050.48 145.89 L1051.23 144.76 L1051.97 143.65 L1052.72 142.56 L1053.47 141.48 L1054.21 140.42 L1054.96 139.37 L1055.70 138.34 L1056.45 137.33 L1057.20 136.33 L1057.94 135.35 L1058.69 134.38 L1059.44 133.43 L1060.18 132.50 L1060.93 131.59 L1061.67 130.69 L1062.42 129.81 L1063.17 128.94 L1063.91 128.09 L1064.66 127.26 L1065.41 126.45 L1066.15 125.65 L1066.90 124.87 L1067.64 124.11 L1068.39 123.36 L1069.14 122.63 L1069.88 121.92 L1070.63 121.23 L1071.38 120.55 L1072.12 119.89 L1072.87 119.25 L1073.62 118.62 L1074.36 118.02 L1075.11 117.43 L1075.85 116.86 L1076.60 116.30 L1077.35 115.77 L1078.09 115.25 L1078.84 114.75 L1079.59 114.27 L1080.33 113.81 L1081.08 113.36 L1081.82 112.94 L1082.57 112.53 L1083.32 112.14 L1084.06 111.77 L1084.81 111.41 L1085.56 111.08 L1086.30 110.76 L1087.05 110.46 L1087.79 110.18 L1088.54 109.92 L1089.29 109.68 L1090.03 109.46 L1090.78 109.25 L1091.53 109.07 L1092.27 108.90 L1093.02 108.75 L1093.76 108.62 L1094.51 108.51 L1095.26 108.42 L1096.00 108.35 L1096.75 108.30 L1097.49 108.26 L1098.24 108.25 L1098.99 108.25 L1099.73 108.28 L1100.48 108.32 L1101.23 108.38 L1101.97 108.47 L1102.72 108.57 L1103.46 108.69 L1104.21 108.83 L1104.96 108.99 L1105.70 109.16 L1106.45 109.36 L1107.20 109.58 L1107.94 109.82 L1108.69 110.07 L1109.43 110.35 L1110.18 110.65 L1110.93 110.96 L1111.67 111.30 L1112.42 111.65 L1113.17 112.02 L1113.91 112.42 L1114.66 112.83 L1115.40 113.26 L1116.15 113.72 L1116.90 114.19 L1117.64 114.68 L1118.39 115.19 L1119.14 115.72 L1119.88 116.27 L1120.63 116.84 L1121.38 117.43 L1122.12 118.04 L1122.87 118.67 L1123.61 119.32 L1124.36 119.99 L1125.11 120.68 L1125.85 121.39 L1126.60 122.11 L1127.35 122.86 L1128.09 123.62 L1128.84 124.41 L1129.58 125.21 L1130.33 126.04 L1131.08 126.88 L1131.82 127.74 L1132.57 128.62 L1133.32 129.52 L1134.06 130.44 L1134.81 131.38 L1135.55 132.34 L1136.30 133.31 L1137.05 134.31 L1137.79 135.32 L1138.54 136.36 L1139.29 137.41 L1140.03 138.47 L1140.78 139.56 L1141.52 140.67 L1142.27 141.79 L1143.02 142.93 L1143.76 144.09 L1144.51 145.27 L1145.26 146.47 L1146.00 147.68 L1146.75 148.91 L1147.49 150.16 L1148.24 151.42 L1148.99 152.71 L1149.73 154.00 L1150.48 155.32 L1151.22 156.65 L1151.97 158.00 L1152.72 159.36 L1153.46 160.74 L1154.21 162.14 L1154.96 163.55 L1155.70 164.98 L1156.45 166.42 L1157.19 167.88 L1157.94 169.35 L1158.69 170.83 L1159.43 172.33 L1160.18 173.85 L1160.93 175.37 L1161.67 176.92 L1162.42 178.47 L1163.16 180.03 L1163.91 181.61 L1164.66 183.20 L1165.40 184.80 L1166.15 186.42 L1166.90 188.04 L1167.64 189.68 L1168.39 191.32 L1169.13 192.97 L1169.88 194.64 L1170.63 196.31 L1171.37 197.99 L1172.12 199.68 L1172.87 201.37 L1173.61 203.07 L1174.36 204.78 L1175.11 206.50 L1175.85 208.22 L1176.60 209.94 L1177.34 211.67 L1178.09 213.40 L1178.84 215.13 L1179.58 216.86 L1180.33 218.60 L1181.08 220.34 L1181.82 222.07 L1182.57 223.81 L1183.31 225.54 L1184.06 227.27 L1184.81 229.00 L1185.55 230.72 L1186.30 232.44 L1187.05 234.15 L1187.79 235.86 L1188.54 237.55 L1189.28 239.24 L1190.03 240.92 L1190.78 242.58 L1191.52 244.23 L1192.27 245.87 L1193.01 247.50 L1193.76 249.11 L1194.51 250.70 L1195.25 252.27 L1196.00 253.82 L1196.75 255.36 L1197.49 256.87 L1198.24 258.35 L1198.99 259.81 L1199.73 261.24 L1200.48 262.65 L1201.22 264.02 L1201.97 265.37 L1202.72 266.68 L1203.46 267.95 L1204.21 269.19 L1204.95 270.39 L1205.70 271.56 L1206.45 272.68 L1207.19 273.75 L1207.94 274.78 L1208.69 275.77 L1209.43 276.71 L1210.18 277.59 L1210.92 278.42 L1211.67 279.20 L1212.42 279.93 L1213.16 280.59 L1213.91 281.20 L1214.66 281.74 L1215.40 282.22 L1216.15 282.64 L1216.89 282.98 L1217.64 283.26 L1218.39 283.47 L1219.13 283.60 L1219.88 283.66 L1220.63 283.65 L1221.37 283.56 L1222.12 283.38 L1222.87 283.13 L1223.61 282.79 L1224.36 282.37 L1225.10 281.86 L1225.85 281.27 L1226.60 280.59 L1227.34 279.82 L1228.09 278.96 L1228.84 278.00 L1229.58 276.96 L1230.33 275.82 L1231.07 274.58 L1231.82 273.25 L1232.57 271.82 L1233.31 270.30 L1234.06 268.68 L1234.81 266.96 L1235.55 265.14 L1236.30 263.22 L1237.04 261.21 L1237.79 259.09 L1238.54 256.88 L1239.28 254.56 L1240.03 252.15 L1240.78 249.64 L1241.52 247.02 L1242.27 244.31 L1243.01 241.50 L1243.76 238.59 L1244.51 235.59 L1245.25 232.48 L1246.00 229.28 L1246.74 225.98 L1247.49 222.58 L1248.24 219.09 L1248.98 215.50 L1249.73 211.82 L1250.48 208.05 L1251.22 204.18 L1251.97 200.22 L1252.71 196.17 L1253.46 192.02 L1254.21 187.79 L1254.95 183.47 L1255.70 179.06 L1256.45 174.56 L1257.19 169.97 L1257.94 165.30 L1258.68 160.54 L1259.43 155.70 L1260.18 150.77 L1260.92 145.76 L1261.67 140.67 L1262.42 135.50 L1263.16 130.24 L1263.91 124.91 L1264.65 119.49 L1265.40 114.00 L1266.15 108.43 L1266.89 102.78 L1267.64 97.06 L1268.39 91.26 L1269.13 85.39 L1269.88 79.44 L1270.62 73.42 L1271.37 67.32 L1272.12 61.16 L1272.86 54.92 L1273.61 48.61 L1274.36 42.23 L1275.10 35.78 L1275.85 29.26 L1276.60 22.67 L1277.34 16.01 L1278.09 9.29 L1278.83 2.50 L1279.58 -4.36 L1280.33 -11.29 L1281.07 -18.28 L1281.82 -25.33 L1282.57 -32.46 L1283.31 -39.64 L1284.06 -46.89" stroke="#6f1f94" stroke-width="3.00"/><path d="M897.50 603.30 L898.25 600.51 L898.99 597.73 L899.74 594.94 L900.49 592.15 L901.23 589.37 L901.98 586.58 L902.72 583.80 L903.47 581.02 L904.22 578.23 L904.96 575.45 L905.71 572.67 L906.46 569.89 L907.20 567.11 L907.95 564.33 L908.69 561.55 L909.44 558.78 L910.19 556.00 L910.93 553.23 L911.68 550.46 L912.42 547.69 L913.17 544.92 L913.92 542.16 L914.66 539.39 L915.41 536.63 L916.16 533.87 L916.90 531.12 L917.65 528.36 L918.39 525.61 L919.14 522.86 L919.89 520.11 L920.63 517.37 L921.38 514.63 L922.13 511.89 L922.87 509.15 L923.62 506.42 L924.37 503.69 L925.11 500.96 L925.86 498.24 L926.60 495.52 L927.35 492.81 L928.10 490.09 L928.84 487.38 L929.59 484.68 L930.34 481.98 L931.08 479.28 L931.83 476.59 L932.57 473.90 L933.32 471.21 L934.07 468.53 L934.81 465.86 L935.56 463.19 L936.30 460.52 L937.05 457.86 L937.80 455.20 L938.54 452.54 L939.29 449.90 L940.04 447.25 L940.78 444.62 L941.53 441.98 L942.27 439.36 L943.02 436.73 L943.77 434.12 L944.51 431.50 L945.26 428.90 L946.01 426.30 L946.75 423.70 L947.50 421.12 L948.25 418.53 L948.99 415.96 L949.74 413.39 L950.48 410.82 L951.23 408.26 L951.98 405.71 L952.72 403.17 L953.47 400.63 L954.22 398.09 L954.96 395.57 L955.71 393.05 L956.45 390.54 L957.20 388.03 L957.95 385.53 L958.69 383.04 L959.44 380.56 L960.18 378.08 L960.93 375.61 L961.68 373.15 L962.42 370.69 L963.17 368.25 L963.92 365.81 L964.66 363.38 L965.41 360.95 L966.15 358.53 L966.90 356.13 L967.65 353.73 L968.39 351.33 L969.14 348.95 L969.89 346.57 L970.63 344.20 L971.38 341.85 L972.12 339.49 L972.87 337.15 L973.62 334.82 L974.36 332.49 L975.11 330.18 L975.86 327.87 L976.60 325.57 L977.35 323.28 L978.10 321.00 L978.84 318.73 L979.59 316.46 L980.33 314.21 L981.08 311.97 L981.83 309.73 L982.57 307.51 L983.32 305.29 L984.07 303.09 L984.81 300.89 L985.56 298.70 L986.30 296.52 L987.05 294.36 L987.80 292.20 L988.54 290.05 L989.29 287.92 L990.03 285.79 L990.78 283.67 L991.53 281.57 L992.27 279.47 L993.02 277.38 L993.77 275.31 L994.51 273.24 L995.26 271.19 L996.00 269.15 L996.75 267.11 L997.50 265.09 L998.24 263.08 L998.99 261.08 L999.74 259.09 L1000.48 257.11 L1001.23 255.14 L1001.98 253.19 L1002.72 251.24 L1003.47 249.31 L1004.21 247.39 L1004.96 245.47 L1005.71 243.57 L1006.45 241.69 L1007.20 239.81 L1007.94 237.94 L1008.69 236.09 L1009.44 234.25 L1010.18 232.42 L1010.93 230.60 L1011.68 228.79 L1012.42 227.00 L1013.17 225.22 L1013.91 223.45 L1014.66 221.69 L1015.41 219.94 L1016.15 218.21 L1016.90 216.48 L1017.65 214.77 L1018.39 213.08 L1019.14 211.39 L1019.88 209.72 L1020.63 208.06 L1021.38 206.41 L1022.12 204.78 L1022.87 203.15 L1023.62 201.54 L1024.36 199.95 L1025.11 198.36 L1025.86 196.79 L1026.60 195.23 L1027.35 193.69 L1028.09 192.15 L1028.84 190.63 L1029.59 189.13 L1030.33 187.63 L1031.08 186.15 L1031.83 184.68 L1032.57 183.23 L1033.32 181.79 L1034.06 180.36 L1034.81 178.94 L1035.56 177.54 L1036.30 176.15 L1037.05 174.78 L1037.80 173.42 L1038.54 172.07 L1039.29 170.73 L1040.03 169.41 L1040.78 168.10 L1041.53 166.81 L1042.27 165.53 L1043.02 164.26 L1043.76 163.01 L1044.51 161.77 L1045.26 160.54 L1046.00 159.33 L1046.75 158.13 L1047.50 156.95 L1048.24 155.78 L1048.99 154.62 L1049.74 153.48 L1050.48 152.35 L1051.23 151.24 L1051.97 150.13 L1052.72 149.05 L1053.47 147.97 L1054.21 146.92 L1054.96 145.87 L1055.70 144.84 L1056.45 143.82 L1057.20 142.82 L1057.94 141.83 L1058.69 140.86 L1059.44 139.90 L1060.18 138.95 L1060.93 138.02 L1061.67 137.10 L1062.42 136.20 L1063.17 135.31 L1063.91 134.44 L1064.66 133.58 L1065.41 132.73 L1066.15 131.90 L1066.90 131.08 L1067.64 130.28 L1068.39 129.49 L1069.14 128.72 L1069.88 127.96 L1070.63 127.21 L1071.38 126.48 L1072.12 125.77 L1072.87 125.06 L1073.62 124.38 L1074.36 123.70 L1075.11 123.04 L1075.85 122.40 L1076.60 121.77 L1077.35 121.15 L1078.09 120.55 L1078.84 119.96 L1079.59 119.39 L1080.33 118.83 L1081.08 118.29 L1081.82 117.76 L1082.57 117.25 L1083.32 116.75 L1084.06 116.26 L1084.81 115.79 L1085.56 115.33 L1086.30 114.89 L1087.05 114.46 L1087.79 114.05 L1088.54 113.65 L1089.29 113.26 L1090.03 112.89 L1090.78 112.54 L1091.53 112.19 L1092.27 111.87 L1093.02 111.55 L1093.76 111.25 L1094.51 110.97 L1095.26 110.70 L1096.00 110.44 L1096.75 110.20 L1097.49 109.97 L1098.24 109.76 L1098.99 109.56 L1099.73 109.38 L1100.48 109.21 L1101.23 109.05 L1101.97 108.91 L1102.72 108.78 L1103.46 108.66 L1104.21 108.56 L1104.96 108.48 L1105.70 108.40 L1106.45 108.34 L1107.20 108.30 L1107.94 108.27 L1108.69 108.25 L1109.43 108.25 L1110.18 108.26 L1110.93 108.29 L1111.67 108.32 L1112.42 108.38 L1113.17 108.44 L1113.91 108.52 L1114.66 108.61 L1115.40 108.72 L1116.15 108.84 L1116.90 108.98 L1117.64 109.12 L1118.39 109.28 L1119.14 109.46 L1119.88 109.65 L1120.63 109.85 L1121.38 110.06 L1122.12 110.29 L1122.87 110.53 L1123.61 110.78 L1124.36 111.05 L1125.11 111.33 L1125.85 111.62 L1126.60 111.93 L1127.35 112.24 L1128.09 112.58 L1128.84 112.92 L1129.58 113.28 L1130.33 113.65 L1131.08 114.03 L1131.82 114.42 L1132.57 114.83 L1133.32 115.25 L1134.06 115.68 L1134.81 116.13 L1135.55 116.58 L1136.30 117.05 L1137.05 117.53 L1137.79 118.03 L1138.54 118.53 L1139.29 119.05 L1140.03 119.58 L1140.78 120.12 L1141.52 120.67 L1142.27 121.24 L1143.02 121.81 L1143.76 122.40 L1144.51 123.00 L1145.26 123.61 L1146.00 124.23 L1146.75 124.86 L1147.49 125.51 L1148.24 126.16 L1148.99 126.83 L1149.73 127.51 L1150.48 128.19 L1151.22 128.89 L1151.97 129.60 L1152.72 130.32 L1153.46 131.05 L1154.21 131.79 L1154.96 132.55 L1155.70 133.31 L1156.45 134.08 L1157.19 134.86 L1157.94 135.65 L1158.69 136.45 L1159.43 137.26 L1160.18 138.09 L1160.93 138.92 L1161.67 139.76 L1162.42 140.61 L1163.16 141.46 L1163.91 142.33 L1164.66 143.21 L1165.40 144.09 L1166.15 144.99 L1166.90 145.89 L1167.64 146.80 L1168.39 147.73 L1169.13 148.65 L1169.88 149.59 L1170.63 150.54 L1171.37 151.49 L1172.12 152.45 L1172.87 153.42 L1173.61 154.40 L1174.36 155.38 L1175.11 156.37 L1175.85 157.37 L1176.60 158.38 L1177.34 159.39 L1178.09 160.41 L1178.84 161.44 L1179.58 162.48 L1180.33 163.52 L1181.08 164.56 L1181.82 165.62 L1182.57 166.68 L1183.31 167.74 L1184.06 168.81 L1184.81 169.89 L1185.55 170.97 L1186.30 172.06 L1187.05 173.15 L1187.79 174.25 L1188.54 175.35 L1189.28 176.46 L1190.03 177.57 L1190.78 178.69 L1191.52 179.81 L1192.27 180.94 L1193.01 182.07 L1193.76 183.20 L1194.51 184.34 L1195.25 185.48 L1196.00 186.62 L1196.75 187.77 L1197.49 188.92 L1198.24 190.07 L1198.99 191.23 L1199.73 192.39 L1200.48 193.55 L1201.22 194.71 L1201.97 195.87 L1202.72 197.04 L1203.46 198.20 L1204.21 199.37 L1204.95 200.54 L1205.70 201.71 L1206.45 202.88 L1207.19 204.06 L1207.94 205.23 L1208.69 206.40 L1209.43 207.57 L1210.18 208.75 L1210.92 209.92 L1211.67 211.09 L1212.42 212.26 L1213.16 213.43 L1213.91 214.59 L1214.66 215.76 L1215.40 216.92 L1216.15 218.09 L1216.89 219.25 L1217.64 220.40 L1218.39 221.56 L1219.13 222.71 L1219.88 223.86 L1220.63 225.00 L1221.37 226.15 L1222.12 227.28 L1222.87 228.42 L1223.61 229.55 L1224.36 230.67 L1225.10 231.79 L1225.85 232.91 L1226.60 234.02 L1227.34 235.12 L1228.09 236.22 L1228.84 237.31 L1229.58 238.40 L1230.33 239.48 L1231.07 240.55 L1231.82 241.62 L1232.57 242.67 L1233.31 243.73 L1234.06 244.77 L1234.81 245.80 L1235.55 246.83 L1236.30 247.85 L1237.04 248.86 L1237.79 249.86 L1238.54 250.85 L1239.28 251.83 L1240.03 252.80 L1240.78 253.76 L1241.52 254.71 L1242.27 255.65 L1243.01 256.58 L1243.76 257.50 L1244.51 258.40 L1245.25 259.30 L1246.00 260.18 L1246.74 261.05 L1247.49 261.90 L1248.24 262.75 L1248.98 263.58 L1249.73 264.40 L1250.48 265.20 L1251.22 265.99 L1251.97 266.77 L1252.71 267.53 L1253.46 268.28 L1254.21 269.01 L1254.95 269.73 L1255.70 270.43 L1256.45 271.11 L1257.19 271.78 L1257.94 272.44 L1258.68 273.08 L1259.43 273.70 L1260.18 274.30 L1260.92 274.89 L1261.67 275.46 L1262.42 276.01 L1263.16 276.55 L1263.91 277.06 L1264.65 277.56 L1265.40 278.04 L1266.15 278.51 L1266.89 278.95 L1267.64 279.37 L1268.39 279.78 L1269.13 280.17 L1269.88 280.53 L1270.62 280.88 L1271.37 281.21 L1272.12 281.52 L1272.86 281.80 L1273.61 282.07 L1274.36 282.32 L1275.10 282.55 L1275.85 282.75 L1276.60 282.94 L1277.34 283.10 L1278.09 283.25 L1278.83 283.37 L1279.58 283.47 L1280.33 283.55 L1281.07 283.61 L1281.82 283.65 L1282.57 283.67 L1283.31 283.66 L1284.06 283.64 L1284.80 283.59 L1285.55 283.52 L1286.30 283.43 L1287.04 283.32 L1287.79 283.18 L1288.54 283.03 L1289.28 282.85 L1290.03 282.65 L1290.77 282.43 L1291.52 282.19 L1292.27 281.93 L1293.01 281.64 L1293.76 281.34 L1294.51 281.01 L1295.25 280.66 L1296.00 280.29 L1296.74 279.90 L1297.49 279.49 L1298.24 279.06 L1298.98 278.61 L1299.73 278.13 L1300.47 277.64 L1301.22 277.12 L1301.97 276.59 L1302.71 276.03 L1303.46 275.46 L1304.21 274.86 L1304.95 274.25 L1305.70 273.61 L1306.45 272.96 L1307.19 272.28 L1307.94 271.59 L1308.68 270.88 L1309.43 270.14 L1310.18 269.40 L1310.92 268.63 L1311.67 267.84 L1312.41 267.04 L1313.16 266.21 L1313.91 265.37 L1314.65 264.52 L1315.40 263.64 L1316.15 262.75 L1316.89 261.84 L1317.64 260.92 L1318.38 259.98 L1319.13 259.02 L1319.88 258.05 L1320.62 257.06 L1321.37 256.05 L1322.12 255.03 L1322.86 254.00 L1323.61 252.95 L1324.36 251.89 L1325.10 250.81 L1325.85 249.71 L1326.59 248.61 L1327.34 247.49 L1328.09 246.36 L1328.83 245.21 L1329.58 244.05 L1330.33 242.88 L1331.07 241.70 L1331.82 240.50 L1332.56 239.30 L1333.31 238.08 L1334.06 236.85 L1334.80 235.61 L1335.55 234.35 L1336.30 233.09 L1337.04 231.82 L1337.79 230.54 L1338.53 229.24 L1339.28 227.94 L1340.03 226.63 L1340.77 225.31 L1341.52 223.98 L1342.26 222.64 L1343.01 221.30 L1343.76 219.94 L1344.50 218.58 L1345.25 217.21 L1346.00 215.83 L1346.74 214.45 L1347.49 213.06 L1348.24 211.66 L1348.98 210.25 L1349.73 208.84 L1350.47 207.43 L1351.22 206.00 L1351.97 204.58 L1352.71 203.14 L1353.46 201.71 L1354.20 200.26 L1354.95 198.82 L1355.70 197.36 L1356.44 195.91 L1357.19 194.45 L1357.94 192.98 L1358.68 191.52 L1359.43 190.05 L1360.17 188.57 L1360.92 187.10 L1361.67 185.62 L1362.41 184.14 L1363.16 182.65 L1363.91 181.17 L1364.65 179.68 L1365.40 178.19 L1366.14 176.70 L1366.89 175.21 L1367.64 173.71 L1368.38 172.22 L1369.13 170.72 L1369.88 169.23 L1370.62 167.73 L1371.37 166.24 L1372.12 164.74 L1372.86 163.25 L1373.61 161.75 L1374.35 160.26 L1375.10 158.76 L1375.85 157.27 L1376.59 155.78 L1377.34 154.29 L1378.09 152.80 L1378.83 151.31 L1379.58 149.83 L1380.32 148.34 L1381.07 146.86 L1381.82 145.38 L1382.56 143.91 L1383.31 142.43 L1384.06 140.96 L1384.80 139.50 L1385.55 138.03 L1386.29 136.57 L1387.04 135.11 L1387.79 133.66 L1388.53 132.21 L1389.28 130.76 L1390.03 129.32 L1390.77 127.88 L1391.52 126.44 L1392.26 125.01 L1393.01 123.59 L1393.76 122.17 L1394.50 120.75 L1395.25 119.34 L1395.99 117.93 L1396.74 116.53 L1397.49 115.14 L1398.23 113.75 L1398.98 112.36 L1399.73 110.99 L1400.47 109.61 L1401.22 108.25 L1401.96 106.89 L1402.71 105.53 L1403.46 104.18 L1404.20 102.84 L1404.95 101.51 L1405.70 100.18 L1406.44 98.86 L1407.19 97.55 L1407.93 96.24 L1408.68 94.94 L1409.43 93.65 L1410.17 92.36 L1410.92 91.08 L1411.67 89.81 L1412.41 88.55 L1413.16 87.30 L1413.90 86.05 L1414.65 84.81 L1415.40 83.58 L1416.14 82.36 L1416.89 81.15 L1417.64 79.94 L1418.38 78.75 L1419.13 77.56 L1419.88 76.38 L1420.62 75.21 L1421.37 74.05 L1422.11 72.89 L1422.86 71.75 L1423.61 70.62 L1424.35 69.49 L1425.10 68.37 L1425.85 67.27 L1426.59 66.17 L1427.34 65.08 L1428.08 64.01 L1428.83 62.94 L1429.58 61.88 L1430.32 60.83 L1431.07 59.79 L1431.82 58.77 L1432.56 57.75 L1433.31 56.74 L1434.05 55.74 L1434.80 54.76 L1435.55 53.78 L1436.29 52.81 L1437.04 51.86 L1437.78 50.91 L1438.53 49.98 L1439.28 49.06 L1440.02 48.14 L1440.77 47.24 L1441.52 46.35 L1442.26 45.47 L1443.01 44.60 L1443.76 43.75 L1444.50 42.90 L1445.25 42.06 L1445.99 41.24 L1446.74 40.43 L1447.49 39.63 L1448.23 38.84 L1448.98 38.06 L1449.72 37.29 L1450.47 36.54 L1451.22 35.80 L1451.96 35.07 L1452.71 34.35 L1453.46 33.64 L1454.20 32.94 L1454.95 32.26 L1455.70 31.59 L1456.44 30.93 L1457.19 30.28 L1457.93 29.65 L1458.68 29.02 L1459.43 28.41 L1460.17 27.81 L1460.92 27.23 L1461.66 26.65 L1462.41 26.09 L1463.16 25.54 L1463.90 25.01 L1464.65 24.48 L1465.40 23.97 L1466.14 23.47 L1466.89 22.98 L1467.63 22.51 L1468.38 22.05 L1469.13 21.60 L1469.87 21.16 L1470.62 20.74 L1471.37 20.33 L1472.11 19.93 L1472.86 19.55 L1473.61 19.17 L1474.35 18.81 L1475.10 18.47 L1475.84 18.13 L1476.59 17.81 L1477.34 17.50 L1478.08 17.21 L1478.83 16.93 L1479.57 16.66 L1480.32 16.40 L1481.07 16.16 L1481.81 15.93 L1482.56 15.71 L1483.31 15.51 L1484.05 15.32 L1484.80 15.14 L1485.55 14.98 L1486.29 14.83 L1487.04 14.69 L1487.78 14.56 L1488.53 14.45 L1489.28 14.35 L1490.02 14.27 L1490.77 14.19 L1491.51 14.13 L1492.26 14.09 L1493.01 14.06 L1493.75 14.04 L1494.50 14.03" stroke="#6f1f94" stroke-width="3.00" stroke-dasharray="2.7 3.1"/></g>
<text x="78.50" y="612.90" text-anchor="end">0</text><text x="888.50" y="612.90" text-anchor="end">0</text><text x="78.50" y="501.09" text-anchor="end">0.3</text><text x="888.50" y="501.09" text-anchor="end">0.3</text><text x="78.50" y="389.29" text-anchor="end">0.6</text><text x="888.50" y="389.29" text-anchor="end">0.6</text><text x="78.50" y="277.48" text-anchor="end">0.9</text><text x="888.50" y="277.48" text-anchor="end">0.9</text><text x="78.50" y="165.67" text-anchor="end">1.2</text><text x="888.50" y="165.67" text-anchor="end">1.2</text><text x="78.50" y="53.87" text-anchor="end">1.5</text><text x="888.50" y="53.87" text-anchor="end">1.5</text><text x="87.50" y="638" text-anchor="middle">0</text><text x="279.92" y="638" text-anchor="middle">0.5</text><text x="472.34" y="638" text-anchor="middle">1</text><text x="664.76" y="638" text-anchor="middle">1.5</text><text x="897.50" y="638" text-anchor="middle">0</text><text x="1016.90" y="638" text-anchor="middle">0.2</text><text x="1136.30" y="638" text-anchor="middle">0.4</text><text x="1255.70" y="638" text-anchor="middle">0.6</text><text x="1375.10" y="638" text-anchor="middle">0.8</text><text x="1494.50" y="638" text-anchor="middle">1</text>
<text transform="translate(24.5,302) rotate(-90)" text-anchor="middle">Normalized frequency <tspan class="it">ω</tspan>/<tspan class="it">ω</tspan><tspan class="sub" dy="6">0</tspan></text><text transform="translate(833.5,302) rotate(-90)" text-anchor="middle">Normalized frequency <tspan class="it">ω</tspan>/<tspan class="it">ω</tspan><tspan class="sub" dy="6">0</tspan></text><text x="365.6" y="669"><tspan class="it">K</tspan><tspan class="sub" dy="6.3">3</tspan><tspan dy="-6.3" dx="2">/</tspan><tspan class="it" dx="3.5">K</tspan><tspan class="sub" dy="6.3" dx="0.5">1</tspan></text><text x="1196" y="669.5" text-anchor="middle">Wavenumber <tspan class="it">k</tspan> (<tspan class="it">π</tspan>/<tspan class="it">a</tspan>)</text><text x="-1" y="27" style="font-size:35px;fill:#000">(<tspan font-weight="bold">a</tspan>)</text><text x="815" y="27" style="font-size:35px;fill:#000">(<tspan font-weight="bold">b</tspan>)</text><text y="49.6" style="font-family:'Liberation Serif',serif;font-size:28.5px;fill:#111;stroke:#111;stroke-width:0.35px"><tspan x="339.6" font-style="italic">L</tspan><tspan x="355.2" dy="5.2" style="font-size:36px">/</tspan><tspan x="368.8" dy="-5.2" font-style="italic">a</tspan><tspan x="392.6" dy="3.6" style="font-size:34px">=</tspan><tspan x="420.8" dy="-3.6">9</tspan></text><text x="172" y="368">FP</text><text x="172" y="469.4">FP</text><text x="428.2" y="311.4" style="font-size:27.5px">BIC</text><path d="M420.3 287.7 L406 272.5" stroke="#f00" stroke-width="1.5" fill="none"/><path d="M395.9 261.5 L415.1 268.5 L401.3 281 Z" fill="#f00"/><text x="1250" y="425">continuum</text><text x="1383" y="425">discrete</text><text x="1266" y="457.5" text-anchor="end">surrounding</text><line x1="1271.5" y1="447.5" x2="1350.3" y2="447.5" stroke="#000000" stroke-width="3.1" stroke-linecap="round"/><line x1="1386.4" y1="447.5" x2="1464.6" y2="447.5" stroke="#000000" stroke-width="3.1" stroke-linecap="round" stroke-dasharray="0 5.99"/><line x1="1271.5" y1="484.6" x2="1350.3" y2="484.6" stroke="#d9401c" stroke-width="2.7" stroke-linecap="round"/><line x1="1386.4" y1="484.6" x2="1464.6" y2="484.6" stroke="#d9401c" stroke-width="2.5" stroke-linecap="round" stroke-dasharray="0 5.99"/><text x="1267" y="496.6" text-anchor="end"><tspan class="it">K</tspan><tspan class="sub" dy="6.3">3</tspan><tspan dy="-6.3">/</tspan><tspan class="it">K</tspan><tspan class="sub" dy="6.3">1</tspan><tspan dy="-6.3"> = 0.5</tspan></text><line x1="1271.5" y1="519.4" x2="1350.3" y2="519.4" stroke="#edb53c" stroke-width="2.7" stroke-linecap="round"/><line x1="1386.4" y1="519.4" x2="1464.6" y2="519.4" stroke="#edb53c" stroke-width="2.5" stroke-linecap="round" stroke-dasharray="0 5.99"/><text x="1267" y="528.4" text-anchor="end"><tspan class="it">K</tspan><tspan class="sub" dy="6.3">3</tspan><tspan dy="-6.3">/</tspan><tspan class="it">K</tspan><tspan class="sub" dy="6.3">1</tspan><tspan dy="-6.3"> = 1.0</tspan></text><line x1="1271.5" y1="549.8" x2="1350.3" y2="549.8" stroke="#7a2c9c" stroke-width="2.7" stroke-linecap="round"/><line x1="1386.4" y1="549.8" x2="1464.6" y2="549.8" stroke="#7a2c9c" stroke-width="2.5" stroke-linecap="round" stroke-dasharray="0 5.99"/><text x="1267" y="562.2" text-anchor="end"><tspan class="it">K</tspan><tspan class="sub" dy="6.3">3</tspan><tspan dy="-6.3">/</tspan><tspan class="it">K</tspan><tspan class="sub" dy="6.3">1</tspan><tspan dy="-6.3"> = 1.5</tspan></text></svg></body></html>
